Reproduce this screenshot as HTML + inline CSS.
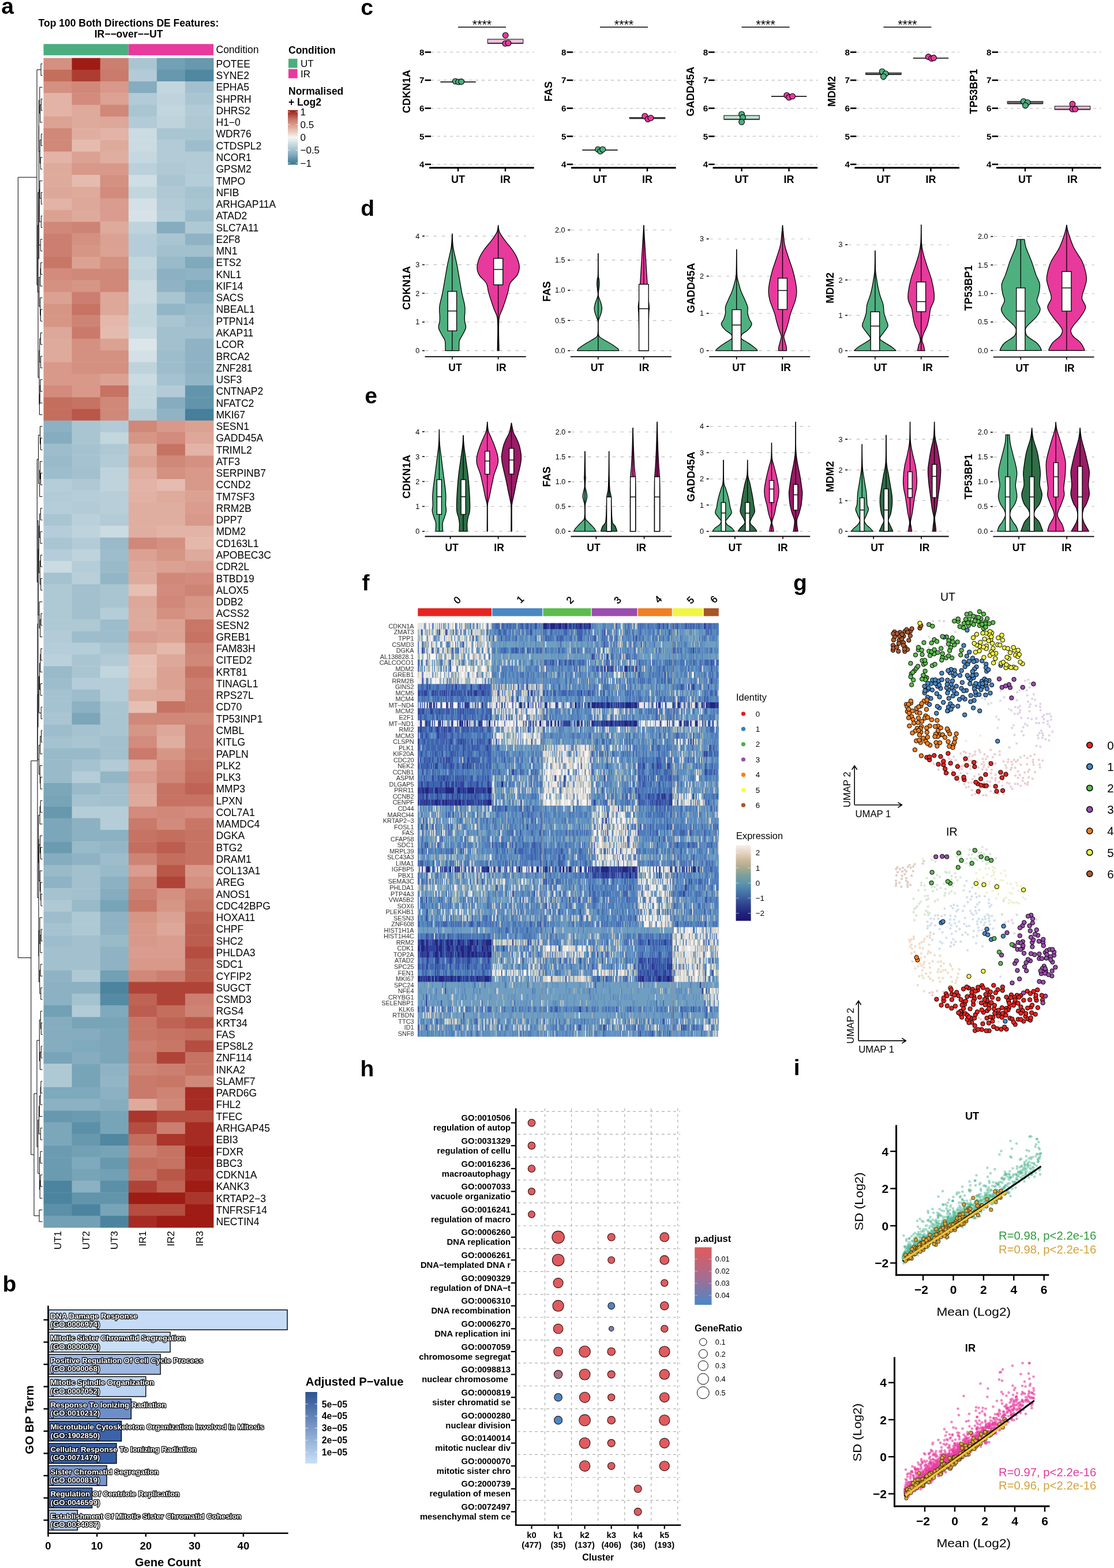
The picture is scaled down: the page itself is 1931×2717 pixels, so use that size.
<!DOCTYPE html>
<html><head><meta charset="utf-8"><title>Figure</title>
<style>
html,body{margin:0;padding:0;background:#fff;}
body{width:1931px;height:2717px;overflow:hidden;}
svg{display:block;font-family:"Liberation Sans", Arial, Helvetica, sans-serif;}
</style></head><body>
<svg width="1931" height="2717" viewBox="0 0 1931 2717">
<rect width="1931" height="2717" fill="#fff"/>
<text x="2.2" y="24.2" font-size="39" font-weight="bold">a</text>
<text x="223" y="46" font-size="17.5" font-weight="bold" text-anchor="middle">Top 100 Both Directions DE Features:</text>
<text x="223" y="65" font-size="17.5" font-weight="bold" text-anchor="middle">IR&#8722;&#8722;over&#8722;&#8722;UT</text>
<rect x="75.5" y="76.3" width="147.2" height="19.5" fill="#4aae7e"/>
<rect x="222.8" y="76.3" width="147.2" height="19.5" fill="#e8399c"/>
<text x="374.5" y="92" font-size="17.5">Condition</text>
<g class="ha" transform="translate(75.5 0)"><rect y="100.5" width="49.5" height="20.7" fill="#d49081"/><rect y="120.8" width="49.5" height="20.7" fill="#c46e5e"/><rect y="141" width="49.5" height="20.7" fill="#d49081"/><rect y="161.3" width="49.5" height="20.7" fill="#e2b3a6"/><rect y="181.6" width="49.5" height="20.7" fill="#e2b3a6"/><rect y="201.8" width="49.5" height="20.7" fill="#dba293"/><rect y="222.1" width="49.5" height="20.7" fill="#d08878"/><rect y="242.4" width="49.5" height="20.7" fill="#d08878"/><rect y="262.6" width="49.5" height="20.7" fill="#e2b3a6"/><rect y="282.9" width="49.5" height="20.7" fill="#deaa9c"/><rect y="303.1" width="49.5" height="20.7" fill="#deaa9c"/><rect y="323.4" width="49.5" height="20.7" fill="#dda799"/><rect y="343.7" width="49.5" height="20.7" fill="#e2b3a6"/><rect y="363.9" width="49.5" height="20.7" fill="#dba293"/><rect y="384.2" width="49.5" height="20.7" fill="#d08878"/><rect y="404.5" width="49.5" height="20.7" fill="#cc7f70"/><rect y="424.7" width="49.5" height="20.7" fill="#cc7f70"/><rect y="445" width="49.5" height="20.7" fill="#c87767"/><rect y="465.3" width="49.5" height="20.7" fill="#d28b7c"/><rect y="485.5" width="49.5" height="20.7" fill="#d49081"/><rect y="505.8" width="49.5" height="20.7" fill="#dba293"/><rect y="526.1" width="49.5" height="20.7" fill="#d69686"/><rect y="546.3" width="49.5" height="20.7" fill="#d69686"/><rect y="566.6" width="49.5" height="20.7" fill="#dda799"/><rect y="586.9" width="49.5" height="20.7" fill="#deaa9c"/><rect y="607.1" width="49.5" height="20.7" fill="#deaa9c"/><rect y="627.4" width="49.5" height="20.7" fill="#d8998a"/><rect y="647.7" width="49.5" height="20.7" fill="#d8998a"/><rect y="667.9" width="49.5" height="20.7" fill="#d28b7c"/><rect y="688.2" width="49.5" height="20.7" fill="#c46e5e"/><rect y="708.5" width="49.5" height="20.7" fill="#c46e5e"/><rect y="728.7" width="49.5" height="20.7" fill="#8bb1c2"/><rect y="749" width="49.5" height="20.7" fill="#85adbf"/><rect y="769.2" width="49.5" height="20.7" fill="#9ebdcc"/><rect y="789.5" width="49.5" height="20.7" fill="#98bac9"/><rect y="809.8" width="49.5" height="20.7" fill="#9ebdcc"/><rect y="830" width="49.5" height="20.7" fill="#b5cdd8"/><rect y="850.3" width="49.5" height="20.7" fill="#b2cbd6"/><rect y="870.6" width="49.5" height="20.7" fill="#b5cdd8"/><rect y="890.8" width="49.5" height="20.7" fill="#aac5d2"/><rect y="911.1" width="49.5" height="20.7" fill="#b5cdd8"/><rect y="931.4" width="49.5" height="20.7" fill="#aac5d2"/><rect y="951.6" width="49.5" height="20.7" fill="#b5cdd8"/><rect y="971.9" width="49.5" height="20.7" fill="#cadbe2"/><rect y="992.2" width="49.5" height="20.7" fill="#a5c2d0"/><rect y="1012.4" width="49.5" height="20.7" fill="#afc9d4"/><rect y="1032.7" width="49.5" height="20.7" fill="#afc9d4"/><rect y="1053" width="49.5" height="20.7" fill="#afc9d4"/><rect y="1073.2" width="49.5" height="20.7" fill="#afc9d4"/><rect y="1093.5" width="49.5" height="20.7" fill="#b2cbd6"/><rect y="1113.8" width="49.5" height="20.7" fill="#b5cdd8"/><rect y="1134" width="49.5" height="20.7" fill="#bad0da"/><rect y="1154.3" width="49.5" height="20.7" fill="#98bac9"/><rect y="1174.5" width="49.5" height="20.7" fill="#9ebdcc"/><rect y="1194.8" width="49.5" height="20.7" fill="#a5c2d0"/><rect y="1215.1" width="49.5" height="20.7" fill="#a5c2d0"/><rect y="1235.3" width="49.5" height="20.7" fill="#aac5d2"/><rect y="1255.6" width="49.5" height="20.7" fill="#9ebdcc"/><rect y="1275.9" width="49.5" height="20.7" fill="#a5c2d0"/><rect y="1296.1" width="49.5" height="20.7" fill="#98bac9"/><rect y="1316.4" width="49.5" height="20.7" fill="#98bac9"/><rect y="1336.7" width="49.5" height="20.7" fill="#98bac9"/><rect y="1356.9" width="49.5" height="20.7" fill="#7ca6ba"/><rect y="1377.2" width="49.5" height="20.7" fill="#78a4b8"/><rect y="1397.5" width="49.5" height="20.7" fill="#6798ae"/><rect y="1417.7" width="49.5" height="20.7" fill="#7ca6ba"/><rect y="1438" width="49.5" height="20.7" fill="#7ca6ba"/><rect y="1458.3" width="49.5" height="20.7" fill="#6b9bb1"/><rect y="1478.5" width="49.5" height="20.7" fill="#85adbf"/><rect y="1498.8" width="49.5" height="20.7" fill="#98bac9"/><rect y="1519" width="49.5" height="20.7" fill="#8fb3c4"/><rect y="1539.3" width="49.5" height="20.7" fill="#a5c2d0"/><rect y="1559.6" width="49.5" height="20.7" fill="#afc9d4"/><rect y="1579.8" width="49.5" height="20.7" fill="#9ebdcc"/><rect y="1600.1" width="49.5" height="20.7" fill="#a5c2d0"/><rect y="1620.4" width="49.5" height="20.7" fill="#9ebdcc"/><rect y="1640.6" width="49.5" height="20.7" fill="#a2c0ce"/><rect y="1660.9" width="49.5" height="20.7" fill="#a2c0ce"/><rect y="1681.2" width="49.5" height="20.7" fill="#8fb3c4"/><rect y="1701.4" width="49.5" height="20.7" fill="#8bb1c2"/><rect y="1721.7" width="49.5" height="20.7" fill="#8bb1c2"/><rect y="1742" width="49.5" height="20.7" fill="#72a0b5"/><rect y="1762.2" width="49.5" height="20.7" fill="#85adbf"/><rect y="1782.5" width="49.5" height="20.7" fill="#85adbf"/><rect y="1802.8" width="49.5" height="20.7" fill="#85adbf"/><rect y="1823" width="49.5" height="20.7" fill="#78a4b8"/><rect y="1843.3" width="49.5" height="20.7" fill="#afc9d4"/><rect y="1863.6" width="49.5" height="20.7" fill="#afc9d4"/><rect y="1883.8" width="49.5" height="20.7" fill="#7fa9bc"/><rect y="1904.1" width="49.5" height="20.7" fill="#8bb1c2"/><rect y="1924.4" width="49.5" height="20.7" fill="#6798ae"/><rect y="1944.6" width="49.5" height="20.7" fill="#7ca6ba"/><rect y="1964.9" width="49.5" height="20.7" fill="#7ca6ba"/><rect y="1985.1" width="49.5" height="20.7" fill="#6b9bb1"/><rect y="2005.4" width="49.5" height="20.7" fill="#6b9bb1"/><rect y="2025.7" width="49.5" height="20.7" fill="#6b9bb1"/><rect y="2045.9" width="49.5" height="20.7" fill="#4c849f"/><rect y="2066.2" width="49.5" height="20.7" fill="#4c849f"/><rect y="2086.5" width="49.5" height="20.7" fill="#5c90a8"/><rect y="2106.7" width="49.5" height="20.7" fill="#72a0b5"/></g>
<g class="ha" transform="translate(124.6 0)"><rect y="100.5" width="49.5" height="20.7" fill="#9e1c14"/><rect y="120.8" width="49.5" height="20.7" fill="#ad3d32"/><rect y="141" width="49.5" height="20.7" fill="#d08878"/><rect y="161.3" width="49.5" height="20.7" fill="#d28b7c"/><rect y="181.6" width="49.5" height="20.7" fill="#deaa9c"/><rect y="201.8" width="49.5" height="20.7" fill="#deaa9c"/><rect y="222.1" width="49.5" height="20.7" fill="#e0aea0"/><rect y="242.4" width="49.5" height="20.7" fill="#e5bbaf"/><rect y="262.6" width="49.5" height="20.7" fill="#dba293"/><rect y="282.9" width="49.5" height="20.7" fill="#d8998a"/><rect y="303.1" width="49.5" height="20.7" fill="#e5bbaf"/><rect y="323.4" width="49.5" height="20.7" fill="#deaa9c"/><rect y="343.7" width="49.5" height="20.7" fill="#dda799"/><rect y="363.9" width="49.5" height="20.7" fill="#deaa9c"/><rect y="384.2" width="49.5" height="20.7" fill="#ce8475"/><rect y="404.5" width="49.5" height="20.7" fill="#d49081"/><rect y="424.7" width="49.5" height="20.7" fill="#d69686"/><rect y="445" width="49.5" height="20.7" fill="#dba293"/><rect y="465.3" width="49.5" height="20.7" fill="#d08878"/><rect y="485.5" width="49.5" height="20.7" fill="#d69686"/><rect y="505.8" width="49.5" height="20.7" fill="#cc7f70"/><rect y="526.1" width="49.5" height="20.7" fill="#c67363"/><rect y="546.3" width="49.5" height="20.7" fill="#ce8475"/><rect y="566.6" width="49.5" height="20.7" fill="#ca7a6a"/><rect y="586.9" width="49.5" height="20.7" fill="#d49081"/><rect y="607.1" width="49.5" height="20.7" fill="#d49081"/><rect y="627.4" width="49.5" height="20.7" fill="#d49081"/><rect y="647.7" width="49.5" height="20.7" fill="#d8998a"/><rect y="667.9" width="49.5" height="20.7" fill="#d8998a"/><rect y="688.2" width="49.5" height="20.7" fill="#c67363"/><rect y="708.5" width="49.5" height="20.7" fill="#b95749"/><rect y="728.7" width="49.5" height="20.7" fill="#aac5d2"/><rect y="749" width="49.5" height="20.7" fill="#aac5d2"/><rect y="769.2" width="49.5" height="20.7" fill="#a5c2d0"/><rect y="789.5" width="49.5" height="20.7" fill="#a5c2d0"/><rect y="809.8" width="49.5" height="20.7" fill="#a2c0ce"/><rect y="830" width="49.5" height="20.7" fill="#afc9d4"/><rect y="850.3" width="49.5" height="20.7" fill="#b5cdd8"/><rect y="870.6" width="49.5" height="20.7" fill="#b2cbd6"/><rect y="890.8" width="49.5" height="20.7" fill="#bad0da"/><rect y="911.1" width="49.5" height="20.7" fill="#bfd3dc"/><rect y="931.4" width="49.5" height="20.7" fill="#b2cbd6"/><rect y="951.6" width="49.5" height="20.7" fill="#bfd3dc"/><rect y="971.9" width="49.5" height="20.7" fill="#b5cdd8"/><rect y="992.2" width="49.5" height="20.7" fill="#b8cfd9"/><rect y="1012.4" width="49.5" height="20.7" fill="#a2c0ce"/><rect y="1032.7" width="49.5" height="20.7" fill="#a2c0ce"/><rect y="1053" width="49.5" height="20.7" fill="#a2c0ce"/><rect y="1073.2" width="49.5" height="20.7" fill="#afc9d4"/><rect y="1093.5" width="49.5" height="20.7" fill="#9ebdcc"/><rect y="1113.8" width="49.5" height="20.7" fill="#b5cdd8"/><rect y="1134" width="49.5" height="20.7" fill="#aac5d2"/><rect y="1154.3" width="49.5" height="20.7" fill="#aac5d2"/><rect y="1174.5" width="49.5" height="20.7" fill="#b5cdd8"/><rect y="1194.8" width="49.5" height="20.7" fill="#9ebdcc"/><rect y="1215.1" width="49.5" height="20.7" fill="#8bb1c2"/><rect y="1235.3" width="49.5" height="20.7" fill="#7ca6ba"/><rect y="1255.6" width="49.5" height="20.7" fill="#a5c2d0"/><rect y="1275.9" width="49.5" height="20.7" fill="#aac5d2"/><rect y="1296.1" width="49.5" height="20.7" fill="#98bac9"/><rect y="1316.4" width="49.5" height="20.7" fill="#a5c2d0"/><rect y="1336.7" width="49.5" height="20.7" fill="#b5cdd8"/><rect y="1356.9" width="49.5" height="20.7" fill="#98bac9"/><rect y="1377.2" width="49.5" height="20.7" fill="#a5c2d0"/><rect y="1397.5" width="49.5" height="20.7" fill="#b5cdd8"/><rect y="1417.7" width="49.5" height="20.7" fill="#8bb1c2"/><rect y="1438" width="49.5" height="20.7" fill="#8bb1c2"/><rect y="1458.3" width="49.5" height="20.7" fill="#98bac9"/><rect y="1478.5" width="49.5" height="20.7" fill="#8fb3c4"/><rect y="1498.8" width="49.5" height="20.7" fill="#a2c0ce"/><rect y="1519" width="49.5" height="20.7" fill="#a2c0ce"/><rect y="1539.3" width="49.5" height="20.7" fill="#a2c0ce"/><rect y="1559.6" width="49.5" height="20.7" fill="#98bac9"/><rect y="1579.8" width="49.5" height="20.7" fill="#afc9d4"/><rect y="1600.1" width="49.5" height="20.7" fill="#afc9d4"/><rect y="1620.4" width="49.5" height="20.7" fill="#a2c0ce"/><rect y="1640.6" width="49.5" height="20.7" fill="#a2c0ce"/><rect y="1660.9" width="49.5" height="20.7" fill="#a2c0ce"/><rect y="1681.2" width="49.5" height="20.7" fill="#afc9d4"/><rect y="1701.4" width="49.5" height="20.7" fill="#8bb1c2"/><rect y="1721.7" width="49.5" height="20.7" fill="#a5c2d0"/><rect y="1742" width="49.5" height="20.7" fill="#b2cbd6"/><rect y="1762.2" width="49.5" height="20.7" fill="#78a4b8"/><rect y="1782.5" width="49.5" height="20.7" fill="#85adbf"/><rect y="1802.8" width="49.5" height="20.7" fill="#7fa9bc"/><rect y="1823" width="49.5" height="20.7" fill="#85adbf"/><rect y="1843.3" width="49.5" height="20.7" fill="#78a4b8"/><rect y="1863.6" width="49.5" height="20.7" fill="#78a4b8"/><rect y="1883.8" width="49.5" height="20.7" fill="#7fa9bc"/><rect y="1904.1" width="49.5" height="20.7" fill="#8bb1c2"/><rect y="1924.4" width="49.5" height="20.7" fill="#6b9bb1"/><rect y="1944.6" width="49.5" height="20.7" fill="#5c90a8"/><rect y="1964.9" width="49.5" height="20.7" fill="#6798ae"/><rect y="1985.1" width="49.5" height="20.7" fill="#72a0b5"/><rect y="2005.4" width="49.5" height="20.7" fill="#7fa9bc"/><rect y="2025.7" width="49.5" height="20.7" fill="#78a4b8"/><rect y="2045.9" width="49.5" height="20.7" fill="#8bb1c2"/><rect y="2066.2" width="49.5" height="20.7" fill="#6295ac"/><rect y="2086.5" width="49.5" height="20.7" fill="#4c849f"/><rect y="2106.7" width="49.5" height="20.7" fill="#72a0b5"/></g>
<g class="ha" transform="translate(173.7 0)"><rect y="100.5" width="49.5" height="20.7" fill="#cc7f70"/><rect y="120.8" width="49.5" height="20.7" fill="#ca7a6a"/><rect y="141" width="49.5" height="20.7" fill="#d8998a"/><rect y="161.3" width="49.5" height="20.7" fill="#dba293"/><rect y="181.6" width="49.5" height="20.7" fill="#d08878"/><rect y="201.8" width="49.5" height="20.7" fill="#dda799"/><rect y="222.1" width="49.5" height="20.7" fill="#e2b3a6"/><rect y="242.4" width="49.5" height="20.7" fill="#deaa9c"/><rect y="262.6" width="49.5" height="20.7" fill="#e0aea0"/><rect y="282.9" width="49.5" height="20.7" fill="#d8998a"/><rect y="303.1" width="49.5" height="20.7" fill="#d49081"/><rect y="323.4" width="49.5" height="20.7" fill="#d28b7c"/><rect y="343.7" width="49.5" height="20.7" fill="#d99c8e"/><rect y="363.9" width="49.5" height="20.7" fill="#d99c8e"/><rect y="384.2" width="49.5" height="20.7" fill="#deaa9c"/><rect y="404.5" width="49.5" height="20.7" fill="#dba293"/><rect y="424.7" width="49.5" height="20.7" fill="#dba293"/><rect y="445" width="49.5" height="20.7" fill="#d49081"/><rect y="465.3" width="49.5" height="20.7" fill="#d08878"/><rect y="485.5" width="49.5" height="20.7" fill="#d08878"/><rect y="505.8" width="49.5" height="20.7" fill="#dda799"/><rect y="526.1" width="49.5" height="20.7" fill="#dda799"/><rect y="546.3" width="49.5" height="20.7" fill="#e4b8ab"/><rect y="566.6" width="49.5" height="20.7" fill="#e5bbaf"/><rect y="586.9" width="49.5" height="20.7" fill="#dba293"/><rect y="607.1" width="49.5" height="20.7" fill="#d49081"/><rect y="627.4" width="49.5" height="20.7" fill="#d49081"/><rect y="647.7" width="49.5" height="20.7" fill="#dba293"/><rect y="667.9" width="49.5" height="20.7" fill="#c67363"/><rect y="688.2" width="49.5" height="20.7" fill="#d08878"/><rect y="708.5" width="49.5" height="20.7" fill="#d08878"/><rect y="728.7" width="49.5" height="20.7" fill="#b2cbd6"/><rect y="749" width="49.5" height="20.7" fill="#c2d6de"/><rect y="769.2" width="49.5" height="20.7" fill="#afc9d4"/><rect y="789.5" width="49.5" height="20.7" fill="#b2cbd6"/><rect y="809.8" width="49.5" height="20.7" fill="#bfd3dc"/><rect y="830" width="49.5" height="20.7" fill="#bfd3dc"/><rect y="850.3" width="49.5" height="20.7" fill="#b8cfd9"/><rect y="870.6" width="49.5" height="20.7" fill="#b8cfd9"/><rect y="890.8" width="49.5" height="20.7" fill="#b2cbd6"/><rect y="911.1" width="49.5" height="20.7" fill="#cadbe2"/><rect y="931.4" width="49.5" height="20.7" fill="#98bac9"/><rect y="951.6" width="49.5" height="20.7" fill="#9ebdcc"/><rect y="971.9" width="49.5" height="20.7" fill="#98bac9"/><rect y="992.2" width="49.5" height="20.7" fill="#93b6c6"/><rect y="1012.4" width="49.5" height="20.7" fill="#aac5d2"/><rect y="1032.7" width="49.5" height="20.7" fill="#aac5d2"/><rect y="1053" width="49.5" height="20.7" fill="#b5cdd8"/><rect y="1073.2" width="49.5" height="20.7" fill="#9ebdcc"/><rect y="1093.5" width="49.5" height="20.7" fill="#9ebdcc"/><rect y="1113.8" width="49.5" height="20.7" fill="#aac5d2"/><rect y="1134" width="49.5" height="20.7" fill="#b2cbd6"/><rect y="1154.3" width="49.5" height="20.7" fill="#c2d6de"/><rect y="1174.5" width="49.5" height="20.7" fill="#b5cdd8"/><rect y="1194.8" width="49.5" height="20.7" fill="#b5cdd8"/><rect y="1215.1" width="49.5" height="20.7" fill="#aac5d2"/><rect y="1235.3" width="49.5" height="20.7" fill="#aac5d2"/><rect y="1255.6" width="49.5" height="20.7" fill="#aac5d2"/><rect y="1275.9" width="49.5" height="20.7" fill="#a2c0ce"/><rect y="1296.1" width="49.5" height="20.7" fill="#a2c0ce"/><rect y="1316.4" width="49.5" height="20.7" fill="#b2cbd6"/><rect y="1336.7" width="49.5" height="20.7" fill="#93b6c6"/><rect y="1356.9" width="49.5" height="20.7" fill="#a2c0ce"/><rect y="1377.2" width="49.5" height="20.7" fill="#a2c0ce"/><rect y="1397.5" width="49.5" height="20.7" fill="#b5cdd8"/><rect y="1417.7" width="49.5" height="20.7" fill="#b5cdd8"/><rect y="1438" width="49.5" height="20.7" fill="#8bb1c2"/><rect y="1458.3" width="49.5" height="20.7" fill="#93b6c6"/><rect y="1478.5" width="49.5" height="20.7" fill="#9ebdcc"/><rect y="1498.8" width="49.5" height="20.7" fill="#98bac9"/><rect y="1519" width="49.5" height="20.7" fill="#8bb1c2"/><rect y="1539.3" width="49.5" height="20.7" fill="#85adbf"/><rect y="1559.6" width="49.5" height="20.7" fill="#78a4b8"/><rect y="1579.8" width="49.5" height="20.7" fill="#8fb3c4"/><rect y="1600.1" width="49.5" height="20.7" fill="#8fb3c4"/><rect y="1620.4" width="49.5" height="20.7" fill="#98bac9"/><rect y="1640.6" width="49.5" height="20.7" fill="#8fb3c4"/><rect y="1660.9" width="49.5" height="20.7" fill="#8fb3c4"/><rect y="1681.2" width="49.5" height="20.7" fill="#72a0b5"/><rect y="1701.4" width="49.5" height="20.7" fill="#4c849f"/><rect y="1721.7" width="49.5" height="20.7" fill="#558ba4"/><rect y="1742" width="49.5" height="20.7" fill="#7fa9bc"/><rect y="1762.2" width="49.5" height="20.7" fill="#78a4b8"/><rect y="1782.5" width="49.5" height="20.7" fill="#7ca6ba"/><rect y="1802.8" width="49.5" height="20.7" fill="#7ca6ba"/><rect y="1823" width="49.5" height="20.7" fill="#7ca6ba"/><rect y="1843.3" width="49.5" height="20.7" fill="#8fb3c4"/><rect y="1863.6" width="49.5" height="20.7" fill="#93b6c6"/><rect y="1883.8" width="49.5" height="20.7" fill="#8bb1c2"/><rect y="1904.1" width="49.5" height="20.7" fill="#85adbf"/><rect y="1924.4" width="49.5" height="20.7" fill="#78a4b8"/><rect y="1944.6" width="49.5" height="20.7" fill="#78a4b8"/><rect y="1964.9" width="49.5" height="20.7" fill="#5087a1"/><rect y="1985.1" width="49.5" height="20.7" fill="#78a4b8"/><rect y="2005.4" width="49.5" height="20.7" fill="#6798ae"/><rect y="2025.7" width="49.5" height="20.7" fill="#72a0b5"/><rect y="2045.9" width="49.5" height="20.7" fill="#5c90a8"/><rect y="2066.2" width="49.5" height="20.7" fill="#6295ac"/><rect y="2086.5" width="49.5" height="20.7" fill="#78a4b8"/><rect y="2106.7" width="49.5" height="20.7" fill="#4c849f"/></g>
<g class="ha" transform="translate(222.8 0)"><rect y="100.5" width="49.5" height="20.7" fill="#aac5d2"/><rect y="120.8" width="49.5" height="20.7" fill="#b2cbd6"/><rect y="141" width="49.5" height="20.7" fill="#85adbf"/><rect y="161.3" width="49.5" height="20.7" fill="#b2cbd6"/><rect y="181.6" width="49.5" height="20.7" fill="#aac5d2"/><rect y="201.8" width="49.5" height="20.7" fill="#b2cbd6"/><rect y="222.1" width="49.5" height="20.7" fill="#cadbe2"/><rect y="242.4" width="49.5" height="20.7" fill="#cadbe2"/><rect y="262.6" width="49.5" height="20.7" fill="#c5d8e0"/><rect y="282.9" width="49.5" height="20.7" fill="#bad0da"/><rect y="303.1" width="49.5" height="20.7" fill="#cfdee4"/><rect y="323.4" width="49.5" height="20.7" fill="#c2d6de"/><rect y="343.7" width="49.5" height="20.7" fill="#d3e0e5"/><rect y="363.9" width="49.5" height="20.7" fill="#d6e2e7"/><rect y="384.2" width="49.5" height="20.7" fill="#bfd3dc"/><rect y="404.5" width="49.5" height="20.7" fill="#b5cdd8"/><rect y="424.7" width="49.5" height="20.7" fill="#b5cdd8"/><rect y="445" width="49.5" height="20.7" fill="#c2d6de"/><rect y="465.3" width="49.5" height="20.7" fill="#bfd3dc"/><rect y="485.5" width="49.5" height="20.7" fill="#cadbe2"/><rect y="505.8" width="49.5" height="20.7" fill="#cadbe2"/><rect y="526.1" width="49.5" height="20.7" fill="#c2d6de"/><rect y="546.3" width="49.5" height="20.7" fill="#c2d6de"/><rect y="566.6" width="49.5" height="20.7" fill="#cadbe2"/><rect y="586.9" width="49.5" height="20.7" fill="#dce5e9"/><rect y="607.1" width="49.5" height="20.7" fill="#d3e0e5"/><rect y="627.4" width="49.5" height="20.7" fill="#bfd3dc"/><rect y="647.7" width="49.5" height="20.7" fill="#cadbe2"/><rect y="667.9" width="49.5" height="20.7" fill="#c2d6de"/><rect y="688.2" width="49.5" height="20.7" fill="#c2d6de"/><rect y="708.5" width="49.5" height="20.7" fill="#b5cdd8"/><rect y="728.7" width="49.5" height="20.7" fill="#d08878"/><rect y="749" width="49.5" height="20.7" fill="#d69686"/><rect y="769.2" width="49.5" height="20.7" fill="#deaa9c"/><rect y="789.5" width="49.5" height="20.7" fill="#dba293"/><rect y="809.8" width="49.5" height="20.7" fill="#e0aea0"/><rect y="830" width="49.5" height="20.7" fill="#e2b3a6"/><rect y="850.3" width="49.5" height="20.7" fill="#e1b1a4"/><rect y="870.6" width="49.5" height="20.7" fill="#e0aea0"/><rect y="890.8" width="49.5" height="20.7" fill="#e0aea0"/><rect y="911.1" width="49.5" height="20.7" fill="#e0aea0"/><rect y="931.4" width="49.5" height="20.7" fill="#d08878"/><rect y="951.6" width="49.5" height="20.7" fill="#dba293"/><rect y="971.9" width="49.5" height="20.7" fill="#dda799"/><rect y="992.2" width="49.5" height="20.7" fill="#deaa9c"/><rect y="1012.4" width="49.5" height="20.7" fill="#e6bfb2"/><rect y="1032.7" width="49.5" height="20.7" fill="#dda799"/><rect y="1053" width="49.5" height="20.7" fill="#deaa9c"/><rect y="1073.2" width="49.5" height="20.7" fill="#deaa9c"/><rect y="1093.5" width="49.5" height="20.7" fill="#d99c8e"/><rect y="1113.8" width="49.5" height="20.7" fill="#deaa9c"/><rect y="1134" width="49.5" height="20.7" fill="#e6bfb2"/><rect y="1154.3" width="49.5" height="20.7" fill="#e6bfb2"/><rect y="1174.5" width="49.5" height="20.7" fill="#e4b8ab"/><rect y="1194.8" width="49.5" height="20.7" fill="#deaa9c"/><rect y="1215.1" width="49.5" height="20.7" fill="#e6bfb2"/><rect y="1235.3" width="49.5" height="20.7" fill="#d08878"/><rect y="1255.6" width="49.5" height="20.7" fill="#d69686"/><rect y="1275.9" width="49.5" height="20.7" fill="#d28b7c"/><rect y="1296.1" width="49.5" height="20.7" fill="#ca7a6a"/><rect y="1316.4" width="49.5" height="20.7" fill="#dda799"/><rect y="1336.7" width="49.5" height="20.7" fill="#d99c8e"/><rect y="1356.9" width="49.5" height="20.7" fill="#dda799"/><rect y="1377.2" width="49.5" height="20.7" fill="#deaa9c"/><rect y="1397.5" width="49.5" height="20.7" fill="#d28b7c"/><rect y="1417.7" width="49.5" height="20.7" fill="#ca7a6a"/><rect y="1438" width="49.5" height="20.7" fill="#c67363"/><rect y="1458.3" width="49.5" height="20.7" fill="#c46e5e"/><rect y="1478.5" width="49.5" height="20.7" fill="#ce8475"/><rect y="1498.8" width="49.5" height="20.7" fill="#d99c8e"/><rect y="1519" width="49.5" height="20.7" fill="#d08878"/><rect y="1539.3" width="49.5" height="20.7" fill="#cc7f70"/><rect y="1559.6" width="49.5" height="20.7" fill="#c87767"/><rect y="1579.8" width="49.5" height="20.7" fill="#d69686"/><rect y="1600.1" width="49.5" height="20.7" fill="#d8998a"/><rect y="1620.4" width="49.5" height="20.7" fill="#d8998a"/><rect y="1640.6" width="49.5" height="20.7" fill="#d99c8e"/><rect y="1660.9" width="49.5" height="20.7" fill="#d8998a"/><rect y="1681.2" width="49.5" height="20.7" fill="#d08878"/><rect y="1701.4" width="49.5" height="20.7" fill="#b04338"/><rect y="1721.7" width="49.5" height="20.7" fill="#bf6455"/><rect y="1742" width="49.5" height="20.7" fill="#bc5e4f"/><rect y="1762.2" width="49.5" height="20.7" fill="#c87767"/><rect y="1782.5" width="49.5" height="20.7" fill="#c87767"/><rect y="1802.8" width="49.5" height="20.7" fill="#cc7f70"/><rect y="1823" width="49.5" height="20.7" fill="#ca7a6a"/><rect y="1843.3" width="49.5" height="20.7" fill="#ce8475"/><rect y="1863.6" width="49.5" height="20.7" fill="#ca7a6a"/><rect y="1883.8" width="49.5" height="20.7" fill="#ca7a6a"/><rect y="1904.1" width="49.5" height="20.7" fill="#deaa9c"/><rect y="1924.4" width="49.5" height="20.7" fill="#aa362c"/><rect y="1944.6" width="49.5" height="20.7" fill="#b54d40"/><rect y="1964.9" width="49.5" height="20.7" fill="#c46e5e"/><rect y="1985.1" width="49.5" height="20.7" fill="#cc7f70"/><rect y="2005.4" width="49.5" height="20.7" fill="#c46e5e"/><rect y="2025.7" width="49.5" height="20.7" fill="#c67363"/><rect y="2045.9" width="49.5" height="20.7" fill="#b04338"/><rect y="2066.2" width="49.5" height="20.7" fill="#9e1c14"/><rect y="2086.5" width="49.5" height="20.7" fill="#b54d40"/><rect y="2106.7" width="49.5" height="20.7" fill="#a62c23"/></g>
<g class="ha" transform="translate(271.8 0)"><rect y="100.5" width="49.5" height="20.7" fill="#72a0b5"/><rect y="120.8" width="49.5" height="20.7" fill="#6798ae"/><rect y="141" width="49.5" height="20.7" fill="#c2d6de"/><rect y="161.3" width="49.5" height="20.7" fill="#bfd3dc"/><rect y="181.6" width="49.5" height="20.7" fill="#c2d6de"/><rect y="201.8" width="49.5" height="20.7" fill="#bfd3dc"/><rect y="222.1" width="49.5" height="20.7" fill="#aac5d2"/><rect y="242.4" width="49.5" height="20.7" fill="#b2cbd6"/><rect y="262.6" width="49.5" height="20.7" fill="#b2cbd6"/><rect y="282.9" width="49.5" height="20.7" fill="#afc9d4"/><rect y="303.1" width="49.5" height="20.7" fill="#aac5d2"/><rect y="323.4" width="49.5" height="20.7" fill="#afc9d4"/><rect y="343.7" width="49.5" height="20.7" fill="#b2cbd6"/><rect y="363.9" width="49.5" height="20.7" fill="#b5cdd8"/><rect y="384.2" width="49.5" height="20.7" fill="#85adbf"/><rect y="404.5" width="49.5" height="20.7" fill="#aac5d2"/><rect y="424.7" width="49.5" height="20.7" fill="#a2c0ce"/><rect y="445" width="49.5" height="20.7" fill="#98bac9"/><rect y="465.3" width="49.5" height="20.7" fill="#8bb1c2"/><rect y="485.5" width="49.5" height="20.7" fill="#8fb3c4"/><rect y="505.8" width="49.5" height="20.7" fill="#aac5d2"/><rect y="526.1" width="49.5" height="20.7" fill="#93b6c6"/><rect y="546.3" width="49.5" height="20.7" fill="#aac5d2"/><rect y="566.6" width="49.5" height="20.7" fill="#a2c0ce"/><rect y="586.9" width="49.5" height="20.7" fill="#a2c0ce"/><rect y="607.1" width="49.5" height="20.7" fill="#9ebdcc"/><rect y="627.4" width="49.5" height="20.7" fill="#9ebdcc"/><rect y="647.7" width="49.5" height="20.7" fill="#a5c2d0"/><rect y="667.9" width="49.5" height="20.7" fill="#b2cbd6"/><rect y="688.2" width="49.5" height="20.7" fill="#85adbf"/><rect y="708.5" width="49.5" height="20.7" fill="#8fb3c4"/><rect y="728.7" width="49.5" height="20.7" fill="#d8998a"/><rect y="749" width="49.5" height="20.7" fill="#d28b7c"/><rect y="769.2" width="49.5" height="20.7" fill="#c67363"/><rect y="789.5" width="49.5" height="20.7" fill="#d08878"/><rect y="809.8" width="49.5" height="20.7" fill="#d49081"/><rect y="830" width="49.5" height="20.7" fill="#e5bbaf"/><rect y="850.3" width="49.5" height="20.7" fill="#deaa9c"/><rect y="870.6" width="49.5" height="20.7" fill="#e0aea0"/><rect y="890.8" width="49.5" height="20.7" fill="#e0aea0"/><rect y="911.1" width="49.5" height="20.7" fill="#e2b3a6"/><rect y="931.4" width="49.5" height="20.7" fill="#d49081"/><rect y="951.6" width="49.5" height="20.7" fill="#d69686"/><rect y="971.9" width="49.5" height="20.7" fill="#dba293"/><rect y="992.2" width="49.5" height="20.7" fill="#d08878"/><rect y="1012.4" width="49.5" height="20.7" fill="#d28b7c"/><rect y="1032.7" width="49.5" height="20.7" fill="#d08878"/><rect y="1053" width="49.5" height="20.7" fill="#d49081"/><rect y="1073.2" width="49.5" height="20.7" fill="#dba293"/><rect y="1093.5" width="49.5" height="20.7" fill="#dba293"/><rect y="1113.8" width="49.5" height="20.7" fill="#e4b8ab"/><rect y="1134" width="49.5" height="20.7" fill="#dda799"/><rect y="1154.3" width="49.5" height="20.7" fill="#dba293"/><rect y="1174.5" width="49.5" height="20.7" fill="#dba293"/><rect y="1194.8" width="49.5" height="20.7" fill="#dda799"/><rect y="1215.1" width="49.5" height="20.7" fill="#c67363"/><rect y="1235.3" width="49.5" height="20.7" fill="#d08878"/><rect y="1255.6" width="49.5" height="20.7" fill="#dda799"/><rect y="1275.9" width="49.5" height="20.7" fill="#e0aea0"/><rect y="1296.1" width="49.5" height="20.7" fill="#d69686"/><rect y="1316.4" width="49.5" height="20.7" fill="#d28b7c"/><rect y="1336.7" width="49.5" height="20.7" fill="#d08878"/><rect y="1356.9" width="49.5" height="20.7" fill="#c67363"/><rect y="1377.2" width="49.5" height="20.7" fill="#c67363"/><rect y="1397.5" width="49.5" height="20.7" fill="#d08878"/><rect y="1417.7" width="49.5" height="20.7" fill="#d28b7c"/><rect y="1438" width="49.5" height="20.7" fill="#c46e5e"/><rect y="1458.3" width="49.5" height="20.7" fill="#bc5e4f"/><rect y="1478.5" width="49.5" height="20.7" fill="#c46e5e"/><rect y="1498.8" width="49.5" height="20.7" fill="#b95749"/><rect y="1519" width="49.5" height="20.7" fill="#b04338"/><rect y="1539.3" width="49.5" height="20.7" fill="#d49081"/><rect y="1559.6" width="49.5" height="20.7" fill="#d69686"/><rect y="1579.8" width="49.5" height="20.7" fill="#dba293"/><rect y="1600.1" width="49.5" height="20.7" fill="#dda799"/><rect y="1620.4" width="49.5" height="20.7" fill="#d99c8e"/><rect y="1640.6" width="49.5" height="20.7" fill="#d99c8e"/><rect y="1660.9" width="49.5" height="20.7" fill="#d8998a"/><rect y="1681.2" width="49.5" height="20.7" fill="#cc7f70"/><rect y="1701.4" width="49.5" height="20.7" fill="#b04338"/><rect y="1721.7" width="49.5" height="20.7" fill="#b04338"/><rect y="1742" width="49.5" height="20.7" fill="#c46e5e"/><rect y="1762.2" width="49.5" height="20.7" fill="#bf6455"/><rect y="1782.5" width="49.5" height="20.7" fill="#c67363"/><rect y="1802.8" width="49.5" height="20.7" fill="#c87767"/><rect y="1823" width="49.5" height="20.7" fill="#b04338"/><rect y="1843.3" width="49.5" height="20.7" fill="#cc7f70"/><rect y="1863.6" width="49.5" height="20.7" fill="#c87767"/><rect y="1883.8" width="49.5" height="20.7" fill="#ce8475"/><rect y="1904.1" width="49.5" height="20.7" fill="#d08878"/><rect y="1924.4" width="49.5" height="20.7" fill="#b54d40"/><rect y="1944.6" width="49.5" height="20.7" fill="#cc7f70"/><rect y="1964.9" width="49.5" height="20.7" fill="#aa362c"/><rect y="1985.1" width="49.5" height="20.7" fill="#c67363"/><rect y="2005.4" width="49.5" height="20.7" fill="#c67363"/><rect y="2025.7" width="49.5" height="20.7" fill="#b95749"/><rect y="2045.9" width="49.5" height="20.7" fill="#bf6455"/><rect y="2066.2" width="49.5" height="20.7" fill="#9e1c14"/><rect y="2086.5" width="49.5" height="20.7" fill="#b54d40"/><rect y="2106.7" width="49.5" height="20.7" fill="#9e1c14"/></g>
<g class="ha" transform="translate(320.9 0)"><rect y="100.5" width="49.5" height="20.7" fill="#6798ae"/><rect y="120.8" width="49.5" height="20.7" fill="#5087a1"/><rect y="141" width="49.5" height="20.7" fill="#a2c0ce"/><rect y="161.3" width="49.5" height="20.7" fill="#aac5d2"/><rect y="181.6" width="49.5" height="20.7" fill="#b2cbd6"/><rect y="201.8" width="49.5" height="20.7" fill="#afc9d4"/><rect y="222.1" width="49.5" height="20.7" fill="#aac5d2"/><rect y="242.4" width="49.5" height="20.7" fill="#9ebdcc"/><rect y="262.6" width="49.5" height="20.7" fill="#b2cbd6"/><rect y="282.9" width="49.5" height="20.7" fill="#b2cbd6"/><rect y="303.1" width="49.5" height="20.7" fill="#b5cdd8"/><rect y="323.4" width="49.5" height="20.7" fill="#a5c2d0"/><rect y="343.7" width="49.5" height="20.7" fill="#aac5d2"/><rect y="363.9" width="49.5" height="20.7" fill="#9ebdcc"/><rect y="384.2" width="49.5" height="20.7" fill="#afc9d4"/><rect y="404.5" width="49.5" height="20.7" fill="#8fb3c4"/><rect y="424.7" width="49.5" height="20.7" fill="#a2c0ce"/><rect y="445" width="49.5" height="20.7" fill="#7fa9bc"/><rect y="465.3" width="49.5" height="20.7" fill="#8fb3c4"/><rect y="485.5" width="49.5" height="20.7" fill="#7fa9bc"/><rect y="505.8" width="49.5" height="20.7" fill="#8bb1c2"/><rect y="526.1" width="49.5" height="20.7" fill="#98bac9"/><rect y="546.3" width="49.5" height="20.7" fill="#9ebdcc"/><rect y="566.6" width="49.5" height="20.7" fill="#a2c0ce"/><rect y="586.9" width="49.5" height="20.7" fill="#8fb3c4"/><rect y="607.1" width="49.5" height="20.7" fill="#8fb3c4"/><rect y="627.4" width="49.5" height="20.7" fill="#8fb3c4"/><rect y="647.7" width="49.5" height="20.7" fill="#93b6c6"/><rect y="667.9" width="49.5" height="20.7" fill="#6295ac"/><rect y="688.2" width="49.5" height="20.7" fill="#6295ac"/><rect y="708.5" width="49.5" height="20.7" fill="#457f9b"/><rect y="728.7" width="49.5" height="20.7" fill="#dba293"/><rect y="749" width="49.5" height="20.7" fill="#dda799"/><rect y="769.2" width="49.5" height="20.7" fill="#e2b3a6"/><rect y="789.5" width="49.5" height="20.7" fill="#d49081"/><rect y="809.8" width="49.5" height="20.7" fill="#d8998a"/><rect y="830" width="49.5" height="20.7" fill="#d8998a"/><rect y="850.3" width="49.5" height="20.7" fill="#dba293"/><rect y="870.6" width="49.5" height="20.7" fill="#d99c8e"/><rect y="890.8" width="49.5" height="20.7" fill="#d8998a"/><rect y="911.1" width="49.5" height="20.7" fill="#e2b3a6"/><rect y="931.4" width="49.5" height="20.7" fill="#e4b8ab"/><rect y="951.6" width="49.5" height="20.7" fill="#deaa9c"/><rect y="971.9" width="49.5" height="20.7" fill="#d99c8e"/><rect y="992.2" width="49.5" height="20.7" fill="#d28b7c"/><rect y="1012.4" width="49.5" height="20.7" fill="#ce8475"/><rect y="1032.7" width="49.5" height="20.7" fill="#d69686"/><rect y="1053" width="49.5" height="20.7" fill="#d8998a"/><rect y="1073.2" width="49.5" height="20.7" fill="#c87767"/><rect y="1093.5" width="49.5" height="20.7" fill="#c67363"/><rect y="1113.8" width="49.5" height="20.7" fill="#ce8475"/><rect y="1134" width="49.5" height="20.7" fill="#d08878"/><rect y="1154.3" width="49.5" height="20.7" fill="#c67363"/><rect y="1174.5" width="49.5" height="20.7" fill="#cc7f70"/><rect y="1194.8" width="49.5" height="20.7" fill="#ca7a6a"/><rect y="1215.1" width="49.5" height="20.7" fill="#ca7a6a"/><rect y="1235.3" width="49.5" height="20.7" fill="#d08878"/><rect y="1255.6" width="49.5" height="20.7" fill="#cc7f70"/><rect y="1275.9" width="49.5" height="20.7" fill="#cc7f70"/><rect y="1296.1" width="49.5" height="20.7" fill="#ca7a6a"/><rect y="1316.4" width="49.5" height="20.7" fill="#c67363"/><rect y="1336.7" width="49.5" height="20.7" fill="#c46e5e"/><rect y="1356.9" width="49.5" height="20.7" fill="#bf6455"/><rect y="1377.2" width="49.5" height="20.7" fill="#c67363"/><rect y="1397.5" width="49.5" height="20.7" fill="#d28b7c"/><rect y="1417.7" width="49.5" height="20.7" fill="#c87767"/><rect y="1438" width="49.5" height="20.7" fill="#c67363"/><rect y="1458.3" width="49.5" height="20.7" fill="#c67363"/><rect y="1478.5" width="49.5" height="20.7" fill="#c67363"/><rect y="1498.8" width="49.5" height="20.7" fill="#d8998a"/><rect y="1519" width="49.5" height="20.7" fill="#d49081"/><rect y="1539.3" width="49.5" height="20.7" fill="#ca7a6a"/><rect y="1559.6" width="49.5" height="20.7" fill="#c67363"/><rect y="1579.8" width="49.5" height="20.7" fill="#bf6455"/><rect y="1600.1" width="49.5" height="20.7" fill="#bc5e4f"/><rect y="1620.4" width="49.5" height="20.7" fill="#bc5e4f"/><rect y="1640.6" width="49.5" height="20.7" fill="#b54d40"/><rect y="1660.9" width="49.5" height="20.7" fill="#bc5e4f"/><rect y="1681.2" width="49.5" height="20.7" fill="#bc5e4f"/><rect y="1701.4" width="49.5" height="20.7" fill="#b04338"/><rect y="1721.7" width="49.5" height="20.7" fill="#cc7f70"/><rect y="1742" width="49.5" height="20.7" fill="#ce8475"/><rect y="1762.2" width="49.5" height="20.7" fill="#b95749"/><rect y="1782.5" width="49.5" height="20.7" fill="#c46e5e"/><rect y="1802.8" width="49.5" height="20.7" fill="#b54d40"/><rect y="1823" width="49.5" height="20.7" fill="#c67363"/><rect y="1843.3" width="49.5" height="20.7" fill="#c67363"/><rect y="1863.6" width="49.5" height="20.7" fill="#d08878"/><rect y="1883.8" width="49.5" height="20.7" fill="#a62c23"/><rect y="1904.1" width="49.5" height="20.7" fill="#a62c23"/><rect y="1924.4" width="49.5" height="20.7" fill="#b54d40"/><rect y="1944.6" width="49.5" height="20.7" fill="#a62c23"/><rect y="1964.9" width="49.5" height="20.7" fill="#a62c23"/><rect y="1985.1" width="49.5" height="20.7" fill="#9e1c14"/><rect y="2005.4" width="49.5" height="20.7" fill="#a1231a"/><rect y="2025.7" width="49.5" height="20.7" fill="#a62c23"/><rect y="2045.9" width="49.5" height="20.7" fill="#9e1c14"/><rect y="2066.2" width="49.5" height="20.7" fill="#aa362c"/><rect y="2086.5" width="49.5" height="20.7" fill="#9e1c14"/><rect y="2106.7" width="49.5" height="20.7" fill="#9e1c14"/></g>
<text x="374.5" y="116.8" font-size="17.5">POTEE</text>
<text x="374.5" y="137.1" font-size="17.5">SYNE2</text>
<text x="374.5" y="157.4" font-size="17.5">EPHA5</text>
<text x="374.5" y="177.6" font-size="17.5">SHPRH</text>
<text x="374.5" y="197.9" font-size="17.5">DHRS2</text>
<text x="374.5" y="218.2" font-size="17.5">H1&#8722;0</text>
<text x="374.5" y="238.4" font-size="17.5">WDR76</text>
<text x="374.5" y="258.7" font-size="17.5">CTDSPL2</text>
<text x="374.5" y="279" font-size="17.5">NCOR1</text>
<text x="374.5" y="299.2" font-size="17.5">GPSM2</text>
<text x="374.5" y="319.5" font-size="17.5">TMPO</text>
<text x="374.5" y="339.7" font-size="17.5">NFIB</text>
<text x="374.5" y="360" font-size="17.5">ARHGAP11A</text>
<text x="374.5" y="380.3" font-size="17.5">ATAD2</text>
<text x="374.5" y="400.5" font-size="17.5">SLC7A11</text>
<text x="374.5" y="420.8" font-size="17.5">E2F8</text>
<text x="374.5" y="441.1" font-size="17.5">MN1</text>
<text x="374.5" y="461.3" font-size="17.5">ETS2</text>
<text x="374.5" y="481.6" font-size="17.5">KNL1</text>
<text x="374.5" y="501.9" font-size="17.5">KIF14</text>
<text x="374.5" y="522.1" font-size="17.5">SACS</text>
<text x="374.5" y="542.4" font-size="17.5">NBEAL1</text>
<text x="374.5" y="562.7" font-size="17.5">PTPN14</text>
<text x="374.5" y="582.9" font-size="17.5">AKAP11</text>
<text x="374.5" y="603.2" font-size="17.5">LCOR</text>
<text x="374.5" y="623.5" font-size="17.5">BRCA2</text>
<text x="374.5" y="643.7" font-size="17.5">ZNF281</text>
<text x="374.5" y="664" font-size="17.5">USF3</text>
<text x="374.5" y="684.3" font-size="17.5">CNTNAP2</text>
<text x="374.5" y="704.5" font-size="17.5">NFATC2</text>
<text x="374.5" y="724.8" font-size="17.5">MKI67</text>
<text x="374.5" y="745" font-size="17.5">SESN1</text>
<text x="374.5" y="765.3" font-size="17.5">GADD45A</text>
<text x="374.5" y="785.6" font-size="17.5">TRIML2</text>
<text x="374.5" y="805.8" font-size="17.5">ATF3</text>
<text x="374.5" y="826.1" font-size="17.5">SERPINB7</text>
<text x="374.5" y="846.4" font-size="17.5">CCND2</text>
<text x="374.5" y="866.6" font-size="17.5">TM7SF3</text>
<text x="374.5" y="886.9" font-size="17.5">RRM2B</text>
<text x="374.5" y="907.2" font-size="17.5">DPP7</text>
<text x="374.5" y="927.4" font-size="17.5">MDM2</text>
<text x="374.5" y="947.7" font-size="17.5">CD163L1</text>
<text x="374.5" y="968" font-size="17.5">APOBEC3C</text>
<text x="374.5" y="988.2" font-size="17.5">CDR2L</text>
<text x="374.5" y="1008.5" font-size="17.5">BTBD19</text>
<text x="374.5" y="1028.8" font-size="17.5">ALOX5</text>
<text x="374.5" y="1049" font-size="17.5">DDB2</text>
<text x="374.5" y="1069.3" font-size="17.5">ACSS2</text>
<text x="374.5" y="1089.6" font-size="17.5">SESN2</text>
<text x="374.5" y="1109.8" font-size="17.5">GREB1</text>
<text x="374.5" y="1130.1" font-size="17.5">FAM83H</text>
<text x="374.5" y="1150.3" font-size="17.5">CITED2</text>
<text x="374.5" y="1170.6" font-size="17.5">KRT81</text>
<text x="374.5" y="1190.9" font-size="17.5">TINAGL1</text>
<text x="374.5" y="1211.1" font-size="17.5">RPS27L</text>
<text x="374.5" y="1231.4" font-size="17.5">CD70</text>
<text x="374.5" y="1251.7" font-size="17.5">TP53INP1</text>
<text x="374.5" y="1271.9" font-size="17.5">CMBL</text>
<text x="374.5" y="1292.2" font-size="17.5">KITLG</text>
<text x="374.5" y="1312.5" font-size="17.5">PAPLN</text>
<text x="374.5" y="1332.7" font-size="17.5">PLK2</text>
<text x="374.5" y="1353" font-size="17.5">PLK3</text>
<text x="374.5" y="1373.3" font-size="17.5">MMP3</text>
<text x="374.5" y="1393.5" font-size="17.5">LPXN</text>
<text x="374.5" y="1413.8" font-size="17.5">COL7A1</text>
<text x="374.5" y="1434.1" font-size="17.5">MAMDC4</text>
<text x="374.5" y="1454.3" font-size="17.5">DGKA</text>
<text x="374.5" y="1474.6" font-size="17.5">BTG2</text>
<text x="374.5" y="1494.9" font-size="17.5">DRAM1</text>
<text x="374.5" y="1515.1" font-size="17.5">COL13A1</text>
<text x="374.5" y="1535.4" font-size="17.5">AREG</text>
<text x="374.5" y="1555.6" font-size="17.5">ANOS1</text>
<text x="374.5" y="1575.9" font-size="17.5">CDC42BPG</text>
<text x="374.5" y="1596.2" font-size="17.5">HOXA11</text>
<text x="374.5" y="1616.4" font-size="17.5">CHPF</text>
<text x="374.5" y="1636.7" font-size="17.5">SHC2</text>
<text x="374.5" y="1657" font-size="17.5">PHLDA3</text>
<text x="374.5" y="1677.2" font-size="17.5">SDC1</text>
<text x="374.5" y="1697.5" font-size="17.5">CYFIP2</text>
<text x="374.5" y="1717.8" font-size="17.5">SUGCT</text>
<text x="374.5" y="1738" font-size="17.5">CSMD3</text>
<text x="374.5" y="1758.3" font-size="17.5">RGS4</text>
<text x="374.5" y="1778.6" font-size="17.5">KRT34</text>
<text x="374.5" y="1798.8" font-size="17.5">FAS</text>
<text x="374.5" y="1819.1" font-size="17.5">EPS8L2</text>
<text x="374.5" y="1839.4" font-size="17.5">ZNF114</text>
<text x="374.5" y="1859.6" font-size="17.5">INKA2</text>
<text x="374.5" y="1879.9" font-size="17.5">SLAMF7</text>
<text x="374.5" y="1900.2" font-size="17.5">PARD6G</text>
<text x="374.5" y="1920.4" font-size="17.5">FHL2</text>
<text x="374.5" y="1940.7" font-size="17.5">TFEC</text>
<text x="374.5" y="1960.9" font-size="17.5">ARHGAP45</text>
<text x="374.5" y="1981.2" font-size="17.5">EBI3</text>
<text x="374.5" y="2001.5" font-size="17.5">FDXR</text>
<text x="374.5" y="2021.7" font-size="17.5">BBC3</text>
<text x="374.5" y="2042" font-size="17.5">CDKN1A</text>
<text x="374.5" y="2062.3" font-size="17.5">KANK3</text>
<text x="374.5" y="2082.5" font-size="17.5">KRTAP2&#8722;3</text>
<text x="374.5" y="2102.8" font-size="17.5">TNFRSF14</text>
<text x="374.5" y="2123.1" font-size="17.5">NECTIN4</text>
<text transform="translate(106 2133) rotate(-90)" font-size="17" text-anchor="end">UT1</text>
<text transform="translate(155.1 2133) rotate(-90)" font-size="17" text-anchor="end">UT2</text>
<text transform="translate(204.2 2133) rotate(-90)" font-size="17" text-anchor="end">UT3</text>
<text transform="translate(253.3 2133) rotate(-90)" font-size="17" text-anchor="end">IR1</text>
<text transform="translate(302.4 2133) rotate(-90)" font-size="17" text-anchor="end">IR2</text>
<text transform="translate(351.5 2133) rotate(-90)" font-size="17" text-anchor="end">IR3</text>
<text x="500" y="92.5" font-size="17.5" font-weight="bold">Condition</text>
<rect x="500" y="101.8" width="15.5" height="15.8" fill="#4aae7e"/>
<rect x="500" y="119.6" width="15.5" height="16" fill="#e8399c"/>
<text x="521" y="116" font-size="17">UT</text>
<text x="521" y="133.5" font-size="17">IR</text>
<text x="500" y="164.2" font-size="17.5" font-weight="bold">Normalised</text>
<text x="500" y="182.7" font-size="17.5" font-weight="bold">+ Log2</text>
<defs><linearGradient id="gA" x1="0" y1="0" x2="0" y2="1">
<stop offset="0.000" stop-color="#9e1c14"/>
<stop offset="0.083" stop-color="#b14539"/>
<stop offset="0.167" stop-color="#c87767"/>
<stop offset="0.250" stop-color="#d69586"/>
<stop offset="0.333" stop-color="#e2b3a6"/>
<stop offset="0.417" stop-color="#ecd3ca"/>
<stop offset="0.500" stop-color="#f6f5f3"/>
<stop offset="0.583" stop-color="#d7e3e7"/>
<stop offset="0.667" stop-color="#bad0da"/>
<stop offset="0.750" stop-color="#9dbdcc"/>
<stop offset="0.833" stop-color="#7ca6ba"/>
<stop offset="0.917" stop-color="#568ca4"/>
<stop offset="1.000" stop-color="#3a7794"/>
</linearGradient></defs>
<rect x="499" y="190.8" width="17.2" height="94.6" fill="url(#gA)"/>
<line x1="499" y1="193.8" x2="502.5" y2="193.8" stroke="#fff" stroke-width="0.8"/>
<line x1="512.7" y1="193.8" x2="516.2" y2="193.8" stroke="#fff" stroke-width="0.8"/>
<text x="520.5" y="200" font-size="17">1</text>
<line x1="499" y1="215.9" x2="502.5" y2="215.9" stroke="#fff" stroke-width="0.8"/>
<line x1="512.7" y1="215.9" x2="516.2" y2="215.9" stroke="#fff" stroke-width="0.8"/>
<text x="520.5" y="222.1" font-size="17">0.5</text>
<line x1="499" y1="238.1" x2="502.5" y2="238.1" stroke="#fff" stroke-width="0.8"/>
<line x1="512.7" y1="238.1" x2="516.2" y2="238.1" stroke="#fff" stroke-width="0.8"/>
<text x="520.5" y="244.3" font-size="17">0</text>
<line x1="499" y1="260.2" x2="502.5" y2="260.2" stroke="#fff" stroke-width="0.8"/>
<line x1="512.7" y1="260.2" x2="516.2" y2="260.2" stroke="#fff" stroke-width="0.8"/>
<text x="520.5" y="266.4" font-size="17">&#8722;0.5</text>
<line x1="499" y1="282.4" x2="502.5" y2="282.4" stroke="#fff" stroke-width="0.8"/>
<line x1="512.7" y1="282.4" x2="516.2" y2="282.4" stroke="#fff" stroke-width="0.8"/>
<text x="520.5" y="288.6" font-size="17">&#8722;1</text>
<path d="M73.5 110.6H71M73.5 130.9H71M71 110.6V130.9M73.5 171.4H71.4M73.5 191.7H71.4M71.4 171.4V191.7M71.4 181.6H69.6M73.5 212H69.6M69.6 181.6V212M73.5 151.2H68.8M69.6 196.8H68.8M68.8 151.2V196.8M73.5 232.2H71.4M73.5 252.5H71.4M71.4 232.2V252.5M73.5 272.8H70.3M73.5 293H70.3M70.3 272.8V293M71.4 242.4H69.3M70.3 282.9H69.3M69.3 242.4V282.9M68.8 174H67.2M69.3 262.6H67.2M67.2 174V262.6M73.5 333.5H71.4M73.5 353.8H71.4M71.4 333.5V353.8M73.5 313.3H69M71.4 343.7H69M69 313.3V343.7M73.5 374.1H71.3M73.5 394.3H71.3M71.3 374.1V394.3M69 328.5H68.2M71.3 384.2H68.2M68.2 328.5V384.2M73.5 414.6H70.3M73.5 434.9H70.3M70.3 414.6V434.9M68.2 356.3H67.4M70.3 424.7H67.4M67.4 356.3V424.7M73.5 455.1H70.7M73.5 475.4H70.7M70.7 455.1V475.4M70.7 465.3H69.9M73.5 495.7H69.9M69.9 465.3V495.7M73.5 536.2H70.5M73.5 556.5H70.5M70.5 536.2V556.5M73.5 515.9H69.7M70.5 546.3H69.7M69.7 515.9V546.3M69.9 480.5H67.9M69.7 531.1H67.9M67.9 480.5V531.1M67.4 390.5H65.2M67.9 505.8H65.2M65.2 390.5V505.8M67.2 218.3H67.5M65.2 448.2H67.5M67.5 218.3V448.2M73.5 576.7H70.5M73.5 597H70.5M70.5 576.7V597M73.5 617.3H70.6M73.5 637.5H70.6M70.6 617.3V637.5M70.5 586.9H68.7M70.6 627.4H68.7M68.7 586.9V627.4M73.5 657.8H70M73.5 678.1H70M70 657.8V678.1M70 667.9H69.2M73.5 698.3H69.2M69.2 667.9V698.3M69.2 683.1H68.4M73.5 718.6H68.4M68.4 683.1V718.6M68.7 607.1H68M68.4 700.9H68M68 607.1V700.9M67.5 333.2H66M68 654H66M66 333.2V654M71 120.8H64M66 493.6H64M64 120.8V493.6M73.5 759.1H70.4M73.5 779.4H70.4M70.4 759.1V779.4M73.5 738.8H69.5M70.4 769.2H69.5M69.5 738.8V769.2M73.5 819.9H70.6M73.5 840.2H70.6M70.6 819.9V840.2M73.5 799.6H69.5M70.6 830H69.5M69.5 799.6V830M69.5 814.8H68.7M73.5 860.4H68.7M68.7 814.8V860.4M69.5 754H66.6M68.7 837.6H66.6M66.6 754V837.6M73.5 880.7H70.4M73.5 901H70.4M70.4 880.7V901M73.5 921.2H70M73.5 941.5H70M70 921.2V941.5M70.4 890.8H68.3M70 931.4H68.3M68.3 890.8V931.4M73.5 961.8H70.5M73.5 982H70.5M70.5 961.8V982M73.5 1002.3H70.8M73.5 1022.6H70.8M70.8 1002.3V1022.6M70.5 971.9H69.2M70.8 1012.4H69.2M69.2 971.9V1012.4M68.3 911.1H67.3M69.2 992.2H67.3M67.3 911.1V992.2M73.5 1063.1H71.1M73.5 1083.4H71.1M71.1 1063.1V1083.4M71.1 1073.2H69.7M73.5 1103.6H69.7M69.7 1073.2V1103.6M73.5 1042.8H68.2M69.7 1088.4H68.2M68.2 1042.8V1088.4M67.3 951.6H66.2M68.2 1065.6H66.2M66.2 951.6V1065.6M66.6 795.8H64.3M66.2 1008.6H64.3M64.3 795.8V1008.6M73.5 1123.9H70.9M73.5 1144.1H70.9M70.9 1123.9V1144.1M70.9 1134H69.8M73.5 1164.4H69.8M69.8 1134V1164.4M73.5 1184.7H70.1M73.5 1204.9H70.1M70.1 1184.7V1204.9M69.8 1149.2H68.6M70.1 1194.8H68.6M68.6 1149.2V1194.8M73.5 1225.2H71.2M73.5 1245.5H71.2M71.2 1225.2V1245.5M68.6 1172H67.5M71.2 1235.3H67.5M67.5 1172V1235.3M73.5 1265.7H71.5M73.5 1286H71.5M71.5 1265.7V1286M71.5 1275.9H69.7M73.5 1306.3H69.7M69.7 1275.9V1306.3M73.5 1346.8H70.1M73.5 1367.1H70.1M70.1 1346.8V1367.1M73.5 1326.5H69.3M70.1 1356.9H69.3M69.3 1326.5V1356.9M69.7 1291.1H67.6M69.3 1341.7H67.6M67.6 1291.1V1341.7M67.5 1203.7H65.2M67.6 1316.4H65.2M65.2 1203.7V1316.4M64.3 902.2H66M65.2 1260H66M66 902.2V1260M73.5 1387.3H70.2M73.5 1407.6H70.2M70.2 1387.3V1407.6M70.2 1397.5H69.1M73.5 1427.9H69.1M69.1 1397.5V1427.9M73.5 1468.4H70.5M73.5 1488.7H70.5M70.5 1468.4V1488.7M73.5 1448.1H69.7M70.5 1478.5H69.7M69.7 1448.1V1478.5M73.5 1549.4H71M73.5 1569.7H71M71 1549.4V1569.7M73.5 1529.2H70.2M71 1559.6H70.2M70.2 1529.2V1559.6M73.5 1508.9H69.4M70.2 1544.4H69.4M69.4 1508.9V1544.4M69.7 1463.3H67.7M69.4 1526.6H67.7M67.7 1463.3V1526.6M69.1 1412.7H66.7M67.7 1495H66.7M66.7 1412.7V1495M73.5 1610.2H71.3M73.5 1630.5H71.3M71.3 1610.2V1630.5M71.3 1620.4H70M73.5 1650.8H70M70 1620.4V1650.8M73.5 1590H69M70 1635.6H69M69 1590V1635.6M73.5 1671H70.2M73.5 1691.3H70.2M70.2 1671V1691.3M73.5 1711.6H70.8M73.5 1731.8H70.8M70.8 1711.6V1731.8M70.2 1681.2H68.8M70.8 1721.7H68.8M68.8 1681.2V1721.7M69 1612.8H67.4M68.8 1701.4H67.4M67.4 1612.8V1701.4M66.7 1453.8H67M67.4 1657.1H67M67 1453.8V1657.1M66 1081.1H65M67 1555.5H65M65 1081.1V1555.5M73.5 1772.4H71.3M73.5 1792.6H71.3M71.3 1772.4V1792.6M73.5 1752.1H70.3M71.3 1782.5H70.3M70.3 1752.1V1782.5M73.5 1812.9H71.3M73.5 1833.2H71.3M71.3 1812.9V1833.2M71.3 1823H69.5M73.5 1853.4H69.5M69.5 1823V1853.4M70.3 1767.3H68.3M69.5 1838.2H68.3M68.3 1767.3V1838.2M73.5 1873.7H70.9M73.5 1894H70.9M70.9 1873.7V1894M70.9 1883.8H70.1M73.5 1914.2H70.1M70.1 1883.8V1914.2M70.1 1899H68.3M73.5 1934.5H68.3M68.3 1899V1934.5M73.5 1954.7H70.3M73.5 1975H70.3M70.3 1954.7V1975M68.3 1916.8H67.5M70.3 1964.9H67.5M67.5 1916.8V1964.9M73.5 1995.3H70M73.5 2015.5H70M70 1995.3V2015.5M73.5 2035.8H70.3M73.5 2056.1H70.3M70.3 2035.8V2056.1M70.3 2045.9H69.2M73.5 2076.3H69.2M69.2 2045.9V2076.3M70 2005.4H68.4M69.2 2061.1H68.4M68.4 2005.4V2061.1M67.5 1940.8H65.8M68.4 2033.3H65.8M65.8 1940.8V2033.3M68.3 1802.8H64M65.8 1987H64M64 1802.8V1987M73.5 2096.6H68M73.5 2116.9H68M68 2096.6V2116.9M64 1894.9H59M68 2106.7H59M59 1894.9V2106.7M65 1318.3H53.8M59 2000.8H53.8M53.8 1318.3V2000.8M64 307.2H31.3M53.8 1659.6H31.3M31.3 307.2V1659.6" stroke="#000" stroke-width="1" fill="none"/>
<text x="4.6" y="2238.1" font-size="39" font-weight="bold">b</text>
<rect x="84.5" y="2269.7" width="413.5" height="34.6" fill="#c6dcf6" stroke="#000" stroke-width="1.4"/>
<rect x="84.5" y="2308.3" width="210.5" height="34.6" fill="#cadff8" stroke="#000" stroke-width="1.4"/>
<rect x="84.5" y="2346.8" width="193.6" height="34.6" fill="#9fb8e2" stroke="#000" stroke-width="1.4"/>
<rect x="84.5" y="2385.4" width="168.2" height="34.6" fill="#bcd4f3" stroke="#000" stroke-width="1.4"/>
<rect x="84.5" y="2424" width="142.8" height="34.6" fill="#6e8ecb" stroke="#000" stroke-width="1.4"/>
<rect x="84.5" y="2462.5" width="125.9" height="34.6" fill="#3b63aa" stroke="#000" stroke-width="1.4"/>
<rect x="84.5" y="2501.1" width="117.4" height="34.6" fill="#345da5" stroke="#000" stroke-width="1.4"/>
<rect x="84.5" y="2539.7" width="100.5" height="34.6" fill="#7796cf" stroke="#000" stroke-width="1.4"/>
<rect x="84.5" y="2578.3" width="75.1" height="34.6" fill="#3e66ad" stroke="#000" stroke-width="1.4"/>
<rect x="84.5" y="2616.8" width="49.8" height="34.6" fill="#a9c5ee" stroke="#000" stroke-width="1.4"/>
<text x="87.5" y="2284.5" font-size="13.3" font-weight="bold" fill="#fff" stroke="#000" stroke-width="2.4" paint-order="stroke" stroke-linejoin="round">DNA Damage Response<tspan x="87.5" dy="14.5">(GO:0006974)</tspan></text>
<line x1="75.5" y1="2287" x2="83.5" y2="2287" stroke="#000" stroke-width="2.4"/>
<text x="87.5" y="2323.1" font-size="13.3" font-weight="bold" fill="#fff" stroke="#000" stroke-width="2.4" paint-order="stroke" stroke-linejoin="round">Mitotic Sister Chromatid Segregation<tspan x="87.5" dy="14.5">(GO:0000070)</tspan></text>
<line x1="75.5" y1="2325.6" x2="83.5" y2="2325.6" stroke="#000" stroke-width="2.4"/>
<text x="87.5" y="2361.6" font-size="13.3" font-weight="bold" fill="#fff" stroke="#000" stroke-width="2.4" paint-order="stroke" stroke-linejoin="round">Positive Regulation Of Cell Cycle Process<tspan x="87.5" dy="14.5">(GO:0090068)</tspan></text>
<line x1="75.5" y1="2364.1" x2="83.5" y2="2364.1" stroke="#000" stroke-width="2.4"/>
<text x="87.5" y="2400.2" font-size="13.3" font-weight="bold" fill="#fff" stroke="#000" stroke-width="2.4" paint-order="stroke" stroke-linejoin="round">Mitotic Spindle Organization<tspan x="87.5" dy="14.5">(GO:0007052)</tspan></text>
<line x1="75.5" y1="2402.7" x2="83.5" y2="2402.7" stroke="#000" stroke-width="2.4"/>
<text x="87.5" y="2438.8" font-size="13.3" font-weight="bold" fill="#fff" stroke="#000" stroke-width="2.4" paint-order="stroke" stroke-linejoin="round">Response To Ionizing Radiation<tspan x="87.5" dy="14.5">(GO:0010212)</tspan></text>
<line x1="75.5" y1="2441.3" x2="83.5" y2="2441.3" stroke="#000" stroke-width="2.4"/>
<text x="87.5" y="2477.3" font-size="13.3" font-weight="bold" fill="#fff" stroke="#000" stroke-width="2.4" paint-order="stroke" stroke-linejoin="round">Microtubule Cytoskeleton Organization Involved In Mitosis<tspan x="87.5" dy="14.5">(GO:1902850)</tspan></text>
<line x1="75.5" y1="2479.8" x2="83.5" y2="2479.8" stroke="#000" stroke-width="2.4"/>
<text x="87.5" y="2515.9" font-size="13.3" font-weight="bold" fill="#fff" stroke="#000" stroke-width="2.4" paint-order="stroke" stroke-linejoin="round">Cellular Response To Ionizing Radiation<tspan x="87.5" dy="14.5">(GO:0071479)</tspan></text>
<line x1="75.5" y1="2518.4" x2="83.5" y2="2518.4" stroke="#000" stroke-width="2.4"/>
<text x="87.5" y="2554.5" font-size="13.3" font-weight="bold" fill="#fff" stroke="#000" stroke-width="2.4" paint-order="stroke" stroke-linejoin="round">Sister Chromatid Segregation<tspan x="87.5" dy="14.5">(GO:0000819)</tspan></text>
<line x1="75.5" y1="2557" x2="83.5" y2="2557" stroke="#000" stroke-width="2.4"/>
<text x="87.5" y="2593.1" font-size="13.3" font-weight="bold" fill="#fff" stroke="#000" stroke-width="2.4" paint-order="stroke" stroke-linejoin="round">Regulation Of Centriole Replication<tspan x="87.5" dy="14.5">(GO:0046599)</tspan></text>
<line x1="75.5" y1="2595.6" x2="83.5" y2="2595.6" stroke="#000" stroke-width="2.4"/>
<text x="87.5" y="2631.6" font-size="13.3" font-weight="bold" fill="#fff" stroke="#000" stroke-width="2.4" paint-order="stroke" stroke-linejoin="round">Establishment Of Mitotic Sister Chromatid Cohesion<tspan x="87.5" dy="14.5">(GO:0034087)</tspan></text>
<line x1="75.5" y1="2634.1" x2="83.5" y2="2634.1" stroke="#000" stroke-width="2.4"/>
<line x1="83.5" y1="2262.5" x2="83.5" y2="2657.9" stroke="#000" stroke-width="2.6"/>
<line x1="82.3" y1="2656.7" x2="499.6" y2="2656.7" stroke="#000" stroke-width="2.6"/>
<line x1="83.5" y1="2656.7" x2="83.5" y2="2662.7" stroke="#000" stroke-width="2.4"/>
<text x="83.5" y="2684.7" font-size="18.5" font-weight="bold" text-anchor="middle">0</text>
<line x1="168.1" y1="2656.7" x2="168.1" y2="2662.7" stroke="#000" stroke-width="2.4"/>
<text x="168.1" y="2684.7" font-size="18.5" font-weight="bold" text-anchor="middle">10</text>
<line x1="252.7" y1="2656.7" x2="252.7" y2="2662.7" stroke="#000" stroke-width="2.4"/>
<text x="252.7" y="2684.7" font-size="18.5" font-weight="bold" text-anchor="middle">20</text>
<line x1="337.3" y1="2656.7" x2="337.3" y2="2662.7" stroke="#000" stroke-width="2.4"/>
<text x="337.3" y="2684.7" font-size="18.5" font-weight="bold" text-anchor="middle">30</text>
<line x1="421.9" y1="2656.7" x2="421.9" y2="2662.7" stroke="#000" stroke-width="2.4"/>
<text x="421.9" y="2684.7" font-size="18.5" font-weight="bold" text-anchor="middle">40</text>
<text x="291" y="2713.5" font-size="20.2" font-weight="bold" text-anchor="middle">Gene Count</text>
<text transform="translate(58 2460) rotate(-90)" font-size="20.4" font-weight="bold" text-anchor="middle">GO BP Term</text>
<text x="529.8" y="2400.5" font-size="20.3" font-weight="bold">Adjusted P&#8722;value</text>
<defs><linearGradient id="gB" x1="0" y1="0" x2="0" y2="1"><stop offset="0" stop-color="#2c5293"/><stop offset="1" stop-color="#c9e0fa"/></linearGradient></defs>
<rect x="529.3" y="2412" width="20.5" height="124" fill="url(#gB)"/>
<line x1="529.3" y1="2432.9" x2="533.5" y2="2432.9" stroke="#fff" stroke-width="0.8"/>
<line x1="545.6" y1="2432.9" x2="549.8" y2="2432.9" stroke="#fff" stroke-width="0.8"/>
<text x="557.7" y="2438.5" font-size="15.8" font-weight="bold">5e&#8722;05</text>
<line x1="529.3" y1="2453.8" x2="533.5" y2="2453.8" stroke="#fff" stroke-width="0.8"/>
<line x1="545.6" y1="2453.8" x2="549.8" y2="2453.8" stroke="#fff" stroke-width="0.8"/>
<text x="557.7" y="2459.4" font-size="15.8" font-weight="bold">4e&#8722;05</text>
<line x1="529.3" y1="2474.7" x2="533.5" y2="2474.7" stroke="#fff" stroke-width="0.8"/>
<line x1="545.6" y1="2474.7" x2="549.8" y2="2474.7" stroke="#fff" stroke-width="0.8"/>
<text x="557.7" y="2480.3" font-size="15.8" font-weight="bold">3e&#8722;05</text>
<line x1="529.3" y1="2495.6" x2="533.5" y2="2495.6" stroke="#fff" stroke-width="0.8"/>
<line x1="545.6" y1="2495.6" x2="549.8" y2="2495.6" stroke="#fff" stroke-width="0.8"/>
<text x="557.7" y="2501.2" font-size="15.8" font-weight="bold">2e&#8722;05</text>
<line x1="529.3" y1="2516.5" x2="533.5" y2="2516.5" stroke="#fff" stroke-width="0.8"/>
<line x1="545.6" y1="2516.5" x2="549.8" y2="2516.5" stroke="#fff" stroke-width="0.8"/>
<text x="557.7" y="2522.1" font-size="15.8" font-weight="bold">1e&#8722;05</text>
<text x="625.3" y="26" font-size="39" font-weight="bold">c</text>
<line x1="747" y1="284.8" x2="925.5" y2="284.8" stroke="#c4c4c4" stroke-width="1.3" stroke-dasharray="5.2 5.8"/>
<line x1="736.5" y1="284.8" x2="747" y2="284.8" stroke="#000" stroke-width="2.6"/>
<text x="735.5" y="290.2" font-size="15.2" font-weight="bold" text-anchor="end">4</text>
<line x1="747" y1="236.2" x2="925.5" y2="236.2" stroke="#c4c4c4" stroke-width="1.3" stroke-dasharray="5.2 5.8"/>
<line x1="736.5" y1="236.2" x2="747" y2="236.2" stroke="#000" stroke-width="2.6"/>
<text x="735.5" y="241.6" font-size="15.2" font-weight="bold" text-anchor="end">5</text>
<line x1="747" y1="187.6" x2="925.5" y2="187.6" stroke="#c4c4c4" stroke-width="1.3" stroke-dasharray="5.2 5.8"/>
<line x1="736.5" y1="187.6" x2="747" y2="187.6" stroke="#000" stroke-width="2.6"/>
<text x="735.5" y="193" font-size="15.2" font-weight="bold" text-anchor="end">6</text>
<line x1="747" y1="139" x2="925.5" y2="139" stroke="#c4c4c4" stroke-width="1.3" stroke-dasharray="5.2 5.8"/>
<line x1="736.5" y1="139" x2="747" y2="139" stroke="#000" stroke-width="2.6"/>
<text x="735.5" y="144.4" font-size="15.2" font-weight="bold" text-anchor="end">7</text>
<line x1="747" y1="90.4" x2="925.5" y2="90.4" stroke="#c4c4c4" stroke-width="1.3" stroke-dasharray="5.2 5.8"/>
<line x1="736.5" y1="90.4" x2="747" y2="90.4" stroke="#000" stroke-width="2.6"/>
<text x="735.5" y="95.8" font-size="15.2" font-weight="bold" text-anchor="end">8</text>
<line x1="744" y1="290.7" x2="925.6" y2="290.7" stroke="#000" stroke-width="3"/>
<line x1="794" y1="290.7" x2="794" y2="297" stroke="#000" stroke-width="2.4"/>
<line x1="876" y1="290.7" x2="876" y2="297" stroke="#000" stroke-width="2.4"/>
<text x="794" y="316.5" font-size="18" font-weight="bold" text-anchor="middle">UT</text>
<text x="876" y="316.5" font-size="18" font-weight="bold" text-anchor="middle">IR</text>
<text transform="translate(711 158.5) rotate(-90)" font-size="18" font-weight="bold" text-anchor="middle">CDKN1A</text>
<line x1="794" y1="46.9" x2="877" y2="46.9" stroke="#000" stroke-width="1.5"/>
<text x="835.5" y="50" font-size="21.5" text-anchor="middle">****</text>
<line x1="763.3" y1="141.9" x2="824.7" y2="141.9" stroke="#333" stroke-width="2"/>
<circle cx="789.4" cy="140.9" r="4.9" fill="#4bae7f" stroke="#000" stroke-width="1.1"/>
<circle cx="794.6" cy="141.9" r="4.9" fill="#4bae7f" stroke="#000" stroke-width="1.1"/>
<circle cx="799.7" cy="141.5" r="4.9" fill="#4bae7f" stroke="#000" stroke-width="1.1"/>
<rect x="845.3" y="68" width="61.4" height="7" fill="#f4bddf" stroke="#333" stroke-width="1.3"/>
<line x1="845.3" y1="75" x2="906.7" y2="75" stroke="#333" stroke-width="2"/>
<circle cx="876.2" cy="61.1" r="4.9" fill="#e8399c" stroke="#000" stroke-width="1.1"/>
<circle cx="875.9" cy="75.4" r="4.9" fill="#e8399c" stroke="#000" stroke-width="1.1"/>
<circle cx="881" cy="74.7" r="4.9" fill="#e8399c" stroke="#000" stroke-width="1.1"/>
<line x1="993" y1="284.8" x2="1171.5" y2="284.8" stroke="#c4c4c4" stroke-width="1.3" stroke-dasharray="5.2 5.8"/>
<line x1="982.5" y1="284.8" x2="993" y2="284.8" stroke="#000" stroke-width="2.6"/>
<text x="981.5" y="290.2" font-size="15.2" font-weight="bold" text-anchor="end">4</text>
<line x1="993" y1="236.2" x2="1171.5" y2="236.2" stroke="#c4c4c4" stroke-width="1.3" stroke-dasharray="5.2 5.8"/>
<line x1="982.5" y1="236.2" x2="993" y2="236.2" stroke="#000" stroke-width="2.6"/>
<text x="981.5" y="241.6" font-size="15.2" font-weight="bold" text-anchor="end">5</text>
<line x1="993" y1="187.6" x2="1171.5" y2="187.6" stroke="#c4c4c4" stroke-width="1.3" stroke-dasharray="5.2 5.8"/>
<line x1="982.5" y1="187.6" x2="993" y2="187.6" stroke="#000" stroke-width="2.6"/>
<text x="981.5" y="193" font-size="15.2" font-weight="bold" text-anchor="end">6</text>
<line x1="993" y1="139" x2="1171.5" y2="139" stroke="#c4c4c4" stroke-width="1.3" stroke-dasharray="5.2 5.8"/>
<line x1="982.5" y1="139" x2="993" y2="139" stroke="#000" stroke-width="2.6"/>
<text x="981.5" y="144.4" font-size="15.2" font-weight="bold" text-anchor="end">7</text>
<line x1="993" y1="90.4" x2="1171.5" y2="90.4" stroke="#c4c4c4" stroke-width="1.3" stroke-dasharray="5.2 5.8"/>
<line x1="982.5" y1="90.4" x2="993" y2="90.4" stroke="#000" stroke-width="2.6"/>
<text x="981.5" y="95.8" font-size="15.2" font-weight="bold" text-anchor="end">8</text>
<line x1="990" y1="290.7" x2="1171.6" y2="290.7" stroke="#000" stroke-width="3"/>
<line x1="1040" y1="290.7" x2="1040" y2="297" stroke="#000" stroke-width="2.4"/>
<line x1="1122" y1="290.7" x2="1122" y2="297" stroke="#000" stroke-width="2.4"/>
<text x="1040" y="316.5" font-size="18" font-weight="bold" text-anchor="middle">UT</text>
<text x="1122" y="316.5" font-size="18" font-weight="bold" text-anchor="middle">IR</text>
<text transform="translate(957 158.5) rotate(-90)" font-size="18" font-weight="bold" text-anchor="middle">FAS</text>
<line x1="1040" y1="46.9" x2="1123" y2="46.9" stroke="#000" stroke-width="1.5"/>
<text x="1081.5" y="50" font-size="21.5" text-anchor="middle">****</text>
<line x1="1009.3" y1="260.1" x2="1070.7" y2="260.1" stroke="#333" stroke-width="2"/>
<circle cx="1036.6" cy="258.9" r="4.9" fill="#4bae7f" stroke="#000" stroke-width="1.1"/>
<circle cx="1040.6" cy="262.1" r="4.9" fill="#4bae7f" stroke="#000" stroke-width="1.1"/>
<circle cx="1044.7" cy="258.9" r="4.9" fill="#4bae7f" stroke="#000" stroke-width="1.1"/>
<rect x="1091.3" y="203.6" width="61.4" height="1.6" fill="#777" stroke="#333" stroke-width="1.3"/>
<line x1="1091.3" y1="205.2" x2="1152.7" y2="205.2" stroke="#333" stroke-width="2"/>
<circle cx="1117.8" cy="201.2" r="4.9" fill="#e8399c" stroke="#000" stroke-width="1.1"/>
<circle cx="1123.1" cy="206.5" r="4.9" fill="#e8399c" stroke="#000" stroke-width="1.1"/>
<circle cx="1128" cy="204.4" r="4.9" fill="#e8399c" stroke="#000" stroke-width="1.1"/>
<line x1="1238.6" y1="284.8" x2="1417.1" y2="284.8" stroke="#c4c4c4" stroke-width="1.3" stroke-dasharray="5.2 5.8"/>
<line x1="1228.1" y1="284.8" x2="1238.6" y2="284.8" stroke="#000" stroke-width="2.6"/>
<text x="1227.1" y="290.2" font-size="15.2" font-weight="bold" text-anchor="end">4</text>
<line x1="1238.6" y1="236.2" x2="1417.1" y2="236.2" stroke="#c4c4c4" stroke-width="1.3" stroke-dasharray="5.2 5.8"/>
<line x1="1228.1" y1="236.2" x2="1238.6" y2="236.2" stroke="#000" stroke-width="2.6"/>
<text x="1227.1" y="241.6" font-size="15.2" font-weight="bold" text-anchor="end">5</text>
<line x1="1238.6" y1="187.6" x2="1417.1" y2="187.6" stroke="#c4c4c4" stroke-width="1.3" stroke-dasharray="5.2 5.8"/>
<line x1="1228.1" y1="187.6" x2="1238.6" y2="187.6" stroke="#000" stroke-width="2.6"/>
<text x="1227.1" y="193" font-size="15.2" font-weight="bold" text-anchor="end">6</text>
<line x1="1238.6" y1="139" x2="1417.1" y2="139" stroke="#c4c4c4" stroke-width="1.3" stroke-dasharray="5.2 5.8"/>
<line x1="1228.1" y1="139" x2="1238.6" y2="139" stroke="#000" stroke-width="2.6"/>
<text x="1227.1" y="144.4" font-size="15.2" font-weight="bold" text-anchor="end">7</text>
<line x1="1238.6" y1="90.4" x2="1417.1" y2="90.4" stroke="#c4c4c4" stroke-width="1.3" stroke-dasharray="5.2 5.8"/>
<line x1="1228.1" y1="90.4" x2="1238.6" y2="90.4" stroke="#000" stroke-width="2.6"/>
<text x="1227.1" y="95.8" font-size="15.2" font-weight="bold" text-anchor="end">8</text>
<line x1="1235.6" y1="290.7" x2="1417.2" y2="290.7" stroke="#000" stroke-width="3"/>
<line x1="1285.6" y1="290.7" x2="1285.6" y2="297" stroke="#000" stroke-width="2.4"/>
<line x1="1367.6" y1="290.7" x2="1367.6" y2="297" stroke="#000" stroke-width="2.4"/>
<text x="1285.6" y="316.5" font-size="18" font-weight="bold" text-anchor="middle">UT</text>
<text x="1367.6" y="316.5" font-size="18" font-weight="bold" text-anchor="middle">IR</text>
<text transform="translate(1202.6 158.5) rotate(-90)" font-size="18" font-weight="bold" text-anchor="middle">GADD45A</text>
<line x1="1285.6" y1="46.9" x2="1368.6" y2="46.9" stroke="#000" stroke-width="1.5"/>
<text x="1327.1" y="50" font-size="21.5" text-anchor="middle">****</text>
<rect x="1254.9" y="200.2" width="61.4" height="6.5" fill="#bfe3d1" stroke="#333" stroke-width="1.3"/>
<line x1="1254.9" y1="206.7" x2="1316.3" y2="206.7" stroke="#333" stroke-width="2"/>
<circle cx="1285.6" cy="197.9" r="4.9" fill="#4bae7f" stroke="#000" stroke-width="1.1"/>
<circle cx="1287.5" cy="203.5" r="4.9" fill="#4bae7f" stroke="#000" stroke-width="1.1"/>
<circle cx="1285.6" cy="211.3" r="4.9" fill="#4bae7f" stroke="#000" stroke-width="1.1"/>
<line x1="1336.9" y1="166.9" x2="1398.3" y2="166.9" stroke="#333" stroke-width="2"/>
<circle cx="1363.8" cy="165.1" r="4.9" fill="#e8399c" stroke="#000" stroke-width="1.1"/>
<circle cx="1367.6" cy="168.8" r="4.9" fill="#e8399c" stroke="#000" stroke-width="1.1"/>
<circle cx="1373.6" cy="166.9" r="4.9" fill="#e8399c" stroke="#000" stroke-width="1.1"/>
<line x1="1484.4" y1="284.8" x2="1662.9" y2="284.8" stroke="#c4c4c4" stroke-width="1.3" stroke-dasharray="5.2 5.8"/>
<line x1="1473.9" y1="284.8" x2="1484.4" y2="284.8" stroke="#000" stroke-width="2.6"/>
<text x="1472.9" y="290.2" font-size="15.2" font-weight="bold" text-anchor="end">4</text>
<line x1="1484.4" y1="236.2" x2="1662.9" y2="236.2" stroke="#c4c4c4" stroke-width="1.3" stroke-dasharray="5.2 5.8"/>
<line x1="1473.9" y1="236.2" x2="1484.4" y2="236.2" stroke="#000" stroke-width="2.6"/>
<text x="1472.9" y="241.6" font-size="15.2" font-weight="bold" text-anchor="end">5</text>
<line x1="1484.4" y1="187.6" x2="1662.9" y2="187.6" stroke="#c4c4c4" stroke-width="1.3" stroke-dasharray="5.2 5.8"/>
<line x1="1473.9" y1="187.6" x2="1484.4" y2="187.6" stroke="#000" stroke-width="2.6"/>
<text x="1472.9" y="193" font-size="15.2" font-weight="bold" text-anchor="end">6</text>
<line x1="1484.4" y1="139" x2="1662.9" y2="139" stroke="#c4c4c4" stroke-width="1.3" stroke-dasharray="5.2 5.8"/>
<line x1="1473.9" y1="139" x2="1484.4" y2="139" stroke="#000" stroke-width="2.6"/>
<text x="1472.9" y="144.4" font-size="15.2" font-weight="bold" text-anchor="end">7</text>
<line x1="1484.4" y1="90.4" x2="1662.9" y2="90.4" stroke="#c4c4c4" stroke-width="1.3" stroke-dasharray="5.2 5.8"/>
<line x1="1473.9" y1="90.4" x2="1484.4" y2="90.4" stroke="#000" stroke-width="2.6"/>
<text x="1472.9" y="95.8" font-size="15.2" font-weight="bold" text-anchor="end">8</text>
<line x1="1481.4" y1="290.7" x2="1663" y2="290.7" stroke="#000" stroke-width="3"/>
<line x1="1531.4" y1="290.7" x2="1531.4" y2="297" stroke="#000" stroke-width="2.4"/>
<line x1="1613.4" y1="290.7" x2="1613.4" y2="297" stroke="#000" stroke-width="2.4"/>
<text x="1531.4" y="316.5" font-size="18" font-weight="bold" text-anchor="middle">UT</text>
<text x="1613.4" y="316.5" font-size="18" font-weight="bold" text-anchor="middle">IR</text>
<text transform="translate(1448.4 158.5) rotate(-90)" font-size="18" font-weight="bold" text-anchor="middle">MDM2</text>
<line x1="1531.4" y1="46.9" x2="1614.4" y2="46.9" stroke="#000" stroke-width="1.5"/>
<text x="1572.9" y="50" font-size="21.5" text-anchor="middle">****</text>
<rect x="1500.7" y="126.2" width="61.4" height="2.8" fill="#666" stroke="#333" stroke-width="1.3"/>
<line x1="1500.7" y1="129" x2="1562.1" y2="129" stroke="#333" stroke-width="2"/>
<circle cx="1529.1" cy="123.9" r="4.9" fill="#4bae7f" stroke="#000" stroke-width="1.1"/>
<circle cx="1535.1" cy="127.6" r="4.9" fill="#4bae7f" stroke="#000" stroke-width="1.1"/>
<circle cx="1531.4" cy="132.7" r="4.9" fill="#4bae7f" stroke="#000" stroke-width="1.1"/>
<line x1="1582.7" y1="100.8" x2="1644.1" y2="100.8" stroke="#333" stroke-width="2"/>
<circle cx="1609.2" cy="98.5" r="4.9" fill="#e8399c" stroke="#000" stroke-width="1.1"/>
<circle cx="1614.8" cy="101.3" r="4.9" fill="#e8399c" stroke="#000" stroke-width="1.1"/>
<circle cx="1618.5" cy="100.3" r="4.9" fill="#e8399c" stroke="#000" stroke-width="1.1"/>
<line x1="1730" y1="284.8" x2="1908.5" y2="284.8" stroke="#c4c4c4" stroke-width="1.3" stroke-dasharray="5.2 5.8"/>
<line x1="1719.5" y1="284.8" x2="1730" y2="284.8" stroke="#000" stroke-width="2.6"/>
<text x="1718.5" y="290.2" font-size="15.2" font-weight="bold" text-anchor="end">4</text>
<line x1="1730" y1="236.2" x2="1908.5" y2="236.2" stroke="#c4c4c4" stroke-width="1.3" stroke-dasharray="5.2 5.8"/>
<line x1="1719.5" y1="236.2" x2="1730" y2="236.2" stroke="#000" stroke-width="2.6"/>
<text x="1718.5" y="241.6" font-size="15.2" font-weight="bold" text-anchor="end">5</text>
<line x1="1730" y1="187.6" x2="1908.5" y2="187.6" stroke="#c4c4c4" stroke-width="1.3" stroke-dasharray="5.2 5.8"/>
<line x1="1719.5" y1="187.6" x2="1730" y2="187.6" stroke="#000" stroke-width="2.6"/>
<text x="1718.5" y="193" font-size="15.2" font-weight="bold" text-anchor="end">6</text>
<line x1="1730" y1="139" x2="1908.5" y2="139" stroke="#c4c4c4" stroke-width="1.3" stroke-dasharray="5.2 5.8"/>
<line x1="1719.5" y1="139" x2="1730" y2="139" stroke="#000" stroke-width="2.6"/>
<text x="1718.5" y="144.4" font-size="15.2" font-weight="bold" text-anchor="end">7</text>
<line x1="1730" y1="90.4" x2="1908.5" y2="90.4" stroke="#c4c4c4" stroke-width="1.3" stroke-dasharray="5.2 5.8"/>
<line x1="1719.5" y1="90.4" x2="1730" y2="90.4" stroke="#000" stroke-width="2.6"/>
<text x="1718.5" y="95.8" font-size="15.2" font-weight="bold" text-anchor="end">8</text>
<line x1="1727" y1="290.7" x2="1908.6" y2="290.7" stroke="#000" stroke-width="3"/>
<line x1="1777" y1="290.7" x2="1777" y2="297" stroke="#000" stroke-width="2.4"/>
<line x1="1859" y1="290.7" x2="1859" y2="297" stroke="#000" stroke-width="2.4"/>
<text x="1777" y="316.5" font-size="18" font-weight="bold" text-anchor="middle">UT</text>
<text x="1859" y="316.5" font-size="18" font-weight="bold" text-anchor="middle">IR</text>
<text transform="translate(1694 158.5) rotate(-90)" font-size="18" font-weight="bold" text-anchor="middle">TP53BP1</text>
<rect x="1746.3" y="175.7" width="61.4" height="3.7" fill="#777" stroke="#333" stroke-width="1.3"/>
<line x1="1746.3" y1="179.4" x2="1807.7" y2="179.4" stroke="#333" stroke-width="2"/>
<circle cx="1774.2" cy="175.7" r="4.9" fill="#4bae7f" stroke="#000" stroke-width="1.1"/>
<circle cx="1781.2" cy="177.6" r="4.9" fill="#4bae7f" stroke="#000" stroke-width="1.1"/>
<circle cx="1777.5" cy="182.7" r="4.9" fill="#4bae7f" stroke="#000" stroke-width="1.1"/>
<rect x="1828.3" y="184" width="61.4" height="5.6" fill="#f4bddf" stroke="#333" stroke-width="1.3"/>
<line x1="1828.3" y1="189.6" x2="1889.7" y2="189.6" stroke="#333" stroke-width="2"/>
<circle cx="1859" cy="180.3" r="4.9" fill="#e8399c" stroke="#000" stroke-width="1.1"/>
<circle cx="1859" cy="189.1" r="4.9" fill="#e8399c" stroke="#000" stroke-width="1.1"/>
<circle cx="1863.7" cy="189.1" r="4.9" fill="#e8399c" stroke="#000" stroke-width="1.1"/>
<text x="625.3" y="374" font-size="39" font-weight="bold">d</text>
<line x1="737.5" y1="607.6" x2="911.7" y2="607.6" stroke="#bdbdbd" stroke-width="1.2" stroke-dasharray="5.6 8.6"/>
<line x1="732" y1="607.6" x2="736" y2="607.6" stroke="#000" stroke-width="1.6"/>
<text x="727.3" y="612" font-size="12.6" text-anchor="end">0</text>
<line x1="737.5" y1="558" x2="911.7" y2="558" stroke="#bdbdbd" stroke-width="1.2" stroke-dasharray="5.6 8.6"/>
<line x1="732" y1="558" x2="736" y2="558" stroke="#000" stroke-width="1.6"/>
<text x="727.3" y="562.4" font-size="12.6" text-anchor="end">1</text>
<line x1="737.5" y1="508.3" x2="911.7" y2="508.3" stroke="#bdbdbd" stroke-width="1.2" stroke-dasharray="5.6 8.6"/>
<line x1="732" y1="508.3" x2="736" y2="508.3" stroke="#000" stroke-width="1.6"/>
<text x="727.3" y="512.7" font-size="12.6" text-anchor="end">2</text>
<line x1="737.5" y1="458.7" x2="911.7" y2="458.7" stroke="#bdbdbd" stroke-width="1.2" stroke-dasharray="5.6 8.6"/>
<line x1="732" y1="458.7" x2="736" y2="458.7" stroke="#000" stroke-width="1.6"/>
<text x="727.3" y="463.1" font-size="12.6" text-anchor="end">3</text>
<line x1="737.5" y1="409.1" x2="911.7" y2="409.1" stroke="#bdbdbd" stroke-width="1.2" stroke-dasharray="5.6 8.6"/>
<line x1="732" y1="409.1" x2="736" y2="409.1" stroke="#000" stroke-width="1.6"/>
<text x="727.3" y="413.5" font-size="12.6" text-anchor="end">4</text>
<line x1="736.5" y1="618.2" x2="911.7" y2="618.2" stroke="#000" stroke-width="1.8"/>
<line x1="783.8" y1="618.2" x2="783.8" y2="622.7" stroke="#000" stroke-width="1.6"/>
<line x1="863.6" y1="618.2" x2="863.6" y2="622.7" stroke="#000" stroke-width="1.6"/>
<text x="789" y="643.4" font-size="17.5" font-weight="bold" text-anchor="middle">UT</text>
<text x="868.8" y="643.4" font-size="17.5" font-weight="bold" text-anchor="middle">IR</text>
<text transform="translate(711.3 499) rotate(-90)" font-size="18.2" font-weight="bold" text-anchor="middle">CDKN1A</text>
<path d="M783.8 405.1C784.1 409.1 784.3 419.9 785.6 428.8C787 437.6 790.2 449.2 792 458.3C793.8 467.4 794.9 475.1 796.4 483.4C797.9 491.8 799.4 501.2 800.8 508.6C802.3 516 804.4 522.9 805.3 527.8C806.1 532.7 806 534.4 806 538.1C806 541.8 805.3 546.7 805.3 549.9C805.2 553.1 805.3 554.4 805.7 557.3C806.1 560.3 807.9 564.2 807.5 567.7C807 571.1 804.6 574.8 803 578C801.4 581.2 799.1 584.4 797.9 586.9C796.7 589.3 796.3 589.3 796 592.8C795.6 596.2 795.7 605.1 795.7 607.6L772 607.6C772 605.1 772.1 596.2 771.7 592.8C771.4 589.3 771 589.3 769.8 586.9C768.6 584.4 766.2 581.2 764.6 578C763 574.8 760.6 571.1 760.2 567.7C759.8 564.2 761.6 560.3 762 557.3C762.3 554.4 762.5 553.1 762.4 549.9C762.4 546.7 761.7 541.8 761.7 538.1C761.7 534.4 761.5 532.7 762.4 527.8C763.3 522.9 765.4 516 766.8 508.6C768.3 501.2 769.8 491.8 771.3 483.4C772.8 475.1 773.9 467.4 775.7 458.3C777.5 449.2 780.7 437.6 782.1 428.8C783.4 419.9 783.5 409.1 783.8 405.1Z" fill="#4fb07f" stroke="#000" stroke-width="1.3" stroke-linejoin="round"/>
<line x1="783.8" y1="405.1" x2="783.8" y2="607.6" stroke="#000" stroke-width="1.3"/>
<rect x="776.2" y="504.9" width="15.4" height="68.4" fill="#fff" stroke="#000" stroke-width="1.3"/>
<line x1="776.2" y1="538.9" x2="791.5" y2="538.9" stroke="#000" stroke-width="1.4"/>
<path d="M863.6 390.3C864 392.3 863.9 397.7 865.9 402.2C867.8 406.6 871.9 412 875.5 416.9C879 421.9 883.8 426.8 887.3 431.7C890.7 436.6 894 441.3 896.1 446.5C898.3 451.7 900.2 457.8 900.3 462.8C900.4 467.7 899.5 471.4 896.9 476.1C894.2 480.7 887 485.9 884.3 490.8C881.6 495.8 882 500.7 880.6 505.6C879.3 510.5 877.8 515.5 876.2 520.4C874.6 525.3 872.8 530.2 871 535.2C869.2 540.1 866.5 543.8 865.4 549.9C864.3 556.1 864.4 562.5 864.4 572.1C864.3 581.7 865 601.7 865.1 607.6L862.2 607.6C862.3 601.7 862.9 581.7 862.9 572.1C862.8 562.5 863 556.1 861.9 549.9C860.8 543.8 858 540.1 856.2 535.2C854.5 530.2 852.7 525.3 851.1 520.4C849.5 515.5 848 510.5 846.6 505.6C845.3 500.7 845.7 495.8 842.9 490.8C840.2 485.9 833 480.7 830.4 476.1C827.7 471.4 826.9 467.7 827 462.8C827.1 457.8 829 451.7 831.1 446.5C833.3 441.3 836.5 436.6 840 431.7C843.4 426.8 848.2 421.9 851.8 416.9C855.4 412 859.4 406.6 861.4 402.2C863.4 397.7 863.3 392.3 863.6 390.3Z" fill="#e8399c" stroke="#000" stroke-width="1.3" stroke-linejoin="round"/>
<line x1="863.6" y1="390.3" x2="863.6" y2="607.6" stroke="#000" stroke-width="1.3"/>
<rect x="855.7" y="447.7" width="16" height="45.8" fill="#fff" stroke="#000" stroke-width="1.3"/>
<line x1="855.7" y1="466.9" x2="871.6" y2="466.9" stroke="#000" stroke-width="1.4"/>
<line x1="989.8" y1="607.6" x2="1163.9" y2="607.6" stroke="#bdbdbd" stroke-width="1.2" stroke-dasharray="5.6 8.6"/>
<line x1="984.3" y1="607.6" x2="988.3" y2="607.6" stroke="#000" stroke-width="1.6"/>
<text x="979.6" y="612" font-size="12.6" text-anchor="end">0.0</text>
<line x1="989.8" y1="555.3" x2="1163.9" y2="555.3" stroke="#bdbdbd" stroke-width="1.2" stroke-dasharray="5.6 8.6"/>
<line x1="984.3" y1="555.3" x2="988.3" y2="555.3" stroke="#000" stroke-width="1.6"/>
<text x="979.6" y="559.7" font-size="12.6" text-anchor="end">0.5</text>
<line x1="989.8" y1="503" x2="1163.9" y2="503" stroke="#bdbdbd" stroke-width="1.2" stroke-dasharray="5.6 8.6"/>
<line x1="984.3" y1="503" x2="988.3" y2="503" stroke="#000" stroke-width="1.6"/>
<text x="979.6" y="507.4" font-size="12.6" text-anchor="end">1.0</text>
<line x1="989.8" y1="450.7" x2="1163.9" y2="450.7" stroke="#bdbdbd" stroke-width="1.2" stroke-dasharray="5.6 8.6"/>
<line x1="984.3" y1="450.7" x2="988.3" y2="450.7" stroke="#000" stroke-width="1.6"/>
<text x="979.6" y="455.1" font-size="12.6" text-anchor="end">1.5</text>
<line x1="989.8" y1="398.5" x2="1163.9" y2="398.5" stroke="#bdbdbd" stroke-width="1.2" stroke-dasharray="5.6 8.6"/>
<line x1="984.3" y1="398.5" x2="988.3" y2="398.5" stroke="#000" stroke-width="1.6"/>
<text x="979.6" y="402.9" font-size="12.6" text-anchor="end">2.0</text>
<line x1="988.8" y1="618.2" x2="1163.9" y2="618.2" stroke="#000" stroke-width="1.8"/>
<line x1="1036.8" y1="618.2" x2="1036.8" y2="622.7" stroke="#000" stroke-width="1.6"/>
<line x1="1115.9" y1="618.2" x2="1115.9" y2="622.7" stroke="#000" stroke-width="1.6"/>
<text x="1035.3" y="643.4" font-size="17.5" font-weight="bold" text-anchor="middle">UT</text>
<text x="1116.6" y="643.4" font-size="17.5" font-weight="bold" text-anchor="middle">IR</text>
<text transform="translate(953.5 505) rotate(-90)" font-size="18.2" font-weight="bold" text-anchor="middle">FAS</text>
<path d="M1036.8 439.1C1036.8 445.3 1036.8 468.7 1037.1 476.1C1037.3 483.4 1038 480.7 1038.3 483.4C1038.6 486.2 1038.9 489.4 1038.9 492.3C1038.8 495.3 1038.3 498 1038 501.2C1037.7 504.4 1036.7 508.3 1037.1 511.5C1037.4 514.7 1039.2 517.7 1040 520.4C1040.9 523.1 1041.8 525.3 1042.4 527.8C1043 530.2 1043.5 532.7 1043.4 535.2C1043.4 537.6 1042.6 540.1 1042 542.6C1041.3 545 1040.3 547.5 1039.5 549.9C1038.6 552.4 1037.5 552.7 1037.1 557.3C1036.7 562 1036.8 573.6 1037.2 578C1037.7 582.5 1037.9 582 1039.7 583.9C1041.6 585.9 1045.4 587.9 1048.6 589.8C1051.8 591.8 1055.8 593.8 1059 595.8C1062.2 597.7 1065.7 600.2 1067.8 601.7C1069.9 603.1 1070.7 603.6 1071.5 604.6C1072.4 605.6 1072.8 607.1 1073 607.6L1000.6 607.6C1000.8 607.1 1001.2 605.6 1002.1 604.6C1002.9 603.6 1003.7 603.1 1005.8 601.7C1007.9 600.2 1011.4 597.7 1014.6 595.8C1017.8 593.8 1021.8 591.8 1025 589.8C1028.2 587.9 1031.9 585.9 1033.8 583.9C1035.7 582 1035.9 582.5 1036.3 578C1036.8 573.6 1036.9 562 1036.5 557.3C1036.1 552.7 1034.9 552.4 1034.1 549.9C1033.3 547.5 1032.3 545 1031.6 542.6C1031 540.1 1030.2 537.6 1030.1 535.2C1030.1 532.7 1030.6 530.2 1031.2 527.8C1031.7 525.3 1032.7 523.1 1033.5 520.4C1034.4 517.7 1036.2 514.7 1036.5 511.5C1036.8 508.3 1035.9 504.4 1035.6 501.2C1035.3 498 1034.8 495.3 1034.7 492.3C1034.7 489.4 1035 486.2 1035.3 483.4C1035.6 480.7 1036.3 483.4 1036.5 476.1C1036.7 468.7 1036.7 445.3 1036.8 439.1Z" fill="#4fb07f" stroke="#000" stroke-width="1.3" stroke-linejoin="round"/>
<line x1="1036.8" y1="439.1" x2="1036.8" y2="607.6" stroke="#000" stroke-width="1.3"/>
<path d="M1115.9 390.3C1116.1 393.5 1116.5 401.4 1117 409.6C1117.5 417.7 1118.2 429.3 1118.8 439.1C1119.4 449 1120 459.8 1120.6 468.7C1121.1 477.5 1121.6 484.9 1122.1 492.3C1122.5 499.7 1122.7 507.1 1123.2 513C1123.7 518.9 1124.7 524.1 1125 527.8C1125.4 531.5 1125.4 532.7 1125.3 535.2C1125.3 537.6 1124.9 536.4 1124.7 542.6C1124.5 548.7 1124.2 561.3 1124.1 572.1C1124 582.9 1124.1 601.7 1124.1 607.6L1107.6 607.6C1107.6 601.7 1107.7 582.9 1107.6 572.1C1107.5 561.3 1107.2 548.7 1107 542.6C1106.8 536.4 1106.4 537.6 1106.4 535.2C1106.3 532.7 1106.3 531.5 1106.7 527.8C1107 524.1 1108 518.9 1108.5 513C1109 507.1 1109.2 499.7 1109.6 492.3C1110.1 484.9 1110.6 477.5 1111.1 468.7C1111.7 459.8 1112.3 449 1112.9 439.1C1113.5 429.3 1114.2 417.7 1114.7 409.6C1115.2 401.4 1115.7 393.5 1115.9 390.3Z" fill="#e8399c" stroke="#000" stroke-width="1.3" stroke-linejoin="round"/>
<line x1="1115.9" y1="390.3" x2="1115.9" y2="607.6" stroke="#000" stroke-width="1.3"/>
<rect x="1107.6" y="492.6" width="16.6" height="115" fill="#fff" stroke="#000" stroke-width="1.3"/>
<line x1="1107.6" y1="534.9" x2="1124.1" y2="534.9" stroke="#000" stroke-width="1.4"/>
<line x1="1230.2" y1="607.6" x2="1404.3" y2="607.6" stroke="#bdbdbd" stroke-width="1.2" stroke-dasharray="5.6 8.6"/>
<line x1="1224.7" y1="607.6" x2="1228.7" y2="607.6" stroke="#000" stroke-width="1.6"/>
<text x="1220" y="612" font-size="12.6" text-anchor="end">0</text>
<line x1="1230.2" y1="543" x2="1404.3" y2="543" stroke="#bdbdbd" stroke-width="1.2" stroke-dasharray="5.6 8.6"/>
<line x1="1224.7" y1="543" x2="1228.7" y2="543" stroke="#000" stroke-width="1.6"/>
<text x="1220" y="547.4" font-size="12.6" text-anchor="end">1</text>
<line x1="1230.2" y1="478.5" x2="1404.3" y2="478.5" stroke="#bdbdbd" stroke-width="1.2" stroke-dasharray="5.6 8.6"/>
<line x1="1224.7" y1="478.5" x2="1228.7" y2="478.5" stroke="#000" stroke-width="1.6"/>
<text x="1220" y="482.9" font-size="12.6" text-anchor="end">2</text>
<line x1="1230.2" y1="414" x2="1404.3" y2="414" stroke="#bdbdbd" stroke-width="1.2" stroke-dasharray="5.6 8.6"/>
<line x1="1224.7" y1="414" x2="1228.7" y2="414" stroke="#000" stroke-width="1.6"/>
<text x="1220" y="418.4" font-size="12.6" text-anchor="end">3</text>
<line x1="1229.2" y1="618.2" x2="1404.3" y2="618.2" stroke="#000" stroke-width="1.8"/>
<line x1="1276.7" y1="618.2" x2="1276.7" y2="622.7" stroke="#000" stroke-width="1.6"/>
<line x1="1356.5" y1="618.2" x2="1356.5" y2="622.7" stroke="#000" stroke-width="1.6"/>
<text x="1280.9" y="643.4" font-size="17.5" font-weight="bold" text-anchor="middle">UT</text>
<text x="1362.2" y="643.4" font-size="17.5" font-weight="bold" text-anchor="middle">IR</text>
<text transform="translate(1204 499) rotate(-90)" font-size="18.2" font-weight="bold" text-anchor="middle">GADD45A</text>
<path d="M1276.7 432.5C1276.9 439.7 1276.9 466.3 1277.5 476.1C1278.1 485.8 1279.2 485.9 1280.4 490.8C1281.7 495.8 1283 500.7 1284.9 505.6C1286.7 510.5 1289.7 516 1291.5 520.4C1293.4 524.8 1295.2 528.5 1296 532.2C1296.7 535.9 1295.5 539.1 1296 542.6C1296.4 546 1297.7 549.7 1298.9 552.9C1300.1 556.1 1303.5 558.6 1303 561.8C1302.6 565 1298.8 569.2 1296 572.1C1293.1 575.1 1287.7 577 1285.9 579.5C1284.1 582 1283.9 584.7 1285.3 586.9C1286.7 589.1 1291.5 590.8 1294.5 592.8C1297.5 594.8 1300.6 596.7 1303.3 598.7C1306.1 600.7 1309.1 603.1 1310.7 604.6C1312.3 606.1 1312.6 607.1 1312.9 607.6L1240.5 607.6C1240.9 607.1 1241.2 606.1 1242.8 604.6C1244.4 603.1 1247.4 600.7 1250.1 598.7C1252.9 596.7 1256 594.8 1259 592.8C1262 590.8 1266.7 589.1 1268.2 586.9C1269.6 584.7 1269.4 582 1267.6 579.5C1265.8 577 1260.4 575.1 1257.5 572.1C1254.7 569.2 1250.9 565 1250.4 561.8C1249.9 558.6 1253.4 556.1 1254.6 552.9C1255.8 549.7 1257 546 1257.5 542.6C1258 539.1 1256.8 535.9 1257.5 532.2C1258.3 528.5 1260.1 524.8 1262 520.4C1263.8 516 1266.8 510.5 1268.6 505.6C1270.5 500.7 1271.8 495.8 1273.1 490.8C1274.3 485.9 1275.4 485.8 1276 476.1C1276.6 466.3 1276.6 439.7 1276.7 432.5Z" fill="#4fb07f" stroke="#000" stroke-width="1.3" stroke-linejoin="round"/>
<line x1="1276.7" y1="432.5" x2="1276.7" y2="607.6" stroke="#000" stroke-width="1.3"/>
<rect x="1269.1" y="536.6" width="15.4" height="70.9" fill="#fff" stroke="#000" stroke-width="1.3"/>
<line x1="1269.1" y1="563.2" x2="1284.4" y2="563.2" stroke="#000" stroke-width="1.4"/>
<path d="M1356.5 390.3C1356.7 392.3 1357.1 396.5 1357.7 402.2C1358.3 407.8 1358.7 416.9 1360.2 424.3C1361.8 431.7 1364.5 439.1 1366.9 446.5C1369.2 453.9 1372.2 461.3 1374.3 468.7C1376.4 476.1 1378.3 484.7 1379.4 490.8C1380.6 497 1381 500.7 1380.9 505.6C1380.8 510.5 1380.4 514.2 1378.7 520.4C1377 526.5 1372.6 536.4 1370.6 542.6C1368.6 548.7 1368.2 552.4 1366.9 557.3C1365.5 562.3 1363.8 567.9 1362.5 572.1C1361.1 576.3 1359 579 1358.8 582.5C1358.5 585.9 1360.2 589.6 1361 592.8C1361.7 596 1362.8 599.2 1363.2 601.7C1363.6 604.1 1363.4 606.6 1363.5 607.6L1349.6 607.6C1349.6 606.6 1349.5 604.1 1349.9 601.7C1350.3 599.2 1351.4 596 1352.1 592.8C1352.8 589.6 1354.6 585.9 1354.3 582.5C1354.1 579 1352 576.3 1350.6 572.1C1349.3 567.9 1347.6 562.3 1346.2 557.3C1344.8 552.4 1344.5 548.7 1342.5 542.6C1340.5 536.4 1336.1 526.5 1334.4 520.4C1332.7 514.2 1332.3 510.5 1332.2 505.6C1332 500.7 1332.5 497 1333.6 490.8C1334.7 484.7 1336.7 476.1 1338.8 468.7C1340.9 461.3 1343.9 453.9 1346.2 446.5C1348.5 439.1 1351.3 431.7 1352.8 424.3C1354.4 416.9 1354.7 407.8 1355.4 402.2C1356 396.5 1356.3 392.3 1356.5 390.3Z" fill="#e8399c" stroke="#000" stroke-width="1.3" stroke-linejoin="round"/>
<line x1="1356.5" y1="390.3" x2="1356.5" y2="607.6" stroke="#000" stroke-width="1.3"/>
<rect x="1348.7" y="482" width="15.7" height="54.2" fill="#fff" stroke="#000" stroke-width="1.3"/>
<line x1="1348.7" y1="503.4" x2="1364.4" y2="503.4" stroke="#000" stroke-width="1.4"/>
<line x1="1470.6" y1="607.6" x2="1644.6" y2="607.6" stroke="#bdbdbd" stroke-width="1.2" stroke-dasharray="5.6 8.6"/>
<line x1="1465.1" y1="607.6" x2="1469.1" y2="607.6" stroke="#000" stroke-width="1.6"/>
<text x="1460.4" y="612" font-size="12.6" text-anchor="end">0</text>
<line x1="1470.6" y1="546.4" x2="1644.6" y2="546.4" stroke="#bdbdbd" stroke-width="1.2" stroke-dasharray="5.6 8.6"/>
<line x1="1465.1" y1="546.4" x2="1469.1" y2="546.4" stroke="#000" stroke-width="1.6"/>
<text x="1460.4" y="550.8" font-size="12.6" text-anchor="end">1</text>
<line x1="1470.6" y1="485.2" x2="1644.6" y2="485.2" stroke="#bdbdbd" stroke-width="1.2" stroke-dasharray="5.6 8.6"/>
<line x1="1465.1" y1="485.2" x2="1469.1" y2="485.2" stroke="#000" stroke-width="1.6"/>
<text x="1460.4" y="489.6" font-size="12.6" text-anchor="end">2</text>
<line x1="1470.6" y1="424" x2="1644.6" y2="424" stroke="#bdbdbd" stroke-width="1.2" stroke-dasharray="5.6 8.6"/>
<line x1="1465.1" y1="424" x2="1469.1" y2="424" stroke="#000" stroke-width="1.6"/>
<text x="1460.4" y="428.4" font-size="12.6" text-anchor="end">3</text>
<line x1="1469.6" y1="618.2" x2="1644.6" y2="618.2" stroke="#000" stroke-width="1.8"/>
<line x1="1516.9" y1="618.2" x2="1516.9" y2="622.7" stroke="#000" stroke-width="1.6"/>
<line x1="1596.7" y1="618.2" x2="1596.7" y2="622.7" stroke="#000" stroke-width="1.6"/>
<text x="1526.1" y="643.4" font-size="17.5" font-weight="bold" text-anchor="middle">UT</text>
<text x="1608.1" y="643.4" font-size="17.5" font-weight="bold" text-anchor="middle">IR</text>
<text transform="translate(1444.5 499) rotate(-90)" font-size="18.2" font-weight="bold" text-anchor="middle">MDM2</text>
<path d="M1516.9 434.4C1517 440.1 1517.2 460.5 1517.6 468.7C1518.1 476.8 1518.8 478.5 1519.6 483.4C1520.3 488.4 1521 493.3 1522.1 498.2C1523.1 503.1 1524.3 508.1 1525.8 513C1527.2 517.9 1529.8 522.9 1530.9 527.8C1532 532.7 1531.5 538.1 1532.4 542.6C1533.3 547 1535 550.7 1536.1 554.4C1537.2 558.1 1539.7 561.3 1539.1 564.7C1538.4 568.2 1534.6 571.9 1532.4 575.1C1530.2 578.3 1526.9 581.7 1525.8 583.9C1524.7 586.1 1524.3 586.6 1525.8 588.4C1527.2 590.1 1531.2 592.1 1534.6 594.3C1538.1 596.5 1543.4 599.4 1546.4 601.7C1549.5 603.9 1552 606.6 1553.1 607.6L1480.7 607.6C1481.8 606.6 1484.3 603.9 1487.3 601.7C1490.4 599.4 1495.7 596.5 1499.2 594.3C1502.6 592.1 1506.5 590.1 1508 588.4C1509.5 586.6 1509.1 586.1 1508 583.9C1506.9 581.7 1503.6 578.3 1501.4 575.1C1499.2 571.9 1495.3 568.2 1494.7 564.7C1494.1 561.3 1496.6 558.1 1497.7 554.4C1498.8 550.7 1500.5 547 1501.4 542.6C1502.2 538.1 1501.7 532.7 1502.9 527.8C1504 522.9 1506.5 517.9 1508 513C1509.5 508.1 1510.7 503.1 1511.7 498.2C1512.8 493.3 1513.5 488.4 1514.2 483.4C1515 478.5 1515.7 476.8 1516.2 468.7C1516.6 460.5 1516.8 440.1 1516.9 434.4Z" fill="#4fb07f" stroke="#000" stroke-width="1.3" stroke-linejoin="round"/>
<line x1="1516.9" y1="434.4" x2="1516.9" y2="607.6" stroke="#000" stroke-width="1.3"/>
<rect x="1509.2" y="540.3" width="15.4" height="67.2" fill="#fff" stroke="#000" stroke-width="1.3"/>
<line x1="1509.2" y1="565" x2="1524.6" y2="565" stroke="#000" stroke-width="1.4"/>
<path d="M1596.7 389.6C1596.8 394.9 1596.8 413.1 1597.4 421.4C1598 429.6 1598.8 432.5 1600.4 439.1C1602 445.8 1604.7 453.9 1607 461.3C1609.4 468.7 1612.5 476.1 1614.4 483.4C1616.4 490.8 1618.1 499.5 1618.9 505.6C1619.6 511.8 1619.8 515.5 1618.9 520.4C1617.9 525.3 1614.3 530.2 1612.9 535.2C1611.6 540.1 1611.7 545 1610.7 549.9C1609.7 554.9 1608.8 559.8 1607 564.7C1605.3 569.6 1601.9 575.3 1600.4 579.5C1598.9 583.7 1598 586.6 1598.2 589.8C1598.3 593 1600.3 595.8 1601.1 598.7C1601.9 601.7 1602.6 606.1 1602.9 607.6L1590.5 607.6C1590.8 606.1 1591.5 601.7 1592.3 598.7C1593 595.8 1595.1 593 1595.2 589.8C1595.3 586.6 1594.5 583.7 1593 579.5C1591.5 575.3 1588.1 569.6 1586.3 564.7C1584.6 559.8 1583.6 554.9 1582.7 549.9C1581.7 545 1581.8 540.1 1580.4 535.2C1579.1 530.2 1575.5 525.3 1574.5 520.4C1573.5 515.5 1573.8 511.8 1574.5 505.6C1575.3 499.5 1577 490.8 1579 483.4C1580.9 476.1 1584 468.7 1586.3 461.3C1588.7 453.9 1591.4 445.8 1593 439.1C1594.6 432.5 1595.3 429.6 1596 421.4C1596.6 413.1 1596.6 394.9 1596.7 389.6Z" fill="#e8399c" stroke="#000" stroke-width="1.3" stroke-linejoin="round"/>
<line x1="1596.7" y1="389.6" x2="1596.7" y2="607.6" stroke="#000" stroke-width="1.3"/>
<rect x="1588.9" y="488.6" width="15.7" height="51.4" fill="#fff" stroke="#000" stroke-width="1.3"/>
<line x1="1588.9" y1="522.6" x2="1604.5" y2="522.6" stroke="#000" stroke-width="1.4"/>
<line x1="1722.8" y1="607.4" x2="1896.6" y2="607.4" stroke="#bdbdbd" stroke-width="1.2" stroke-dasharray="5.6 8.6"/>
<line x1="1717.3" y1="607.4" x2="1721.3" y2="607.4" stroke="#000" stroke-width="1.6"/>
<text x="1712.6" y="611.8" font-size="12.6" text-anchor="end">0.0</text>
<line x1="1722.8" y1="558" x2="1896.6" y2="558" stroke="#bdbdbd" stroke-width="1.2" stroke-dasharray="5.6 8.6"/>
<line x1="1717.3" y1="558" x2="1721.3" y2="558" stroke="#000" stroke-width="1.6"/>
<text x="1712.6" y="562.4" font-size="12.6" text-anchor="end">0.5</text>
<line x1="1722.8" y1="508.6" x2="1896.6" y2="508.6" stroke="#bdbdbd" stroke-width="1.2" stroke-dasharray="5.6 8.6"/>
<line x1="1717.3" y1="508.6" x2="1721.3" y2="508.6" stroke="#000" stroke-width="1.6"/>
<text x="1712.6" y="513" font-size="12.6" text-anchor="end">1.0</text>
<line x1="1722.8" y1="459.2" x2="1896.6" y2="459.2" stroke="#bdbdbd" stroke-width="1.2" stroke-dasharray="5.6 8.6"/>
<line x1="1717.3" y1="459.2" x2="1721.3" y2="459.2" stroke="#000" stroke-width="1.6"/>
<text x="1712.6" y="463.6" font-size="12.6" text-anchor="end">1.5</text>
<line x1="1722.8" y1="409.7" x2="1896.6" y2="409.7" stroke="#bdbdbd" stroke-width="1.2" stroke-dasharray="5.6 8.6"/>
<line x1="1717.3" y1="409.7" x2="1721.3" y2="409.7" stroke="#000" stroke-width="1.6"/>
<text x="1712.6" y="414.1" font-size="12.6" text-anchor="end">2.0</text>
<line x1="1721.8" y1="618.7" x2="1896.6" y2="618.7" stroke="#000" stroke-width="1.8"/>
<line x1="1769.3" y1="618.7" x2="1769.3" y2="623.2" stroke="#000" stroke-width="1.6"/>
<line x1="1848.9" y1="618.7" x2="1848.9" y2="623.2" stroke="#000" stroke-width="1.6"/>
<text x="1772.1" y="643.9" font-size="17.5" font-weight="bold" text-anchor="middle">UT</text>
<text x="1854" y="643.9" font-size="17.5" font-weight="bold" text-anchor="middle">IR</text>
<text transform="translate(1684.5 499) rotate(-90)" font-size="18.2" font-weight="bold" text-anchor="middle">TP53BP1</text>
<path d="M1775.8 414.9C1776.2 417.1 1776.2 422 1778.2 428.2C1780.2 434.5 1784.9 444.3 1787.8 452.3C1790.8 460.4 1793.4 469.7 1795.8 476.4C1798.3 483.1 1801.5 487.1 1802.3 492.5C1803.1 497.9 1801.5 503.8 1800.7 508.6C1799.9 513.4 1797 516.9 1797.5 521.4C1797.9 526 1803.2 531.3 1803.1 535.9C1802.9 540.5 1800.4 543.9 1796.6 548.8C1792.9 553.6 1783.8 560.8 1780.6 564.8C1777.4 568.8 1777.4 569.9 1777.4 572.9C1777.4 575.8 1777.4 579 1780.6 582.5C1783.8 586 1792.9 590.5 1796.6 593.8C1800.4 597 1801.6 599.5 1803.1 601.8C1804.5 604.1 1805.1 606.5 1805.5 607.4L1733.2 607.4C1733.6 606.5 1734.1 604.1 1735.6 601.8C1737 599.5 1738.3 597 1742 593.8C1745.8 590.5 1754.9 586 1758.1 582.5C1761.3 579 1761.3 575.8 1761.3 572.9C1761.3 569.9 1761.3 568.8 1758.1 564.8C1754.9 560.8 1745.8 553.6 1742 548.8C1738.3 543.9 1735.7 540.5 1735.6 535.9C1735.4 531.3 1740.8 526 1741.2 521.4C1741.6 516.9 1738.8 513.4 1738 508.6C1737.2 503.8 1735.6 497.9 1736.4 492.5C1737.2 487.1 1740.4 483.1 1742.8 476.4C1745.2 469.7 1747.9 460.4 1750.8 452.3C1753.8 444.3 1758.5 434.5 1760.5 428.2C1762.5 422 1762.5 417.1 1762.9 414.9Z" fill="#4fb07f" stroke="#000" stroke-width="1.3" stroke-linejoin="round"/>
<line x1="1769.3" y1="414.9" x2="1769.3" y2="607.4" stroke="#000" stroke-width="1.3"/>
<rect x="1761.8" y="498.9" width="15.1" height="108.5" fill="#fff" stroke="#000" stroke-width="1.3"/>
<line x1="1761.8" y1="539.1" x2="1776.9" y2="539.1" stroke="#000" stroke-width="1.4"/>
<path d="M1848.9 390C1849.4 392.3 1850.1 397.7 1852.1 404.1C1854.1 410.5 1857.1 420.2 1860.9 428.2C1864.8 436.3 1872.1 445.6 1875.4 452.3C1878.7 459 1879.7 463 1881 468.4C1882.4 473.8 1883.7 479.1 1883.4 484.5C1883.2 489.8 1880.8 495.2 1879.4 500.5C1878.1 505.9 1875 511.3 1875.4 516.6C1875.8 522 1882.2 527.3 1881.8 532.7C1881.4 538 1876.6 543.4 1873 548.8C1869.4 554.1 1862.9 560.8 1860.1 564.8C1857.3 568.8 1856.1 569.9 1856.1 572.9C1856.1 575.8 1857.3 579 1860.1 582.5C1862.9 586 1869.8 590 1873 593.8C1876.2 597.5 1878.3 602.7 1879.4 605C1880.5 607.3 1879.4 607 1879.4 607.4L1818.3 607.4C1818.3 607 1817.3 607.3 1818.3 605C1819.4 602.7 1821.6 597.5 1824.8 593.8C1828 590 1834.8 586 1837.6 582.5C1840.4 579 1841.6 575.8 1841.6 572.9C1841.6 569.9 1840.4 568.8 1837.6 564.8C1834.8 560.8 1828.4 554.1 1824.8 548.8C1821.2 543.4 1816.3 538 1815.9 532.7C1815.5 527.3 1822 522 1822.4 516.6C1822.8 511.3 1819.7 505.9 1818.3 500.5C1817 495.2 1814.6 489.8 1814.3 484.5C1814.1 479.1 1815.4 473.8 1816.7 468.4C1818.1 463 1819 459 1822.4 452.3C1825.7 445.6 1832.9 436.3 1836.8 428.2C1840.7 420.2 1843.7 410.5 1845.7 404.1C1847.7 397.7 1848.3 392.3 1848.9 390Z" fill="#e8399c" stroke="#000" stroke-width="1.3" stroke-linejoin="round"/>
<line x1="1848.9" y1="390" x2="1848.9" y2="607.4" stroke="#000" stroke-width="1.3"/>
<rect x="1840.8" y="470.5" width="16.1" height="68.6" fill="#fff" stroke="#000" stroke-width="1.3"/>
<line x1="1840.8" y1="498.9" x2="1856.9" y2="498.9" stroke="#000" stroke-width="1.4"/>
<text x="632.2" y="699.3" font-size="39" font-weight="bold">e</text>
<line x1="737.5" y1="920.7" x2="911.7" y2="920.7" stroke="#bdbdbd" stroke-width="1.2" stroke-dasharray="5.6 8.6"/>
<line x1="732" y1="920.7" x2="736" y2="920.7" stroke="#000" stroke-width="1.6"/>
<text x="727.3" y="925.1" font-size="12.6" text-anchor="end">0</text>
<line x1="737.5" y1="877.5" x2="911.7" y2="877.5" stroke="#bdbdbd" stroke-width="1.2" stroke-dasharray="5.6 8.6"/>
<line x1="732" y1="877.5" x2="736" y2="877.5" stroke="#000" stroke-width="1.6"/>
<text x="727.3" y="881.9" font-size="12.6" text-anchor="end">1</text>
<line x1="737.5" y1="834.4" x2="911.7" y2="834.4" stroke="#bdbdbd" stroke-width="1.2" stroke-dasharray="5.6 8.6"/>
<line x1="732" y1="834.4" x2="736" y2="834.4" stroke="#000" stroke-width="1.6"/>
<text x="727.3" y="838.8" font-size="12.6" text-anchor="end">2</text>
<line x1="737.5" y1="791.2" x2="911.7" y2="791.2" stroke="#bdbdbd" stroke-width="1.2" stroke-dasharray="5.6 8.6"/>
<line x1="732" y1="791.2" x2="736" y2="791.2" stroke="#000" stroke-width="1.6"/>
<text x="727.3" y="795.6" font-size="12.6" text-anchor="end">3</text>
<line x1="737.5" y1="748.1" x2="911.7" y2="748.1" stroke="#bdbdbd" stroke-width="1.2" stroke-dasharray="5.6 8.6"/>
<line x1="732" y1="748.1" x2="736" y2="748.1" stroke="#000" stroke-width="1.6"/>
<text x="727.3" y="752.5" font-size="12.6" text-anchor="end">4</text>
<line x1="736.5" y1="929.5" x2="911.7" y2="929.5" stroke="#000" stroke-width="1.8"/>
<line x1="780.6" y1="929.5" x2="780.6" y2="934" stroke="#000" stroke-width="1.6"/>
<line x1="863.6" y1="929.5" x2="863.6" y2="934" stroke="#000" stroke-width="1.6"/>
<text x="783.1" y="955" font-size="17.5" font-weight="bold" text-anchor="middle">UT</text>
<text x="865.1" y="955" font-size="17.5" font-weight="bold" text-anchor="middle">IR</text>
<text transform="translate(711.3 826) rotate(-90)" font-size="18.2" font-weight="bold" text-anchor="middle">CDKN1A</text>
<path d="M761.4 744.4C761.5 748.4 761.5 760.5 762.1 768.8C762.7 777 764 784.8 765.1 793.9C766.2 803 767.7 814.8 768.8 823.4C769.9 832.1 771 839.5 771.7 845.6C772.4 851.8 772.8 855.5 772.9 860.4C773 865.3 772.4 871 772.5 875.2C772.6 879.4 773.9 881.8 773.5 885.5C773.1 889.2 771.3 893.9 770.2 897.3C769.2 900.8 767.7 902.3 767.3 906.2C766.8 910.1 767.5 918.3 767.6 920.7L755.2 920.7C755.2 918.3 755.9 910.1 755.5 906.2C755 902.3 753.5 900.8 752.5 897.3C751.5 893.9 749.6 889.2 749.3 885.5C748.9 881.8 750.2 879.4 750.3 875.2C750.4 871 749.7 865.3 749.8 860.4C750 855.5 750.3 851.8 751 845.6C751.7 839.5 752.9 832.1 754 823.4C755.1 814.8 756.6 803 757.7 793.9C758.8 784.8 760 777 760.6 768.8C761.3 760.5 761.3 748.4 761.4 744.4Z" fill="#4fb07f" stroke="#000" stroke-width="1.3" stroke-linejoin="round"/>
<line x1="761.4" y1="744.4" x2="761.4" y2="920.7" stroke="#000" stroke-width="1.3"/>
<rect x="757.4" y="831.1" width="8" height="60.3" fill="#fff" stroke="#000" stroke-width="1.3"/>
<line x1="757.4" y1="860.7" x2="765.4" y2="860.7" stroke="#000" stroke-width="1.4"/>
<path d="M803 754.3C803.2 757.2 803.5 765.1 804.2 771.7C804.9 778.3 806 785.3 807.2 793.9C808.3 802.5 810.1 813.6 811.2 823.4C812.3 833.3 813.1 844.4 813.7 853C814.3 861.6 814.5 869.5 814.6 875.2C814.6 880.8 814.7 883.3 814.1 887C813.6 890.7 811.9 893.9 811.2 897.3C810.4 900.8 809.9 903.8 809.7 907.7C809.5 911.6 810.1 918.5 810.1 920.7L796 920.7C796 918.5 796.6 911.6 796.4 907.7C796.2 903.8 795.7 900.8 794.9 897.3C794.2 893.9 792.5 890.7 792 887C791.4 883.3 791.4 880.8 791.5 875.2C791.6 869.5 791.8 861.6 792.4 853C793 844.4 793.8 833.3 794.9 823.4C796 813.6 797.8 802.5 798.9 793.9C800.1 785.3 801.2 778.3 801.9 771.7C802.6 765.1 802.9 757.2 803 754.3Z" fill="#2f6e47" stroke="#000" stroke-width="1.3" stroke-linejoin="round"/>
<line x1="803" y1="754.3" x2="803" y2="920.7" stroke="#000" stroke-width="1.3"/>
<rect x="799.1" y="831.1" width="8" height="60.3" fill="#fff" stroke="#000" stroke-width="1.3"/>
<line x1="799.1" y1="860.7" x2="807" y2="860.7" stroke="#000" stroke-width="1.4"/>
<path d="M844.7 731.1C845 733.7 845.4 742 846.5 746.6C847.6 751.2 849.8 754.7 851.4 758.4C852.9 762.1 854.5 765.3 855.8 768.8C857.2 772.2 858.4 775.9 859.5 779.1C860.6 782.3 861.5 785 862.2 788C862.8 790.9 863.4 794.1 863.5 796.8C863.6 799.6 863.4 801.5 862.8 804.2C862.1 806.9 860.9 809.9 859.8 813.1C858.7 816.3 857.7 818 856.2 823.4C854.8 828.9 852.7 839.5 851.4 845.6C850.1 851.8 849.4 856 848.4 860.4C847.4 864.8 846 868.5 845.5 872.2C844.9 875.9 845 874.5 844.9 882.6C844.9 890.6 845.1 914.3 845.2 920.7L844.3 920.7C844.3 914.3 844.5 890.6 844.5 882.6C844.5 874.5 844.6 875.9 844 872.2C843.4 868.5 842 864.8 841 860.4C840 856 839.4 851.8 838.1 845.6C836.8 839.5 834.6 828.9 833.2 823.4C831.8 818 830.7 816.3 829.6 813.1C828.6 809.9 827.3 806.9 826.7 804.2C826.1 801.5 825.9 799.6 826 796.8C826.1 794.1 826.6 790.9 827.3 788C827.9 785 828.9 782.3 829.9 779.1C831 775.9 832.3 772.2 833.6 768.8C835 765.3 836.5 762.1 838.1 758.4C839.6 754.7 841.8 751.2 842.9 746.6C844.1 742 844.4 733.7 844.7 731.1Z" fill="#e8399c" stroke="#000" stroke-width="1.3" stroke-linejoin="round"/>
<line x1="844.7" y1="731.1" x2="844.7" y2="920.7" stroke="#000" stroke-width="1.3"/>
<rect x="840.7" y="781.8" width="8" height="39.9" fill="#fff" stroke="#000" stroke-width="1.3"/>
<line x1="840.7" y1="798.8" x2="848.7" y2="798.8" stroke="#000" stroke-width="1.4"/>
<path d="M886.5 733C887.2 735.8 888.6 744.8 890.2 749.6C891.8 754.3 894.5 757.7 896.1 761.4C897.8 765.1 899.1 768.3 900.1 771.7C901.2 775.2 901.9 778.9 902.5 782.1C903.1 785.3 903.5 787.7 903.5 790.9C903.6 794.1 903.3 797.8 902.8 801.3C902.3 804.7 901.8 806.7 900.7 811.6C899.6 816.5 897.6 823.9 896.1 830.8C894.6 837.7 893.1 846.1 891.7 853C890.3 859.9 888.5 867.3 887.7 872.2C886.9 877.1 887.1 874.5 887 882.6C886.9 890.6 887.1 914.3 887.1 920.7L886 920.7C886 914.3 886.2 890.6 886.1 882.6C886 874.5 886.1 877.1 885.4 872.2C884.6 867.3 882.8 859.9 881.4 853C880 846.1 878.4 837.7 876.9 830.8C875.4 823.9 873.5 816.5 872.4 811.6C871.2 806.7 870.8 804.7 870.3 801.3C869.8 797.8 869.5 794.1 869.5 790.9C869.6 787.7 870 785.3 870.6 782.1C871.1 778.9 871.9 775.2 872.9 771.7C874 768.3 875.3 765.1 876.9 761.4C878.6 757.7 881.2 754.3 882.8 749.6C884.4 744.8 885.9 735.8 886.5 733Z" fill="#9a1b66" stroke="#000" stroke-width="1.3" stroke-linejoin="round"/>
<line x1="886.5" y1="733" x2="886.5" y2="920.7" stroke="#000" stroke-width="1.3"/>
<rect x="882.6" y="776.9" width="8" height="44.5" fill="#fff" stroke="#000" stroke-width="1.3"/>
<line x1="882.6" y1="797.1" x2="890.5" y2="797.1" stroke="#000" stroke-width="1.4"/>
<line x1="990.5" y1="920.7" x2="1164.3" y2="920.7" stroke="#bdbdbd" stroke-width="1.2" stroke-dasharray="5.6 8.6"/>
<line x1="985" y1="920.7" x2="989" y2="920.7" stroke="#000" stroke-width="1.6"/>
<text x="980.3" y="925.1" font-size="12.6" text-anchor="end">0.0</text>
<line x1="990.5" y1="877.6" x2="1164.3" y2="877.6" stroke="#bdbdbd" stroke-width="1.2" stroke-dasharray="5.6 8.6"/>
<line x1="985" y1="877.6" x2="989" y2="877.6" stroke="#000" stroke-width="1.6"/>
<text x="980.3" y="882" font-size="12.6" text-anchor="end">0.5</text>
<line x1="990.5" y1="834.6" x2="1164.3" y2="834.6" stroke="#bdbdbd" stroke-width="1.2" stroke-dasharray="5.6 8.6"/>
<line x1="985" y1="834.6" x2="989" y2="834.6" stroke="#000" stroke-width="1.6"/>
<text x="980.3" y="839" font-size="12.6" text-anchor="end">1.0</text>
<line x1="990.5" y1="791.6" x2="1164.3" y2="791.6" stroke="#bdbdbd" stroke-width="1.2" stroke-dasharray="5.6 8.6"/>
<line x1="985" y1="791.6" x2="989" y2="791.6" stroke="#000" stroke-width="1.6"/>
<text x="980.3" y="796" font-size="12.6" text-anchor="end">1.5</text>
<line x1="990.5" y1="748.5" x2="1164.3" y2="748.5" stroke="#bdbdbd" stroke-width="1.2" stroke-dasharray="5.6 8.6"/>
<line x1="985" y1="748.5" x2="989" y2="748.5" stroke="#000" stroke-width="1.6"/>
<text x="980.3" y="752.9" font-size="12.6" text-anchor="end">2.0</text>
<line x1="989.5" y1="929.5" x2="1164.3" y2="929.5" stroke="#000" stroke-width="1.8"/>
<line x1="1033.4" y1="929.5" x2="1033.4" y2="934" stroke="#000" stroke-width="1.6"/>
<line x1="1116.6" y1="929.5" x2="1116.6" y2="934" stroke="#000" stroke-width="1.6"/>
<text x="1029" y="955" font-size="17.5" font-weight="bold" text-anchor="middle">UT</text>
<text x="1111.4" y="955" font-size="17.5" font-weight="bold" text-anchor="middle">IR</text>
<text transform="translate(953.5 826) rotate(-90)" font-size="18.2" font-weight="bold" text-anchor="middle">FAS</text>
<path d="M1013.9 782.1C1014 788.5 1014.4 812.9 1014.6 820.5C1014.8 828.1 1015.1 824.2 1015.1 827.9C1015 831.6 1014.1 838.5 1014.3 842.7C1014.6 846.8 1016 850 1016.5 853C1017.1 856 1017.7 857.9 1017.6 860.4C1017.5 862.9 1016.6 865.3 1016.1 867.8C1015.6 870.2 1014.6 870.2 1014.3 875.2C1014.1 880.1 1014 892.7 1014.6 897.3C1015.3 902 1016.5 901 1018.3 903.2C1020.2 905.5 1023.6 908.4 1025.7 910.6C1027.8 912.8 1029.7 914.9 1030.9 916.5C1032.1 918.2 1032.7 920 1033.1 920.7L994.7 920.7C995 920 995.7 918.2 996.9 916.5C998.1 914.9 1000 912.8 1002.1 910.6C1004.2 908.4 1007.6 905.5 1009.5 903.2C1011.3 901 1012.5 902 1013.1 897.3C1013.8 892.7 1013.7 880.1 1013.4 875.2C1013.2 870.2 1012.2 870.2 1011.7 867.8C1011.1 865.3 1010.3 862.9 1010.2 860.4C1010.1 857.9 1010.7 856 1011.2 853C1011.8 850 1013.2 846.8 1013.4 842.7C1013.7 838.5 1012.8 831.6 1012.7 827.9C1012.7 824.2 1013 828.1 1013.1 820.5C1013.3 812.9 1013.8 788.5 1013.9 782.1Z" fill="#4fb07f" stroke="#000" stroke-width="1.3" stroke-linejoin="round"/>
<line x1="1013.9" y1="782.1" x2="1013.9" y2="920.7" stroke="#000" stroke-width="1.3"/>
<path d="M1055.6 782.1C1055.6 789 1055.8 812.4 1056 823.4C1056.3 834.5 1056.5 842.4 1057 848.6C1057.6 854.7 1058.8 854.7 1059.3 860.4C1059.7 866.1 1059.6 875.2 1060 882.6C1060.4 889.9 1060.4 899.8 1061.5 904.7C1062.6 909.6 1065.3 909.4 1066.6 912.1C1068 914.8 1069.1 919.3 1069.6 920.7L1041.5 920.7C1042 919.3 1043.1 914.8 1044.5 912.1C1045.8 909.4 1048.5 909.6 1049.6 904.7C1050.8 899.8 1050.8 889.9 1051.1 882.6C1051.5 875.2 1051.4 866.1 1051.9 860.4C1052.4 854.7 1053.5 854.7 1054.1 848.6C1054.6 842.4 1054.9 834.5 1055.1 823.4C1055.4 812.4 1055.5 789 1055.6 782.1Z" fill="#2f6e47" stroke="#000" stroke-width="1.3" stroke-linejoin="round"/>
<line x1="1055.6" y1="782.1" x2="1055.6" y2="920.7" stroke="#000" stroke-width="1.3"/>
<rect x="1051.6" y="861.1" width="8" height="59.6" fill="#fff" stroke="#000" stroke-width="1.3"/>
<line x1="1051.6" y1="920.7" x2="1059.6" y2="920.7" stroke="#000" stroke-width="1.4"/>
<path d="M1097.1 741.4C1097.3 747.7 1097.8 767.9 1098.3 779.1C1098.7 790.3 1099.3 800.9 1099.7 808.7C1100.2 816.4 1100.9 818.3 1101.2 825.7C1101.6 833 1101.7 837.2 1101.8 853C1101.9 868.8 1101.8 909.4 1101.8 920.7L1092.4 920.7C1092.4 909.4 1092.3 868.8 1092.4 853C1092.5 837.2 1092.6 833 1092.9 825.7C1093.3 818.3 1093.9 816.4 1094.4 808.7C1094.9 800.9 1095.5 790.3 1095.9 779.1C1096.3 767.9 1096.9 747.7 1097.1 741.4Z" fill="#e8399c" stroke="#000" stroke-width="1.3" stroke-linejoin="round"/>
<line x1="1097.1" y1="741.4" x2="1097.1" y2="920.7" stroke="#000" stroke-width="1.3"/>
<rect x="1092.7" y="826.1" width="8.9" height="94.6" fill="#fff" stroke="#000" stroke-width="1.3"/>
<line x1="1092.7" y1="861.1" x2="1101.5" y2="861.1" stroke="#000" stroke-width="1.4"/>
<path d="M1139.1 731.1C1139.3 739.1 1140 766.2 1140.5 779.1C1141 792 1141.6 800.9 1142 808.7C1142.5 816.4 1142.9 818.3 1143.2 825.7C1143.5 833 1143.7 837.2 1143.8 853C1143.9 868.8 1143.8 909.4 1143.8 920.7L1134.3 920.7C1134.3 909.4 1134.2 868.8 1134.3 853C1134.4 837.2 1134.6 833 1134.9 825.7C1135.2 818.3 1135.7 816.4 1136.1 808.7C1136.5 800.9 1137.1 792 1137.6 779.1C1138.1 766.2 1138.8 739.1 1139.1 731.1Z" fill="#9a1b66" stroke="#000" stroke-width="1.3" stroke-linejoin="round"/>
<line x1="1139.1" y1="731.1" x2="1139.1" y2="920.7" stroke="#000" stroke-width="1.3"/>
<rect x="1134.6" y="826.1" width="8.9" height="94.6" fill="#fff" stroke="#000" stroke-width="1.3"/>
<line x1="1134.6" y1="861.1" x2="1143.5" y2="861.1" stroke="#000" stroke-width="1.4"/>
<line x1="1230.2" y1="920.7" x2="1404.3" y2="920.7" stroke="#bdbdbd" stroke-width="1.2" stroke-dasharray="5.6 8.6"/>
<line x1="1224.7" y1="920.7" x2="1228.7" y2="920.7" stroke="#000" stroke-width="1.6"/>
<text x="1220" y="925.1" font-size="12.6" text-anchor="end">0</text>
<line x1="1230.2" y1="875.2" x2="1404.3" y2="875.2" stroke="#bdbdbd" stroke-width="1.2" stroke-dasharray="5.6 8.6"/>
<line x1="1224.7" y1="875.2" x2="1228.7" y2="875.2" stroke="#000" stroke-width="1.6"/>
<text x="1220" y="879.6" font-size="12.6" text-anchor="end">1</text>
<line x1="1230.2" y1="829.8" x2="1404.3" y2="829.8" stroke="#bdbdbd" stroke-width="1.2" stroke-dasharray="5.6 8.6"/>
<line x1="1224.7" y1="829.8" x2="1228.7" y2="829.8" stroke="#000" stroke-width="1.6"/>
<text x="1220" y="834.2" font-size="12.6" text-anchor="end">2</text>
<line x1="1230.2" y1="784.4" x2="1404.3" y2="784.4" stroke="#bdbdbd" stroke-width="1.2" stroke-dasharray="5.6 8.6"/>
<line x1="1224.7" y1="784.4" x2="1228.7" y2="784.4" stroke="#000" stroke-width="1.6"/>
<text x="1220" y="788.8" font-size="12.6" text-anchor="end">3</text>
<line x1="1230.2" y1="738.9" x2="1404.3" y2="738.9" stroke="#bdbdbd" stroke-width="1.2" stroke-dasharray="5.6 8.6"/>
<line x1="1224.7" y1="738.9" x2="1228.7" y2="738.9" stroke="#000" stroke-width="1.6"/>
<text x="1220" y="743.3" font-size="12.6" text-anchor="end">4</text>
<line x1="1229.2" y1="929.5" x2="1404.3" y2="929.5" stroke="#000" stroke-width="1.8"/>
<line x1="1273.9" y1="929.5" x2="1273.9" y2="934" stroke="#000" stroke-width="1.6"/>
<line x1="1357" y1="929.5" x2="1357" y2="934" stroke="#000" stroke-width="1.6"/>
<text x="1274.2" y="955" font-size="17.5" font-weight="bold" text-anchor="middle">UT</text>
<text x="1357" y="955" font-size="17.5" font-weight="bold" text-anchor="middle">IR</text>
<text transform="translate(1204 826) rotate(-90)" font-size="18.2" font-weight="bold" text-anchor="middle">GADD45A</text>
<path d="M1254 797.1C1254.1 803.5 1254.1 827.2 1254.7 835.3C1255.3 843.3 1256.4 841.4 1257.7 845.6C1258.9 849.8 1261 856.2 1262.1 860.4C1263.2 864.6 1263.7 867.5 1264.3 870.7C1264.9 873.9 1265.2 876.6 1265.8 879.6C1266.4 882.6 1268.6 885.5 1268 888.5C1267.4 891.4 1263.8 894.9 1262.1 897.3C1260.4 899.8 1257.9 901.3 1257.7 903.2C1257.4 905.2 1258.8 907.2 1260.6 909.2C1262.5 911.1 1266.7 913.1 1268.8 915.1C1270.8 917 1272.2 919.7 1272.9 920.7L1235.1 920.7C1235.8 919.7 1237.2 917 1239.2 915.1C1241.3 913.1 1245.5 911.1 1247.3 909.2C1249.2 907.2 1250.5 905.2 1250.3 903.2C1250 901.3 1247.6 899.8 1245.9 897.3C1244.1 894.9 1240.6 891.4 1239.9 888.5C1239.3 885.5 1241.5 882.6 1242.2 879.6C1242.8 876.6 1243 873.9 1243.6 870.7C1244.3 867.5 1244.8 864.6 1245.9 860.4C1247 856.2 1249.1 849.8 1250.3 845.6C1251.5 841.4 1252.6 843.3 1253.2 835.3C1253.9 827.2 1253.9 803.5 1254 797.1Z" fill="#4fb07f" stroke="#000" stroke-width="1.3" stroke-linejoin="round"/>
<line x1="1254" y1="797.1" x2="1254" y2="920.7" stroke="#000" stroke-width="1.3"/>
<rect x="1250.3" y="870.7" width="7.4" height="49.9" fill="#fff" stroke="#000" stroke-width="1.3"/>
<line x1="1250.3" y1="888.9" x2="1257.7" y2="888.9" stroke="#000" stroke-width="1.4"/>
<path d="M1295.7 797.1C1295.8 801.5 1295.7 816.6 1296.4 823.4C1297.1 830.3 1298.7 832.1 1300.1 838.2C1301.4 844.4 1303.4 854.2 1304.5 860.4C1305.6 866.5 1306.1 870.7 1306.7 875.2C1307.4 879.6 1308.8 883.3 1308.2 887C1307.6 890.7 1304.4 894.4 1303 897.3C1301.7 900.3 1300.2 902.7 1300.1 904.7C1300 906.7 1301 907.4 1302.3 909.2C1303.7 910.9 1306.6 913.1 1308.2 915.1C1309.8 917 1311.3 919.7 1311.9 920.7L1279.4 920.7C1280 919.7 1281.5 917 1283.1 915.1C1284.7 913.1 1287.7 910.9 1289 909.2C1290.4 907.4 1291.3 906.7 1291.2 904.7C1291.1 902.7 1289.6 900.3 1288.3 897.3C1286.9 894.4 1283.7 890.7 1283.1 887C1282.5 883.3 1284 879.6 1284.6 875.2C1285.2 870.7 1285.7 866.5 1286.8 860.4C1287.9 854.2 1289.9 844.4 1291.2 838.2C1292.6 832.1 1294.2 830.3 1294.9 823.4C1295.7 816.6 1295.5 801.5 1295.7 797.1Z" fill="#2f6e47" stroke="#000" stroke-width="1.3" stroke-linejoin="round"/>
<line x1="1295.7" y1="797.1" x2="1295.7" y2="920.7" stroke="#000" stroke-width="1.3"/>
<rect x="1292" y="870.7" width="7.4" height="49.9" fill="#fff" stroke="#000" stroke-width="1.3"/>
<line x1="1292" y1="889.2" x2="1299.4" y2="889.2" stroke="#000" stroke-width="1.4"/>
<path d="M1337.5 767.3C1337.6 771.7 1337.5 787 1338.2 793.9C1339 800.8 1340.7 803.7 1341.9 808.7C1343.1 813.6 1344.5 818.5 1345.6 823.4C1346.7 828.4 1347.8 834 1348.6 838.2C1349.3 842.4 1349.9 844.9 1350 848.6C1350.2 852.3 1350 856 1349.3 860.4C1348.6 864.8 1346.7 870.2 1345.6 875.2C1344.5 880.1 1343.9 885 1342.7 889.9C1341.4 894.9 1338.7 901 1338.2 904.7C1337.7 908.4 1339.2 909.4 1339.7 912.1C1340.2 914.8 1340.9 919.3 1341.2 920.7L1333.8 920.7C1334 919.3 1334.8 914.8 1335.3 912.1C1335.8 909.4 1337.2 908.4 1336.7 904.7C1336.2 901 1333.5 894.9 1332.3 889.9C1331.1 885 1330.5 880.1 1329.4 875.2C1328.2 870.2 1326.4 864.8 1325.7 860.4C1324.9 856 1324.8 852.3 1324.9 848.6C1325 844.9 1325.7 842.4 1326.4 838.2C1327.1 834 1328.2 828.4 1329.4 823.4C1330.5 818.5 1331.8 813.6 1333 808.7C1334.3 803.7 1336 800.8 1336.7 793.9C1337.5 787 1337.4 771.7 1337.5 767.3Z" fill="#e8399c" stroke="#000" stroke-width="1.3" stroke-linejoin="round"/>
<line x1="1337.5" y1="767.3" x2="1337.5" y2="920.7" stroke="#000" stroke-width="1.3"/>
<rect x="1333.8" y="832.6" width="7.4" height="38.1" fill="#fff" stroke="#000" stroke-width="1.3"/>
<line x1="1333.8" y1="847.4" x2="1341.2" y2="847.4" stroke="#000" stroke-width="1.4"/>
<path d="M1379.2 731.1C1379.2 739.1 1379.1 767.4 1379.6 779.1C1380.1 790.8 1381 793.9 1382.1 801.3C1383.3 808.7 1385.3 816.1 1386.5 823.4C1387.8 830.8 1389.1 840.2 1389.8 845.6C1390.5 851 1390.9 851 1390.7 856C1390.5 860.9 1389.7 869.5 1388.8 875.2C1387.8 880.8 1386.3 885.8 1385.1 889.9C1383.8 894.1 1382 897.1 1381.4 900.3C1380.8 903.5 1381.1 905.8 1381.4 909.2C1381.7 912.6 1382.8 918.8 1383.1 920.7L1375.2 920.7C1375.5 918.8 1376.6 912.6 1376.9 909.2C1377.2 905.8 1377.6 903.5 1376.9 900.3C1376.3 897.1 1374.5 894.1 1373.2 889.9C1372 885.8 1370.5 880.8 1369.5 875.2C1368.6 869.5 1367.8 860.9 1367.6 856C1367.5 851 1367.8 851 1368.5 845.6C1369.2 840.2 1370.5 830.8 1371.8 823.4C1373 816.1 1375 808.7 1376.2 801.3C1377.4 793.9 1378.2 790.8 1378.7 779.1C1379.2 767.4 1379.1 739.1 1379.2 731.1Z" fill="#9a1b66" stroke="#000" stroke-width="1.3" stroke-linejoin="round"/>
<line x1="1379.2" y1="731.1" x2="1379.2" y2="920.7" stroke="#000" stroke-width="1.3"/>
<rect x="1375.5" y="839.4" width="7.4" height="44.6" fill="#fff" stroke="#000" stroke-width="1.3"/>
<line x1="1375.5" y1="857.4" x2="1382.8" y2="857.4" stroke="#000" stroke-width="1.4"/>
<line x1="1470.6" y1="920.7" x2="1644.6" y2="920.7" stroke="#bdbdbd" stroke-width="1.2" stroke-dasharray="5.6 8.6"/>
<line x1="1465.1" y1="920.7" x2="1469.1" y2="920.7" stroke="#000" stroke-width="1.6"/>
<text x="1460.4" y="925.1" font-size="12.6" text-anchor="end">0</text>
<line x1="1470.6" y1="867.5" x2="1644.6" y2="867.5" stroke="#bdbdbd" stroke-width="1.2" stroke-dasharray="5.6 8.6"/>
<line x1="1465.1" y1="867.5" x2="1469.1" y2="867.5" stroke="#000" stroke-width="1.6"/>
<text x="1460.4" y="871.9" font-size="12.6" text-anchor="end">1</text>
<line x1="1470.6" y1="814.3" x2="1644.6" y2="814.3" stroke="#bdbdbd" stroke-width="1.2" stroke-dasharray="5.6 8.6"/>
<line x1="1465.1" y1="814.3" x2="1469.1" y2="814.3" stroke="#000" stroke-width="1.6"/>
<text x="1460.4" y="818.7" font-size="12.6" text-anchor="end">2</text>
<line x1="1470.6" y1="761.1" x2="1644.6" y2="761.1" stroke="#bdbdbd" stroke-width="1.2" stroke-dasharray="5.6 8.6"/>
<line x1="1465.1" y1="761.1" x2="1469.1" y2="761.1" stroke="#000" stroke-width="1.6"/>
<text x="1460.4" y="765.5" font-size="12.6" text-anchor="end">3</text>
<line x1="1469.6" y1="929.5" x2="1644.6" y2="929.5" stroke="#000" stroke-width="1.8"/>
<line x1="1514.2" y1="929.5" x2="1514.2" y2="934" stroke="#000" stroke-width="1.6"/>
<line x1="1597" y1="929.5" x2="1597" y2="934" stroke="#000" stroke-width="1.6"/>
<text x="1520.9" y="955" font-size="17.5" font-weight="bold" text-anchor="middle">UT</text>
<text x="1602.6" y="955" font-size="17.5" font-weight="bold" text-anchor="middle">IR</text>
<text transform="translate(1444.5 826) rotate(-90)" font-size="18.2" font-weight="bold" text-anchor="middle">MDM2</text>
<path d="M1494.3 769.9C1494.4 776.4 1494.4 798.5 1495 808.7C1495.6 818.8 1496.9 823.4 1498 830.8C1499.1 838.2 1500.9 847.3 1501.7 853C1502.4 858.7 1502.2 861.1 1502.4 864.8C1502.7 868.5 1502.7 872.2 1503.1 875.2C1503.6 878.1 1505.6 879.6 1505.4 882.6C1505.1 885.5 1502.9 889.7 1501.7 892.9C1500.4 896.1 1498 899.1 1498 901.8C1498 904.5 1499.9 906.9 1501.7 909.2C1503.4 911.4 1506.4 913.1 1508.3 915.1C1510.2 917 1512.4 919.7 1513.2 920.7L1475.4 920.7C1476.2 919.7 1478.3 917 1480.2 915.1C1482.2 913.1 1485.2 911.4 1486.9 909.2C1488.6 906.9 1490.6 904.5 1490.6 901.8C1490.6 899.1 1488.1 896.1 1486.9 892.9C1485.7 889.7 1483.4 885.5 1483.2 882.6C1483 879.6 1484.9 878.1 1485.4 875.2C1485.9 872.2 1485.9 868.5 1486.2 864.8C1486.4 861.1 1486.2 858.7 1486.9 853C1487.6 847.3 1489.5 838.2 1490.6 830.8C1491.7 823.4 1492.9 818.8 1493.5 808.7C1494.2 798.5 1494.2 776.4 1494.3 769.9Z" fill="#4fb07f" stroke="#000" stroke-width="1.3" stroke-linejoin="round"/>
<line x1="1494.3" y1="769.9" x2="1494.3" y2="920.7" stroke="#000" stroke-width="1.3"/>
<rect x="1490.6" y="862.6" width="7.4" height="58.1" fill="#fff" stroke="#000" stroke-width="1.3"/>
<line x1="1490.6" y1="883.7" x2="1498" y2="883.7" stroke="#000" stroke-width="1.4"/>
<path d="M1536 754C1536.1 761.9 1536 789.7 1536.7 801.3C1537.4 812.9 1539.2 816.1 1540.4 823.4C1541.6 830.8 1543.1 839.5 1544.1 845.6C1545.1 851.8 1545.9 855.5 1546.3 860.4C1546.7 865.3 1546.7 870.2 1546.3 875.2C1545.9 880.1 1545.2 885.5 1544.1 889.9C1543 894.4 1539.9 898.6 1539.6 901.8C1539.4 905 1541.3 906 1542.6 909.2C1544 912.3 1546.9 918.8 1547.8 920.7L1524.1 920.7C1525 918.8 1528 912.3 1529.3 909.2C1530.7 906 1532.5 905 1532.3 901.8C1532 898.6 1528.9 894.4 1527.8 889.9C1526.7 885.5 1526 880.1 1525.6 875.2C1525.2 870.2 1525.2 865.3 1525.6 860.4C1526 855.5 1526.8 851.8 1527.8 845.6C1528.8 839.5 1530.3 830.8 1531.5 823.4C1532.8 816.1 1534.5 812.9 1535.2 801.3C1536 789.7 1535.8 761.9 1536 754Z" fill="#2f6e47" stroke="#000" stroke-width="1.3" stroke-linejoin="round"/>
<line x1="1536" y1="754" x2="1536" y2="920.7" stroke="#000" stroke-width="1.3"/>
<rect x="1532.3" y="847.1" width="7.4" height="73.6" fill="#fff" stroke="#000" stroke-width="1.3"/>
<line x1="1532.3" y1="883.7" x2="1539.6" y2="883.7" stroke="#000" stroke-width="1.4"/>
<path d="M1577.5 731.1C1577.6 736.6 1577.5 755.1 1578.2 764.3C1579 773.6 1580.4 779.1 1581.9 786.5C1583.4 793.9 1585.9 801.3 1587.1 808.7C1588.3 816.1 1589.1 824.7 1589.3 830.8C1589.5 837 1589.2 840.7 1588.6 845.6C1587.9 850.5 1586.5 855.5 1585.6 860.4C1584.7 865.3 1584.1 870.2 1583.4 875.2C1582.7 880.1 1582 885 1581.2 889.9C1580.3 894.9 1578.5 901 1578.2 904.7C1577.9 908.4 1578.8 909.4 1579.3 912.1C1579.7 914.8 1580.5 919.3 1580.7 920.7L1574.2 920.7C1574.5 919.3 1575.3 914.8 1575.7 912.1C1576.1 909.4 1577.1 908.4 1576.7 904.7C1576.4 901 1574.6 894.9 1573.8 889.9C1572.9 885 1572.3 880.1 1571.6 875.2C1570.8 870.2 1570.2 865.3 1569.4 860.4C1568.5 855.5 1567 850.5 1566.4 845.6C1565.8 840.7 1565.4 837 1565.7 830.8C1565.9 824.7 1566.6 816.1 1567.9 808.7C1569.1 801.3 1571.6 793.9 1573 786.5C1574.5 779.1 1576 773.6 1576.7 764.3C1577.5 755.1 1577.4 736.6 1577.5 731.1Z" fill="#e8399c" stroke="#000" stroke-width="1.3" stroke-linejoin="round"/>
<line x1="1577.5" y1="731.1" x2="1577.5" y2="920.7" stroke="#000" stroke-width="1.3"/>
<rect x="1573.8" y="817.5" width="7.4" height="44.6" fill="#fff" stroke="#000" stroke-width="1.3"/>
<line x1="1573.8" y1="846.8" x2="1581.2" y2="846.8" stroke="#000" stroke-width="1.4"/>
<path d="M1619.6 731.1C1619.8 735.4 1619.8 748.9 1620.8 756.9C1621.8 764.9 1624.1 771.7 1625.5 779.1C1626.9 786.5 1628.3 795.1 1629.2 801.3C1630.1 807.4 1630.7 809.9 1630.7 816.1C1630.7 822.2 1629.9 830.8 1629.2 838.2C1628.5 845.6 1627.2 853 1626.2 860.4C1625.3 867.8 1624.3 876.4 1623.3 882.6C1622.3 888.7 1620.6 892.4 1620.3 897.3C1620.1 902.3 1621.4 908.2 1621.8 912.1C1622.2 916 1622.4 919.3 1622.6 920.7L1616.6 920.7C1616.8 919.3 1617 916 1617.4 912.1C1617.7 908.2 1619.1 902.3 1618.9 897.3C1618.6 892.4 1616.9 888.7 1615.9 882.6C1614.9 876.4 1613.9 867.8 1612.9 860.4C1612 853 1610.7 845.6 1610 838.2C1609.3 830.8 1608.5 822.2 1608.5 816.1C1608.5 809.9 1609.1 807.4 1610 801.3C1610.9 795.1 1612.3 786.5 1613.7 779.1C1615.1 771.7 1617.4 764.9 1618.4 756.9C1619.4 748.9 1619.4 735.4 1619.6 731.1Z" fill="#9a1b66" stroke="#000" stroke-width="1.3" stroke-linejoin="round"/>
<line x1="1619.6" y1="731.1" x2="1619.6" y2="920.7" stroke="#000" stroke-width="1.3"/>
<rect x="1615.9" y="804.7" width="7.4" height="57.5" fill="#fff" stroke="#000" stroke-width="1.3"/>
<line x1="1615.9" y1="825.4" x2="1623.3" y2="825.4" stroke="#000" stroke-width="1.4"/>
<line x1="1722.4" y1="920.6" x2="1896.6" y2="920.6" stroke="#bdbdbd" stroke-width="1.2" stroke-dasharray="5.6 8.6"/>
<line x1="1716.9" y1="920.6" x2="1720.9" y2="920.6" stroke="#000" stroke-width="1.6"/>
<text x="1712.2" y="925" font-size="12.6" text-anchor="end">0.0</text>
<line x1="1722.4" y1="877.7" x2="1896.6" y2="877.7" stroke="#bdbdbd" stroke-width="1.2" stroke-dasharray="5.6 8.6"/>
<line x1="1716.9" y1="877.7" x2="1720.9" y2="877.7" stroke="#000" stroke-width="1.6"/>
<text x="1712.2" y="882.1" font-size="12.6" text-anchor="end">0.5</text>
<line x1="1722.4" y1="834.8" x2="1896.6" y2="834.8" stroke="#bdbdbd" stroke-width="1.2" stroke-dasharray="5.6 8.6"/>
<line x1="1716.9" y1="834.8" x2="1720.9" y2="834.8" stroke="#000" stroke-width="1.6"/>
<text x="1712.2" y="839.2" font-size="12.6" text-anchor="end">1.0</text>
<line x1="1722.4" y1="791.8" x2="1896.6" y2="791.8" stroke="#bdbdbd" stroke-width="1.2" stroke-dasharray="5.6 8.6"/>
<line x1="1716.9" y1="791.8" x2="1720.9" y2="791.8" stroke="#000" stroke-width="1.6"/>
<text x="1712.2" y="796.2" font-size="12.6" text-anchor="end">1.5</text>
<line x1="1722.4" y1="748.9" x2="1896.6" y2="748.9" stroke="#bdbdbd" stroke-width="1.2" stroke-dasharray="5.6 8.6"/>
<line x1="1716.9" y1="748.9" x2="1720.9" y2="748.9" stroke="#000" stroke-width="1.6"/>
<text x="1712.2" y="753.3" font-size="12.6" text-anchor="end">2.0</text>
<line x1="1721.4" y1="929.7" x2="1896.6" y2="929.7" stroke="#000" stroke-width="1.8"/>
<line x1="1766.1" y1="929.7" x2="1766.1" y2="934.2" stroke="#000" stroke-width="1.6"/>
<line x1="1849.2" y1="929.7" x2="1849.2" y2="934.2" stroke="#000" stroke-width="1.6"/>
<text x="1766.4" y="955.2" font-size="17.5" font-weight="bold" text-anchor="middle">UT</text>
<text x="1848.9" y="955.2" font-size="17.5" font-weight="bold" text-anchor="middle">IR</text>
<text transform="translate(1684.5 826) rotate(-90)" font-size="18.2" font-weight="bold" text-anchor="middle">TP53BP1</text>
<path d="M1749.9 753.3C1750.1 755.8 1750 761.7 1751.2 768.2C1752.4 774.7 1755.4 785.6 1757.1 792.3C1758.8 799 1760.2 803.6 1761.1 808.4C1762.1 813.2 1762.9 815.9 1762.7 821.3C1762.6 826.6 1760.5 835.5 1760.3 840.5C1760.2 845.6 1761.5 848.3 1761.9 851.8C1762.3 855.3 1763.1 858 1762.7 861.4C1762.3 864.9 1761.3 868.9 1759.5 872.7C1757.8 876.4 1753.8 880.5 1752.3 883.9C1750.8 887.4 1750 890.1 1750.7 893.6C1751.4 897.1 1754.4 901.6 1756.3 904.8C1758.2 908 1760.6 910.2 1761.9 912.9C1763.3 915.5 1763.9 919.3 1764.3 920.6L1729 920.6C1729.4 919.3 1730.1 915.5 1731.4 912.9C1732.7 910.2 1735.1 908 1737 904.8C1738.9 901.6 1742 897.1 1742.6 893.6C1743.3 890.1 1742.5 887.4 1741 883.9C1739.6 880.5 1735.5 876.4 1733.8 872.7C1732.1 868.9 1731 864.9 1730.6 861.4C1730.2 858 1731 855.3 1731.4 851.8C1731.8 848.3 1733.1 845.6 1733 840.5C1732.9 835.5 1730.7 826.6 1730.6 821.3C1730.5 815.9 1731.3 813.2 1732.2 808.4C1733.1 803.6 1734.6 799 1736.2 792.3C1737.9 785.6 1741 774.7 1742.2 768.2C1743.4 761.7 1743.2 755.8 1743.4 753.3Z" fill="#4fb07f" stroke="#000" stroke-width="1.3" stroke-linejoin="round"/>
<line x1="1746.7" y1="753.3" x2="1746.7" y2="920.6" stroke="#000" stroke-width="1.3"/>
<rect x="1742.8" y="826.1" width="7.7" height="94.5" fill="#fff" stroke="#000" stroke-width="1.3"/>
<line x1="1742.8" y1="861.1" x2="1750.5" y2="861.1" stroke="#000" stroke-width="1.4"/>
<path d="M1788.6 741.7C1789 744.8 1789.4 753.1 1791 760.2C1792.6 767.3 1796.4 776.3 1798.3 784.3C1800.1 792.3 1801.4 802.2 1802.3 808.4C1803.1 814.6 1803.4 815.9 1803.4 821.3C1803.4 826.6 1801.8 834.6 1802.3 840.5C1802.8 846.4 1806.3 851.3 1806.3 856.6C1806.3 862 1804.3 868.1 1802.3 872.7C1800.3 877.2 1795.8 880.5 1794.2 883.9C1792.6 887.4 1791.4 890.1 1792.6 893.6C1793.8 897.1 1799 900.3 1801.5 904.8C1804 909.3 1806.6 918 1807.6 920.6L1769.6 920.6C1770.7 918 1773.3 909.3 1775.8 904.8C1778.2 900.3 1783.4 897.1 1784.6 893.6C1785.8 890.1 1784.6 887.4 1783 883.9C1781.4 880.5 1777 877.2 1775 872.7C1772.9 868.1 1770.9 862 1770.9 856.6C1770.9 851.3 1774.5 846.4 1775 840.5C1775.4 834.6 1773.8 826.6 1773.8 821.3C1773.8 815.9 1774.1 814.6 1775 808.4C1775.8 802.2 1777.1 792.3 1779 784.3C1780.8 776.3 1784.6 767.3 1786.2 760.2C1787.8 753.1 1788.2 744.8 1788.6 741.7Z" fill="#2f6e47" stroke="#000" stroke-width="1.3" stroke-linejoin="round"/>
<line x1="1788.6" y1="741.7" x2="1788.6" y2="920.6" stroke="#000" stroke-width="1.3"/>
<rect x="1784.8" y="826.1" width="7.7" height="94.5" fill="#fff" stroke="#000" stroke-width="1.3"/>
<line x1="1784.8" y1="861.1" x2="1792.5" y2="861.1" stroke="#000" stroke-width="1.4"/>
<path d="M1830.2 731.6C1830.5 733.7 1830.4 738 1831.8 744.1C1833.3 750.2 1836.8 760.2 1839.1 768.2C1841.4 776.3 1844.2 786.4 1845.5 792.3C1846.8 798.2 1847 798.2 1847.1 803.6C1847.2 808.9 1846.8 817.5 1846.3 824.5C1845.8 831.4 1844.2 839.7 1843.9 845.4C1843.6 851 1845.4 853.7 1844.7 858.2C1844 862.8 1841.8 867.6 1839.9 872.7C1838 877.8 1834.4 884.7 1833.5 888.8C1832.5 892.8 1832.9 893.3 1834.3 896.8C1835.6 900.3 1839.7 905.7 1841.5 909.6C1843.2 913.6 1844.2 918.8 1844.7 920.6L1815.8 920.6C1816.3 918.8 1817.2 913.6 1819 909.6C1820.7 905.7 1824.9 900.3 1826.2 896.8C1827.6 893.3 1828 892.8 1827 888.8C1826.1 884.7 1822.5 877.8 1820.6 872.7C1818.7 867.6 1816.4 862.8 1815.8 858.2C1815.1 853.7 1816.8 851 1816.6 845.4C1816.3 839.7 1814.7 831.4 1814.2 824.5C1813.6 817.5 1813.2 808.9 1813.4 803.6C1813.5 798.2 1813.6 798.2 1815 792.3C1816.3 786.4 1819.1 776.3 1821.4 768.2C1823.7 760.2 1827.2 750.2 1828.6 744.1C1830.1 738 1830 733.7 1830.2 731.6Z" fill="#e8399c" stroke="#000" stroke-width="1.3" stroke-linejoin="round"/>
<line x1="1830.2" y1="731.6" x2="1830.2" y2="920.6" stroke="#000" stroke-width="1.3"/>
<rect x="1826.4" y="801.6" width="7.7" height="59.5" fill="#fff" stroke="#000" stroke-width="1.3"/>
<line x1="1826.4" y1="826.1" x2="1834.1" y2="826.1" stroke="#000" stroke-width="1.4"/>
<path d="M1872.2 741.7C1872.6 744.8 1873.1 753.1 1874.6 760.2C1876.1 767.3 1879 776.3 1881 784.3C1883 792.3 1885.4 802.5 1886.7 808.4C1887.9 814.3 1888.3 814.3 1888.3 819.6C1888.3 825 1886.7 834.4 1886.7 840.5C1886.7 846.7 1888.8 851.3 1888.3 856.6C1887.7 862 1885 868.7 1883.4 872.7C1881.8 876.7 1879.8 877.2 1878.6 880.7C1877.4 884.2 1876.2 889.6 1876.2 893.6C1876.2 897.6 1876.7 900.3 1878.6 904.8C1880.5 909.3 1886 918 1887.5 920.6L1856.9 920.6C1858.4 918 1863.9 909.3 1865.8 904.8C1867.6 900.3 1868.2 897.6 1868.2 893.6C1868.2 889.6 1867 884.2 1865.8 880.7C1864.6 877.2 1862.5 876.7 1860.9 872.7C1859.3 868.7 1856.6 862 1856.1 856.6C1855.6 851.3 1857.7 846.7 1857.7 840.5C1857.7 834.4 1856.1 825 1856.1 819.6C1856.1 814.3 1856.5 814.3 1857.7 808.4C1858.9 802.5 1861.3 792.3 1863.3 784.3C1865.4 776.3 1868.3 767.3 1869.8 760.2C1871.2 753.1 1871.8 744.8 1872.2 741.7Z" fill="#9a1b66" stroke="#000" stroke-width="1.3" stroke-linejoin="round"/>
<line x1="1872.2" y1="741.7" x2="1872.2" y2="920.6" stroke="#000" stroke-width="1.3"/>
<rect x="1868.3" y="808.1" width="7.7" height="112.5" fill="#fff" stroke="#000" stroke-width="1.3"/>
<line x1="1868.3" y1="861.1" x2="1876" y2="861.1" stroke="#000" stroke-width="1.4"/>
<text x="627.6" y="1022.8" font-size="39" font-weight="bold">f</text>
<rect x="724.3" y="1054" width="127.7" height="13.6" fill="#e8231f"/>
<rect x="853.2" y="1054" width="87" height="13.6" fill="#4a87c4"/>
<rect x="941.4" y="1054" width="83" height="13.6" fill="#5bbd4e"/>
<rect x="1025.6" y="1054" width="79" height="13.6" fill="#9c4db0"/>
<rect x="1105.8" y="1054" width="59" height="13.6" fill="#f07f22"/>
<rect x="1166" y="1054" width="52.6" height="13.6" fill="#f3f542"/>
<rect x="1219.8" y="1054" width="26" height="13.6" fill="#a65628"/>
<text transform="translate(796.6 1043.8) rotate(-45)" font-size="17" text-anchor="middle" stroke="#000" stroke-width=".55">0</text>
<text transform="translate(905.9 1042.6) rotate(-45)" font-size="17" text-anchor="middle" stroke="#000" stroke-width=".55">1</text>
<text transform="translate(992.1 1043.8) rotate(-45)" font-size="17" text-anchor="middle" stroke="#000" stroke-width=".55">2</text>
<text transform="translate(1074.5 1043.8) rotate(-45)" font-size="17" text-anchor="middle" stroke="#000" stroke-width=".55">3</text>
<text transform="translate(1145.2 1042.6) rotate(-45)" font-size="17" text-anchor="middle" stroke="#000" stroke-width=".55">4</text>
<text transform="translate(1201 1043.8) rotate(-45)" font-size="17" text-anchor="middle" stroke="#000" stroke-width=".55">5</text>
<text transform="translate(1241.6 1042.6) rotate(-45)" font-size="17" text-anchor="middle" stroke="#000" stroke-width=".55">6</text>
<rect x="724.3" y="1079.8" width="521.5" height="716.5" fill="#5a8ac0"/>
<g transform="translate(724.3 1085.07) scale(1.7493 10.5368)" fill="none" stroke-width="1.01"><path d="M21 1h1m-18 3h1m21 7h1m30 0h1m-49 2h1m1 0h1m1 0h1m1 0h1m2 0h1m4 0h1m4 0h1m3 0h1m1 0h1m5 0h1m6 0h1m1 0h1m9 0h1m4 0h1m-62 3h1m4 0h1m2 0h1m2 0h1m5 0h1m1 0h1m1 0h1m9 0h1m4 0h1m1 0h2m1 0h1m1 0h1m2 0h1m1 0h1m9 0h1m1 0h1m6 0h2m-53 1h1m6 0h1m-27 2h1m70 0h1m-44 3h1m20 1h1m1 0h1m-24 3h1m1 0h1m-31 1h1m3 0h2m1 0h4m3 0h1m2 0h3m2 0h1m4 0h9m3 0h3m3 0h1m1 0h1m1 0h7m1 0h1m1 0h1m5 0h1m3 0h4m-65 1h1m10 0h1m14 0h1m4 0h1m-40 1h1m5 0h1m1 0h1m2 0h1m2 0h1m2 0h3m1 0h1m2 0h2m1 0h2m1 0h1m1 0h1m1 0h1m2 0h2m1 0h3m1 0h1m4 0h1m1 0h1m8 0h1m1 0h1m2 0h1m1 0h1m1 0h4m-69 11h1m3 0h4m7 0h1m2 0h1m3 0h1m4 0h2m4 0h1m1 0h1m3 0h1m3 0h1m10 0h1m4 0h1m1 0h1m2 0h3m-63 5h1m-6 7h3m2 0h2m7 0h3m2 0h2m4 0h3m1 0h3m4 0h3m3 0h1m3 0h1m1 0h4m3 0h2m3 0h1m1 0h1m1 0h6m-73 1h2m1 0h4m1 0h2m8 0h2m1 0h3m5 0h3m2 0h1m3 0h2m2 0h4m1 0h1m1 0h4m2 0h1m1 0h1m5 0h2m1 0h1m1 0h2m1 0h1m-68 1h1m4 0h2m4 0h1m1 0h3m2 0h2m4 0h1m1 0h1m1 0h2m3 0h1m1 0h2m2 0h3m1 0h1m1 0h3m1 0h3m1 0h2m2 0h1m1 0h1m1 0h2m2 0h4m-54 1h1m29 1h1m-50 2h2m1 0h1m2 0h1m1 0h1m1 0h2m2 0h2m1 0h2m2 0h5m2 0h1m1 0h1m1 0h3m2 0h1m1 0h3m3 0h1m1 0h1m1 0h1m2 0h1m2 0h1m2 0h2m1 0h1m1 0h1m2 0h5m-44 2h1m-20 2h1" stroke="#232581"/><path d="M3 1h1m24 0h1m24 0h1m0 1h1m-41 2h1m19 0h1m-3 3h1m-29 2h1m4 1h1m1 0h1m16 0h1m5 0h1m2 0h2m13 0h2m7 0h2m3 0h1m-67 1h2m2 0h1m1 0h3m5 0h2m1 0h1m1 0h1m2 0h1m1 0h1m3 0h1m1 0h1m2 0h2m1 0h1m2 0h1m1 0h1m1 0h1m2 0h1m2 0h2m1 0h2m1 0h2m1 0h1m4 0h3m1 0h1m1 0h1m-68 2h1m3 0h1m5 0h1m3 0h1m12 0h1m14 0h1m1 0h1m1 0h1m1 0h1m6 0h1m5 0h1m2 0h1m-67 1h2m2 0h2m6 0h3m6 0h1m6 0h1m1 0h1m8 0h1m2 0h1m2 0h1m1 0h1m1 0h1m1 0h1m20 0h1m-71 1h1m16 0h1m22 0h1m4 0h1m6 0h1m13 0h1m3 0h1m-71 1h1m4 0h1m13 0h1m11 0h1m9 0h1m4 0h1m7 0h1m3 0h1m1 0h1m-63 1h1m1 0h2m7 0h1m1 0h1m4 0h1m1 0h1m2 0h1m4 0h1m1 0h3m4 0h1m5 0h1m1 0h1m3 0h1m5 0h1m8 0h1m5 0h1m-67 1h1m3 0h1m10 0h2m5 0h1m7 0h1m-29 1h1m21 0h1m3 0h2m6 0h1m1 0h2m1 0h1m1 0h1m5 0h1m5 0h1m1 0h1m8 0h1m-71 1h1m30 0h1m13 0h1m8 0h1m4 0h1m8 0h2m-67 1h1m13 0h1m6 0h1m8 0h1m5 0h1m5 0h1m15 0h1m8 0h1m-71 1h1m1 0h1m3 0h1m4 0h1m2 0h1m4 0h1m2 0h1m2 0h1m4 0h2m2 0h1m14 0h2m2 0h1m1 0h1m-56 1h1m2 0h1m5 0h1m3 0h1m1 0h1m1 0h3m5 0h1m1 0h1m4 0h2m1 0h1m3 0h1m4 0h2m9 0h1m1 0h1m1 0h1m2 0h1m5 0h1m-65 1h1m1 1h1m7 0h2m4 0h1m2 0h1m1 0h2m2 0h1m7 0h1m1 0h1m5 0h1m1 0h1m5 0h1m10 0h1m4 0h1m-67 1h2m4 0h2m4 0h1m6 0h2m3 0h1m5 0h3m1 0h2m1 0h1m1 0h4m6 0h1m5 0h2m3 0h1m5 0h2m-70 1h3m2 0h1m4 0h3m6 0h2m1 0h4m15 0h3m1 0h1m11 0h1m1 0h5m1 0h2m-68 1h1m1 0h1m1 0h2m3 0h1m13 0h1m4 0h1m1 0h1m10 0h1m3 0h1m1 0h1m1 0h1m3 0h1m2 0h2m1 0h1m7 0h1m2 0h2m-70 1h4m1 0h1m1 0h2m2 0h1m1 0h2m3 0h1m1 0h1m3 0h1m2 0h1m1 0h1m1 0h1m1 0h2m2 0h1m5 0h2m1 0h1m1 0h1m1 0h4m1 0h1m1 0h1m3 0h1m2 0h1m1 0h1m-39 2h1m-26 1h1m-3 1h1m5 0h1m20 0h1m-8 1h1m22 1h1m-40 1h1m1 0h1m-6 1h1m-1 2h1m10 0h1m-1 1h1m8 0h1m2 0h2m5 0h1m5 0h2m8 0h1m2 0h2m5 0h1m3 0h1m1 0h2m-59 7h1m-2 1h1m44 1h1m5 0h1m1 0h1m-54 2h1m21 0h1m34 0h1m-66 1h3m3 0h1m3 0h1m1 0h1m1 0h3m4 0h1m2 0h2m1 0h1m3 0h1m5 0h1m4 0h3m2 0h1m2 0h1m4 0h2m4 0h1m2 0h1m1 0h1m-60 1h1m2 0h8m2 0h1m3 0h2m1 0h2m3 0h2m1 0h1m1 0h1m2 0h2m4 0h1m1 0h1m4 0h1m2 0h1m1 0h1m2 0h1m3 0h1m1 0h1m2 0h1m1 0h1m-73 1h1m1 0h2m1 0h4m2 0h1m4 0h1m3 0h1m3 0h2m3 0h1m1 0h1m2 0h2m5 0h2m3 0h1m1 0h1m3 0h1m3 0h1m2 0h2m1 0h1m1 0h1m2 0h2m-60 1h2m6 0h2m1 0h1m10 0h3m4 0h1m1 0h1m3 0h1m4 0h3m17 0h2m-71 1h1m3 0h1m3 0h2m7 0h1m1 0h1m4 0h1m7 0h1m7 0h1m6 0h1m16 0h1m2 0h1m-51 1h1m1 0h1m33 0h1m10 0h1m-63 1h1m1 0h2m1 0h1m1 0h1m2 0h1m6 0h2m5 0h2m1 0h1m1 0h1m3 0h2m5 0h2m4 0h1m4 0h2m2 0h1m2 0h1m1 0h1m1 0h2m5 0h2m-65 3h1m14 1h1m39 0h1m-64 1h1m13 0h1m32 0h1m-3 1h1m-46 2h1m7 0h1" stroke="#32429c"/><path d="M37 0h1m-19 1h1m7 0h1m7 0h1m6 0h1m25 0h1m-11 1h1m-55 1h1m39 0h2m13 0h1m-54 1h1m30 0h1m1 0h1m30 1h1m-71 1h1m2 0h1m4 0h1m14 0h1m7 0h2m12 0h1m17 0h1m-64 1h1m3 1h1m4 1h1m62 0h1m-73 1h1m2 0h3m2 0h1m3 0h1m2 0h1m2 0h3m9 0h2m1 0h1m6 0h1m2 0h5m7 0h1m3 0h2m2 0h3m1 0h5m-70 1h2m1 0h1m3 0h2m2 0h1m2 0h1m1 0h1m2 0h1m1 0h1m1 0h1m1 0h1m4 0h1m2 0h1m1 0h2m1 0h1m1 0h1m2 0h1m1 0h1m3 0h1m7 0h4m3 0h1m3 0h2m-72 1h1m3 0h1m1 0h1m3 0h1m4 0h1m1 0h1m1 0h2m2 0h1m1 0h1m1 0h2m1 0h1m1 0h3m4 0h1m2 0h4m1 0h1m2 0h1m2 0h1m1 0h1m6 0h1m3 0h1m1 0h1m2 0h1m-4 1h1m-67 1h2m2 0h1m1 0h1m1 0h1m4 0h1m1 0h4m1 0h5m2 0h1m1 0h1m1 0h3m1 0h1m2 0h2m1 0h2m7 0h5m1 0h2m3 0h3m1 0h5m-72 1h1m2 0h1m2 0h3m5 0h2m2 0h1m2 0h1m1 0h2m3 0h1m4 0h2m4 0h3m3 0h2m2 0h1m1 0h1m4 0h1m2 0h1m2 0h3m1 0h2m3 0h1m-63 1h2m5 0h1m51 0h1m-68 1h1m2 0h5m3 0h1m1 0h1m2 0h1m3 0h1m2 0h2m1 0h1m5 0h2m3 0h3m3 0h1m1 0h3m1 0h1m1 0h2m2 0h4m1 0h3m2 0h1m1 0h2m1 0h2m-73 1h1m1 0h2m3 0h1m1 0h2m7 0h1m2 0h5m1 0h2m3 0h2m5 0h2m2 0h2m2 0h1m1 0h1m1 0h1m7 0h1m1 0h1m2 0h3m1 0h1m1 0h1m-70 1h1m2 0h2m1 0h1m1 0h3m1 0h3m1 0h4m1 0h5m3 0h2m2 0h1m3 0h2m1 0h1m2 0h1m1 0h1m2 0h2m3 0h1m1 0h1m1 0h1m3 0h5m2 0h1m-69 1h1m2 0h2m2 0h4m1 0h5m1 0h6m2 0h2m1 0h1m1 0h1m1 0h2m1 0h4m3 0h1m1 0h2m1 0h3m1 0h1m1 0h4m1 0h2m2 0h1m1 0h2m2 0h3m-73 1h1m1 0h1m1 0h1m2 0h2m3 0h1m1 0h2m2 0h2m1 0h1m1 0h1m4 0h1m2 0h2m1 0h4m4 0h1m1 0h1m2 0h1m1 0h5m9 0h1m1 0h2m1 0h2m1 0h2m-66 1h4m1 0h1m2 0h1m4 0h1m2 0h1m2 0h1m2 0h1m2 0h2m5 0h1m2 0h1m2 0h2m4 0h1m2 0h1m1 0h6m2 0h2m3 0h4m-72 1h1m2 0h5m1 0h2m11 0h1m2 0h1m1 0h1m1 0h2m2 0h1m3 0h1m1 0h1m5 0h3m3 0h2m10 0h2m4 0h3m-73 1h1m4 0h1m2 0h2m4 0h2m1 0h1m1 0h1m1 0h1m5 0h1m3 0h4m2 0h1m1 0h1m4 0h1m2 0h1m1 0h1m5 0h1m8 0h2m3 0h1m1 0h1m-72 1h1m2 0h1m4 0h1m8 0h1m1 0h1m1 0h2m1 0h1m2 0h2m1 0h3m1 0h2m2 0h1m1 0h5m4 0h1m1 0h2m1 0h1m3 0h3m1 0h1m3 0h2m2 0h1m-71 1h3m3 0h3m2 0h4m1 0h6m2 0h1m1 0h1m2 0h1m1 0h1m7 0h1m1 0h1m7 0h3m1 0h5m2 0h1m1 0h1m1 0h1m1 0h1m1 0h1m2 0h2m-58 1h2m20 0h2m9 0h1m19 0h1m-68 1h1m1 0h1m2 0h1m3 0h1m1 0h4m1 0h2m1 0h3m4 0h1m1 0h1m2 0h2m1 0h4m1 0h1m1 0h1m1 0h1m1 0h1m3 0h3m1 0h2m2 0h1m1 0h3m2 0h2m2 0h1m2 0h1m-72 1h1m10 0h1m10 0h1m19 0h1m3 0h1m8 0h1m1 0h1m2 0h1m2 0h1m-33 1h1m9 0h1m16 0h1m-32 1h1m5 0h2m7 0h1m15 0h1m-52 1h1m9 0h1m23 0h1m22 0h1m2 0h1m-69 1h1m3 0h1m3 0h1m5 0h2m17 0h1m5 0h1m28 0h1m-65 1h1m13 0h1m11 0h1m28 0h1m-60 1h1m3 0h1m17 0h1m1 0h1m38 0h1m5 0h1m-67 1h1m15 0h2m26 0h1m23 0h1m-72 1h1m7 0h1m8 0h1m5 0h1m4 0h1m1 0h1m1 0h3m7 0h2m1 0h1m12 0h1m-59 2h1m1 0h2m3 0h1m1 0h1m18 0h1m3 0h1m2 0h1m3 0h1m3 0h1m3 0h1m1 0h1m17 0h1m1 0h1m1 0h1m-71 1h1m12 0h1m21 0h1m1 0h1m-39 1h1m7 0h1m10 0h1m25 0h1m-46 1h1m3 0h1m3 0h1m19 0h1m23 0h1m6 0h1m3 0h2m-37 2h1m1 0h1m-28 1h2m8 0h1m7 0h1m1 0h1m8 0h1m12 0h1m10 0h1m13 0h1m-67 1h1m1 0h1m7 0h1m7 0h1m1 0h1m5 0h1m1 0h1m11 0h1m8 0h1m15 0h1m-62 1h1m10 0h1m-20 1h1m8 0h1m18 0h1m3 0h1m2 0h1m13 0h1m4 0h1m10 0h1m1 0h2m2 0h1m-72 1h2m7 0h1m3 0h1m4 0h1m1 0h1m2 0h1m1 0h4m4 0h1m1 0h1m1 0h1m2 0h1m1 0h1m2 0h1m5 0h2m1 0h1m8 0h1m3 0h1m4 0h1m-53 1h1m37 0h1m-59 1h1m2 0h1m5 0h2m2 0h3m1 0h2m2 0h2m2 0h2m2 0h1m2 0h1m1 0h1m4 0h2m1 0h2m1 0h1m1 0h1m1 0h1m1 0h1m2 0h1m4 0h1m1 0h1m1 0h1m5 0h3m-65 1h1m3 0h1m1 0h1m6 0h1m5 0h1m8 0h2m1 0h1m7 0h1m10 0h1m2 0h1m1 0h1m-61 1h1m23 0h1m9 0h1m17 0h1m4 0h2m1 0h1m-62 1h1m10 0h3m6 0h1m4 0h2m10 0h1m-39 1h2m2 0h2m2 0h1m3 0h1m1 0h1m6 0h1m2 0h2m2 0h3m3 0h1m2 0h1m1 0h1m1 0h2m2 0h4m3 0h2m1 0h1m1 0h3m4 0h4m3 0h1m-71 1h2m2 0h2m5 0h4m2 0h1m1 0h3m2 0h2m1 0h1m2 0h1m5 0h3m4 0h2m4 0h2m1 0h1m1 0h4m4 0h1m2 0h1m1 0h4m-68 1h2m1 0h2m11 0h2m3 0h1m1 0h2m3 0h3m2 0h1m1 0h1m2 0h1m4 0h1m1 0h1m7 0h1m2 0h1m4 0h2m2 0h1m2 0h1m-60 1h1m24 0h1m5 0h1m1 0h1m3 0h2m4 0h1m-30 1h1m28 0h1m9 0h1m-63 4h1m1 0h1m3 0h1m13 0h1m5 0h1m1 0h1m1 0h1m14 0h1m1 0h1m7 0h1m3 0h1m5 0h4m-55 2h2m23 0h1m1 0h1m11 0h2m-18 1h1m22 0h1m2 0h1m-68 1h1m8 0h1m42 0h1m6 0h1" stroke="#4063b0"/><path d="M14 0h1m15 0h1m16 0h1m4 0h1m5 0h1m10 0h1m-66 1h1m32 0h2m8 0h1m15 0h1m5 0h1m1 0h1m-63 1h1m6 0h1m9 0h1m6 0h1m34 0h1m1 0h2m-72 1h1m27 0h3m6 0h1m1 0h1m2 0h1m26 0h1m-70 1h1m4 0h1m9 0h1m3 0h2m8 0h1m10 0h1m17 0h1m5 0h1m5 0h1m-53 1h1m47 0h1m-66 1h1m2 0h1m17 0h1m18 0h1m1 0h1m9 0h1m1 0h1m-50 1h1m16 0h1m15 0h1m29 0h1m-20 1h1m12 0h1m-56 1h1m20 0h1m1 0h1m7 0h1m26 0h1m-66 1h2m3 0h2m2 0h1m2 0h2m1 0h2m3 0h7m1 0h1m2 0h1m2 0h2m2 0h1m1 0h2m5 0h2m1 0h1m5 0h2m13 0h1m-62 1h1m8 0h1m8 0h1m1 0h1m12 0h1m9 0h1m13 0h1m3 0h1m-72 1h1m1 0h1m1 0h1m1 0h3m1 0h1m2 0h1m1 0h1m1 0h1m2 0h2m8 0h1m3 0h1m1 0h2m1 0h2m4 0h1m1 0h1m2 0h1m2 0h1m1 0h2m2 0h2m1 0h1m1 0h1m1 0h1m1 0h2m1 0h1m-69 1h1m37 0h1m24 0h1m3 0h1m-65 1h1m1 0h1m1 0h1m4 0h1m10 0h1m4 0h1m13 0h1m1 0h1m1 0h1m9 0h3m-62 1h1m2 0h2m3 0h5m2 0h1m3 0h1m1 0h1m2 0h1m1 0h1m1 0h4m2 0h4m5 0h1m3 0h1m1 0h1m1 0h2m1 0h1m1 0h1m2 0h2m7 0h2m-59 1h1m17 0h1m24 0h1m-47 1h2m4 0h2m5 0h1m6 0h1m5 0h1m5 0h1m9 0h1m2 0h1m5 0h1m-56 1h2m4 0h2m2 0h1m13 0h3m3 0h4m2 0h2m2 0h2m1 0h1m1 0h1m1 0h2m1 0h2m1 0h1m1 0h1m1 0h1m4 0h1m3 0h2m-71 1h2m4 0h1m3 0h1m3 0h1m4 0h1m5 0h1m1 0h1m5 0h1m1 0h1m10 0h1m2 0h2m7 0h1m6 0h2m3 0h1m-71 1h1m3 0h2m4 0h1m5 0h1m6 0h2m2 0h1m6 0h1m4 0h3m4 0h1m3 0h1m9 0h2m1 0h1m-65 1h1m3 0h2m2 0h2m2 0h1m2 0h1m3 0h1m1 0h1m4 0h1m1 0h2m7 0h1m1 0h2m1 0h1m2 0h1m1 0h1m5 0h2m1 0h4m1 0h1m1 0h1m2 0h1m-65 1h3m7 0h1m2 0h3m2 0h1m2 0h1m2 0h1m8 0h3m1 0h1m2 0h1m3 0h2m3 0h1m10 0h1m3 0h2m-57 1h1m3 0h1m3 0h3m1 0h1m4 0h1m6 0h2m3 0h3m6 0h1m3 0h1m3 0h1m1 0h2m1 0h1m2 0h2m1 0h1m-68 1h1m7 0h3m3 0h1m3 0h1m3 0h2m2 0h1m1 0h1m4 0h1m2 0h1m1 0h4m1 0h1m4 0h2m1 0h1m3 0h5m1 0h1m2 0h3m1 0h1m-70 1h2m1 0h2m1 0h1m1 0h5m2 0h1m1 0h1m14 0h1m12 0h1m1 0h1m1 0h1m5 0h1m4 0h1m1 0h1m1 0h1m2 0h1m2 0h2m-68 1h1m19 0h1m6 0h1m3 0h1m9 0h3m12 0h1m3 0h1m1 0h1m-32 1h1m19 0h1m-50 1h1m3 0h1m4 0h1m7 0h3m4 0h1m11 0h1m4 0h1m14 0h2m3 0h1m-67 2h1m2 0h1m4 0h2m1 0h1m4 0h1m3 0h1m5 0h1m5 0h1m2 0h1m1 0h1m7 0h1m5 0h1m13 0h1m1 0h1m-70 1h1m2 0h2m12 0h1m9 0h1m3 0h2m4 0h1m2 0h1m6 0h1m6 0h2m9 0h2m4 0h1m-72 1h1m14 0h1m16 0h1m6 0h1m1 0h1m1 0h1m3 0h1m5 0h1m3 0h2m3 0h2m3 0h1m1 0h1m1 0h1m-67 1h1m11 0h2m4 0h1m4 0h1m3 0h1m1 0h1m10 0h3m11 0h1m2 0h2m6 0h1m-71 1h1m4 0h1m2 0h1m6 0h1m11 0h1m3 0h3m5 0h1m5 0h1m3 0h2m4 0h1m7 0h1m5 0h3m-64 1h1m14 0h1m4 0h1m1 0h1m1 0h1m4 0h1m4 0h2m3 0h1m1 0h1m11 0h1m3 0h1m4 0h1m-71 1h1m3 0h1m1 0h1m1 0h1m5 0h1m2 0h1m3 0h2m4 0h1m2 0h1m1 0h2m1 0h1m3 0h4m2 0h2m2 0h5m3 0h1m2 0h1m3 0h1m1 0h5m-70 1h1m1 0h1m1 0h2m3 0h5m5 0h3m2 0h1m1 0h1m1 0h1m5 0h1m1 0h1m1 0h1m1 0h1m5 0h1m1 0h1m1 0h2m1 0h1m8 0h2m3 0h1m1 0h1m-71 1h1m5 0h1m3 0h1m7 0h1m9 0h1m10 0h1m7 0h1m1 0h2m9 0h1m9 0h1m-70 1h1m3 0h1m4 0h2m2 0h1m3 0h1m1 0h2m5 0h1m3 0h1m1 0h2m6 0h1m4 0h1m3 0h1m2 0h1m2 0h1m2 0h1m1 0h4m3 0h1m3 0h1m-57 1h1m13 0h1m14 0h2m8 0h1m-53 1h2m4 0h1m7 0h2m3 0h1m8 0h2m4 0h1m6 0h1m14 0h1m10 0h2m-71 1h1m1 0h1m1 0h2m2 0h1m1 0h2m2 0h1m1 0h2m1 0h1m1 0h1m1 0h1m7 0h1m6 0h1m5 0h1m12 0h1m10 0h1m1 0h1m-68 1h1m25 0h1m1 0h1m20 0h1m-54 1h1m6 0h1m7 0h1m2 0h1m1 0h1m26 0h1m21 0h2m-71 1h1m1 0h1m3 0h1m4 0h2m2 0h1m4 0h1m3 0h1m1 0h1m3 0h1m11 0h1m4 0h1m1 0h1m3 0h2m3 0h2m8 0h2m-70 1h1m2 0h1m1 0h1m2 0h1m2 0h1m5 0h3m8 0h1m9 0h1m1 0h1m4 0h1m2 0h1m1 0h1m17 0h1m1 0h3m-72 1h1m19 0h1m8 0h1m29 0h1m2 0h1m8 0h1m-70 1h2m2 0h1m5 0h2m3 0h1m3 0h1m7 0h1m2 0h1m3 0h1m5 0h1m9 0h1m2 0h1m4 0h1m2 0h1m1 0h1m5 0h1m-69 1h2m1 0h1m2 0h3m1 0h1m2 0h1m1 0h1m1 0h1m2 0h1m4 0h1m1 0h2m1 0h1m3 0h2m1 0h1m1 0h1m2 0h2m2 0h1m4 0h1m2 0h1m1 0h1m4 0h2m1 0h4m-38 1h1m37 0h1m-71 1h1m1 0h4m3 0h2m6 0h1m3 0h2m6 0h1m1 0h1m1 0h1m1 0h2m2 0h1m2 0h1m1 0h1m1 0h1m1 0h1m1 0h1m2 0h4m3 0h1m1 0h1m1 0h3m-21 1h1m-13 2h1m-34 1h1m2 0h2m3 0h1m1 0h1m1 0h1m6 0h2m2 0h1m8 0h1m7 0h1m10 0h1m1 0h1m3 0h2m1 0h1m4 0h1m3 0h1m-70 1h1m3 0h1m2 0h2m4 0h1m6 0h1m3 0h1m1 0h1m3 0h4m4 0h3m2 0h1m1 0h1m3 0h1m1 0h1m4 0h4m2 0h1m6 0h1m-73 1h2m4 0h1m2 0h3m1 0h4m1 0h1m4 0h1m2 0h1m4 0h1m3 0h1m4 0h2m2 0h3m1 0h1m1 0h2m4 0h1m1 0h2m1 0h3m3 0h2m-53 1h1m7 1h1m-7 1h1m27 0h1m8 0h1m5 0h1m-57 1h1m38 0h1m2 0h1m-40 2h2m5 0h1m2 0h1m1 0h1m4 0h1m13 0h1m3 0h1m4 0h1m6 0h1m1 0h1m3 0h1m2 0h1m1 0h1m-45 1h1m8 0h1m-32 1h1m2 0h1m1 0h1m6 0h2m8 0h2m1 0h1m7 0h1m5 0h1m11 0h1m1 0h1m1 0h2m7 0h1m2 0h1m3 0h1m-69 1h1m5 0h1m7 0h1m10 0h1m1 0h1m1 0h2m3 0h2m1 0h1m12 0h1m4 0h1m10 0h1m-67 1h1m7 0h1m1 0h1m1 0h1m1 0h1m3 0h1m2 0h1m3 0h1m2 0h1m1 0h3m7 0h1m5 0h1m3 0h1m3 0h2m5 0h1" stroke="#507ebc"/><path d="M21 0h1m3 0h1m15 0h1m1 0h1m5 0h1m1 0h1m3 0h1m3 0h1m8 0h1m-58 1h1m33 0h2m18 0h1m6 0h1m-56 1h1m2 0h1m36 0h1m-53 1h1m12 0h1m3 0h2m7 0h1m22 0h1m-22 1h1m4 0h1m20 0h2m8 0h1m-61 1h1m1 0h1m15 0h1m5 0h3m9 0h2m3 0h1m20 0h1m-58 1h1m1 0h1m27 0h1m-41 1h1m11 0h1m5 0h1m2 0h1m2 0h1m1 0h1m7 0h1m-25 1h1m15 0h1m6 0h1m20 0h2m4 0h1m-60 1h1m19 0h1m44 0h1m-21 1h1m3 0h1m1 0h1m-45 1h1m35 0h1m-47 1h1m9 0h1m11 0h1m1 0h1m2 0h1m6 0h1m12 0h1m2 0h1m5 0h2m4 0h1m-65 1h1m21 0h1m10 0h1m7 0h1m12 0h1m-19 1h1m1 0h1m18 0h1m8 0h1m-41 1h1m16 0h1m14 0h1m6 0h1m-37 1h1m29 0h1m-24 1h1m28 0h1m-52 1h1m1 0h2m36 0h1m2 0h1m5 0h1m-7 1h1m-25 1h1m-23 1h1m13 0h2m8 1h1m30 0h1m-65 1h1m11 0h1m-14 1h1m1 0h1m2 0h2m10 0h1m3 0h2m2 0h1m9 0h1m9 0h1m1 0h1m3 0h1m1 0h1m7 0h1m9 0h1m-37 1h1m20 0h1m-55 5h1m3 0h2m5 0h1m9 0h1m2 0h1m2 0h2m1 0h1m1 0h1m2 0h1m4 0h1m1 0h2m2 0h1m5 0h1m2 0h1m3 0h2m6 0h1m-65 1h1m1 0h1m5 0h2m3 0h1m4 0h2m13 0h1m2 0h1m2 0h2m2 0h1m1 0h1m1 0h1m4 0h1m2 0h1m5 0h1m-67 1h2m6 0h1m1 0h1m7 0h1m1 0h2m1 0h2m2 0h1m5 0h1m3 0h1m1 0h1m3 0h1m6 0h1m2 0h1m4 0h1m1 0h1m2 0h1m-58 1h1m11 0h3m5 0h1m10 0h1m4 0h2m3 0h1m2 0h1m2 0h2m2 0h1m2 0h1m2 0h1m1 0h2m1 0h1m1 0h1m-62 1h2m1 0h1m6 0h2m15 0h1m2 0h1m11 0h2m3 0h2m8 0h2m3 0h1m-70 1h1m1 0h1m3 0h1m3 0h1m3 0h2m7 0h1m7 0h1m3 0h1m2 0h1m2 0h1m14 0h1m4 0h1m1 0h3m-68 1h1m3 0h1m5 0h1m1 0h1m14 0h1m5 0h1m9 0h1m9 0h1m3 0h1m2 0h1m1 0h1m1 0h1m-64 1h1m4 0h1m7 0h1m2 0h2m4 0h1m1 0h1m4 0h1m12 0h1m5 0h1m9 0h2m3 0h2m2 0h1m1 0h2m-69 1h2m3 0h1m5 0h1m4 0h1m9 0h1m1 0h2m14 0h1m18 0h1m-60 1h1m3 0h2m11 0h1m3 0h1m7 0h1m7 0h1m2 0h1m8 0h2m1 0h1m4 0h2m-44 1h1m5 0h1m21 0h1m20 0h1m-72 1h1m4 0h1m6 0h1m6 0h1m2 0h1m1 0h1m3 0h1m3 0h2m4 0h1m3 0h1m10 0h1m3 0h1m3 0h1m2 0h1m2 0h1m-55 1h1m16 0h1m1 0h2m3 0h1m1 0h2m1 0h1m2 0h2m17 0h2m1 0h1m-61 1h1m5 0h1m13 0h1m5 0h1m5 0h1m8 0h1m17 0h1m1 0h1m-69 1h1m2 0h1m3 0h1m3 0h1m4 0h1m6 0h1m7 0h2m5 0h1m2 0h1m5 0h1m5 0h2m5 0h1m2 0h1m2 0h1m3 0h1m-62 1h1m6 0h3m2 0h1m8 0h1m1 0h1m5 0h1m1 0h1m1 0h2m1 0h1m3 0h1m10 0h1m2 0h1m1 0h1m4 0h2m-71 1h1m4 0h1m1 0h2m2 0h1m1 0h1m9 0h3m3 0h1m2 0h1m2 0h1m1 0h1m6 0h1m4 0h1m2 0h2m3 0h1m2 0h1m1 0h4m-64 1h4m7 0h1m4 0h1m3 0h2m2 0h1m5 0h1m4 0h2m4 0h1m7 0h1m3 0h1m1 0h1m6 0h2m2 0h2m-70 1h1m3 0h1m3 0h1m6 0h1m1 0h2m3 0h1m16 0h2m2 0h1m11 0h2m1 0h1m2 0h1m5 0h2m-69 1h2m2 0h1m1 0h1m13 0h1m7 0h1m5 0h1m12 0h1m6 0h2m6 0h1m-60 1h1m3 0h1m12 0h1m13 0h1m2 0h1m2 0h1m12 0h1m-55 1h1m18 0h1m6 0h1m8 0h1m16 0h1m6 0h1m11 0h1m-71 4h1m13 0h1m19 0h1m-35 2h2m18 0h1m1 0h1m4 0h2m7 0h1m4 0h1m8 0h1m1 0h2m14 0h2m-72 2h1m5 0h1m7 0h1m25 0h1m2 0h1m1 0h2m3 0h1m3 0h2m4 0h1m11 0h1m-72 1h1m1 0h1m4 0h1m3 0h1m4 0h1m11 0h1m3 0h1m6 0h1m1 0h1m1 0h1m13 0h1m-50 1h1m2 0h2m2 0h3m10 0h2m7 0h1m3 0h1m11 0h1m4 0h1m11 0h2m-70 1h2m1 0h1m8 0h1m3 0h2m1 0h1m7 0h4m4 0h1m3 0h1m11 0h1m15 0h1m-70 1h1m1 0h1m1 0h1m15 0h1m1 0h1m2 0h2m1 0h1m1 0h1m10 0h1m1 0h1m5 0h1m1 0h3m3 0h1m3 0h1m4 0h1m-59 1h1m15 0h1m2 0h1m9 0h1m16 0h1m1 0h2m3 0h4m1 0h1m2 0h1m-67 1h1m1 0h1m1 0h3m6 0h1m3 0h1m2 0h1m10 0h1m6 0h1m3 0h2m4 0h1m6 0h1m3 0h1m6 0h1m-70 1h1m4 0h2m6 0h1m3 0h2m1 0h3m3 0h1m3 0h1m2 0h1m4 0h1m2 0h1m2 0h3m3 0h1m4 0h1m13 0h1m-70 1h1m2 0h4m2 0h1m3 0h1m4 0h2m2 0h1m1 0h1m1 0h1m2 0h1m1 0h1m3 0h1m2 0h2m1 0h1m1 0h3m1 0h1m1 0h1m9 0h2m3 0h7" stroke="#6191c1"/><path d="M6 0h2m7 0h1m7 0h1m14 0h1m15 0h1m6 0h1m-48 1h1m35 0h1m-33 1h1m17 0h1m3 0h1m7 0h1m2 0h1m3 0h1m-49 1h1m5 0h1m39 0h1m7 0h1m-38 1h2m19 0h1m1 0h1m2 0h1m2 0h2m8 0h1m-41 1h1m31 0h1m5 0h1m-53 1h1m11 0h1m2 0h1m5 0h1m19 0h1m1 0h1m4 0h2m9 0h1m-55 1h1m16 0h1m23 0h1m-39 1h1m8 0h1m6 0h1m15 0h1m-38 1h1m9 0h1m9 0h1m2 0h1m1 0h1m13 0h1m15 0h1m1 0h1m-57 3h1m25 1h1m11 0h1m4 0h1m-40 2h1m39 1h1m9 1h1m-55 1h1m55 0h1m-34 1h1m18 0h1m0 2h1m-44 3h1m42 0h1m-2 1h1m-56 5h1m5 0h1m5 0h1m12 0h2m2 0h1m11 0h1m2 0h1m12 0h1m3 0h1m4 0h1m-60 1h1m1 0h3m1 0h1m2 0h1m4 0h3m2 0h1m2 0h1m8 0h1m11 0h1m1 0h1m3 0h1m5 0h1m6 0h1m2 0h1m-67 1h2m8 0h1m9 0h2m1 0h1m6 0h1m12 0h1m6 0h1m9 0h1m3 0h1m1 0h1m-72 1h1m9 0h3m8 0h1m2 0h2m2 0h1m11 0h1m7 0h1m2 0h1m12 0h1m-65 1h1m17 0h1m8 0h2m8 0h1m2 0h4m3 0h1m2 0h1m2 0h1m1 0h1m4 0h1m3 0h1m-64 1h1m3 0h2m2 0h3m2 0h1m5 0h1m11 0h1m1 0h1m3 0h2m7 0h1m6 0h3m2 0h1m10 0h1m-62 1h1m5 0h1m6 0h1m2 0h1m2 0h1m6 0h3m23 0h1m-47 1h1m23 0h1m15 0h1m2 0h1m2 0h1m4 0h1m-65 1h1m4 0h1m2 0h2m4 0h1m1 0h1m5 0h1m3 0h1m8 0h1m1 0h5m6 0h3m1 0h2m1 0h1m3 0h4m2 0h1m-63 1h1m12 0h1m3 0h2m17 0h1m-41 2h1m11 0h1m11 0h1m3 0h1m10 0h1m6 0h1m1 0h3m2 0h1m5 0h1m1 0h1m2 0h1m2 0h1m-63 1h1m18 0h1m10 0h1m6 0h1m3 0h2m1 0h1m2 0h2m5 0h1m10 0h1m-70 1h1m1 0h1m3 0h1m2 0h1m6 0h2m1 0h2m5 0h1m5 0h1m6 0h2m3 0h1m4 0h1m4 0h1m5 0h2m3 0h1m-64 1h1m3 0h2m2 0h1m7 0h1m1 0h1m1 0h3m15 0h2m4 0h1m7 0h1m7 0h1m6 0h1m-68 1h1m10 0h1m8 0h1m3 0h1m21 0h2m4 0h1m4 0h1m-51 1h1m3 0h1m12 0h1m3 0h1m2 0h1m5 0h1m4 0h1m8 0h1m1 0h1m1 0h2m-60 1h1m8 0h2m3 0h3m3 0h1m4 0h1m1 0h1m5 0h1m7 0h1m2 0h3m2 0h1m9 0h1m3 0h1m2 0h2m-69 1h1m3 0h1m10 0h1m6 0h1m5 0h1m9 0h1m8 0h1m2 0h1m7 0h1m-44 1h1m31 0h1m13 0h1m-63 1h5m1 0h3m1 0h9m2 0h1m1 0h1m2 0h8m1 0h1m1 0h2m1 0h2m1 0h10m1 0h1m1 0h2m1 0h1m1 0h4m1 0h6m-44 1h1m1 5h1m-19 1h1m23 0h1m-36 2h5m1 0h3m1 0h3m1 0h9m1 0h2m1 0h12m1 0h2m1 0h1m2 0h3m1 0h3m3 0h3m2 0h4m1 0h5m-72 1h1m1 0h1m1 0h4m2 0h2m1 0h2m1 0h1m2 0h5m1 0h2m1 0h1m1 0h3m1 0h3m1 0h2m3 0h1m1 0h1m1 0h8m1 0h2m1 0h2m1 0h8m1 0h2m-73 1h5m1 0h2m2 0h1m3 0h2m3 0h10m2 0h2m2 0h3m1 0h2m2 0h1m1 0h2m1 0h6m1 0h2m1 0h1m1 0h11m-71 1h3m4 0h1m1 0h6m1 0h3m2 0h1m2 0h6m5 0h3m2 0h2m2 0h9m2 0h7m2 0h5m2 0h2m-71 1h1m33 0h1m1 0h1m29 0h1m-69 1h5m1 0h1m4 0h1m1 0h3m1 0h2m2 0h1m1 0h1m2 0h2m1 0h2m1 0h1m1 0h4m1 0h6m1 0h9m1 0h1m4 0h1m4 0h1m1 0h2m1 0h2m-71 1h1m8 0h1m2 0h1m1 0h1m3 0h1m23 0h1m21 0h1m-62 1h1m4 0h2m1 0h1m1 0h1m9 0h2m2 0h1m13 0h1m6 0h1m1 0h1m1 0h1m2 0h1m1 0h1m1 0h1m1 0h1m2 0h1m-65 1h1m5 0h1m3 0h1m5 0h1m3 0h1m6 0h1m21 0h1m2 0h2m16 0h1" stroke="#709ec1"/><path d="M11 0h1m14 0h2m-21 1h1m1 0h1m10 0h1m8 0h1m2 0h1m1 0h1m4 0h1m12 0h1m-52 1h1m1 0h2m10 0h1m5 0h1m19 0h1m4 0h1m12 0h2m-51 1h1m32 0h1m4 0h1m14 0h1m8 0h1m-65 1h2m3 0h1m21 0h1m6 0h1m5 0h1m-45 1h1m16 0h1m4 0h1m10 0h1m1 0h2m2 0h1m5 0h1m15 0h1m-48 1h2m6 0h1m13 0h1m5 0h1m7 0h1m11 0h1m-65 1h2m7 0h1m8 0h1m6 0h1m31 0h2m11 0h1m-51 1h1m11 0h1m5 0h1m20 0h1m6 0h1m-41 1h1m4 0h1m13 0h3m7 0h1m6 0h1m-3 4h1m2 0h1m-40 3h1m4 0h1m21 0h1m-12 1h1m-42 5h1m39 0h1m20 0h1m-34 2h1m-26 6h1m4 0h1m6 0h1m2 0h1m3 0h1m24 0h1m3 0h1m1 0h1m1 0h1m3 0h1m4 0h1m-65 1h2m2 0h1m27 0h1m2 0h1m23 0h1m2 0h1m-61 1h1m8 0h1m7 0h1m9 0h1m6 0h1m10 0h1m1 0h1m4 0h1m-54 1h1m3 0h1m24 0h1m4 0h1m13 0h1m21 0h1m-66 1h1m1 0h1m12 0h1m11 0h1m12 0h1m12 0h1m1 0h1m1 0h1m1 0h1m-66 1h1m12 0h1m10 0h1m1 0h1m1 0h1m6 0h1m-35 1h1m12 0h1m8 0h1m18 0h1m4 0h1m6 0h2m-21 1h1m-35 1h1m10 0h2m8 0h2m10 0h2m9 0h1m7 0h1m4 0h1m1 0h1m7 0h1m-54 1h1m9 0h1m3 0h1m5 0h1m17 0h1m-43 1h1m12 0h1m-21 1h1m1 0h1m8 0h1m4 0h1m2 0h1m11 0h1m1 0h1m8 0h1m-29 1h1m1 0h1m1 0h1m12 0h1m19 0h1m5 0h1m-62 1h1m5 0h1m7 0h2m4 0h1m3 0h3m11 0h1m1 0h1m6 0h1m1 0h1m3 0h3m3 0h2m9 0h2m-70 1h1m2 0h1m4 0h1m2 0h1m19 0h3m1 0h1m2 0h1m14 0h1m1 0h3m1 0h1m5 0h1m-62 1h1m1 0h1m4 0h1m13 0h1m6 0h1m2 0h1m24 0h1m-41 1h1m39 0h1m-64 1h1m9 0h1m2 0h1m17 0h1m4 0h1m13 0h1m1 0h1m1 0h1m1 0h1m7 0h1m-54 1h2m8 0h1m12 0h1m1 0h1m1 0h1m1 0h1m14 0h1m-12 1h1m-21 1h1m2 5h1m34 0h1m-54 5h1m31 0h1m28 0h1m-30 1h1m-37 1h1m5 1h1m1 0h1m2 0h1m16 0h1m-27 1h1m12 0h1m38 0h1m-53 1h1m33 0h1m6 0h2m4 0h1m6 0h2m-59 1h1m30 0h2m25 0h1m5 0h1m2 0h1m-56 1h1m9 0h1m11 0h1m2 0h1m14 0h1m5 0h2" stroke="#8fb0ba"/><path d="M19 0h1m28 0h1m1 0h1m13 0h1m-65 1h1m7 0h1m9 0h1m14 0h1m9 0h1m13 0h1m1 0h1m1 0h2m7 0h1m-71 1h1m18 0h1m19 0h1m12 0h1m9 0h1m2 0h1m6 0h1m-67 1h1m1 0h2m24 0h1m6 0h1m15 0h1m7 0h1m-49 1h2m11 0h1m1 0h1m28 0h1m-62 1h2m18 0h1m1 0h1m15 0h1m-29 1h1m9 0h1m13 0h1m2 0h1m9 0h1m3 0h1m9 0h1m5 0h1m2 0h1m-70 1h1m8 0h1m36 0h1m4 0h1m1 0h1m6 0h1m6 0h1m1 0h1m-66 1h1m9 0h1m3 0h1m15 0h1m31 0h1m2 0h1m-61 1h1m2 0h1m26 0h1m9 0h1m-50 9h1m1 2h1m52 3h1m-37 7h2m19 1h1m2 0h1m19 0h1m-30 1h1m10 0h1m13 0h1m-26 1h1m1 0h1m22 0h1m-55 1h1m10 0h1m7 0h1m-10 1h1m14 0h1m18 0h3m9 0h1m-51 1h1m18 0h1m40 0h1m-72 2h1m5 0h1m8 0h1m4 0h2m3 0h1m10 0h1m7 0h1m11 0h1m-7 1h1m-45 1h1m53 0h1m-47 1h1m11 0h1m7 0h1m10 0h1m6 0h1m2 0h1m15 0h1m-60 1h1m15 0h2m4 0h1m24 0h1m9 0h1m-69 1h1m21 0h1m6 0h1m13 0h2m15 0h1m3 0h1m-36 1h1m8 0h1m5 0h1m-11 1h2m2 0h1m19 0h1m4 0h1m1 0h1m-48 1h1m22 0h1m-12 1h1m4 0h1m20 0h1m-44 1h1m10 0h2m24 0h1m-34 2h1m5 0h1m27 0h1m-44 9h1m50 0h1m-47 1h1m21 0h1m-27 1h1m21 0h1m23 0h1m-19 1h1m13 0h1m15 0h1m-33 1h1m2 0h1m4 0h1m14 0h1m-42 1h1m4 0h1m35 0h1m-60 1h1m24 0h1m1 0h1m1 0h3m3 0h1m3 0h1m9 0h1m18 0h1m-54 1h1m7 0h1m23 0h1m-2 1h1" stroke="#b2bfb4"/><path d="M17 0h1m11 0h1m4 0h1m11 0h1m9 0h1m15 0h1m-72 1h1m11 0h1m1 0h1m1 0h1m4 0h1m2 0h1m5 0h1m8 0h1m8 0h1m5 0h1m8 0h1m2 0h1m-60 1h1m19 0h1m1 0h2m12 0h1m2 0h1m5 0h1m7 0h1m-48 1h1m2 0h1m6 0h1m7 0h1m14 0h1m14 0h1m5 0h1m2 0h1m-69 1h1m17 0h1m5 0h2m2 0h1m4 0h1m7 0h1m23 0h1m-64 1h1m22 0h1m1 0h1m13 0h1m9 0h1m1 0h2m2 0h1m1 0h1m-52 1h1m13 0h1m1 0h3m8 0h2m29 0h1m-62 1h2m8 0h2m1 0h1m4 0h1m17 0h1m3 0h1m13 0h1m-63 1h1m27 0h1m7 0h1m1 0h2m7 0h1m6 0h1m5 0h1m1 0h1m-42 1h1m8 0h1m5 0h1m6 0h1m27 0h1m-64 4h1m8 0h1m12 0h1m22 0h1m6 0h1m-33 3h1m18 0h1m18 0h1m2 0h1m-26 6h1m-44 8h1m13 0h1m24 0h1m9 0h1m-33 1h1m-15 1h1m9 0h1m2 0h1m27 0h1m6 0h1m-43 1h1m13 0h1m15 0h1m12 0h1m2 0h1m-55 1h1m11 0h1m21 0h1m-12 2h1m33 0h1m-7 1h1m1 0h1m-29 1h1m3 0h1m2 0h1m31 0h1m-45 1h1m32 0h1m14 0h1m-54 1h1m31 0h1m9 0h1m-50 1h2m28 0h1m1 0h1m6 0h1m7 0h1m2 0h1m-51 1h1m5 0h1m25 0h1m10 0h1m-54 1h1m5 0h1m3 0h2m1 0h1m19 0h1m4 0h1m6 1h1m5 0h1m14 0h1m-40 1h1m6 0h1m-14 1h1m13 0h1m13 0h1m2 0h1m-39 1h1m47 0h1m-16 1h1m14 0h1m-48 1h1m49 1h1m-32 12h1m-28 1h1m20 0h1m-21 1h1m7 0h1m16 0h1m4 1h1m21 0h1m7 0h1m-67 1h1m9 0h1m31 0h1m10 0h1m-19 1h1" stroke="#d8d2c4"/><path d="M0 0h2m1 0h1m1 0h1m2 0h1m19 0h1m3 0h1m6 0h1m2 0h1m2 0h1m7 0h1m3 0h1m9 0h1m2 0h2m-67 1h2m3 0h1m1 0h1m10 0h2m1 0h1m3 0h1m10 0h1m9 0h1m4 0h1m-47 1h1m1 0h1m10 0h1m1 0h1m6 0h1m4 0h1m5 0h1m20 0h1m2 0h1m1 0h1m-68 1h2m11 0h1m3 0h1m7 0h1m21 0h3m8 0h1m3 0h1m5 0h1m-70 1h1m8 0h1m11 0h2m19 0h1m2 0h1m2 0h1m1 0h1m5 0h1m9 0h1m3 0h2m-49 1h1m7 0h1m9 0h1m8 0h1m6 0h1m4 0h1m-59 1h1m1 0h1m4 0h2m1 0h1m1 0h1m15 0h1m1 0h1m6 0h1m5 0h2m6 0h1m2 0h1m2 0h1m8 0h2m-40 1h1m8 0h2m9 0h1m13 0h1m-67 1h3m4 0h2m1 0h1m6 0h1m8 0h1m1 0h1m2 0h1m9 0h1m3 0h1m4 0h1m1 0h1m1 0h1m9 0h1m3 0h1m-68 1h2m2 0h1m10 0h1m5 0h1m3 0h1m6 0h1m3 0h1m3 0h1m2 0h2m6 0h1m1 0h1m2 0h2m3 0h1m-61 4h1m15 0h1m4 0h1m6 0h1m13 0h1m6 0h1m2 0h1m2 0h1m10 0h2m1 0h1m-73 3h2m2 0h1m1 0h1m6 0h1m3 0h3m3 0h1m8 0h1m2 0h1m2 0h1m6 0h1m12 0h1m5 0h1m-48 14h1m46 0h1m3 0h1m2 0h1m-52 1h1m49 0h1m-58 1h1m9 0h1m9 0h1m8 1h1m-40 1h1m8 0h1m3 0h1m18 0h1m17 1h1m4 0h1m-41 1h1m-10 1h1m28 0h1m7 0h1m10 0h1m-41 2h1m20 0h1m1 0h1m3 0h1m7 0h1m-53 1h1m2 0h1m1 0h2m14 0h1m11 0h1m1 0h1m6 0h1m9 0h1m-25 1h1m38 0h1m-66 1h1m54 0h1m-14 1h1m6 0h1m6 0h1m6 0h1m-50 1h1m5 0h1m14 0h1m15 0h1m1 1h1m-55 1h1m39 0h1m-19 1h1m18 0h1m-18 1h1m5 0h1m12 0h1m1 0h1m-31 3h1m7 9h1m9 1h1m-23 2h1m4 0h1m1 0h1m15 0h1m20 0h1m8 0h1m-61 1h1m6 0h1m2 1h1m11 0h1m1 0h1m4 0h1m2 0h1m27 0h1m6 0h1m-53 1h1m28 0h1m22 0h1" stroke="#f0e6de"/><path d="M2 0h1m1 0h1m4 0h2m1 0h2m2 0h1m1 0h1m1 0h1m1 0h1m1 0h1m6 0h1m1 0h1m1 0h2m3 0h1m3 0h1m15 0h1m1 0h2m1 0h2m-65 1h1m13 0h1m19 0h1m7 0h1m3 0h1m5 0h1m3 0h1m1 0h1m5 0h1m-65 1h1m2 0h3m3 0h1m1 0h2m7 0h1m1 0h1m2 0h1m1 0h1m4 0h2m2 0h1m3 0h1m2 0h1m3 0h2m5 0h1m6 0h1m2 0h1m-66 1h1m9 0h2m3 0h1m3 0h2m3 0h2m6 0h1m1 0h2m1 0h1m1 0h1m5 0h1m5 0h1m2 0h2m1 0h1m7 0h2m-66 1h1m4 0h1m3 0h2m3 0h1m9 0h1m14 0h1m10 0h1m2 0h2m5 0h1m2 0h2m-65 1h2m2 0h3m1 0h1m1 0h6m1 0h1m5 0h1m3 0h1m1 0h1m4 0h1m4 0h1m5 0h2m3 0h2m5 0h1m4 0h1m2 0h3m2 0h1m-71 1h1m3 0h1m29 0h1m23 0h1m3 0h2m-61 1h1m1 0h1m4 0h2m1 0h1m1 0h1m6 0h1m4 0h1m4 0h4m2 0h2m3 0h2m2 0h3m4 0h3m4 0h4m4 0h1m-66 1h2m2 0h1m1 0h2m2 0h1m3 0h2m1 0h3m5 0h1m9 0h1m1 0h3m2 0h1m3 0h1m3 0h2m8 0h1m4 0h2m-73 1h2m5 0h1m3 0h1m2 0h3m1 0h3m3 0h1m1 0h1m14 0h1m2 0h1m7 0h1m1 0h1m1 0h1m3 0h3m2 0h1m2 0h1m-68 4h1m3 0h1m1 0h1m2 0h1m3 0h1m5 0h2m3 0h3m7 0h4m4 0h1m17 0h1m-57 3h1m9 0h1m9 0h1m1 0h1m8 0h2m2 0h1m9 0h1m1 0h1m1 0h1m10 0h1m1 0h1m4 0h1m-37 14h1m14 0h1m20 0h1m-61 1h1m35 0h1m8 0h1m10 0h1m-59 1h1m20 0h1m-16 1h1m40 0h1m-34 1h1m1 0h1m19 0h1m-28 1h2m24 0h1m8 0h1m17 0h1m-25 2h1m22 1h2m-71 2h1m10 0h1m4 0h1m1 0h1m23 0h1m3 0h1m7 0h2m4 0h1m8 0h1m-60 1h1m51 0h1m-40 1h1m1 0h1m22 0h1m16 0h1m-51 1h2m17 0h2m21 0h1m10 0h1m-69 1h1m16 0h1m9 0h1m20 0h1m1 0h1m10 0h1m-63 1h1m46 0h1m8 1h1m-55 1h1m22 0h1m6 0h1m4 0h1m2 0h1m2 0h1m4 0h1m5 0h1m-6 1h1m9 2h1m-18 12h1m18 0h1m-41 1h1m18 0h1m4 0h1m-37 1h1m49 2h1m4 0h1" stroke="#f9f4f1"/></g>
<g transform="translate(853.2 1085.07) scale(1.7400 10.5368)" fill="none" stroke-width="1.01"><path d="M38 1h1m-3 10h1m-28 2h1m2 0h1m14 0h2m7 0h1m11 0h1m-47 3h1m30 0h1m4 0h1m4 0h1m3 0h2m-10 3h1m-31 7h2m2 4h1m-12 10h1m3 0h1m7 0h1m5 0h1m5 0h2m1 0h1m6 0h1m2 0h1m4 0h2m2 0h1m-29 12h1m-10 1h1m18 2h1" stroke="#232581"/><path d="M30 0h1m4 0h1m2 0h1m4 0h1m-43 2h1m7 0h1m13 2h1m6 0h1m4 0h1m4 0h1m7 0h1m-28 6h1m4 0h1m7 0h1m9 0h1m-25 1h1m17 0h2m2 0h1m-18 1h1m22 0h1m-45 1h1m15 0h1m8 0h1m2 0h1m2 0h1m4 0h1m2 0h1m2 0h1m-24 1h1m-10 1h1m19 0h1m-11 1h1m6 0h1m4 0h1m3 0h1m-5 1h1m-33 2h1m7 3h1m7 2h2m6 0h1m14 0h1m-3 2h1m-14 3h1m-26 1h1m26 1h1m4 2h1m-8 1h1m18 0h1m-48 2h1m8 0h1m10 0h1m21 0h1m-20 1h1m-11 2h1m3 0h1m30 0h1m-48 1h1m5 0h1m4 0h1m11 0h1m9 0h1m5 0h1m-21 4h1m24 5h1m2 0h1m-14 3h1m2 0h1m-30 3h1m-1 2h1" stroke="#32429c"/><path d="M3 0h4m2 0h3m2 0h2m1 0h2m2 0h1m1 0h1m2 0h1m1 0h2m3 0h2m7 0h1m1 0h1m-39 1h3m2 0h3m6 0h1m13 0h1m-22 1h1m3 0h1m5 0h2m18 0h1m-42 2h1m6 0h1m1 0h3m5 0h3m2 0h2m2 0h1m8 0h1m6 0h2m-7 2h1m-35 1h1m14 0h1m1 0h1m21 0h1m-34 1h1m1 0h1m14 0h1m1 0h1m4 0h1m5 0h1m-29 1h1m11 0h1m8 0h1m-29 1h1m2 0h1m3 0h1m21 0h1m-31 1h2m3 0h1m15 0h1m1 0h1m17 0h1m-28 1h2m3 0h1m15 0h1m4 0h1m-37 2h1m6 1h1m2 0h1m4 0h1m23 0h1m-37 1h1m-4 1h1m14 0h1m3 0h1m12 0h1m-42 1h1m29 1h1m-26 1h2m8 0h1m-7 1h1m2 0h1m1 0h1m12 0h1m15 0h1m4 0h1m-46 1h1m5 0h1m7 0h1m7 0h1m4 0h1m8 0h2m4 0h1m-41 1h1m7 0h1m14 0h1m8 0h1m3 0h1m-41 1h1m1 0h1m2 0h2m9 0h1m1 0h1m3 0h1m6 0h1m8 0h1m1 0h1m3 0h1m-29 1h1m10 0h1m9 0h1m-34 1h1m11 0h1m21 0h1m8 0h1m-10 1h1m-31 1h1m1 0h1m15 0h1m12 0h1m2 0h1m-41 1h1m13 0h1m2 0h1m-21 1h1m4 0h4m1 0h1m3 0h1m8 0h1m3 0h3m4 0h2m1 0h1m2 0h2m-37 1h1m29 0h2m2 0h1m8 0h1m-48 1h1m1 0h1m17 0h1m8 0h1m8 0h2m2 0h1m5 0h1m-48 1h1m6 0h1m5 0h1m1 0h1m12 0h1m3 0h1m8 0h1m4 0h1m-42 1h1m7 0h1m1 0h1m1 0h2m18 0h2m7 0h1m-40 1h1m17 0h1m2 0h1m10 0h1m-39 1h2m2 0h1m2 0h2m1 0h2m8 0h2m5 0h2m1 0h1m1 0h1m3 0h3m2 0h1m2 0h2m-45 1h2m4 0h1m1 0h1m2 0h1m6 0h1m3 0h5m2 0h1m4 0h2m1 0h3m1 0h1m1 0h2m-46 1h1m4 0h1m21 0h1m3 0h1m1 0h1m1 0h3m1 0h2m1 0h1m1 0h2m-43 1h1m3 0h1m9 0h1m2 0h1m4 0h1m1 0h1m1 0h1m6 0h1m-32 1h1m37 0h1m-34 1h1m7 0h1m12 0h1m8 0h1m-41 2h3m22 0h1m12 0h1m-39 1h1m9 0h1m7 0h1m8 0h1m10 0h2m1 0h1m-22 1h1m4 0h1m1 0h1m8 0h1m-27 1h1m16 0h1m3 0h1m1 0h1m7 0h1m-40 1h1m19 0h1m2 0h1m12 0h1m-41 1h1m3 0h1m5 0h1m7 0h1m7 0h1m20 0h1m-49 1h1m3 0h1m1 0h1m2 0h1m11 0h1m1 0h1m13 0h3m7 0h1m-41 1h1m1 0h1m3 0h3m4 0h1m3 0h1m9 0h2m12 0h1m-46 1h1m5 0h1m13 0h1m8 0h1m4 0h1m-38 1h1m35 0h1m8 0h1m-45 1h1m3 0h1m3 0h1m4 0h1m16 0h1m8 0h1m-5 1h1m1 0h1m7 0h1m1 0h1m-1 1h1m-19 1h1m17 0h1m-19 1h1m14 1h1m-33 1h1m21 0h1m4 1h1m-19 2h1m-14 1h1m2 0h1m7 0h1m2 0h1m3 0h1m8 0h1m5 0h1m-38 3h1m3 0h1m3 0h1m14 1h1m2 0h1m1 0h1" stroke="#4063b0"/><path d="M0 0h3m4 0h1m4 0h2m2 0h1m2 0h2m1 0h1m4 0h1m4 0h1m3 0h1m2 0h3m4 0h2m1 0h1m-48 1h2m1 0h1m4 0h1m3 0h1m1 0h3m5 0h1m1 0h2m1 0h3m3 0h2m2 0h2m2 0h1m4 0h1m-43 1h1m1 0h1m2 0h1m2 0h3m3 0h2m6 0h1m1 0h1m2 0h1m4 0h1m3 0h1m6 0h1m-19 1h1m11 0h1m-44 1h2m3 0h1m1 0h2m1 0h1m3 0h2m2 0h1m3 0h1m3 0h1m2 0h1m1 0h2m3 0h1m1 0h1m2 0h1m1 0h1m2 0h2m1 0h1m-48 2h1m4 0h1m9 0h1m9 0h2m2 0h1m6 0h1m1 0h1m3 0h1m3 0h1m-48 1h1m7 0h6m2 0h3m4 0h1m8 0h2m1 0h3m3 0h2m2 0h1m1 0h1m-49 1h4m4 0h3m5 0h2m2 0h2m2 0h2m3 0h1m1 0h1m1 0h1m2 0h1m1 0h2m5 0h2m1 0h1m-46 1h1m5 0h2m7 0h1m2 0h1m2 0h1m5 0h2m3 0h1m2 0h1m1 0h2m1 0h1m-43 1h1m14 0h1m8 0h1m4 0h1m15 0h1m-35 1h1m11 0h1m10 0h1m4 0h1m3 0h1m-38 1h1m5 0h1m21 0h2m1 1h1m-26 1h1m20 0h1m9 0h1m-42 1h4m1 0h1m18 0h1m1 0h1m11 0h1m4 0h1m-6 1h1m-38 1h3m28 0h1m2 0h1m1 0h1m-13 1h1m11 0h1m-35 1h1m18 0h1m2 0h1m19 0h2m-47 1h2m12 0h1m7 0h1m3 0h1m8 0h2m1 0h1m3 0h1m-46 1h2m1 0h2m1 0h3m1 0h2m3 0h2m4 0h1m1 0h1m1 0h1m3 0h2m5 0h1m2 0h3m4 0h1m-47 1h3m1 0h1m1 0h2m2 0h2m3 0h2m2 0h1m1 0h1m1 0h2m1 0h1m1 0h2m2 0h1m3 0h1m9 0h1m2 0h1m-49 1h1m1 0h2m11 0h1m2 0h1m1 0h1m1 0h1m1 0h3m5 0h1m12 0h1m2 0h1m-50 1h1m4 0h1m3 0h1m1 0h1m12 0h1m4 0h1m1 0h1m2 0h2m2 0h1m1 0h1m-38 1h1m5 0h1m5 0h1m7 0h1m12 0h1m2 0h1m2 0h4m-44 1h1m4 0h1m5 0h2m1 0h1m1 0h1m1 0h2m2 0h1m2 0h1m2 0h1m2 0h1m4 0h1m5 0h2m1 0h1m1 0h1m-47 1h1m5 0h1m6 0h1m4 0h1m3 0h1m1 0h1m1 0h1m3 0h1m8 0h1m5 0h1m-46 1h1m2 0h1m8 0h1m1 0h1m1 0h1m2 0h1m2 0h1m4 0h2m3 0h1m2 0h2m1 0h2m5 0h1m-49 1h1m10 0h1m17 0h1m4 0h1m2 0h2m4 0h1m4 0h1m-48 1h2m6 0h1m1 0h2m2 0h1m1 0h1m1 0h4m1 0h1m1 0h1m4 0h3m2 0h1m5 0h5m1 0h1m-46 1h2m1 0h1m2 0h1m3 0h1m2 0h1m2 0h2m2 0h2m4 0h1m2 0h2m3 0h2m1 0h2m1 0h1m3 0h1m1 0h1m-50 1h1m8 0h2m2 0h1m1 0h2m1 0h1m1 0h1m4 0h1m1 0h2m2 0h1m2 0h1m1 0h1m1 0h1m3 0h1m5 0h1m-46 1h2m6 0h1m1 0h1m4 0h3m1 0h2m3 0h2m2 0h1m6 0h1m1 0h2m3 0h1m3 0h1m-44 1h1m3 0h1m2 0h1m2 0h1m1 0h1m4 0h3m1 0h1m2 0h1m3 0h1m1 0h1m1 0h1m3 0h1m-43 1h1m2 0h1m1 0h1m4 0h2m2 0h1m1 0h2m2 0h3m2 0h2m2 0h1m8 0h1m3 0h1m3 0h1m1 0h2m-48 1h1m2 0h2m5 0h1m4 0h2m7 0h3m3 0h1m1 0h1m1 0h1m6 0h1m1 0h2m-46 1h1m1 0h1m3 0h1m1 0h1m1 0h1m5 0h1m1 0h1m5 0h1m5 0h2m1 0h3m3 0h1m3 0h1m4 0h1m-46 1h2m3 0h1m1 0h3m3 0h1m1 0h1m1 0h1m3 0h1m2 0h2m2 0h2m1 0h1m1 0h1m3 0h1m2 0h1m-44 1h1m3 0h1m1 0h2m2 0h1m2 0h2m3 0h1m4 0h1m8 0h3m2 0h1m1 0h1m2 0h1m1 0h1m1 0h1m-31 1h1m-18 1h1m2 0h1m7 0h2m2 0h1m1 0h1m1 0h1m8 0h1m7 0h1m3 0h1m4 0h1m-33 1h1m9 0h1m16 0h2m6 0h1m-39 1h1m2 0h3m17 0h1m1 0h1m-35 1h1m5 0h1m1 0h1m4 0h1m1 0h1m6 0h1m4 0h1m6 0h3m1 0h2m7 0h1m-46 1h1m15 0h1m7 0h1m8 0h1m3 0h2m2 0h1m3 0h2m-47 1h1m2 0h2m1 0h1m4 0h1m2 0h2m6 0h1m1 0h2m9 0h2m1 0h1m4 0h1m-45 1h1m4 0h1m1 0h1m1 0h1m7 0h1m3 0h1m5 0h1m1 0h1m2 0h1m1 0h1m1 0h2m3 0h1m4 0h1m-45 1h1m4 0h1m4 0h1m5 0h2m1 0h1m6 0h1m7 0h1m1 0h1m1 0h1m2 0h1m-45 1h1m1 0h1m6 0h1m1 0h1m1 0h4m2 0h1m1 0h1m2 0h4m2 0h3m1 0h1m5 0h2m3 0h1m-47 1h1m2 0h1m1 0h2m4 0h1m4 0h1m4 0h1m1 0h1m1 0h1m1 0h5m1 0h1m3 0h3m1 0h1m1 0h3m3 0h1m-50 1h1m5 0h2m3 0h1m1 0h2m3 0h1m5 0h1m5 0h2m1 0h4m1 0h2m1 0h2m5 0h1m-26 1h1m4 0h1m1 0h1m12 0h1m-41 1h2m1 0h1m3 0h1m1 0h1m4 0h1m2 0h1m2 0h1m8 0h1m1 0h3m8 0h1m2 0h1m-46 1h1m5 0h1m1 0h1m5 0h1m1 0h2m7 0h3m9 0h1m4 0h1m-43 1h1m11 0h1m4 0h1m7 0h1m9 0h1m1 0h1m-27 1h1m4 0h2m5 0h2m7 0h1m3 0h1m7 1h1m-38 1h1m1 0h1m10 0h1m12 0h1m1 0h1m1 0h1m2 0h1m-23 1h1m20 1h1m-39 3h1m6 0h1m7 0h1m1 0h1m7 0h2m2 0h1m1 0h1m2 0h1m2 0h1m1 0h1m3 0h2m-49 2h1m4 0h3m6 0h1m1 0h1m4 0h1m1 0h1m4 0h1m5 0h3m7 0h2m-32 1h2m14 0h1m7 0h2m2 0h1m-38 1h1m1 0h1m4 0h1m7 0h1m4 0h1m9 0h4m6 0h1m2 0h1" stroke="#507ebc"/><path d="M25 0h1m5 0h1m5 0h1m7 0h1m2 0h1m-49 1h2m2 0h1m4 0h1m11 0h1m1 0h1m1 0h1m7 0h1m3 0h1m4 0h1m2 0h2m2 0h1m-45 1h1m1 0h1m4 0h1m6 0h1m2 0h1m3 0h2m1 0h1m4 0h2m3 0h3m6 0h1m-48 1h2m4 0h1m3 0h1m1 0h1m9 0h1m3 0h1m1 0h1m4 0h1m3 0h1m7 0h1m-41 1h1m9 0h1m17 0h1m-33 1h1m4 0h1m3 0h1m6 0h1m11 0h1m9 0h1m-36 1h1m3 0h1m1 0h1m3 0h2m3 0h1m2 0h1m2 0h1m6 0h1m11 0h1m-46 1h1m2 0h1m2 0h1m8 0h2m8 0h1m1 0h2m2 0h1m3 0h1m3 0h3m3 0h1m3 0h1m-46 1h3m5 0h1m1 0h1m3 0h2m2 0h2m2 0h2m6 0h1m5 0h1m2 0h2m4 0h1m-49 1h1m3 0h1m1 0h2m2 0h1m2 0h4m1 0h1m2 0h2m3 0h3m3 0h1m2 0h2m1 0h1m2 0h1m2 0h2m1 0h1m-45 1h1m23 0h2m1 0h1m7 0h1m-15 1h1m-21 1h1m11 0h1m10 0h1m12 0h1m-32 1h1m20 0h1m-29 1h1m7 0h1m17 0h1m3 0h1m-17 1h1m18 0h1m7 0h1m-40 1h1m31 0h1m-38 1h1m24 0h1m4 0h1m6 0h1m8 0h1m-44 1h1m7 0h1m3 0h1m10 0h1m22 0h1m-49 1h1m7 0h1m-10 1h2m5 0h1m2 0h1m7 0h3m1 0h2m3 0h1m5 0h1m2 0h1m6 0h2m3 0h1m-44 1h1m11 0h1m1 0h2m1 0h1m3 0h1m1 0h1m2 0h2m2 0h1m1 0h1m6 0h2m3 0h1m-37 1h2m3 0h1m1 0h1m13 0h2m2 0h1m2 0h1m2 0h1m3 0h1m-43 1h2m1 0h1m1 0h2m1 0h1m2 0h1m11 0h2m9 0h1m1 0h3m-43 1h1m1 0h1m3 0h1m3 0h1m1 0h1m7 0h1m2 0h1m1 0h1m4 0h1m9 0h1m1 0h1m4 0h1m-45 1h1m4 0h2m1 0h2m3 0h2m1 0h1m2 0h1m16 0h1m5 0h2m-45 1h1m1 0h1m1 0h1m2 0h1m7 0h1m6 0h1m7 0h1m1 0h2m5 0h1m-39 1h2m4 0h1m2 0h2m3 0h1m10 0h2m3 0h1m1 0h1m2 0h1m2 0h1m1 0h1m-45 1h1m3 0h1m4 0h1m17 0h1m3 0h2m2 0h2m6 0h3m-43 1h1m5 0h1m1 0h1m3 0h1m22 0h1m2 0h1m2 0h1m-42 1h1m11 0h1m1 0h1m6 0h1m13 0h1m7 0h1m1 0h1m-49 1h1m5 0h2m1 0h3m2 0h1m5 0h2m3 0h3m2 0h1m2 0h1m7 0h1m1 0h2m-44 1h1m1 0h4m3 0h2m4 0h1m4 0h3m4 0h1m3 0h1m1 0h1m5 0h1m3 0h2m-47 1h1m5 0h2m4 0h1m11 0h2m7 0h1m3 0h1m1 0h1m2 0h1m1 0h1m1 0h2m-47 1h1m1 0h1m1 0h1m5 0h2m1 0h1m14 0h1m2 0h1m2 0h1m1 0h1m3 0h1m1 0h4m-43 1h1m1 0h1m5 0h2m1 0h1m3 0h1m3 0h1m4 0h1m4 0h4m3 0h1m3 0h2m-45 1h1m6 0h1m10 0h1m2 0h1m2 0h1m3 0h1m7 0h1m11 0h1m-50 1h1m1 0h1m3 0h1m6 0h2m6 0h1m2 0h1m21 0h1m-47 1h2m4 0h1m3 0h1m3 0h1m1 0h1m1 0h1m4 0h2m2 0h1m3 0h1m14 0h1m-47 1h1m1 0h3m4 0h1m2 0h1m8 0h1m4 0h2m3 0h1m5 0h1m3 0h2m1 0h1m1 0h1m2 0h1m-37 1h1m4 0h2m5 0h1m-25 1h1m4 0h1m3 0h1m3 0h1m1 0h1m3 0h1m2 0h1m1 0h1m1 0h1m1 0h2m2 0h1m1 0h1m1 0h2m3 0h1m1 0h1m2 0h2m-42 1h1m6 0h3m4 0h1m6 0h1m2 0h1m2 0h1m3 0h1m3 0h1m-36 1h1m1 0h1m7 0h1m6 0h1m12 0h1m4 0h2m1 0h1m1 0h2m-49 1h1m4 0h2m1 0h1m1 0h1m7 0h1m5 0h3m2 0h1m1 0h4m12 0h1m1 0h1m-43 1h1m2 0h1m4 0h1m5 0h1m9 0h1m1 0h1m4 0h1m-38 1h1m2 0h2m4 0h3m3 0h1m2 0h1m2 0h1m1 0h1m4 0h1m2 0h1m2 0h1m6 0h2m1 0h1m1 0h1m-38 1h1m3 0h2m5 0h1m4 0h1m3 0h1m4 0h1m4 0h1m3 0h3m2 0h1m-40 1h1m2 0h1m1 0h2m7 0h2m6 0h2m3 0h1m5 0h1m5 0h1m-39 1h1m1 0h1m5 0h1m9 0h2m3 0h1m5 0h1m3 0h1m-44 1h2m1 0h1m3 0h1m1 0h1m1 0h1m4 0h1m4 0h1m9 0h1m3 0h1m3 0h1m1 0h1m3 0h1m-46 1h1m3 0h1m4 0h1m1 0h1m3 0h2m1 0h2m1 0h1m4 0h3m10 0h1m2 0h2m1 0h1m-1 1h1m-47 1h1m6 0h1m5 0h1m1 0h1m6 0h1m1 0h1m2 0h3m8 0h1m2 0h1m1 0h2m4 0h1m-49 1h1m3 0h1m7 0h3m8 0h1m9 0h1m2 0h1m5 0h1m-37 1h1m9 0h1m3 0h1m2 0h1m6 0h1m4 0h1m4 0h1m-38 1h1m6 0h2m2 0h1m7 0h1m1 0h1m5 0h4m3 0h1m4 0h1m1 0h1m3 0h1m-36 1h1m13 0h1m6 0h1m2 0h1m7 0h1m-47 1h1m6 0h1m6 0h1m1 0h2m2 0h1m3 0h1m3 0h1m5 0h2m11 0h2m-43 1h1m5 0h1m11 0h1m3 0h1m12 0h1m-40 1h2m19 0h1m25 0h1m-34 1h1m2 0h1m1 0h2m11 0h2m4 0h1m1 0h1m4 0h1m-30 1h1m6 0h1m2 0h1m2 0h1m1 0h2m2 0h1m3 0h1m6 0h1m-46 1h1m6 0h1m2 0h5m8 0h1m1 0h1m2 0h2m4 0h1m2 0h1m3 0h1m1 0h1m2 0h1m-47 1h1m2 0h1m3 0h1m6 0h3m11 0h2m7 0h1m4 0h1m1 0h1m-33 1h1m1 0h2m7 0h1m2 0h1m8 0h2m1 0h1m1 0h1m-38 1h1m1 0h1m1 0h1m5 0h1m2 0h2m4 0h1m1 0h1m7 0h1m5 0h1m1 0h3m-46 1h1m5 0h1m1 0h4m1 0h2m2 0h2m2 0h4m2 0h1m11 0h3m1 0h2m1 0h1" stroke="#6191c1"/><path d="M15 1h1m25 0h1m2 0h1m2 0h1m-48 1h1m9 0h1m7 0h1m12 0h2m4 0h1m6 0h1m1 0h1m-47 1h1m2 0h4m1 0h3m1 0h1m1 0h9m1 0h3m1 0h1m1 0h1m1 0h2m1 0h3m1 0h4m1 0h2m1 0h3m-47 1h1m13 0h1m9 0h1m14 0h1m-43 1h2m1 0h4m1 0h1m1 0h1m1 0h4m1 0h1m1 0h11m1 0h6m1 0h2m1 0h9m-50 1h2m1 0h1m2 0h1m1 0h1m3 0h1m6 0h1m2 0h1m1 0h1m5 0h1m1 0h1m1 0h1m1 0h2m3 0h2m4 0h1m1 0h1m-48 1h1m1 0h1m2 0h1m15 0h1m-9 1h1m16 0h1m4 0h1m4 0h1m4 0h1m-44 1h1m1 0h1m5 0h1m7 0h1m5 0h1m5 0h1m11 0h1m2 0h1m1 0h1m-43 1h1m10 0h1m8 1h1m-2 1h1m5 0h1m1 0h1m2 0h1m11 0h1m-35 1h1m7 0h1m-22 1h1m21 0h1m18 0h1m-35 1h1m1 0h1m23 0h1m1 0h1m-31 2h1m2 0h2m21 0h1m-13 1h1m1 0h1m24 0h1m-46 1h1m8 0h1m10 0h1m10 0h1m8 0h1m-42 1h1m5 0h2m1 0h3m14 0h1m1 0h1m1 0h1m1 0h2m6 0h1m3 0h2m-46 1h1m21 0h1m8 0h2m3 0h1m8 0h1m-40 1h1m24 0h1m8 0h1m-43 1h1m1 0h1m5 0h1m1 0h1m4 0h1m4 0h1m3 0h1m6 0h2m1 0h3m1 0h1m6 0h1m1 0h2m-39 1h1m2 0h1m2 0h1m9 0h1m6 0h1m12 0h1m-45 1h1m3 0h1m1 0h1m13 0h1m3 0h1m3 0h2m1 0h2m2 0h1m11 0h1m-47 1h1m8 0h1m9 0h1m2 0h1m16 0h1m3 0h1m-40 1h2m4 0h1m3 0h1m8 0h1m5 0h1m8 0h1m2 0h1m2 0h1m1 0h1m-46 1h1m2 0h2m5 0h1m5 0h2m4 0h1m2 0h1m4 0h1m-28 1h1m6 0h2m5 0h1m1 0h2m6 0h3m1 0h2m3 0h2m2 0h1m1 0h1m2 0h1m-50 2h1m16 0h2m6 0h1m20 0h1m-28 1h1m6 0h1m20 0h1m-47 1h1m3 0h1m2 0h1m12 0h1m4 0h1m5 0h1m3 0h1m-37 1h1m1 0h1m18 0h1m4 0h1m4 0h1m1 0h1m15 0h1m-48 1h1m21 0h1m6 0h1m11 0h1m3 0h1m-10 1h1m-31 1h1m9 0h1m1 0h1m16 0h1m-36 1h1m4 0h1m7 0h1m4 0h1m1 0h1m-7 1h1m5 0h1m6 0h1m6 0h1m-34 1h1m24 0h1m-25 1h2m1 0h2m17 0h1m5 0h1m6 0h1m1 0h1m4 0h1m2 0h1m-49 1h3m5 0h1m8 0h1m1 0h1m1 0h1m2 0h1m1 0h1m9 0h1m6 0h2m-38 1h1m9 0h1m1 0h2m1 0h1m1 0h1m3 0h2m1 0h1m1 0h1m1 0h1m7 0h1m-43 1h1m24 0h1m-28 1h2m2 0h1m1 0h1m1 0h1m3 0h3m1 0h1m1 0h1m5 0h1m12 0h1m4 0h1m2 0h1m-25 1h1m4 0h1m6 0h1m6 0h1m8 0h1m-50 1h1m5 0h1m1 0h1m7 0h1m1 0h1m3 0h1m10 0h1m8 0h1m4 0h1m-46 1h1m3 0h1m1 0h1m3 0h1m9 0h1m8 0h1m12 0h1m2 0h1m-46 1h1m2 0h1m12 0h1m5 0h1m11 0h1m-19 1h1m7 0h1m20 0h1m-44 1h1m16 0h1m3 0h2m22 0h1m-41 1h1m23 0h1m3 0h1m-30 1h1m9 0h1m6 0h1m7 0h1m-34 1h1m6 0h1m2 0h1m1 0h1m3 0h1m16 0h1m7 0h1m2 0h1m2 0h1m1 0h1m-50 1h2m3 0h1m2 0h1m2 0h1m1 0h1m2 0h1m15 0h3m10 0h1m-40 1h1m3 0h1m2 0h1m3 0h2m5 0h1m4 0h1m-27 1h1m9 0h1m4 0h1m2 0h1m4 0h1m7 0h1m-34 1h1m2 0h1m1 0h1m2 0h1m1 0h1m1 0h1m5 0h1m5 0h1m3 0h1m3 0h1m8 0h1m6 0h1m-50 1h6m1 0h5m2 0h3m1 0h1m3 0h2m1 0h3m1 0h6m1 0h2m1 0h2m1 0h6m1 0h1m-50 1h2m4 0h15m1 0h1m2 0h15m1 0h1m1 0h6m-49 1h5m1 0h4m1 0h5m1 0h2m1 0h1m2 0h6m1 0h4m2 0h4m1 0h1m1 0h4m1 0h2m-50 1h4m1 0h6m1 0h6m1 0h1m1 0h1m1 0h2m1 0h2m1 0h2m1 0h1m2 0h2m1 0h1m1 0h1m1 0h6m-47 1h2m2 0h3m10 0h1m3 0h1m1 0h2m8 0h1m10 0h1m-46 1h1m1 0h1m1 0h2m1 0h3m1 0h6m3 0h2m1 0h7m3 0h7m1 0h4m1 0h1m1 0h2m-47 1h1m4 0h5m7 0h1m1 0h1m2 0h1m1 0h1m5 0h1m6 0h1m6 0h2m-48 1h1m2 0h1m12 0h2m5 0h1m6 0h1m1 0h2m2 0h1m2 0h1m-40 1h2m12 0h2m2 0h1m9 0h2m3 0h1m7 0h1m6 0h1" stroke="#709ec1"/><path d="M19 1h1m2 0h1m9 0h1m-29 1h1m20 0h1m10 0h1m-33 2h1m34 0h1m-36 2h1m8 0h1m21 0h1m7 0h1m2 0h1m-26 1h1m8 0h1m1 0h1m-33 2h1m1 0h1m8 1h1m7 0h1m21 0h1m-35 1h1m8 0h1m6 0h1m21 0h1m-25 1h1m20 0h1m3 0h1m-40 1h1m18 0h1m-22 1h1m1 0h1m8 0h2m2 0h1m4 0h1m5 0h1m17 0h1m-50 1h1m1 0h1m10 0h1m6 0h1m22 0h1m-23 1h1m-19 1h1m16 0h1m2 0h1m7 0h1m-30 1h1m11 0h1m1 0h2m2 0h1m-11 1h2m2 0h1m4 0h1m22 0h1m-27 1h1m7 0h1m1 0h1m4 0h1m5 0h1m2 0h1m8 0h1m-37 1h1m4 0h1m23 0h1m-38 1h1m21 0h1m3 0h1m11 0h1m-26 1h1m-1 1h1m17 0h1m10 0h1m-48 1h1m3 0h1m2 0h1m8 0h1m15 0h1m-4 1h1m2 0h1m-31 1h1m1 0h1m-5 1h1m11 0h1m3 0h1m1 0h1m-18 1h1m4 0h1m1 0h1m9 0h1m7 0h1m11 1h1m-37 1h1m5 1h1m5 1h1m14 0h1m-26 1h1m-4 1h1m30 0h1m4 0h1m1 0h1m-19 1h1m-6 1h1m32 1h1m-25 1h1m-21 1h1m4 0h1m-2 1h1m12 0h1m1 0h1m6 0h1m-27 1h2m10 0h1m1 0h1m4 0h1m11 0h1m6 0h1m2 0h1m-47 1h2m10 0h1m3 0h1m21 0h2m9 0h1m-46 1h1m7 0h1m9 0h1m15 0h1m-37 1h1m2 0h1m5 0h1m10 0h1m2 0h2m-26 2h1m10 0h1m4 0h1m19 0h1m-31 1h1m9 0h2m10 0h1m4 0h3m9 0h1m-4 1h1m5 0h1m-31 1h1m-12 1h1m36 0h1m-43 1h1m2 0h1m7 0h2m25 0h2m-24 1h1m1 0h1m8 0h1m8 0h1m7 0h1m-46 1h1m3 0h1m15 0h1m2 0h2m-25 1h1m1 0h1m5 0h1m7 0h1m4 0h1m20 0h1m1 0h2m-48 1h1m1 0h1m5 0h1m7 0h1m11 0h1m13 0h1m4 0h1m-8 1h1m-39 1h1m5 0h1m6 0h1m5 0h1m9 0h2m15 1h1m-28 1h1m2 0h1m-20 1h1m-2 1h1m-5 1h1m38 0h1m-18 1h1m-22 1h1m30 0h1m9 0h1m3 0h1m-47 1h1m2 0h1m8 0h1m9 0h2m23 0h2m-46 1h2m27 0h1m14 0h1" stroke="#8fb0ba"/><path d="M24 0h1m3 1h1m-20 4h1m6 0h1m12 1h1m-4 1h1m2 0h1m-28 3h2m8 0h1m1 0h1m8 0h1m9 0h1m3 0h1m5 0h1m-44 1h1m2 0h1m13 0h1m13 0h1m1 0h1m7 0h1m6 0h1m-48 1h1m4 0h1m16 0h1m6 0h1m7 0h1m-33 2h1m40 0h1m-47 1h1m16 0h1m20 0h1m9 0h1m-16 1h1m-34 1h1m13 0h2m2 0h1m12 0h1m11 0h2m2 0h1m-37 1h1m17 0h1m7 0h1m6 0h1m-31 1h1m4 0h2m25 3h1m-23 3h1m3 0h1m10 0h1m-41 2h1m9 0h1m7 0h1m1 0h1m-8 2h1m5 0h1m2 0h1m24 0h1m-34 2h1m-1 1h1m17 0h1m4 0h1m-22 1h1m-8 1h1m6 2h1m9 2h1m-9 1h1m-17 2h1m29 1h1m2 0h1m-34 1h1m23 0h1m4 0h1m-21 1h1m3 0h1m-7 1h1m25 0h1m7 0h1m2 0h1m-16 1h1m-5 1h1m-2 1h1m-20 1h2m-5 3h1m3 0h1m12 0h1m3 0h2m12 0h1m2 1h1m-39 1h1m34 0h1m2 0h1m-29 1h1m4 0h1m5 0h1m3 0h1m5 0h1m-14 1h1m21 0h1m-29 1h1m6 0h1m3 0h1m13 0h1m2 0h1m4 0h1m-24 1h1m12 0h1m-23 1h1m1 0h1m18 0h1m-29 2h1m0 1h1m8 0h1m-20 2h1m28 0h1m-27 1h1m14 0h1m11 0h1m5 0h1m-36 1h1m8 0h1m17 0h1m16 0h1m2 0h1" stroke="#b2bfb4"/><path d="M8 0h1m-7 2h2m41 0h1m-13 2h1m-34 6h1m4 0h1m2 0h1m8 0h1m9 0h1m8 0h1m3 0h1m6 0h2m-48 1h1m7 0h1m3 0h3m2 0h2m9 0h2m3 0h1m8 0h1m-41 1h1m5 0h2m1 0h1m2 0h2m1 0h1m14 0h1m10 0h1m-42 1h1m26 0h1m8 0h1m-39 1h1m12 0h1m3 0h1m9 0h1m10 0h1m8 0h1m-39 1h1m11 0h2m2 0h1m1 0h1m1 0h1m11 0h1m2 0h1m-16 1h1m13 0h1m-32 1h1m7 0h1m4 0h1m22 0h1m-41 1h1m8 0h1m5 0h1m9 0h1m1 0h1m2 0h1m4 0h1m2 0h1m-31 1h1m4 0h1m3 0h1m6 0h1m4 0h1m1 0h1m-19 3h1m14 0h1m10 2h1m-14 1h1m10 0h1m-32 1h1m12 0h1m2 0h1m3 0h1m-13 1h1m12 0h1m-24 1h1m10 0h1m0 1h1m1 0h1m2 1h1m-21 3h1m-4 2h2m9 0h1m-4 1h1m-12 4h1m5 2h1m15 0h1m12 0h1m-34 1h1m12 1h1m26 0h1m-30 1h1m29 0h1m-48 1h1m14 0h1m4 0h1m2 0h1m24 0h1m-46 1h1m16 0h1m11 0h1m6 1h1m1 0h1m-40 3h1m2 1h1m4 0h1m1 0h1m3 0h4m4 0h1m4 0h1m1 0h2m1 0h1m5 0h1m6 0h3m-42 2h1m9 0h1m4 0h1m8 0h1m9 1h1m-40 1h1m5 0h1m11 0h1m15 0h1m2 0h1m-35 1h1m5 0h1m7 0h1m21 0h2m4 0h1m-44 1h1m24 0h1m-11 1h1m-17 1h2m33 2h1m-16 3h1m5 0h1" stroke="#d8d2c4"/><path d="M47 2h1m-11 3h1m-28 1h1m-3 1h1m38 0h1m-41 1h1m2 2h1m4 0h1m4 0h1m1 0h1m15 0h1m3 0h1m2 0h1m3 0h1m-48 1h1m1 0h1m3 0h1m2 0h1m9 0h1m10 0h1m14 0h1m-40 1h1m2 0h1m2 0h1m7 0h1m4 0h1m11 0h1m3 0h1m3 0h1m-47 1h1m3 0h2m7 0h1m4 0h1m21 0h1m3 0h1m-31 1h1m5 0h1m4 0h1m3 0h1m4 0h2m1 0h1m1 0h1m5 0h1m-9 1h1m1 0h1m6 0h1m-47 1h1m7 0h2m3 0h1m2 0h1m5 0h1m3 0h3m9 0h1m5 0h1m-38 1h1m8 0h2m15 0h1m4 0h1m2 0h2m3 0h1m-44 1h1m2 0h1m5 0h1m5 0h1m15 0h1m7 0h1m-39 1h1m1 0h1m8 0h1m10 0h1m7 0h2m4 0h1m2 0h2m1 0h1m-11 5h1m-37 1h1m18 0h1m2 1h1m16 0h1m-40 1h1m36 0h1m7 0h1m0 1h1m-43 1h1m16 5h1m-14 6h1m1 0h1m9 0h1m8 0h1m1 0h1m5 0h1m2 0h1m1 0h1m-26 1h1m-11 1h1m3 0h1m34 0h1m1 0h1m-31 1h1m23 1h1m1 0h1m-14 1h1m1 0h1m-27 1h1m28 0h1m-34 1h1m8 0h1m10 0h1m3 1h1m-14 3h1m-15 1h2m4 0h1m3 0h1m1 0h1m8 0h1m4 0h1m16 0h1m-43 1h1m13 0h1m9 0h1m-6 1h1m9 0h1m3 0h1m1 1h1m1 0h1m3 0h1m-39 1h1m1 0h1m38 0h1m-46 1h1m2 0h1m20 0h1m19 0h1m-28 1h1m18 0h1m8 0h1m-39 5h1m-7 2h1m10 0h1m12 1h1m1 0h1m-3 1h1" stroke="#f0e6de"/><path d="M14 6h1m3 0h1m2 0h1m3 0h1m-2 4h1m7 0h1m-11 1h1m14 0h1m11 0h1m-50 1h1m1 0h1m1 0h1m24 0h1m1 0h1m-32 1h1m1 0h1m5 0h1m2 0h1m1 0h1m2 0h3m2 0h2m1 0h2m7 0h2m2 0h1m4 0h1m1 0h1m2 0h1m1 0h1m-50 1h1m3 0h1m3 0h1m1 0h1m1 0h1m6 0h1m2 0h1m4 0h1m4 0h1m4 0h1m3 0h2m2 0h1m-39 1h1m4 0h1m2 0h1m5 0h1m3 0h1m5 0h3m-34 1h1m2 0h2m1 0h3m2 0h1m1 0h1m1 0h2m1 0h3m1 0h1m2 0h2m5 0h1m2 0h1m6 0h1m3 0h1m2 0h1m-48 1h1m9 0h1m1 0h1m7 0h1m4 0h1m1 0h1m-29 1h1m3 0h2m1 0h1m1 0h1m11 0h1m2 0h1m1 0h1m1 0h1m1 0h3m3 0h1m3 0h2m3 0h1m-47 1h1m1 0h1m5 0h1m4 0h1m4 0h1m5 0h1m4 0h1m1 0h2m4 0h1m8 0h1m-33 1h1m6 0h1m0 3h1m16 0h1m-25 1h1m-4 1h1m14 0h1m-28 1h2m10 1h1m9 0h1m1 0h1m3 0h1m5 0h1m-33 1h1m20 0h1m25 0h1m-48 1h1m6 0h1m20 0h1m13 3h1m-37 2h1m-9 6h1m14 0h2m5 0h2m7 0h1m1 0h1m1 0h1m1 0h1m4 0h1m4 0h1m1 0h1m-50 2h1m3 0h1m6 0h1m17 0h2m2 0h1m-23 1h1m10 0h1m4 0h1m12 0h1m5 0h1m-30 1h1m2 1h1m8 0h1m-28 1h1m-3 2h1m2 0h1m43 3h1m-11 2h1m8 0h1m-20 1h1m-22 1h1m5 0h1m9 0h1m3 0h2m21 0h1m-49 1h1m34 0h1m4 0h1m-42 1h1m1 0h1m2 0h1m1 0h2m1 0h2m3 0h1m1 0h1m1 0h1m2 0h1m1 0h1m4 0h1m1 0h3m2 0h2m1 0h1m-37 1h1m18 0h1m4 0h1m13 0h1m2 0h1m-16 3h1m19 1h1m-1 3h1m-43 1h1m13 0h1m10 0h1m3 0h1" stroke="#f9f4f1"/></g>
<g transform="translate(941.4 1085.07) scale(1.7660 10.5368)" fill="none" stroke-width="1.01"><path d="M0 0h4m3 0h5m1 0h1m1 0h3m1 0h1m1 0h3m1 0h1m1 0h1m1 0h1m2 0h1m3 0h2m2 0h1m4 0h2m-10 11h1m-36 2h2m8 0h1m14 0h1m3 0h2m5 0h1m5 0h2m-43 3h1m3 0h2m3 0h1m2 0h1m1 0h1m7 0h1m4 0h1m2 0h2m2 0h1m-17 9h1m-1 1h1m-20 14h2m2 0h1m2 0h1m2 0h1m3 0h1m2 0h2m2 0h1m1 0h3m3 0h1m4 0h2m6 0h1m1 0h1m-11 23h1" stroke="#232581"/><path d="M4 0h2m6 0h1m1 0h1m5 0h1m5 0h1m3 0h1m2 0h3m2 0h1m2 0h4m-8 2h1m-23 2h1m-9 2h1m1 0h1m6 0h1m5 0h1m4 0h1m1 0h1m-27 1h1m26 0h1m-31 4h1m9 0h1m14 0h1m18 0h1m-32 2h1m6 0h1m14 0h1m5 0h1m-39 1h1m1 2h1m8 0h1m5 0h5m1 0h1m8 0h1m2 0h1m4 0h1m1 0h1m-17 4h1m7 3h1m-6 1h1m-21 1h1m16 5h1m-12 7h1m-4 1h1m13 0h1m-27 1h1m4 0h1m6 0h1m-16 1h1m16 0h1m23 0h2m-40 2h1m41 1h1m-43 3h1m32 1h1m-8 2h1m-21 1h1m19 5h1m6 0h1m-29 3h1m13 0h1m-10 5h1m22 3h1" stroke="#32429c"/><path d="M6 0h1m11 0h1m12 0h1m7 0h1m-40 1h1m1 0h1m4 0h2m6 0h1m4 0h4m1 0h1m1 0h1m1 0h1m3 0h6m2 0h1m3 0h1m-44 1h2m1 0h1m1 0h1m5 0h2m1 0h4m7 0h1m6 0h3m7 0h1m1 0h1m-30 1h1m-16 1h1m16 0h1m9 0h1m1 0h1m2 0h1m-34 2h3m6 0h1m4 0h1m2 0h1m2 0h1m3 0h2m3 0h1m4 0h2m1 0h2m4 0h1m-27 1h1m14 0h1m1 0h1m-36 1h1m2 0h1m11 0h1m6 0h1m4 0h1m8 0h1m-30 1h1m14 0h1m4 0h1m15 0h1m-34 1h1m4 0h2m-16 1h1m1 0h2m2 0h1m3 0h2m3 0h1m1 0h5m4 0h1m1 0h1m3 0h3m4 0h1m4 0h2m-12 1h1m-30 1h1m7 0h1m19 0h1m-23 1h1m3 0h1m16 0h1m-33 1h1m1 0h1m3 0h1m1 0h1m24 0h1m11 0h1m-43 1h1m6 0h1m7 0h1m21 0h1m-42 1h1m35 0h1m-30 1h1m8 0h1m12 0h1m15 0h2m-32 1h1m13 0h1m-9 1h1m3 1h1m-14 1h1m5 0h1m27 0h1m-36 3h1m8 0h1m-4 1h1m-2 1h1m-15 3h1m22 0h1m0 1h1m15 0h1m-22 1h1m13 1h1m2 0h1m-39 1h1m21 0h2m1 0h1m3 0h1m3 0h1m2 0h1m1 0h1m1 0h1m1 0h1m-33 1h1m-8 1h1m11 0h1m6 0h1m13 0h1m1 0h1m1 0h1m-40 1h2m4 0h1m5 0h1m1 0h1m1 0h1m11 0h1m5 0h3m3 0h1m1 0h1m-42 1h1m4 0h1m8 0h1m2 0h3m14 0h1m1 0h1m2 0h1m3 0h1m-30 1h4m9 0h1m2 0h1m3 0h1m4 0h2m3 0h1m-46 1h1m2 0h1m-3 1h1m4 0h1m24 0h1m3 0h1m4 0h4m1 0h1m-47 1h3m2 0h1m2 0h2m3 0h2m1 0h1m2 0h1m2 0h1m2 0h1m1 0h1m18 0h1m-44 1h1m3 0h1m2 0h1m1 0h1m12 0h1m3 0h1m6 0h1m-28 1h1m6 0h1m4 0h1m23 0h2m-40 1h1m4 0h1m5 0h1m4 0h1m1 0h2m2 0h1m2 0h1m1 0h3m5 0h1m-41 1h1m9 0h1m10 0h1m1 0h1m1 0h1m-21 1h1m7 0h2m12 0h1m-29 1h1m25 0h1m9 0h2m4 0h1m-43 1h2m4 0h1m17 0h1m11 0h1m-31 2h1m4 0h1m-6 1h1m6 0h1m6 0h1m8 0h1m2 0h1m12 0h1m-32 1h2m-8 1h1m0 1h1m1 0h1m3 0h2m3 0h1m1 0h1m13 0h1m-11 1h1m8 0h1m4 0h1m2 0h1m-43 1h1m10 0h1m2 0h1m8 1h1m19 2h1m-39 3h2m2 0h2m3 0h1m5 0h1m4 0h1m7 0h1m6 0h2m-43 2h1m38 0h1m-29 1h1m13 0h1m7 0h2m-7 1h1" stroke="#4063b0"/><path d="M24 0h1m3 0h1m-28 1h1m1 0h1m5 0h1m1 0h3m3 0h2m21 0h1m1 0h1m1 0h1m-45 1h1m3 0h1m1 0h1m1 0h3m4 0h1m4 0h1m1 0h2m1 0h2m1 0h1m1 0h2m1 0h1m4 0h1m1 0h1m-38 2h1m1 0h1m1 0h3m2 0h1m3 0h1m1 0h1m1 0h2m3 0h1m1 0h1m2 0h1m2 0h1m1 0h1m1 0h1m3 0h3m1 0h2m-43 2h3m1 0h1m3 0h2m3 0h1m2 0h1m3 0h1m6 0h1m1 0h2m2 0h1m2 0h2m4 0h1m-42 1h1m2 0h3m1 0h1m2 0h2m7 0h3m1 0h1m3 0h1m3 0h1m7 0h1m1 0h1m-45 1h1m5 0h1m5 0h1m1 0h1m2 0h1m11 0h1m6 0h1m2 0h1m2 0h2m-46 1h1m2 0h1m5 0h1m1 0h1m1 0h3m7 0h1m2 0h1m2 0h1m5 0h1m1 0h1m1 0h1m1 0h1m3 0h1m-44 1h1m5 0h1m13 0h2m1 0h2m2 0h1m1 0h1m3 0h2m2 0h2m2 0h1m1 0h2m-39 1h1m5 0h2m1 0h1m5 0h1m2 0h1m1 0h1m1 0h2m4 0h1m1 0h1m2 0h3m-39 1h1m1 0h1m2 0h3m4 0h1m4 0h3m2 0h1m3 0h1m2 0h1m1 0h1m1 0h1m7 0h1m-46 1h1m27 0h1m6 0h1m6 0h1m-44 1h1m6 0h2m4 0h2m6 0h1m2 0h2m2 0h3m3 0h2m1 0h1m3 0h2m1 0h1m1 0h1m-47 1h1m1 0h1m3 0h1m5 0h2m1 0h1m1 0h1m3 0h1m3 0h1m1 0h3m1 0h1m1 0h1m2 0h1m7 0h2m-18 1h1m-28 1h1m11 0h1m1 0h3m1 0h1m26 0h1m-47 1h2m6 0h2m2 0h1m1 0h1m3 0h1m2 0h1m4 0h1m1 0h1m1 0h1m2 0h4m1 0h1m1 0h1m1 0h1m1 0h1m-45 1h1m12 0h1m5 0h1m5 0h1m7 0h1m5 0h1m3 0h1m2 0h1m-47 1h1m1 0h1m10 0h1m13 0h1m4 0h1m8 0h1m3 0h1m-28 1h1m13 0h1m-26 2h1m26 0h1m-11 1h2m15 0h1m-26 1h1m3 1h1m-4 1h1m-15 1h1m13 0h1m12 0h1m3 1h1m-28 1h1m2 0h3m1 0h1m1 0h1m4 0h1m1 0h1m6 0h1m1 0h2m1 0h2m6 0h1m1 0h2m-46 1h3m1 0h1m4 0h3m2 0h2m2 0h1m1 0h1m3 0h1m2 0h3m1 0h1m2 0h4m1 0h2m4 0h1m-46 1h1m1 0h1m1 0h2m5 0h1m2 0h1m2 0h2m2 0h1m2 0h2m2 0h1m4 0h1m9 0h1m-38 1h2m11 0h1m2 0h1m6 0h1m14 0h1m-45 1h2m2 0h1m1 0h3m2 0h3m1 0h3m1 0h1m5 0h1m1 0h1m1 0h1m1 0h1m1 0h1m8 0h2m1 0h1m-34 1h1m2 0h1m2 0h2m4 0h1m3 0h3m3 0h1m9 0h1m-45 1h1m5 0h2m1 0h1m2 0h2m1 0h1m1 0h1m2 0h1m1 0h1m1 0h3m1 0h2m4 0h1m9 0h1m-43 1h4m1 0h1m1 0h3m3 0h1m2 0h2m1 0h3m2 0h1m3 0h2m5 0h2m5 0h1m-46 1h2m7 0h4m4 0h1m5 0h1m3 0h1m6 0h2m1 0h1m1 0h2m-41 1h3m3 0h2m1 0h2m1 0h1m1 0h1m5 0h2m5 0h2m1 0h1m3 0h1m4 0h2m2 0h1m1 0h1m-35 1h1m3 0h1m6 0h1m6 0h1m10 0h1m4 0h1m-43 1h1m1 0h2m3 0h2m2 0h1m2 0h3m1 0h3m3 0h1m1 0h3m2 0h2m1 0h3m-33 1h1m4 0h1m2 0h1m1 0h1m13 0h1m2 0h3m1 0h1m1 0h1m1 0h1m1 0h2m-38 1h1m12 0h1m1 0h1m3 0h1m10 0h1m1 0h1m5 0h1m-46 1h1m6 0h1m4 0h1m3 0h1m1 0h2m6 0h1m1 0h1m1 0h1m4 0h2m3 0h1m-40 1h1m5 0h1m5 0h1m4 0h1m1 0h1m8 0h1m8 0h2m4 0h1m-46 1h2m4 0h1m1 0h2m6 0h1m5 0h1m3 0h1m7 0h6m3 0h1m1 0h1m-46 1h1m5 0h1m2 0h2m1 0h1m5 0h2m2 0h1m4 0h1m2 0h2m2 0h2m1 0h1m1 0h1m-38 1h2m5 0h2m1 0h1m2 0h1m13 0h1m6 0h1m5 0h1m-39 1h2m3 0h2m2 0h1m1 0h1m11 0h1m5 0h1m1 0h2m2 0h1m1 0h6m-45 1h1m31 0h1m4 0h1m-37 1h2m3 0h1m4 0h1m2 0h1m1 0h1m1 0h1m8 0h2m-31 1h1m1 0h1m7 0h4m2 0h1m10 0h1m1 0h1m10 0h1m4 0h1m-39 1h1m4 0h1m19 0h1m10 0h1m-40 1h1m18 0h1m19 0h2m-45 1h1m1 0h2m3 0h1m14 0h1m3 0h1m8 0h1m4 0h2m3 0h2m-46 1h3m1 0h1m2 0h1m2 0h2m2 0h1m2 0h2m3 0h1m16 0h1m-41 1h1m2 0h1m3 0h1m3 0h2m1 0h1m8 0h1m3 0h1m1 0h1m1 0h1m1 0h1m8 0h1m3 0h1m-1 4h1m-35 1h1m-13 1h4m1 0h1m3 0h1m4 0h1m5 0h1m2 0h1m1 0h1m3 0h6m2 0h2m-32 2h1m1 0h1m2 0h2m1 0h2m3 0h2m4 0h1m3 0h1m3 0h1m2 0h2m5 0h1m-38 1h1m1 0h2m2 0h1m2 0h5m2 0h1m3 0h1m1 0h2m6 0h1m2 0h1m2 0h1m1 0h1m-45 1h1m1 0h1m3 0h1m1 0h2m1 0h3m1 0h1m2 0h1m2 0h2m2 0h1m18 0h1" stroke="#507ebc"/><path d="M4 1h1m1 0h1m3 0h1m3 0h1m1 0h1m2 0h1m4 0h1m3 0h1m2 0h2m6 0h1m6 0h1m-46 1h1m10 0h1m8 0h1m2 0h1m14 0h1m2 0h2m-44 1h1m13 0h1m1 0h1m5 0h1m5 0h1m4 0h1m3 0h2m4 0h2m-41 1h1m5 0h2m1 0h2m2 0h1m4 0h2m4 0h1m7 0h1m1 0h1m5 0h1m-37 1h1m2 0h1m2 0h2m1 0h1m1 0h1m3 0h1m1 0h1m5 0h1m1 0h1m2 0h1m1 0h1m2 0h1m4 0h1m-36 1h1m7 0h1m3 0h1m8 0h1m9 0h1m-43 1h1m5 0h2m6 0h1m4 0h5m3 0h1m3 0h1m6 0h1m2 0h2m-42 1h1m4 0h1m3 0h1m7 0h1m2 0h1m1 0h4m1 0h1m3 0h4m1 0h1m1 0h2m1 0h1m-42 1h2m1 0h3m3 0h1m1 0h1m3 0h3m1 0h2m3 0h1m4 0h4m4 0h1m1 0h1m5 0h1m-47 1h2m1 0h1m1 0h1m3 0h1m1 0h3m5 0h3m8 0h1m1 0h1m1 0h1m3 0h1m3 0h1m-38 1h2m17 0h1m7 0h1m6 0h1m-39 1h4m1 0h1m6 0h1m1 0h2m1 0h1m1 0h1m5 0h1m2 0h1m2 0h2m7 0h1m1 0h1m-26 1h2m2 0h1m10 0h1m6 0h1m-37 1h1m1 0h1m2 0h1m1 0h1m3 0h1m3 0h2m5 0h1m4 0h2m5 0h1m1 0h1m2 0h1m1 0h1m-36 1h2m4 0h1m1 0h2m2 0h1m3 0h1m3 0h1m1 0h1m2 0h1m1 0h2m1 0h1m1 0h2m-26 1h1m12 0h1m12 0h1m-42 1h1m5 0h1m8 0h1m1 0h1m3 0h5m2 0h1m2 0h1m2 0h2m1 0h1m2 0h3m-44 1h2m1 0h1m4 0h2m1 0h1m3 0h1m2 0h1m2 0h3m1 0h1m3 0h2m8 0h1m-41 1h1m8 0h1m1 0h1m7 0h1m1 0h2m3 0h1m2 0h1m4 0h1m1 0h2m1 0h2m2 0h2m-35 1h1m-3 1h1m1 0h1m4 0h1m9 0h2m2 0h1m-1 1h1m-28 1h1m12 0h1m3 0h1m-18 2h1m23 0h1m3 0h1m-27 1h1m8 0h1m4 0h1m4 0h1m5 0h1m-21 1h1m-5 1h1m16 0h1m9 0h1m9 0h1m1 0h1m-13 1h1m9 0h1m-44 1h1m2 0h1m1 0h1m2 0h2m5 0h1m1 0h3m14 0h1m2 0h2m5 0h1m-41 1h1m1 0h2m6 0h1m2 0h2m4 0h2m2 0h1m5 0h2m8 0h1m1 0h1m-39 1h4m2 0h2m2 0h1m2 0h1m6 0h2m1 0h2m3 0h1m1 0h7m1 0h1m-44 1h2m2 0h1m3 0h1m4 0h3m4 0h1m3 0h1m5 0h2m2 0h1m3 0h1m2 0h1m-41 1h1m6 0h1m4 0h1m3 0h1m1 0h1m5 0h1m3 0h1m5 0h1m7 0h1m-46 1h1m2 0h1m3 0h2m3 0h1m2 0h1m1 0h1m3 0h1m4 0h1m6 0h1m2 0h1m4 0h1m-42 1h1m1 0h1m2 0h2m2 0h1m7 0h1m1 0h2m3 0h1m3 0h1m3 0h3m6 0h4m-45 1h1m8 0h1m4 0h1m6 0h1m6 0h1m1 0h1m3 0h1m5 0h1m-38 1h2m3 0h1m4 0h2m3 0h1m5 0h2m2 0h1m2 0h1m10 0h1m1 0h1m-41 1h1m8 0h1m9 0h1m2 0h1m4 0h1m1 0h1m3 0h2m-26 1h1m21 0h1m-36 1h1m7 0h2m2 0h2m2 0h1m3 0h1m3 0h1m1 0h1m1 0h1m4 0h1m11 0h1m-40 1h1m3 0h1m15 0h1m1 0h2m-30 1h1m1 0h1m3 0h1m4 0h1m1 0h1m5 0h1m2 0h1m3 0h1m3 0h1m3 0h2m1 0h1m4 0h3m-42 1h1m3 0h1m4 0h1m2 0h1m6 0h1m11 0h1m5 0h1m1 0h2m-44 1h1m9 0h1m11 0h1m5 0h1m12 0h1m1 0h1m-34 1h1m2 0h1m3 0h2m1 0h2m10 0h2m10 0h1m1 0h1m-44 1h1m7 0h1m2 0h1m2 0h1m6 0h3m1 0h1m3 0h1m8 0h1m4 0h1m-47 1h1m15 0h1m4 0h1m3 0h2m6 0h1m1 0h1m-36 1h1m2 0h1m4 0h1m2 0h1m2 0h1m1 0h1m1 0h1m1 0h1m2 0h1m4 0h1m1 0h1m1 0h1m5 0h1m1 0h1m-12 1h1m13 0h1m2 0h1m-47 1h2m4 0h1m2 0h2m16 0h1m5 0h1m4 0h1m2 0h2m-42 1h1m1 0h1m2 0h1m1 0h2m5 0h1m1 0h1m5 0h1m7 0h2m1 0h1m1 0h3m2 0h1m2 0h1m-7 1h1m-23 1h1m1 0h1m6 0h1m4 0h1m9 0h1m1 0h1m-35 1h2m5 0h1m4 0h1m4 0h1m1 0h1m6 0h1m4 0h1m3 0h1m-34 1h1m5 0h2m7 0h2m1 0h4m1 0h1m1 0h1m1 0h1m8 0h1m-38 1h1m5 0h1m1 0h1m1 0h1m8 0h1m1 0h1m3 0h1m1 0h1m3 0h2m2 0h1m-26 1h1m-18 1h2m5 0h1m2 0h1m1 0h1m7 0h2m11 0h2m-35 1h1m4 0h1m14 0h1m2 0h2m6 0h1m1 0h1m3 0h2m2 0h1m2 0h1m-31 1h1m3 0h1m2 0h1m6 0h1m1 0h1m12 0h1m-41 1h1m3 0h3m2 0h1m3 0h1m4 0h1m6 0h1m7 0h1m-33 1h1m3 0h1m4 0h1m1 0h1m1 0h1m1 0h1m2 0h1m14 0h3m2 0h3m-37 1h1m3 0h2m1 0h1m1 0h1m-20 1h1m9 0h1m7 0h1m3 0h1m4 0h1m1 0h1m1 0h3m2 0h1m4 0h3m2 0h1m-47 1h1m2 0h1m1 0h1m2 0h1m2 0h1m12 0h1m17 0h1m3 0h1m-29 1h1m2 0h1m3 0h1m2 0h1m5 0h2m4 0h1m1 0h2" stroke="#6191c1"/><path d="M5 1h1m37 0h1m-33 1h1m29 0h1m-41 1h1m1 0h11m1 0h1m2 0h3m2 0h3m1 0h1m1 0h2m1 0h1m1 0h3m2 0h4m2 0h2m-47 1h2m4 0h1m-7 1h8m1 0h2m1 0h2m2 0h1m1 0h1m1 0h3m3 0h5m1 0h1m1 0h2m1 0h1m1 0h2m1 0h4m-46 1h1m27 0h1m-25 1h1m6 0h1m1 0h1m3 0h1m21 0h1m5 0h1m-41 1h1m1 0h1m3 0h1m1 0h1m3 0h1m11 0h1m16 0h1m-39 1h1m10 0h1m8 0h1m13 0h1m-36 1h1m6 0h1m2 0h2m9 0h1m4 0h1m3 0h1m3 0h1m-40 1h1m10 0h1m-5 1h1m4 0h1m4 0h1m1 0h1m3 0h1m2 0h1m1 0h1m6 0h1m1 0h1m2 0h1m1 0h2m-20 1h1m15 0h1m3 0h1m-37 1h1m11 0h1m13 0h1m2 0h1m-36 1h1m9 0h1m5 0h1m2 0h2m14 0h1m-13 1h1m12 0h1m-36 1h1m1 0h1m2 0h1m10 0h3m6 0h1m1 0h1m8 0h2m-39 1h1m1 0h1m8 0h1m3 0h1m2 0h1m14 0h1m1 0h1m3 0h1m-42 1h1m1 0h1m1 0h1m1 0h2m1 0h1m2 0h1m1 0h1m4 0h1m2 0h1m1 0h1m1 0h1m2 0h1m2 0h1m-27 1h1m16 0h1m2 0h1m-16 1h1m19 0h1m-30 1h1m10 0h1m21 0h1m-17 1h1m22 0h1m-27 1h1m10 0h2m14 0h1m-24 1h1m3 0h1m8 0h1m6 0h1m-14 1h1m-1 3h1m-29 1h1m2 0h1m19 0h1m1 0h1m12 0h4m-43 1h1m7 0h2m3 0h1m6 0h1m1 0h1m8 0h1m7 0h1m4 0h1m-45 1h1m1 0h1m1 0h1m11 0h1m7 0h1m11 0h1m9 0h1m-43 1h2m3 0h1m2 0h3m4 0h1m1 0h1m6 0h2m1 0h1m2 0h1m6 0h1m4 0h1m-43 1h1m6 0h1m23 0h1m3 0h1m1 0h1m-41 1h2m2 0h1m3 0h1m4 0h1m8 0h1m3 0h1m6 0h1m2 0h4m1 0h3m-34 1h1m27 0h1m-7 1h1m8 0h1m3 0h1m-42 1h2m15 0h1m10 0h1m9 0h1m-39 1h1m5 0h1m10 0h1m21 0h1m-40 1h1m4 0h1m3 0h1m13 0h1m5 0h1m-31 1h1m20 0h1m14 0h1m-23 1h1m1 0h2m1 0h2m5 0h1m1 0h2m9 0h1m-43 1h1m3 0h1m11 0h2m1 0h1m11 0h2m-34 1h1m1 0h1m25 0h1m4 0h1m1 0h1m8 0h1m-42 1h1m1 0h1m10 0h2m2 0h1m10 0h1m-21 1h1m7 0h1m8 0h1m11 0h2m-38 1h2m14 0h2m11 0h1m4 0h1m1 0h1m4 0h1m-38 1h1m4 0h2m4 0h2m1 0h1m-11 1h1m4 0h1m1 0h1m1 0h2m1 0h1m1 0h1m7 0h1m-35 1h2m1 0h6m1 0h1m1 0h1m1 0h5m1 0h9m1 0h3m2 0h4m1 0h3m1 0h2m-32 1h2m1 0h1m1 0h1m1 0h3m10 0h1m1 0h2m1 0h2m2 0h1m1 0h1m-11 1h1m6 0h1m-26 1h2m23 0h1m-36 1h1m3 0h2m14 0h1m5 0h1m1 0h1m5 0h1m-38 1h1m1 0h1m4 0h1m2 0h1m17 0h1m-33 1h1m12 0h1m6 0h1m1 0h1m1 0h1m7 0h1m5 0h2m3 0h1m1 0h1m-42 1h3m11 0h1m1 0h2m10 0h1m10 0h1m1 0h1m-17 1h1m12 0h1m-43 1h2m2 0h1m1 0h3m1 0h2m1 0h1m1 0h7m2 0h11m2 0h5m1 0h2m1 0h1m-47 1h2m1 0h1m1 0h2m1 0h2m1 0h11m1 0h2m2 0h3m1 0h1m2 0h1m1 0h1m1 0h1m2 0h2m1 0h1m-45 1h8m1 0h7m1 0h3m1 0h2m1 0h6m1 0h1m2 0h11m-44 1h3m2 0h3m4 0h1m1 0h2m3 0h3m1 0h6m1 0h5m1 0h1m1 0h3m1 0h4m-29 1h1m7 0h1m1 0h1m-29 1h10m1 0h3m2 0h1m1 0h1m1 0h1m1 0h9m1 0h3m1 0h11m-44 1h1m1 0h2m10 0h1m1 0h1m8 0h1m6 0h1m3 0h1m5 0h1m-42 1h1m1 0h1m8 0h1m9 0h1m2 0h1m4 0h1m4 0h1m-37 1h1m2 0h1m9 0h1m1 0h1m2 0h1m3 0h1m2 0h1m3 0h2m3 0h3m7 0h1" stroke="#709ec1"/><path d="M26 1h1m2 1h1m2 0h1m12 0h1m-25 1h1m9 0h1m0 1h1m4 3h1m2 0h1m-37 1h1m19 1h1m11 0h1m-33 1h1m39 0h1m-36 1h1m-10 1h1m7 0h1m28 1h1m-37 1h1m3 0h1m11 0h1m5 0h1m-16 1h1m32 0h1m-10 1h1m9 0h1m-39 1h1m3 0h1m2 0h2m1 0h1m18 0h1m-31 2h1m1 0h1m12 0h1m17 0h1m5 0h1m-40 1h1m1 0h1m4 0h1m20 0h1m-9 1h2m14 0h1m6 0h1m-46 1h1m6 1h1m13 0h1m-22 1h1m32 0h1m-6 1h1m9 1h1m-40 1h1m8 0h1m29 0h1m1 0h1m-35 1h1m4 0h2m1 0h1m13 0h1m16 0h1m-41 2h1m15 0h1m8 0h1m-21 2h1m20 0h2m-34 1h2m16 0h1m18 0h1m1 0h1m2 0h1m1 0h1m-21 1h1m-21 1h1m1 0h1m4 0h1m6 0h1m3 0h1m5 0h1m3 0h1m13 0h1m-16 1h1m-6 2h1m8 1h1m-12 1h1m-10 1h1m-12 1h1m34 0h1m-25 1h1m8 0h1m3 0h1m12 0h1m-28 1h1m8 0h2m7 0h1m-27 1h1m4 0h1m15 0h1m10 0h1m-34 1h1m18 0h1m4 0h1m-29 1h1m5 1h1m3 0h1m5 0h1m6 0h1m7 0h1m6 0h1m-34 1h1m6 1h1m19 0h1m-32 1h1m8 0h1m12 0h1m3 0h1m3 0h1m2 0h1m8 0h1m-41 1h1m14 0h1m2 0h1m2 0h1m13 0h1m-7 1h1m-32 1h1m3 0h1m7 0h1m14 0h1m-25 1h1m13 0h1m13 0h1m4 0h1m3 0h1m-39 1h1m1 0h2m13 0h1m12 0h1m-10 1h1m13 0h1m-19 1h1m-17 1h1m4 1h1m21 0h1m4 0h1m-30 1h1m24 0h1m-13 3h1m-14 1h1m14 0h2m-4 1h2m9 0h1m6 0h1m4 0h1m-45 1h1m5 0h1m1 0h1m30 0h1m4 0h1" stroke="#8fb0ba"/><path d="M30 1h1m-5 2h1m-3 1h1m15 0h1m-12 3h1m-21 1h1m10 0h1m22 0h1m-20 2h1m2 0h1m-24 3h1m23 0h1m-11 1h1m-14 1h1m23 2h1m9 0h1m-33 2h1m9 0h1m14 0h1m-27 1h1m28 0h1m-31 1h1m1 0h1m27 0h1m-36 1h1m8 0h1m15 0h1m3 0h1m-11 1h1m9 0h1m1 1h1m-23 1h1m7 0h1m28 0h1m-46 1h1m13 0h1m20 0h2m7 0h1m-41 1h1m6 0h1m5 0h1m4 0h1m5 0h1m-14 1h1m-10 1h1m5 0h1m2 0h1m10 0h2m-16 1h1m13 0h1m-5 2h1m0 1h2m1 0h1m-4 2h1m-21 1h1m7 0h1m12 1h2m3 1h1m15 0h1m-46 3h1m9 1h1m25 0h1m-7 1h1m7 0h1m-34 1h1m23 0h1m7 0h1m-30 1h1m5 0h1m8 0h1m8 0h1m-20 1h1m-11 2h2m17 0h1m6 0h2m12 0h1m-14 1h1m-27 2h1m14 1h1m7 0h1m-28 1h1m29 0h1m14 0h1m-27 1h1m3 0h1m-24 1h1m11 0h1m28 1h1m-42 1h1m8 0h1m11 0h1m1 0h1m10 0h1m-22 1h1m1 0h2m9 0h1m2 0h1m2 0h1m9 0h1m1 0h2m-5 1h1m-13 1h1m-31 2h1m3 0h1m31 0h1m5 0h1m-12 2h1m-21 1h1m2 0h1m10 0h1m-12 1h1m15 1h1" stroke="#b2bfb4"/><path d="M24 5h1m-11 1h1m28 0h1m-43 1h1m32 0h1m8 0h1m-32 1h1m31 1h1m-38 4h1m-6 1h1m7 2h1m25 0h1m-36 4h1m5 0h1m7 0h1m1 0h1m5 0h1m9 0h1m2 0h1m-35 1h2m6 0h1m1 0h1m2 0h1m13 0h1m6 0h1m8 0h1m-44 1h2m9 0h1m2 0h1m9 0h2m6 0h1m1 0h1m3 0h1m3 0h2m-42 1h1m4 0h1m3 0h1m1 0h1m10 0h1m1 0h1m9 0h1m1 0h1m1 0h1m-36 1h2m1 0h1m10 0h1m13 0h1m2 0h1m1 0h1m-34 1h1m17 0h1m7 0h1m2 0h2m2 0h1m-33 1h1m7 0h1m5 0h2m1 0h1m1 0h1m5 0h2m9 0h1m-26 1h1m2 0h1m2 0h1m2 0h1m3 0h1m1 0h1m1 0h1m-23 1h1m6 0h2m2 0h3m11 0h1m-38 1h1m9 0h1m2 0h1m20 0h2m7 0h1m-40 5h1m39 2h1m-3 1h1m-20 2h1m-19 1h1m33 2h1m-33 1h1m-6 1h2m4 0h1m-10 1h1m11 0h1m23 0h1m6 0h1m1 0h1m-17 1h1m11 1h1m-3 1h1m5 0h1m-28 2h1m5 1h1m5 0h1m-6 1h1m-25 1h1m5 0h1m1 0h1m14 0h1m1 0h1m1 0h1m14 0h1m-44 1h1m3 0h1m2 0h1m4 0h1m18 0h1m3 0h1m1 0h1m7 0h1m-29 1h1m5 0h1m5 0h1m-17 1h1m-7 1h1m17 0h1m10 0h2m-38 1h3m3 0h1m1 0h4m2 0h1m7 0h1m2 0h1m4 0h1m2 0h3m3 0h1m4 1h1m-42 1h1m12 2h1m1 0h1m-18 3h1m1 0h1m-4 1h2m38 0h1m-31 1h1" stroke="#d8d2c4"/><path d="M2 3h1m23 1h1m12 0h1m5 2h1m-44 1h1m31 2h1m-29 1h1m33 2h1m-33 1h1m1 0h1m4 0h2m8 0h1m1 1h1m-27 2h2m6 0h1m6 0h1m12 0h1m16 0h1m-12 1h1m-32 3h1m7 0h1m1 0h1m1 0h1m1 0h3m1 0h1m3 0h1m3 0h1m3 0h1m3 0h2m2 0h1m1 0h1m1 0h1m-46 1h1m6 0h1m11 0h1m1 0h1m8 0h1m2 0h1m2 0h2m1 0h1m3 0h1m-39 1h3m1 0h2m2 0h1m2 0h1m1 0h1m1 0h4m3 0h1m4 0h1m4 0h2m3 0h1m-44 1h1m1 0h1m7 0h3m4 0h2m4 0h3m1 0h1m5 0h1m2 0h1m8 0h1m-43 1h1m8 0h2m3 0h1m4 0h1m21 0h1m-45 1h3m3 0h1m3 0h1m2 0h3m2 0h1m13 0h1m1 0h1m3 0h1m2 0h1m3 0h1m-44 1h2m2 0h2m2 0h4m4 0h1m7 0h1m4 0h2m2 0h1m2 0h1m2 0h3m2 0h1m-46 1h3m3 0h2m6 0h1m4 0h2m2 0h1m1 0h2m2 0h1m13 0h1m1 0h1m-37 1h1m23 0h1m1 0h1m1 0h1m1 0h1m1 0h1m1 0h1m-44 1h1m6 0h1m8 0h1m3 0h1m1 0h1m6 0h1m-20 4h1m25 3h1m-14 3h1m-17 1h1m9 0h1m2 0h1m8 0h1m1 0h2m-30 3h1m11 0h1m1 1h1m6 0h2m12 0h1m-36 2h1m2 0h1m7 0h1m15 0h1m-30 1h1m5 0h1m4 0h1m29 0h2m-27 1h1m26 0h1m-35 2h1m14 1h1m19 0h1m-42 1h1m12 0h1m5 0h1m-12 1h1m5 0h4m5 0h1m1 0h1m3 0h2m5 0h1m-42 1h1m2 0h1m6 0h1m4 0h1m1 0h1m8 0h1m10 0h1m7 0h1m-18 1h1m-20 1h1m-10 2h1m12 0h1m6 0h1m11 0h1m4 0h3m1 0h1m2 0h1m-41 5h1m-1 4h1m28 0h1" stroke="#f0e6de"/><path d="M30 8h1m-31 5h1m4 0h1m3 0h1m1 0h1m5 0h1m3 0h1m1 0h2m5 0h1m8 0h1m-40 3h1m5 0h1m6 0h1m25 0h1m-38 1h1m3 0h1m2 3h1m14 0h1m12 0h1m2 0h1m2 0h1m-44 1h1m3 0h1m1 0h1m7 0h1m2 0h1m1 0h1m1 0h1m6 0h1m12 0h3m-39 1h1m14 0h1m10 0h2m2 0h1m5 0h2m-42 1h1m3 0h2m7 0h1m15 0h3m2 0h1m3 0h1m1 0h1m1 0h1m2 0h1m-47 1h1m1 0h1m1 0h3m2 0h1m1 0h1m2 0h3m2 0h2m2 0h1m2 0h3m4 0h1m2 0h2m1 0h1m2 0h2m2 0h1m-43 1h2m2 0h1m10 0h1m3 0h2m3 0h1m1 0h1m8 0h1m3 0h2m-45 1h1m3 0h1m4 0h1m18 0h1m11 0h1m-37 1h1m1 0h1m4 0h1m1 0h2m16 0h1m1 0h1m1 0h1m1 0h2m1 0h1m1 0h2m1 0h1m-46 1h3m1 0h2m2 0h2m1 0h1m6 0h3m3 0h1m3 0h1m2 0h2m2 0h1m1 0h1m3 0h1m-42 1h1m2 0h4m2 0h3m2 0h1m3 0h3m1 0h1m1 0h3m4 0h2m2 0h1m2 0h5m1 0h1m1 0h1m-27 1h1m7 0h1m3 8h1m5 2h2m3 0h1m-30 3h1m-4 1h1m-8 1h1m37 1h1m-20 1h1m-18 1h1m21 0h1m5 0h1m6 0h1m1 4h1m-44 1h1m2 0h4m2 0h1m1 0h1m2 0h1m8 0h2m1 0h1m9 0h2m1 0h2m4 0h1m-27 1h1m1 0h2m5 0h1m2 0h1m2 0h1m4 0h1m-9 1h1m12 0h1m-41 3h3m11 0h1m5 0h1m3 0h1m6 6h1m-5 2h1m9 1h1" stroke="#f9f4f1"/></g>
<g transform="translate(1025.6 1085.07) scale(1.7556 10.5368)" fill="none" stroke-width="1.01"><path d="M0 5h1m14 0h1m17 2h2m2 0h1m-38 6h4m1 0h2m2 0h2m1 0h1m2 0h3m1 0h1m4 0h1m1 0h1m4 0h1m1 0h6m1 0h1m1 0h3m-45 3h2m3 0h1m4 0h1m1 0h1m1 0h2m2 0h3m2 0h1m3 0h1m2 0h1m1 0h4m1 0h2m2 0h4m-33 9h1m13 5h1m-13 2h1m-15 8h1m4 0h1m3 0h8m2 0h1m4 0h1m1 0h1m1 0h1m1 0h6m1 0h1m2 0h3m-32 1h1m2 0h1m1 0h1m3 0h1m9 0h1m6 0h2m4 0h1m-32 25h1" stroke="#232581"/><path d="M24 0h1m-13 1h1m-10 1h1m37 0h1m2 0h1m-33 1h1m-11 2h1m3 2h1m3 0h1m1 0h2m1 0h2m2 0h2m11 0h1m8 0h1m1 0h2m-33 4h1m2 1h1m-12 1h1m2 0h2m2 0h1m2 0h1m5 0h1m1 0h1m5 0h3m8 0h1m1 0h1m-40 3h2m3 0h1m1 0h1m1 0h1m1 0h1m2 0h2m3 0h1m2 0h3m1 0h2m1 0h1m4 0h1m2 0h2m-4 2h1m-33 1h1m31 0h1m-38 2h1m40 0h1m-27 2h1m-6 4h1m32 0h1m-42 2h2m12 2h1m24 0h1m-32 2h1m24 2h1m-34 2h1m10 0h1m14 0h1m15 0h1m-44 3h1m1 0h2m1 0h2m9 0h1m2 0h4m3 0h1m1 0h1m6 0h1m1 0h1m4 0h2m-44 1h4m1 0h1m2 0h2m1 0h2m1 0h1m3 0h1m1 0h2m1 0h1m1 0h1m2 0h1m3 0h3m4 0h1m3 0h1m-33 1h1m28 1h1m-30 2h1m30 3h1m-39 6h1m4 1h1m31 1h1m-38 2h1m1 0h1m3 0h1m2 0h1m-12 1h1m20 4h1m13 0h1" stroke="#32429c"/><path d="M33 0h1m2 0h1m-27 1h1m13 0h1m8 0h1m1 0h1m1 0h1m2 0h1m-39 1h1m7 0h1m1 0h1m7 0h1m3 0h1m5 0h1m5 0h1m6 0h1m-20 1h1m8 0h1m4 0h1m2 0h1m-39 1h1m7 0h1m8 0h1m7 0h1m13 0h1m-42 1h1m8 0h1m5 0h1m2 0h2m7 0h1m5 0h2m1 0h1m4 0h1m-40 1h1m10 0h2m1 0h1m8 0h1m17 0h1m-45 1h1m1 0h1m1 0h2m3 0h1m7 0h2m2 0h1m4 0h1m1 0h1m6 0h1m3 0h2m-38 1h1m6 0h1m20 0h1m-22 1h1m2 0h1m10 0h1m10 0h1m1 0h1m3 0h1m-40 1h1m8 0h1m1 0h1m1 0h1m17 0h1m4 0h1m-39 1h2m7 0h1m1 0h1m5 0h1m2 0h1m3 0h1m8 0h1m1 0h1m2 0h1m1 0h1m-31 1h1m1 0h1m24 0h1m6 0h1m-32 1h1m4 0h1m2 0h1m1 0h1m1 0h1m1 0h1m4 0h1m-21 1h1m-13 1h1m10 0h1m7 0h1m14 0h1m5 0h1m-37 1h1m1 0h1m1 0h1m13 0h1m-14 2h1m5 0h1m25 0h1m-32 1h3m1 0h1m3 0h1m13 0h1m1 0h1m5 0h1m-26 1h1m26 0h1m1 0h1m-40 1h1m2 0h1m1 0h1m2 0h1m1 0h1m4 0h2m9 0h1m1 0h1m1 0h1m1 0h1m6 0h1m-30 1h1m-16 1h1m40 0h1m-42 1h2m10 0h1m4 0h1m1 0h1m23 0h1m-4 1h1m-37 1h1m36 0h1m-37 1h1m15 0h1m11 0h1m3 0h2m5 0h1m-33 1h1m2 0h1m4 0h1m9 0h1m2 0h3m2 0h1m-28 1h1m1 0h2m8 0h1m9 0h1m1 0h1m1 0h1m2 0h1m-29 1h1m17 0h1m9 0h1m-26 1h1m-6 1h1m-8 1h1m31 0h1m4 0h1m1 0h1m-38 1h1m9 0h1m4 0h1m-5 1h1m19 0h1m-37 1h1m1 0h1m33 0h1m-28 1h1m2 0h1m2 0h1m8 0h1m-22 1h1m26 0h1m-5 1h1m-25 1h1m15 0h1m6 0h1m13 0h1m-40 1h1m4 0h1m1 0h2m8 0h2m4 0h1m4 0h1m2 0h2m3 0h1m2 0h1m1 0h2m-32 1h1m3 0h1m4 0h2m10 0h2m1 0h1m1 0h1m2 0h1m-41 1h2m11 0h1m5 0h1m4 0h1m6 0h1m2 0h1m2 0h2m-38 1h3m3 0h1m3 0h2m2 0h1m2 0h1m12 0h5m-35 1h4m1 0h1m17 0h1m9 0h2m1 0h1m-36 1h1m7 0h1m1 0h1m1 0h1m6 0h1m18 0h1m3 0h1m-39 1h1m3 0h1m14 0h1m4 0h1m5 0h1m-22 1h1m12 0h2m6 0h1m1 0h1m2 0h1m-42 1h1m5 0h1m3 0h1m1 0h1m2 0h1m3 0h1m4 0h1m1 0h1m1 0h1m1 0h1m2 0h1m3 0h1m-3 2h1m5 0h1m-32 1h1m4 0h1m16 0h1m1 0h1m3 0h1m-39 2h1m9 0h1m4 0h1m3 0h1m13 0h1m-10 1h1m9 0h1m5 0h1m-41 1h2m17 0h1m4 0h1m-25 1h1m0 1h1m1 0h1m2 0h1m8 0h1m3 0h1m1 0h1m2 0h1m6 0h1m1 0h2m9 0h1m-45 5h1m2 0h1m10 0h1m1 0h1m18 0h1m5 0h1m-9 2h1m-25 1h1m1 0h1m2 0h1m5 0h1m13 0h1m7 0h2m-33 1h1m16 0h1" stroke="#4063b0"/><path d="M0 0h2m1 0h1m7 0h3m5 0h1m1 0h1m13 0h1m1 0h1m3 0h1m-42 1h1m2 0h1m2 0h1m4 0h1m1 0h1m1 0h3m1 0h1m14 0h1m6 0h1m-42 1h2m2 0h1m6 0h1m1 0h3m2 0h2m2 0h2m1 0h1m8 0h1m3 0h1m-39 1h1m4 0h1m3 0h1m1 0h1m1 0h4m2 0h1m1 0h2m8 0h1m10 0h2m-39 1h1m1 0h1m4 0h1m9 0h1m7 0h1m2 0h1m1 0h2m1 0h1m2 0h1m-38 1h1m2 0h1m4 0h1m8 0h1m2 0h1m2 0h1m3 0h1m4 0h1m3 0h1m2 0h2m-36 1h1m2 0h1m3 0h1m3 0h2m8 0h1m6 0h2m3 0h1m-42 1h1m6 0h1m14 0h2m4 0h2m-26 1h1m6 0h1m1 0h2m4 0h1m12 0h2m8 0h1m-44 1h1m1 0h1m4 0h1m4 0h1m2 0h1m4 0h1m6 0h2m3 0h1m5 0h1m3 0h1m-43 1h1m2 0h1m1 0h1m6 0h1m1 0h1m1 0h2m3 0h1m5 0h1m2 0h1m1 0h1m2 0h1m6 0h2m-42 1h2m1 0h1m2 0h1m7 0h1m9 0h1m1 0h1m5 0h1m1 0h2m3 0h1m2 0h1m-45 1h1m2 0h1m2 0h1m2 0h1m4 0h1m1 0h1m2 0h3m6 0h1m4 0h3m2 0h1m1 0h3m-40 2h1m6 0h1m17 0h1m4 0h2m3 0h1m1 0h1m-39 1h1m2 0h1m6 0h1m1 0h1m5 0h1m9 0h1m1 0h1m3 0h1m4 0h1m-42 2h1m4 0h1m4 0h3m4 0h1m17 0h1m-31 1h1m4 0h1m5 0h1m2 0h2m12 0h3m6 0h1m1 0h1m-42 1h2m2 0h1m9 0h1m3 0h1m6 0h1m1 0h1m4 0h1m-35 1h1m1 0h3m6 0h1m1 0h1m9 0h1m10 0h1m1 0h2m2 0h1m-41 1h2m4 0h1m1 0h1m1 0h1m4 0h1m5 0h1m1 0h1m4 0h2m12 0h1m-41 1h1m1 0h1m4 0h1m8 0h1m9 0h2m4 0h2m1 0h1m1 0h2m-37 1h1m4 0h1m2 0h2m1 0h1m1 0h1m11 0h1m6 0h1m4 0h1m-6 1h1m4 0h1m-40 1h1m9 0h1m1 0h3m12 0h1m7 0h1m-39 1h1m5 0h1m3 0h1m1 0h2m1 0h1m2 0h2m10 0h1m1 0h2m1 0h1m2 0h1m1 0h1m1 0h1m-43 1h1m1 0h1m8 0h2m6 0h1m3 0h2m6 0h2m2 0h2m-34 1h1m1 0h3m2 0h1m8 0h1m1 0h1m1 0h2m6 0h1m9 0h1m1 0h2m-45 1h2m6 0h2m2 0h1m2 0h1m3 0h1m4 0h1m3 0h4m2 0h1m1 0h1m-22 1h1m1 0h1m15 0h1m9 0h1m-20 1h1m10 0h1m1 0h1m-27 1h1m1 0h1m10 0h1m-20 1h1m9 0h1m1 0h1m13 0h1m4 0h1m6 0h1m-33 1h1m1 0h1m19 0h1m2 0h1m1 0h1m-27 1h2m17 0h1m3 1h1m5 0h1m-42 1h1m19 0h1m-21 1h2m3 0h1m30 0h1m4 0h3m-36 2h1m16 1h1m1 0h1m-28 1h4m6 0h1m5 0h1m5 0h1m1 0h2m3 0h2m7 0h2m1 0h2m1 0h1m-42 1h4m1 0h3m3 0h2m1 0h1m2 0h3m4 0h3m2 0h1m2 0h2m2 0h1m3 0h1m-44 1h1m4 0h2m2 0h2m2 0h2m1 0h2m2 0h2m1 0h5m1 0h1m9 0h4m-43 1h1m4 0h1m5 0h1m3 0h1m1 0h6m3 0h2m1 0h4m3 0h1m1 0h7m-45 1h2m1 0h2m3 0h1m7 0h5m3 0h1m3 0h3m1 0h2m1 0h3m-37 1h1m3 0h1m1 0h1m3 0h2m1 0h1m4 0h2m2 0h1m3 0h1m3 0h1m1 0h1m3 0h1m3 0h2m1 0h1m-45 1h1m8 0h4m3 0h1m3 0h5m1 0h1m4 0h2m1 0h1m2 0h1m1 0h1m2 0h1m-38 1h1m3 0h1m3 0h2m2 0h1m3 0h2m2 0h1m1 0h1m7 0h1m2 0h1m1 0h1m2 0h2m-45 2h1m8 0h1m1 0h2m1 0h2m9 0h2m4 0h1m1 0h1m2 0h3m4 0h1m-44 1h3m9 0h1m1 0h1m1 0h1m16 0h1m1 0h2m5 0h1m1 0h1m-44 1h2m10 0h1m1 0h1m14 0h1m4 0h1m4 0h1m2 0h1m-43 1h3m2 0h1m2 0h1m3 0h2m1 0h1m11 0h1m1 0h1m3 0h1m7 0h1m1 0h1m-45 1h3m2 0h1m7 0h1m2 0h1m3 0h1m8 0h1m3 0h1m1 0h1m1 0h2m4 0h1m-42 1h1m1 0h2m4 0h1m1 0h1m2 0h1m1 0h1m2 0h1m7 0h1m1 0h1m2 0h2m-11 1h2m15 0h1m-40 1h1m6 0h1m6 0h3m9 0h1m3 0h1m2 0h1m2 0h1m1 0h1m1 0h2m-33 1h1m-8 1h1m24 0h1m-9 1h1m-21 2h2m2 0h2m3 0h2m1 0h1m3 0h2m1 0h3m2 0h2m6 0h1m2 0h2m-9 1h1m2 0h1m-33 1h1m2 0h1m1 0h1m1 0h1m2 0h1m4 0h3m6 0h1m12 0h1m5 0h2m-42 1h1m3 0h2m4 0h1m2 0h1m4 0h1m5 0h1m1 0h1m6 0h2m2 0h2m-42 1h1m2 0h3m6 0h2m16 0h1m6 0h1m3 0h1" stroke="#507ebc"/><path d="M2 0h1m1 0h2m2 0h1m1 0h1m4 0h4m1 0h1m4 0h3m3 0h2m5 0h2m2 0h1m-38 1h1m2 0h1m9 0h1m3 0h1m5 0h1m2 0h1m4 0h1m7 0h1m-39 1h1m2 0h1m7 0h1m13 0h3m1 0h1m1 0h1m2 0h1m-38 1h2m1 0h1m3 0h1m7 0h1m13 0h1m4 0h1m6 0h1m-44 1h2m3 0h1m12 0h1m4 0h3m4 0h2m1 0h1m8 0h1m-38 1h1m7 0h1m10 0h1m7 0h1m4 0h1m2 0h1m-41 1h1m5 0h1m11 0h1m4 0h1m7 0h2m2 1h1m-36 1h2m3 0h1m10 0h1m1 0h1m15 0h1m1 0h2m3 0h1m-39 1h1m1 0h1m2 0h1m8 0h1m2 0h1m8 0h1m8 0h2m3 0h1m-44 1h1m4 0h1m2 0h1m9 0h2m2 0h1m4 0h2m1 0h1m4 0h2m1 0h1m-34 1h1m8 0h1m3 0h1m7 0h1m2 0h1m1 0h1m10 0h1m-39 1h1m1 0h2m2 0h1m1 0h1m3 0h2m3 0h3m1 0h1m3 0h2m4 0h1m-32 2h1m1 0h1m6 0h1m6 0h1m15 0h1m5 0h2m-42 1h1m2 0h1m6 0h1m4 0h1m2 0h1m1 0h2m1 0h2m1 0h1m7 0h2m3 0h1m1 0h1m-44 2h2m5 0h1m10 0h3m1 0h1m4 0h1m1 0h1m2 0h1m5 0h2m1 0h1m-42 1h3m3 0h1m3 0h1m1 0h1m10 0h1m1 0h1m1 0h4m11 0h1m-42 1h1m13 0h1m2 0h1m5 0h1m1 0h1m5 0h1m4 0h2m1 0h1m2 0h1m-38 1h3m6 0h2m3 0h1m5 0h2m1 0h1m1 0h1m1 0h1m5 0h1m2 0h1m-40 1h1m13 0h1m4 0h1m1 0h2m1 0h1m3 0h1m1 0h1m1 0h1m1 0h1m1 0h1m-40 1h2m4 0h1m6 0h1m5 0h1m3 0h1m2 0h2m3 0h1m1 0h1m2 0h1m5 0h1m-43 1h2m1 0h1m1 0h2m9 0h1m1 0h2m4 0h2m4 0h2m3 0h1m-29 1h1m7 0h1m4 0h1m10 0h2m2 0h1m1 0h1m-39 1h1m1 0h1m2 0h1m1 0h4m7 0h4m2 0h1m2 0h1m1 0h1m1 0h1m2 0h2m5 0h1m-37 1h1m1 0h1m6 0h1m1 0h2m5 0h1m3 0h1m3 0h1m2 0h1m9 0h1m-31 1h2m1 0h2m7 0h1m3 0h1m3 0h1m4 0h1m-39 1h2m5 0h1m2 0h1m4 0h2m7 0h1m1 0h1m-24 1h2m14 0h1m4 0h3m4 0h1m8 0h2m-41 1h2m6 0h1m3 0h1m1 0h1m12 0h1m5 0h1m-3 1h2m1 0h1m-36 1h1m14 0h1m2 0h1m14 0h1m5 0h1m-39 1h1m18 0h1m17 0h1m-31 1h1m-7 1h1m2 0h1m13 0h1m5 0h1m2 0h1m7 0h1m4 0h1m1 0h1m-28 1h1m6 0h1m8 0h1m9 0h1m-23 2h1m3 0h1m12 0h1m-39 1h1m9 0h2m10 0h1m-19 3h1m1 0h2m1 0h1m3 0h2m4 0h1m3 0h1m3 0h2m2 0h1m2 0h1m8 0h1m-42 1h1m4 0h1m3 0h2m3 0h1m1 0h1m4 0h1m6 0h1m2 0h1m6 0h1m3 0h1m-41 1h1m17 0h1m7 0h1m6 0h2m4 0h2m-38 1h1m6 0h1m8 0h1m-19 1h2m4 0h1m13 0h3m3 0h1m2 0h1m3 0h2m1 0h1m1 0h1m-42 1h3m4 0h1m3 0h1m1 0h2m4 0h2m1 0h1m3 0h1m5 0h1m3 0h3m-40 1h3m2 0h3m4 0h2m4 0h1m7 0h1m2 0h1m4 0h1m4 0h1m-40 1h2m1 0h1m2 0h1m3 0h1m4 0h1m1 0h1m1 0h1m2 0h1m17 0h2m-33 1h1m1 0h1m1 0h1m2 0h1m4 0h1m1 0h1m2 0h1m7 0h1m6 0h1m-42 1h1m2 0h1m3 0h1m1 0h1m2 0h1m2 0h1m1 0h2m1 0h1m1 0h2m3 0h2m2 0h1m1 0h1m5 0h1m1 0h1m-40 1h1m1 0h1m2 0h1m4 0h1m5 0h2m2 0h1m4 0h1m1 0h2m7 0h1m1 0h1m1 0h1m-40 1h2m6 0h1m6 0h2m1 0h2m4 0h1m7 0h2m1 0h1m2 0h1m1 0h1m-14 1h1m3 0h4m1 0h2m-34 1h1m2 0h1m3 0h1m5 0h2m2 0h2m1 0h1m2 0h2m3 0h1m5 0h1m-27 1h1m1 0h1m3 0h1m3 0h1m4 0h1m6 0h1m2 0h1m1 0h1m-39 1h2m2 0h1m7 0h1m1 0h1m15 0h2m3 0h1m-41 1h1m3 0h1m8 0h1m-10 1h1m9 0h1m2 0h1m10 0h1m6 0h1m-35 1h1m8 0h1m6 0h2m20 0h1m-39 1h2m3 0h1m2 0h1m2 0h1m5 0h1m4 0h1m1 0h2m2 0h1m2 0h1m1 0h1m2 0h1m1 0h1m-39 1h1m1 0h1m1 0h1m6 0h1m4 0h1m7 0h2m1 0h1m11 0h3m-31 1h1m6 0h1m8 0h2m1 0h1m2 0h1m4 0h2m1 0h3m-43 1h1m12 0h1m2 0h1m3 0h1m3 0h1m3 0h1m4 0h1m6 0h1m-41 1h1m11 0h1m5 0h1m10 0h2m2 0h2m4 0h1m-42 1h1m4 0h2m21 0h1m3 0h1m2 0h1m3 0h1m-38 1h1m4 0h1m6 0h5m1 0h1m1 0h2m1 0h2m4 0h3m1 0h1m4 0h1m2 0h1" stroke="#6191c1"/><path d="M6 0h2m1 0h1m4 0h1m8 0h1m4 0h1m5 0h1m-33 1h1m1 0h1m4 0h1m13 0h1m1 0h2m5 0h1m5 0h2m2 0h2m-37 1h2m30 0h1m2 0h1m-36 1h1m15 0h1m12 0h1m-37 1h1m7 0h1m9 0h1m2 0h1m1 0h1m13 0h1m1 0h2m-19 1h2m2 0h1m12 0h1m-40 1h1m7 0h1m4 0h1m9 0h1m3 0h1m3 0h1m-29 1h1m34 0h1m-35 1h1m2 0h1m1 0h1m3 0h1m4 0h1m2 0h1m18 0h2m-41 1h1m6 0h1m7 0h1m5 0h1m2 0h2m4 0h1m4 0h1m6 0h1m-40 1h1m13 0h1m3 0h1m2 0h1m14 0h1m-31 1h1m3 0h1m3 0h1m3 0h2m5 0h1m1 0h1m7 0h1m2 0h1m-42 1h2m1 0h1m20 0h1m3 0h1m2 0h1m6 0h1m3 0h1m-33 2h1m3 0h2m2 0h2m6 0h1m1 0h1m9 0h1m-30 1h1m20 0h1m1 0h1m9 0h1m-26 2h1m3 0h1m9 0h1m5 0h1m2 0h1m1 0h1m-40 1h1m1 0h1m1 0h1m5 0h1m6 0h1m5 0h1m8 0h1m1 0h1m1 0h1m-40 1h1m4 0h1m1 0h2m5 0h1m4 0h1m1 0h1m6 0h1m6 0h1m5 0h2m-38 1h1m16 0h1m15 1h1m-31 1h1m1 0h1m10 0h2m7 0h1m10 0h1m1 0h1m-42 1h1m4 0h2m1 0h2m8 0h1m2 0h1m3 0h1m4 0h1m4 0h1m4 0h1m-42 1h1m3 0h1m2 0h1m1 0h1m2 0h1m3 0h1m1 0h1m1 0h1m2 0h2m4 0h1m2 0h1m5 0h2m-31 1h1m25 0h1m4 0h1m-42 1h1m6 0h1m11 0h3m1 0h2m2 0h2m6 0h1m-31 1h1m2 0h1m17 0h1m1 0h1m10 0h1m1 0h1m-43 1h1m3 0h1m4 0h1m16 0h1m2 0h1m2 0h1m4 0h1m1 0h1m-34 1h1m3 0h1m27 0h2m-39 1h1m36 0h1m-35 1h1m1 0h1m14 0h1m3 0h1m16 0h1m1 0h1m-43 1h1m4 1h1m30 0h1m4 1h1m-40 1h1m23 0h1m-8 1h1m-5 1h1m3 0h1m17 0h1m-38 1h1m28 0h1m1 0h1m3 0h1m-34 1h1m26 0h1m3 0h1m-31 3h1m20 0h1m9 0h1m-11 1h1m15 0h1m-35 1h1m10 0h1m-12 1h1m1 0h1m17 0h1m4 0h1m-12 1h2m-16 1h1m8 0h1m8 0h1m2 0h1m2 0h1m-29 1h1m12 0h2m14 0h1m10 0h1m-16 1h1m1 0h1m2 0h1m1 0h1m2 0h1m-40 1h10m1 0h1m1 0h1m2 0h1m1 0h1m2 0h1m1 0h1m1 0h2m1 0h1m1 0h5m1 0h6m1 0h2m-43 1h1m14 0h1m21 0h1m-34 1h2m1 0h1m8 0h1m2 0h1m3 0h1m-19 1h1m8 0h1m4 0h1m3 0h1m5 0h2m1 0h1m3 0h1m-28 1h1m5 0h1m3 0h2m1 0h3m2 0h1m9 0h1m-37 1h2m2 0h1m10 0h1m4 0h1m15 0h1m4 0h1m-42 1h1m7 0h1m1 0h2m6 0h1m3 0h1m18 0h1m-24 1h1m-14 1h1m14 0h1m3 0h1m-27 1h2m2 0h6m1 0h2m1 0h2m1 0h10m1 0h6m1 0h9m-45 1h1m1 0h2m1 0h5m2 0h5m2 0h9m2 0h9m2 0h4m-45 1h1m2 0h3m1 0h2m1 0h2m1 0h5m1 0h2m1 0h1m1 0h1m3 0h1m1 0h2m1 0h1m1 0h2m1 0h1m1 0h5m-45 1h1m1 0h1m1 0h1m1 0h6m1 0h4m1 0h7m2 0h1m1 0h11m3 0h2m-41 1h1m2 0h3m5 0h1m7 0h1m8 0h1m-32 1h1m1 0h12m1 0h2m1 0h3m1 0h1m1 0h1m1 0h2m2 0h1m1 0h2m1 0h1m1 0h2m1 0h1m1 0h2m-44 1h1m4 0h1m2 0h1m3 0h1m12 0h2m2 0h1m8 0h1m-18 1h1m2 0h1m12 0h1m-33 1h1m1 0h3m8 0h1m1 0h1m2 0h1m2 0h1m6 0h1m7 0h1" stroke="#709ec1"/><path d="M7 1h1m21 0h1m-4 1h2m-27 1h2m5 0h1m16 0h1m1 0h1m1 0h2m3 0h1m4 0h1m-26 1h1m2 0h1m-15 1h1m1 0h1m12 0h1m-17 1h1m1 0h3m15 0h1m2 0h1m2 0h1m5 0h2m-29 1h1m19 0h1m-28 1h1m10 0h1m4 0h1m7 0h2m2 0h2m6 0h1m-34 1h1m7 0h1m2 0h1m14 0h1m4 0h1m-25 1h1m30 0h1m2 0h1m-41 1h1m8 0h1m7 0h1m-21 3h2m5 0h1m4 0h1m16 0h2m3 0h1m6 0h1m-4 1h1m-36 2h1m2 0h1m7 0h1m8 0h1m4 0h1m1 0h1m5 0h1m-26 1h1m9 0h1m2 0h1m6 0h1m6 0h1m-27 1h1m10 0h1m1 0h1m-14 1h1m6 0h1m5 0h1m-13 1h1m4 0h1m7 0h1m14 0h1m-35 1h1m3 0h1m4 0h1m15 0h1m-12 1h2m5 0h1m5 0h1m3 0h2m-38 1h2m10 0h1m11 0h4m4 0h1m8 0h1m-23 1h2m2 0h1m9 0h1m6 0h1m-33 1h1m-11 1h1m6 0h1m7 0h1m3 0h1m1 0h1m5 0h1m12 0h1m-20 1h1m-16 1h1m-1 1h1m20 0h1m2 0h1m7 0h1m-33 1h1m4 0h2m6 0h1m17 0h1m-35 1h2m11 0h1m10 0h2m7 0h1m-22 1h1m8 0h1m3 0h1m3 0h1m7 0h1m-42 1h1m15 0h1m10 0h1m1 0h1m-16 1h1m28 0h1m-39 1h1m16 0h1m6 0h1m1 0h1m5 0h1m-9 1h1m4 0h1m-23 1h2m13 0h1m-25 1h1m10 0h1m3 0h1m-11 3h1m9 0h1m6 3h1m-19 1h1m1 0h1m3 0h1m1 0h1m26 0h1m-43 1h1m42 0h1m-12 2h1m-18 1h1m3 0h1m-13 1h1m22 0h1m13 0h1m-16 1h1m-4 1h1m6 0h1m-27 1h2m18 0h1m-19 1h1m2 0h1m4 0h1m23 0h1m-10 1h1m-11 1h1m20 0h2m-35 1h1m1 0h1m7 0h1m4 0h1m3 0h2m-20 2h1m16 0h1m11 0h1m-14 1h1m2 2h1m9 1h1m-37 1h1m13 0h1m2 0h1m6 0h1m-27 1h1m7 0h1m6 0h2m4 0h1m7 0h1m6 1h2m4 0h1" stroke="#8fb0ba"/><path d="M30 0h1m13 0h1m-24 1h1m6 1h1m-9 1h1m5 0h1m0 1h1m1 0h1m-21 1h1m3 0h1m15 0h1m-19 1h1m27 0h2m-30 1h1m10 0h1m7 1h1m8 0h1m4 0h1m-21 2h1m2 2h1m-11 2h2m6 0h1m-19 1h2m6 0h1m12 0h1m6 0h1m-27 2h1m3 0h1m11 0h1m-26 1h1m16 0h1m5 0h1m-24 1h1m22 0h1m-22 1h1m19 0h1m8 0h1m1 0h1m-31 1h1m8 0h1m4 0h1m-14 1h1m8 0h1m2 0h1m22 0h1m-33 2h1m5 0h1m9 0h1m-23 1h1m4 0h1m18 0h1m6 0h2m5 0h1m-3 1h1m-31 1h1m17 0h1m-8 1h1m9 0h1m11 0h1m1 0h1m-26 1h1m4 0h1m-23 1h1m3 0h1m16 0h1m10 0h1m8 0h1m2 0h1m-45 1h1m1 0h1m7 0h1m32 0h1m-38 1h1m31 0h1m-30 1h1m8 0h1m1 0h1m1 0h1m-22 1h1m19 0h1m15 0h1m-33 1h1m4 0h2m5 0h1m4 0h2m-12 1h2m4 0h1m-16 1h1m4 0h1m2 0h1m-6 1h1m2 0h1m12 0h2m-17 1h1m17 0h1m12 0h2m-12 5h1m7 0h1m-28 1h1m3 0h1m-9 3h1m19 0h1m3 2h1m-8 1h1m-12 1h1m14 0h2m-25 1h1m2 0h1m2 0h1m1 0h1m6 0h1m4 1h1m19 0h1m-38 1h1m20 0h1m2 0h1m-25 1h1m2 0h1m25 0h1m4 0h1m-29 1h1m19 0h2m4 0h2m-4 1h2m3 0h1m-15 5h1m-28 1h1m36 0h1m-26 1h1m6 0h1m14 0h1m7 0h1m-39 1h1m19 0h1m1 0h1" stroke="#b2bfb4"/><path d="M22 0h1m17 0h1m-21 1h1m9 0h1m-26 1h1m23 0h1m-13 1h1m17 0h1m4 0h1m-31 1h1m4 0h2m-9 1h1m8 0h1m12 0h1m1 0h1m-23 1h1m32 0h1m-30 1h1m16 0h1m10 0h1m-11 1h1m-28 1h1m27 0h1m-8 1h1m-1 4h1m9 0h1m4 0h1m-38 1h1m11 0h2m18 2h1m7 0h1m-45 3h1m9 0h2m24 0h1m-31 1h1m11 1h1m15 1h1m-25 1h1m13 0h1m3 1h1m-20 1h1m33 0h1m-41 1h2m8 1h1m4 1h1m2 0h1m22 0h1m-39 1h1m6 0h1m6 0h1m1 0h1m1 0h1m11 0h1m-26 1h1m2 0h1m4 0h1m3 0h1m3 0h1m-28 1h1m14 0h1m19 0h1m5 0h1m1 0h2m-44 1h1m11 0h2m11 0h1m7 0h1m-29 1h1m3 0h1m3 0h1m9 0h1m3 0h1m1 0h2m3 0h1m5 0h1m-41 1h1m17 0h1m4 0h1m14 0h1m1 0h1m-39 1h1m2 0h1m3 0h2m2 0h2m3 0h1m6 0h2m2 0h1m1 0h1m1 0h1m5 0h1m1 0h1m1 0h1m-38 1h1m11 0h1m6 0h1m3 0h1m9 0h2m-27 1h1m18 0h1m4 0h1m-28 1h2m5 0h1m4 0h1m9 0h1m1 0h2m-3 8h1m-16 3h1m-18 1h1m1 0h2m13 0h1m-17 1h1m19 0h1m12 0h1m-38 1h1m7 0h1m5 0h1m2 0h1m11 0h1m-18 1h1m5 0h1m0 1h1m3 1h1m3 0h1m9 0h1m-36 1h1m10 0h1m1 0h1m2 0h1m9 0h1m13 0h1m-17 1h1m-4 7h1m16 0h1m-40 1h1m17 0h1m13 0h1m-33 1h1m27 0h1" stroke="#d8d2c4"/><path d="M43 0h1m-30 1h1m1 1h1m4 0h1m6 1h1m-18 2h1m6 1h1m17 0h1m-12 1h1m-18 1h1m14 0h1m-1 1h1m10 1h1m-28 1h1m-2 3h1m16 0h1m-2 1h1m-17 2h1m7 0h1m19 0h1m-17 1h1m12 1h1m-14 1h1m-19 2h1m25 0h1m0 1h1m-24 2h1m9 0h1m-13 1h1m10 1h1m0 1h1m21 0h1m-21 1h1m26 0h1m-25 1h1m3 0h1m13 0h1m-35 1h1m1 0h1m11 0h1m10 0h1m2 0h1m-23 1h1m2 0h1m7 0h1m4 0h1m1 0h1m5 0h1m-34 1h1m5 0h1m4 0h2m6 0h1m4 0h1m5 0h1m1 0h1m4 0h1m6 0h1m-33 1h1m4 0h1m1 0h1m3 0h1m2 0h1m13 0h1m-41 1h1m1 0h1m12 0h1m2 0h1m8 0h1m4 0h2m-33 1h1m5 0h1m17 0h1m2 0h1m9 0h1m-38 1h1m2 0h1m5 0h1m3 0h1m1 0h1m10 0h1m3 0h3m1 0h4m4 0h1m-34 1h2m2 0h1m3 0h3m3 0h1m10 0h1m8 0h1m-44 1h1m6 0h1m6 0h1m1 0h1m3 0h1m6 0h1m11 0h3m-26 3h1m7 1h1m-10 2h1m-9 4h1m18 2h1m-11 1h1m4 0h1m17 0h1m-31 1h1m13 0h1m2 0h1m13 0h1m-38 1h1m15 0h1m11 0h1m-26 2h1m28 0h1m2 0h1m-39 1h1m1 0h1m6 0h2m4 0h1m10 0h1m1 0h2m3 0h1m2 0h1m-38 2h1m23 5h1m-14 1h1m13 0h1m3 0h1m-15 1h1m20 1h1" stroke="#f0e6de"/><path d="M29 0h1m-29 1h1m25 0h1m-24 3h1m4 0h1m3 0h1m30 0h1m-16 2h1m11 0h1m-20 2h1m3 0h2m-11 1h1m1 0h1m-13 1h2m16 1h1m-26 3h1m3 0h1m4 0h1m12 0h1m1 0h1m7 0h1m-32 1h1m7 0h1m15 0h1m-23 2h1m12 0h1m9 0h2m-9 3h1m5 0h1m3 0h1m9 0h1m-34 2h1m14 0h1m3 0h1m18 1h1m-40 1h1m33 0h1m4 1h1m-42 1h1m22 0h1m12 0h1m-35 4h1m2 0h2m1 0h1m6 0h1m6 0h1m1 0h1m6 0h1m7 0h1m-42 1h1m6 0h2m8 0h1m3 0h1m3 0h1m2 0h2m1 0h1m6 0h2m-38 1h1m3 0h2m9 0h1m2 0h3m2 0h1m3 0h3m3 0h1m2 0h1m2 0h1m-39 1h1m3 0h1m14 0h1m3 0h2m-27 1h3m2 0h2m9 0h1m3 0h1m2 0h1m6 0h1m1 0h1m4 0h1m2 0h1m1 0h1m-38 1h3m11 0h1m3 0h1m4 0h1m3 0h1m3 0h1m1 0h1m-37 1h1m3 0h2m6 0h1m3 0h1m2 0h1m15 0h1m-35 1h2m11 0h1m3 0h2m1 0h1m16 0h1m-39 1h1m2 0h2m7 0h2m8 0h1m1 0h2m2 0h1m7 0h1m-39 1h1m2 0h2m2 0h1m6 0h1m3 0h1m2 0h1m3 0h1m1 0h2m1 0h2m9 0h2m-27 8h1m-16 2h1m10 6h1m-7 1h1m20 0h1m-26 1h1m2 0h2m5 0h1m5 0h1m2 0h1m2 0h1m4 0h1m-10 1h1m16 0h1m-32 7h1m13 0h1m15 0h1m-9 1h1m13 0h1" stroke="#f9f4f1"/></g>
<g transform="translate(1105.8 1085.07) scale(1.7353 10.5368)" fill="none" stroke-width="1.01"><path d="M0 13h1m17 0h1m2 0h1m5 0h1m-6 3h1m6 0h1m-6 12h1m1 0h1m6 0h1m-3 1h1m1 0h1m-33 11h1m16 0h1m2 0h1m10 0h1m-12 1h1m-12 11h1m16 0h1m-18 3h1m3 1h1m14 0h1m1 0h1m1 0h1m-7 1h1m-28 1h1m1 0h1m1 0h2m6 0h1m2 0h1m4 0h3m2 0h1m3 0h3m1 0h1" stroke="#232581"/><path d="M21 0h1m3 0h1m3 0h1m1 1h1m-29 2h1m-3 3h1m29 0h1m-31 2h1m25 0h1m-2 4h1m-21 1h1m7 0h1m5 0h1m1 0h1m8 3h1m-17 3h1m3 3h1m-20 1h1m4 0h2m7 0h2m3 0h2m1 0h1m6 0h3m-17 1h1m-15 1h1m4 0h1m3 0h1m4 0h1m16 0h1m-28 1h1m15 0h1m-22 1h1m-1 1h2m8 0h2m3 0h1m3 0h3m1 0h1m1 0h1m1 0h1m3 0h2m-32 1h1m10 0h1m1 0h1m3 0h2m1 0h2m1 0h1m2 0h1m4 0h1m-31 4h1m9 0h1m16 0h1m-30 1h1m11 0h1m6 0h1m1 1h1m-3 1h1m-5 4h1m17 0h1m-11 1h1m-3 6h1m-20 5h1m8 0h1m3 0h1m5 0h1m1 0h1m2 0h1m5 0h1m-29 2h1m16 0h1m-21 1h4m1 0h1m5 0h1m1 0h2m1 0h1m1 0h1m1 0h1m5 0h1m1 0h2m2 0h1m-34 1h1m3 0h2m2 0h1m3 0h1m2 0h2m1 0h1m2 0h1m1 0h1m1 0h1m1 0h1m2 0h1m1 0h1m-33 1h1m1 0h1m3 0h1m2 0h2m1 0h1m3 0h4m1 0h1m3 0h2m4 0h2m-32 1h1m1 0h1m4 0h1m1 0h2m6 0h2m3 0h1m2 0h3m3 0h1m-8 7h1m-24 2h1m11 0h1m16 0h1" stroke="#32429c"/><path d="M0 0h1m1 0h1m1 0h1m5 0h1m8 0h2m-19 1h1m12 0h1m4 0h1m6 0h1m-27 1h1m3 0h1m9 0h1m5 0h1m3 0h1m4 0h1m-24 1h1m8 0h1m1 1h1m2 0h1m-10 2h1m1 0h1m1 0h1m10 0h1m1 0h1m3 0h1m-32 1h1m9 0h1m8 0h1m3 0h2m2 0h1m-30 1h1m10 0h1m3 0h1m5 0h1m4 0h1m3 0h1m-31 1h1m1 0h1m1 0h1m1 0h1m3 0h1m1 0h1m6 0h1m3 0h2m1 0h2m2 0h2m1 0h1m-16 1h1m-19 1h1m18 0h1m1 0h1m-21 1h2m7 0h1m11 0h2m-23 2h1m1 0h1m4 0h1m1 0h1m2 0h1m1 0h1m2 0h2m3 0h1m6 0h1m-13 1h2m1 0h1m7 0h1m2 0h1m-8 2h1m1 0h1m-7 1h2m3 0h1m2 1h1m-16 1h2m3 0h3m4 0h1m2 0h1m-25 1h1m2 0h1m11 0h2m4 0h1m-27 1h1m1 0h1m1 0h2m2 0h1m6 0h1m2 0h1m1 0h3m3 0h1m4 0h1m1 0h1m-33 1h2m1 0h1m13 0h1m2 0h1m1 0h1m3 0h1m4 0h1m-33 1h2m2 0h2m6 0h1m5 0h2m1 0h1m4 0h4m1 0h1m1 0h1m-34 1h1m1 0h1m1 0h1m3 0h1m4 0h1m5 0h1m2 0h3m2 0h2m1 0h2m1 0h1m-33 1h2m1 0h1m1 0h2m4 0h2m6 0h1m4 0h1m1 0h1m5 0h1m-30 1h1m7 0h1m1 0h1m2 0h1m2 0h3m2 0h2m2 0h1m1 0h3m-32 1h1m1 0h1m2 0h2m3 0h3m1 0h1m1 0h1m9 0h1m1 0h1m-31 1h1m1 0h5m1 0h1m1 0h1m2 0h1m1 0h3m2 0h1m2 0h1m1 0h2m1 0h3m-30 1h1m3 0h1m7 0h1m1 0h1m2 0h2m1 0h2m3 0h2m1 0h2m2 0h1m-26 1h1m1 0h1m1 0h1m2 0h1m3 0h1m1 0h1m1 0h2m1 0h1m5 0h2m-8 1h1m2 0h1m-23 1h1m7 0h1m2 0h1m4 0h1m2 0h1m3 0h1m1 0h2m-19 1h1m2 0h1m7 0h1m-19 1h1m5 0h1m10 0h2m5 1h1m-32 1h1m3 0h1m1 0h1m7 0h1m2 0h2m7 0h1m3 0h1m-22 2h1m1 0h1m1 0h1m18 0h1m-15 2h1m12 1h1m-29 1h1m5 0h1m-7 1h1m26 0h1m-27 1h1m23 0h1m-15 1h1m5 0h1m-22 1h1m2 0h1m23 0h1m1 0h1m2 0h1m-32 1h1m-2 3h3m5 0h1m1 0h1m1 0h1m1 0h1m6 0h2m4 0h1m1 0h1m2 0h2m-34 1h2m1 0h3m1 0h1m4 0h1m1 0h1m2 0h3m4 0h2m2 0h3m2 0h1m-28 1h1m5 0h1m2 0h2m1 0h1m2 0h1m5 0h1m1 0h1m1 0h1m1 0h1m-34 1h1m1 0h1m9 0h1m1 0h1m1 0h1m3 0h1m1 0h2m6 0h4m-34 1h1m4 0h1m1 0h2m2 0h1m4 0h1m1 0h1m1 0h1m1 0h2m1 0h2m4 0h2m-32 1h1m1 0h1m3 0h1m2 0h2m1 0h1m3 0h1m1 0h2m1 0h1m1 0h1m1 0h1m-26 1h1m1 0h3m1 0h2m2 0h1m1 0h3m4 0h1m1 0h3m3 0h3m2 0h1m-28 1h2m1 0h1m4 0h1m1 0h2m6 0h1m-7 4h1m6 0h1m-24 1h1m16 0h1m3 0h1m3 0h1m-27 2h1m8 0h1m4 0h1m10 0h1m-27 1h1m18 0h1m-20 1h1m11 0h1m8 0h1m3 0h1m3 0h1" stroke="#4063b0"/><path d="M1 0h1m1 0h1m1 0h3m1 0h1m1 0h5m1 0h2m3 0h3m1 0h3m1 0h1m1 0h2m-34 1h2m1 0h1m3 0h1m2 0h3m3 0h1m2 0h1m3 0h1m6 0h1m1 0h2m-32 1h1m1 0h1m5 0h1m3 0h1m2 0h3m3 0h1m5 0h1m1 0h1m1 0h1m-29 2h1m2 0h1m13 0h1m2 0h1m-6 1h1m10 0h1m-30 1h4m1 0h2m6 0h1m2 0h2m1 0h2m2 0h1m2 0h1m3 0h1m-32 1h1m3 0h1m4 0h1m2 0h1m1 0h1m2 0h3m1 0h1m1 0h1m2 0h1m3 0h1m1 0h1m-32 1h4m6 0h1m1 0h1m2 0h4m2 0h2m4 0h1m3 0h1m-31 1h1m1 0h1m2 0h1m2 0h1m8 0h2m7 0h1m2 0h1m-30 1h2m8 0h1m7 0h1m5 0h1m2 0h1m-30 1h2m5 0h1m1 0h1m4 0h1m2 0h1m5 0h1m2 0h1m5 0h1m-34 1h1m2 0h2m2 0h2m2 0h1m2 0h2m3 0h1m1 0h1m3 0h1m1 0h1m1 0h1m1 0h3m-32 2h1m8 0h2m4 0h1m3 0h2m4 0h3m1 0h1m1 0h1m-32 1h1m2 0h1m3 0h2m3 0h1m2 0h1m5 0h1m6 0h2m1 0h1m-34 1h1m16 0h1m-18 1h1m3 0h2m6 0h1m1 0h2m2 0h1m1 0h2m8 0h2m-32 1h1m3 0h2m6 0h1m1 0h1m3 0h1m8 0h1m2 0h2m-32 1h2m2 0h2m11 0h2m2 0h1m1 0h1m3 0h1m3 0h1m-31 1h1m2 0h3m1 0h1m2 0h1m1 0h1m4 0h1m3 0h1m1 0h1m3 0h1m1 0h4m-34 1h2m10 0h1m1 0h2m2 0h1m4 0h3m2 0h2m3 0h1m-33 1h1m4 0h2m1 0h6m1 0h1m6 0h1m1 0h1m1 0h1m1 0h2m1 0h1m-30 1h1m4 0h1m2 0h3m2 0h2m6 0h3m6 0h1m-32 1h2m2 0h1m4 0h1m1 0h2m1 0h2m2 0h1m1 0h2m1 0h1m4 0h1m1 0h1m-30 1h1m1 0h1m1 0h1m4 0h1m1 0h1m2 0h1m3 0h1m3 0h2m2 0h1m-30 1h1m7 0h4m3 0h2m1 0h1m3 0h1m1 0h1m5 0h3m-32 1h3m1 0h5m1 0h1m3 0h2m1 0h1m4 0h1m3 0h2m1 0h1m-28 1h1m1 0h2m2 0h1m7 0h1m4 0h1m6 0h1m-23 1h1m3 0h1m-10 1h1m5 0h1m1 0h1m1 0h1m1 0h1m2 0h1m5 0h3m5 0h2m-32 1h1m1 0h2m6 0h1m1 0h1m2 0h3m1 0h1m1 0h1m2 0h1m2 0h2m-18 1h1m1 0h3m1 0h1m2 0h3m4 0h1m2 0h2m-33 1h1m4 0h2m2 0h2m2 0h2m4 0h4m1 0h2m2 0h1m2 0h1m-31 1h7m1 0h2m3 0h1m1 0h2m4 0h1m6 0h1m2 0h1m-32 1h1m3 0h1m4 0h1m4 0h1m1 0h1m1 0h1m3 0h1m3 0h1m1 0h3m1 0h1m-30 1h2m5 0h1m9 0h1m1 0h2m6 0h1m1 0h1m-34 1h1m1 0h1m3 0h1m3 0h1m1 0h2m9 0h2m1 0h1m2 0h2m-30 1h1m10 0h1m2 0h1m2 0h1m2 0h2m6 0h1m1 0h1m-32 1h3m1 0h2m7 0h1m1 0h2m1 0h3m3 0h1m1 0h1m2 0h1m1 0h2m-11 1h1m2 0h1m-23 1h1m3 0h1m10 0h1m10 0h1m3 0h1m-10 1h1m2 1h1m5 1h1m-28 1h2m4 0h1m6 0h1m1 0h3m-19 1h1m5 1h2m6 0h1m2 1h1m9 0h1m-33 1h1m3 0h1m13 0h1m-16 2h2m1 0h2m1 0h1m3 0h1m1 0h1m2 0h2m4 0h2m2 0h1m1 0h1m-25 1h1m1 0h1m4 0h1m2 0h1m3 0h1m1 0h1m8 0h1m-32 1h6m2 0h1m4 0h2m2 0h1m1 0h2m1 0h4m2 0h1m1 0h1m1 0h1m-32 1h1m1 0h1m1 0h1m1 0h1m1 0h1m1 0h1m1 0h1m1 0h1m2 0h2m5 0h1m1 0h3m-17 1h1m10 0h1m3 0h1m-27 1h1m3 0h1m21 0h1m-16 2h1m-9 1h1m21 1h1m-28 3h2m3 0h2m1 0h1m3 0h1m3 0h1m1 0h1m3 0h1m1 0h1m1 0h1m2 0h1m2 0h1m0 1h1m-31 1h1m1 0h2m15 0h1m1 0h1m3 0h1m1 0h1m-30 1h1m1 0h3m5 0h2m8 0h1m4 0h1m2 0h2m-30 1h1m2 0h1m2 0h2m1 0h2m1 0h1m1 0h2m2 0h1m2 0h1m4 0h1m4 0h1" stroke="#507ebc"/><path d="M8 0h1m7 0h1m-13 1h1m1 0h1m1 0h2m3 0h2m6 0h1m2 0h2m3 0h1m-30 1h1m2 0h1m4 0h2m1 0h2m3 0h1m5 0h1m1 0h1m1 0h3m-24 1h1m5 0h2m1 0h2m9 0h1m-26 1h2m5 0h1m1 0h2m3 0h2m7 0h1m3 0h1m1 0h1m1 0h1m1 0h1m-34 1h1m5 0h1m3 0h1m7 0h2m8 0h1m-29 1h1m5 0h1m3 0h2m5 0h1m5 0h1m2 0h1m3 0h1m-31 1h1m2 0h1m3 0h2m2 0h1m4 0h2m5 0h1m6 0h1m1 0h1m-26 1h1m1 0h2m2 0h1m2 0h1m5 0h1m9 0h1m-32 1h1m7 0h1m3 0h4m1 0h1m3 0h1m2 0h1m-26 1h1m1 0h1m7 0h1m3 0h2m6 0h1m3 0h1m1 0h1m4 0h1m-30 1h1m2 0h1m1 0h1m3 0h2m2 0h1m5 0h1m1 0h2m2 0h2m-25 1h1m6 0h1m2 0h1m1 0h1m1 0h1m3 0h1m3 0h1m1 0h1m-21 1h1m13 0h1m3 0h1m-25 1h1m1 0h2m8 0h1m7 0h1m7 0h1m-33 1h2m2 0h1m1 0h1m1 0h1m2 0h1m3 0h2m10 0h2m-23 2h1m1 0h1m1 0h2m1 0h1m2 0h1m6 0h1m5 0h1m2 0h1m-31 1h1m3 0h1m3 0h1m2 0h1m1 0h1m3 0h1m5 0h1m6 0h1m-30 1h1m2 0h3m1 0h2m2 0h1m1 0h1m5 0h1m3 0h1m1 0h1m1 0h1m1 0h2m-34 1h1m1 0h2m3 0h1m1 0h1m6 0h2m5 0h1m1 0h1m-24 1h3m1 0h2m3 0h1m1 0h1m2 0h1m10 0h1m2 0h2m-29 1h1m13 0h1m6 0h1m-18 1h1m2 0h1m-4 1h2m1 0h1m13 0h1m-9 1h1m3 0h1m-18 1h1m15 0h1m3 0h1m2 0h1m1 0h2m-20 1h1m8 0h1m4 0h1m-16 2h1m-7 1h1m5 0h1m1 0h1m8 0h1m-21 1h1m1 0h1m3 0h2m1 0h1m17 0h1m2 0h1m-31 1h6m2 0h3m8 0h1m7 0h1m2 0h1m2 0h1m-33 1h1m1 0h1m7 0h1m4 0h1m10 0h1m-20 1h1m2 0h1m1 0h1m9 0h2m3 0h1m1 0h1m-27 1h1m1 0h2m3 0h1m1 0h1m4 0h1m1 0h1m3 0h1m7 0h1m-32 1h3m4 0h1m4 0h1m1 0h4m1 0h1m1 0h1m2 0h4m-26 1h2m3 0h2m1 0h1m2 0h1m1 0h2m2 0h1m12 0h1m-34 1h1m4 0h1m5 0h1m13 0h1m4 0h1m-28 1h1m2 0h1m1 0h2m7 0h1m7 0h1m1 0h1m2 0h1m-19 2h1m3 0h1m5 0h1m4 0h1m-25 1h1m18 0h1m-23 1h3m22 0h2m5 0h1m-30 1h1m10 0h1m1 0h2m-16 1h1m17 0h1m10 0h1m-30 2h1m3 0h1m13 0h1m3 0h2m4 0h1m2 1h1m-29 1h1m5 0h1m11 0h1m-21 1h1m2 0h1m2 0h2m12 0h1m-19 1h1m5 0h1m4 0h2m2 0h1m2 0h1m2 0h1m4 0h1m-23 1h1m-1 1h3m14 0h1m-21 1h1m1 0h1m1 0h1m6 0h1m8 0h1m-18 1h1m-1 1h1m-8 3h2m2 0h1m3 0h1m3 0h1m4 0h1m-20 1h1m12 0h1m1 0h1m1 0h1m3 0h1m3 0h1m2 0h1m-19 1h1m7 0h1m-10 1h1m2 0h2m1 0h2m5 0h1m-20 1h1m3 0h1m2 0h2m1 0h2m5 0h2m3 0h1m2 0h1m2 0h1m-31 1h2m5 0h1m1 0h1m4 0h2m5 0h1m1 0h2m1 0h1m1 0h1m1 0h1m-21 1h1m2 0h1m1 0h1m1 0h3m12 0h1m-32 1h1m3 0h1m2 0h1m13 0h1m1 0h1m1 0h1m4 0h1m-30 1h1m1 0h2m2 0h1m10 0h1m2 0h1m2 0h1m6 0h1" stroke="#6191c1"/><path d="M5 1h1m12 0h1m7 0h1m1 0h1m-23 1h2m-8 1h3m3 0h1m1 0h3m2 0h1m3 0h6m1 0h1m1 0h8m-31 1h1m2 0h1m4 0h3m3 0h1m2 0h1m7 0h1m1 0h1m1 0h1m-32 1h4m2 0h3m1 0h2m1 0h4m3 0h7m1 0h2m1 0h2m-25 1h1m10 0h1m-12 1h1m18 0h1m-23 1h1m1 0h1m16 0h1m5 0h1m-25 1h1m-3 1h1m1 0h3m1 0h2m3 0h1m2 0h2m3 0h2m3 0h1m2 0h1m-30 1h1m1 0h2m13 0h1m1 0h1m5 0h1m2 0h1m-27 1h1m3 0h1m3 1h1m-14 1h1m8 0h1m4 0h1m-12 1h1m3 0h1m5 0h1m6 0h1m3 0h2m-24 1h1m-2 1h2m6 0h1m9 0h1m2 0h1m3 0h1m1 0h1m4 0h1m-18 1h2m2 0h1m2 0h1m9 0h1m-21 1h1m5 0h1m-10 1h1m16 0h1m-19 1h2m6 0h1m1 0h1m2 0h1m-14 3h1m-1 1h1m1 0h1m2 1h1m2 0h1m-5 1h1m-10 3h1m1 0h2m-3 1h1m8 0h1m16 0h1m-26 1h2m3 0h1m1 0h1m3 0h1m2 0h1m3 0h2m-18 1h1m8 0h1m2 1h1m4 0h1m1 0h1m-26 1h2m5 0h1m2 0h1m3 0h1m5 0h1m-23 1h1m5 0h2m1 0h2m19 0h1m-6 1h1m6 0h1m-30 1h2m3 0h2m6 0h2m1 0h1m6 0h2m4 0h2m-27 1h1m3 0h1m9 0h1m1 0h1m4 0h1m-20 1h1m1 0h1m-11 1h2m25 0h1m-21 1h2m10 0h1m8 0h1m-23 1h2m9 0h2m8 0h1m-16 1h1m4 0h1m8 0h1m-17 1h1m16 0h1m-22 1h1m2 0h1m3 0h1m8 0h1m5 0h1m3 0h1m-21 1h1m-10 1h1m2 0h1m6 0h1m4 0h1m-18 1h1m24 0h1m2 0h1m-31 1h3m1 0h2m1 0h2m2 0h11m2 0h1m1 0h8m-10 4h1m-25 5h1m6 0h3m1 0h3m1 0h2m3 0h12m1 0h1m-33 1h12m1 0h1m1 0h1m1 0h3m2 0h1m2 0h1m2 0h1m2 0h2m-34 1h10m1 0h6m2 0h6m1 0h8m-34 1h9m1 0h2m2 0h1m2 0h1m1 0h1m1 0h1m1 0h2m1 0h8m-25 1h1m7 0h1m15 0h1m-34 1h1m2 0h5m1 0h1m1 0h4m2 0h5m1 0h1m2 0h1m1 0h1m1 0h1m1 0h1m-31 1h1m4 0h1m5 0h1m3 0h1m5 0h1m8 0h1m-18 1h1m6 0h1m1 0h1m3 0h1m-1 1h1m1 0h1" stroke="#709ec1"/><path d="M31 0h1m-15 1h1m14 1h1m-31 2h1m1 0h1m14 0h1m4 0h1m1 0h1m-3 2h1m-11 1h1m2 2h1m10 0h1m-28 1h1m4 0h1m10 0h1m5 0h1m7 0h1m-21 1h1m4 0h1m-6 2h1m3 0h1m-11 1h1m6 1h1m-6 1h1m4 0h1m10 0h1m0 1h1m-24 1h1m1 0h1m3 0h3m1 0h1m12 0h1m-23 1h1m6 0h1m10 0h1m3 0h1m-16 4h1m-10 7h1m15 0h1m11 0h1m2 4h1m-11 3h2m5 0h1m-23 1h2m2 0h1m2 0h2m5 0h1m3 0h1m-21 2h1m7 0h1m-8 1h1m5 0h1m3 0h1m4 0h1m4 0h1m4 0h1m-17 1h2m1 0h1m-9 1h1m20 0h1m-10 1h1m7 0h1m-18 2h1m7 0h1m3 0h1m3 0h1m1 0h2m-24 1h1m11 1h1m-18 1h1m9 0h1m3 0h1m-11 4h1m24 6h1m-3 1h2m-7 1h1m-6 1h1m-6 1h1m-12 2h1m4 0h1m11 0h1m-15 1h2m4 0h2m16 0h1m1 0h1m-16 1h1" stroke="#8fb0ba"/><path d="M22 1h1m-10 1h1m2 2h1m-12 1h1m-2 2h1m23 1h1m3 3h1m-21 1h1m13 3h1m-19 1h2m7 1h1m10 1h2m-18 1h1m15 4h1m-8 11h1m11 0h1m-20 2h1m13 2h1m-25 3h1m1 0h1m24 0h1m-31 3h1m3 0h1m16 0h1m9 0h1m-29 1h1m13 0h1m7 0h1m-27 1h1m0 1h1m16 0h1m7 0h1m1 0h1m2 0h1m1 0h1m-23 1h1m15 0h1m1 0h1m-29 1h1m10 0h1m20 0h1m-12 1h1m-5 9h1m-15 4h1m22 2h1m-10 1h1m-2 1h1m6 0h1" stroke="#b2bfb4"/><path d="M20 2h1m-17 1h1m12 9h1m1 1h1m5 1h2m-5 1h1m-8 1h1m5 0h1m-10 4h1m-13 15h1m27 0h1m0 1h1m-28 2h1m-3 2h1m5 0h1m19 0h1m3 0h1m-31 1h1m9 0h1m6 0h1m14 0h1m-32 1h1m3 0h1m6 0h1m3 0h1m1 0h1m6 0h1m1 0h2m-26 1h1m8 0h1m11 0h1m4 0h1m-24 1h1m2 0h2m12 0h1m2 0h1m-14 1h1m13 0h1m-27 1h1m17 0h1m7 0h1m4 0h1m-29 1h1m5 0h1m4 0h2m6 0h1m-14 1h1m13 0h1m4 1h1m1 0h1m-31 10h1m2 0h1m12 0h1m4 1h1m1 0h1m-8 1h1m-18 4h1m7 0h1m3 0h1m16 0h1m-20 1h1m5 0h1" stroke="#d8d2c4"/><path d="M23 3h1m-18 4h1m-6 6h2m1 0h2m2 0h1m3 0h1m17 0h1m1 0h1m-13 1h1m-20 2h1m2 0h1m14 0h2m6 0h2m4 0h1m-27 1h1m17 2h1m6 2h1m-15 4h1m-15 8h1m17 6h1m-21 1h1m17 0h1m6 0h3m1 0h1m-32 2h1m6 0h1m11 0h1m1 0h1m1 0h1m7 0h1m-26 1h1m4 0h1m3 0h1m5 0h1m11 0h1m-34 1h1m1 0h1m9 0h1m2 0h1m3 0h1m8 0h1m-29 1h2m6 0h1m1 0h1m3 0h2m9 0h1m6 0h2m-31 1h2m4 0h1m15 0h2m-22 1h1m1 0h1m6 0h1m-13 1h2m12 0h1m4 0h1m6 0h1m1 0h1m-17 1h1m6 0h2m1 0h2m2 0h1m3 0h1m-8 1h1m5 15h1" stroke="#f0e6de"/><path d="M13 5h1m-1 1h1m-2 5h1m-10 2h1m3 0h1m1 0h1m6 0h2m5 0h1m1 0h2m2 0h1m1 0h1m1 0h1m-31 3h1m1 0h2m3 0h2m1 0h2m1 0h1m1 0h1m5 0h3m3 0h1m1 0h1m-30 1h1m24 5h1m-17 14h1m10 2h1m-21 2h1m1 0h1m1 0h2m1 0h1m2 0h2m1 0h2m1 0h1m3 0h2m-17 1h2m3 0h2m9 0h1m1 0h1m-25 1h1m1 0h1m1 0h1m3 0h2m1 0h1m12 0h1m3 0h1m2 0h1m-29 1h1m7 0h2m1 0h2m2 0h1m1 0h2m7 0h1m-25 1h2m2 0h1m8 0h1m3 0h2m4 0h1m-28 1h1m5 0h1m6 0h2m6 0h1m5 0h1m-29 1h1m3 0h1m1 0h1m2 0h1m1 0h1m2 0h3m3 0h1m-14 1h1m7 0h1m4 0h1m-23 1h1m4 0h2m1 0h2m2 0h2m1 0h1m1 0h2m4 0h1m1 0h2m4 0h1m-26 1h5m4 0h2m2 0h2m5 0h1m3 14h1m-14 3h1m2 0h1" stroke="#f9f4f1"/></g>
<g transform="translate(1166 1085.07) scale(1.7533 10.5368)" fill="none" stroke-width="1.01"><path d="M20 4h1m-1 6h1m-21 3h1m4 0h2m16 0h1m5 0h1m-23 3h2m2 0h1m3 0h1m6 0h2m-4 3h1m-1 9h1m-12 12h1m1 0h1m1 0h1m2 0h1m1 0h1m1 0h3m2 0h1m-8 7h1m8 12h1m1 1h1" stroke="#232581"/><path d="M0 0h1m3 0h1m8 0h1m4 4h1m-11 6h1m-7 3h1m8 0h1m4 0h1m5 0h1m1 0h1m-24 1h1m-2 2h1m12 0h2m2 0h1m6 0h1m4 0h1m-10 2h1m-17 1h1m10 0h1m2 0h1m-4 3h1m1 12h1m-14 2h1m10 0h1m-8 1h1m-7 3h2m0 1h1m11 1h1m1 0h1m-7 1h2m-4 1h2m-8 5h1m-5 9h1m17 5h1m1 0h1m-12 1h1m-2 2h1m1 0h1" stroke="#32429c"/><path d="M2 0h1m9 0h1m2 0h1m1 0h2m1 0h2m1 0h1m1 0h2m-23 1h1m21 1h1m2 0h1m-28 1h1m-3 1h3m2 0h1m2 0h1m13 0h1m3 0h1m-25 2h1m5 0h1m1 0h1m7 0h1m1 0h2m5 0h1m-28 1h1m14 0h1m11 0h1m-7 1h1m-4 1h1m7 0h1m-27 1h1m3 0h1m4 0h2m2 0h1m1 0h2m1 0h2m1 0h1m5 0h1m-28 2h1m4 0h1m1 0h3m1 0h1m1 0h1m12 0h1m-26 1h1m5 0h1m20 0h1m-18 1h1m8 0h1m-20 1h1m27 0h1m-24 1h1m5 0h1m5 0h1m-16 2h3m5 0h1m14 0h1m-10 1h1m-10 1h1m10 0h1m0 2h1m5 0h1m1 0h1m-24 1h1m4 0h1m12 0h1m2 0h1m-23 2h2m14 0h1m5 0h1m-22 1h1m2 0h1m-4 2h1m17 0h1m-20 1h1m3 1h2m3 0h1m9 0h1m-16 1h1m17 0h1m-22 2h1m2 0h1m4 0h1m3 0h1m2 0h1m8 0h1m-29 1h1m5 0h5m6 0h1m7 1h1m-25 1h1m2 0h1m2 0h1m1 0h1m5 0h1m2 0h3m1 0h1m-24 1h1m25 0h1m-22 1h1m2 0h1m9 0h1m1 0h2m-21 1h2m5 0h1m2 0h1m1 0h1m6 0h1m8 0h1m-24 1h1m3 0h1m15 0h1m1 0h1m-18 1h1m14 0h1m-14 1h1m9 0h1m1 0h4m-26 1h1m11 0h1m2 0h1m10 0h1m-30 1h1m5 0h3m6 0h1m7 0h1m2 0h1m-4 1h1m-23 1h2m1 0h1m6 0h1m13 0h2m2 0h1m-19 1h1m-11 1h1m8 0h1m15 0h1m-25 1h1m2 0h1m6 0h1m2 0h1m2 0h1m6 0h1m1 0h1m-8 1h1m-13 1h1m1 1h1m-9 1h1m0 3h1m6 0h1m13 0h1m-24 1h1m-2 6h1m7 0h2m2 0h1m13 0h1m-27 1h1m13 0h1m-14 2h1m9 0h3m6 0h2m1 0h1m5 0h1m-2 1h1" stroke="#4063b0"/><path d="M3 0h1m1 0h2m1 0h4m2 0h1m1 0h1m2 0h1m4 0h1m2 0h3m-23 1h1m10 0h1m-12 1h2m-9 1h1m5 0h1m1 0h1m2 0h3m13 0h1m-24 1h1m2 0h1m4 0h1m2 0h3m6 0h2m3 0h1m-22 1h2m2 0h1m3 0h1m1 0h1m1 0h1m2 0h1m5 0h1m-29 1h1m1 0h1m1 0h1m1 0h1m1 0h1m1 0h1m1 0h2m1 0h2m4 0h2m2 0h1m1 0h2m-23 1h4m1 0h2m2 0h1m1 0h2m3 0h1m1 0h2m1 0h1m-25 1h1m3 0h1m2 0h3m2 0h1m9 0h1m1 0h1m-28 1h1m4 0h2m13 0h3m-22 1h1m2 0h3m3 0h1m10 0h1m3 0h1m-23 1h1m2 0h1m1 0h1m8 0h1m1 0h1m2 0h1m5 0h1m-29 1h1m8 0h1m5 0h1m2 0h2m1 0h1m4 0h1m1 0h1m-15 1h1m2 0h1m-16 1h3m2 0h2m6 0h1m4 0h1m3 0h1m-26 1h1m2 0h2m3 0h1m4 0h2m11 0h1m1 0h1m-25 2h1m21 0h1m1 0h1m-28 1h1m4 0h1m1 0h2m3 0h1m4 0h1m5 0h1m-25 1h1m6 0h1m2 0h1m14 0h1m-24 1h1m7 0h1m4 0h1m4 0h1m-18 1h1m12 0h1m6 0h1m5 0h1m-29 1h5m2 0h1m3 0h2m3 0h2m2 0h1m-10 1h1m7 0h2m2 0h1m3 0h1m-25 1h2m2 0h1m1 0h1m7 0h1m1 0h1m8 0h1m-30 1h3m6 0h1m1 0h1m3 0h1m1 0h3m8 0h1m-15 1h1m5 0h1m-20 1h1m2 0h1m3 0h1m4 0h1m7 0h1m7 0h1m-19 1h1m7 0h1m-2 1h1m3 0h1m-23 1h2m1 0h1m1 0h1m1 0h1m6 0h1m1 0h3m1 0h1m5 0h1m-26 1h1m2 0h2m1 0h1m3 0h1m8 0h1m1 0h1m1 0h1m2 0h2m-29 1h1m2 0h1m4 0h3m3 0h1m3 0h1m2 0h1m1 0h1m4 0h1m-28 1h4m2 0h1m2 0h2m6 0h1m3 0h2m1 0h1m2 0h1m-29 1h1m1 0h3m1 0h1m5 0h3m4 0h2m2 0h4m1 0h1m-28 1h1m3 0h1m2 0h1m1 0h1m-10 1h1m1 0h1m2 0h2m1 0h1m1 0h2m1 0h1m2 0h2m3 0h1m3 0h2m1 0h1m-29 1h1m5 0h1m3 0h2m6 0h1m1 0h1m2 0h1m2 0h3m-29 1h2m4 0h1m2 0h1m2 0h2m8 0h1m3 0h1m1 0h1m-30 1h1m6 0h1m1 0h2m5 0h3m2 0h1m1 0h1m2 0h1m1 0h1m-10 1h1m-20 1h2m5 0h2m5 0h5m2 0h1m7 0h1m-30 1h2m1 0h3m1 0h1m2 0h1m1 0h1m2 0h1m1 0h1m1 0h1m1 0h2m6 0h1m-28 1h1m2 0h1m2 0h2m4 0h1m5 0h2m3 0h3m-27 1h2m1 0h2m3 0h1m2 0h2m3 0h2m2 0h2m1 0h2m1 0h2m-28 1h1m2 0h2m7 0h1m4 0h1m1 0h1m1 0h1m6 0h1m-18 1h2m1 0h1m4 0h1m6 0h1m-28 1h1m3 0h1m8 0h1m2 0h2m3 0h1m1 0h1m2 0h1m1 0h1m-27 1h1m2 0h1m7 0h1m7 0h1m2 0h1m3 0h1m-29 1h1m2 0h1m3 0h2m1 0h2m1 0h2m2 0h1m2 0h1m1 0h3m3 0h2m-30 1h1m4 0h1m5 0h1m9 0h1m-19 2h1m9 0h1m-8 4h1m6 0h1m4 2h1m-2 1h1m-12 1h1m1 0h1m-7 3h1m2 0h1m1 0h1m2 0h2m1 0h3m5 0h3m1 0h1m1 0h1m1 0h1m-29 2h1m1 0h2m5 0h1m4 0h1m4 0h1m-21 1h1m2 0h1m5 0h1m5 0h2m1 0h2m4 0h2m2 0h1m-21 1h1m2 0h1m3 0h1m2 0h2" stroke="#507ebc"/><path d="M1 0h1m5 0h1m14 0h1m-23 1h1m8 0h2m5 0h2m2 0h1m5 0h4m-30 1h1m3 0h1m4 0h2m1 0h1m1 0h1m5 0h2m-21 1h1m2 0h2m3 0h1m4 0h1m2 0h1m1 0h2m1 0h1m1 0h2m2 0h2m-24 1h1m2 0h1m3 0h2m4 0h1m1 0h1m1 0h1m3 0h2m-29 1h2m1 0h1m2 0h1m4 0h1m5 0h1m1 0h1m4 0h2m1 0h2m-29 1h1m3 0h1m1 0h1m8 0h1m8 0h1m-24 1h1m1 0h2m6 0h1m8 0h1m1 0h1m1 0h1m-23 1h2m1 0h1m1 0h1m1 0h1m4 0h1m2 0h2m3 0h1m1 0h2m3 0h1m-28 1h1m2 0h1m4 0h3m3 0h2m2 0h1m7 0h1m-28 1h1m1 0h1m19 0h3m-26 1h2m8 0h1m3 0h1m2 0h1m3 0h1m-20 1h1m3 0h1m8 0h1m7 0h1m1 0h1m2 0h1m-29 2h1m13 0h2m-11 1h2m2 0h1m9 0h1m1 0h3m-23 1h1m0 1h1m4 0h1m2 0h2m-12 1h1m1 0h1m7 0h1m6 0h1m3 0h1m1 0h1m1 0h1m2 0h1m-18 1h2m9 0h1m-23 1h2m1 0h2m4 0h1m1 0h1m2 0h1m1 0h3m4 0h2m1 0h1m2 0h1m-30 1h2m3 0h1m1 0h2m1 0h1m4 0h1m2 0h1m1 0h1m3 0h1m1 0h1m-16 1h1m2 0h1m4 0h1m3 0h1m1 0h1m-26 1h1m1 0h2m4 0h1m2 0h1m1 0h1m2 0h1m5 0h1m4 0h1m-28 1h1m1 0h1m3 0h2m3 0h3m3 0h1m1 0h1m2 0h1m-20 1h1m2 0h2m13 0h2m4 0h1m1 0h1m-30 1h2m2 0h1m2 0h1m1 0h2m2 0h1m2 0h2m1 0h1m1 0h1m1 0h1m1 0h1m2 0h2m-25 1h1m1 0h1m1 0h1m10 0h1m1 0h2m1 0h2m-27 1h1m12 0h1m-9 1h1m18 0h1m-21 1h1m1 0h1m5 0h1m2 0h1m3 0h1m1 0h2m5 0h2m-30 1h1m8 0h2m2 0h1m2 0h3m2 0h1m1 0h1m-23 1h1m2 0h4m3 0h2m2 0h1m1 0h1m4 0h1m3 0h1m2 0h1m-24 1h1m2 0h1m2 0h1m2 0h2m4 0h1m4 0h2m-23 1h1m10 0h1m4 0h2m4 0h1m1 0h1m-30 1h1m6 0h1m1 0h1m8 0h3m6 0h1m1 0h1m-30 1h1m12 0h1m10 0h1m3 0h1m-27 1h5m2 0h1m3 0h1m2 0h3m6 0h1m-22 1h1m1 0h1m4 0h1m3 0h1m3 0h1m4 0h3m1 0h1m-25 1h1m7 0h1m2 0h1m9 0h1m1 0h1m-24 1h1m2 0h1m6 0h1m-13 1h2m1 0h1m3 0h2m1 0h2m6 0h1m2 0h1m3 0h1m-20 1h2m10 0h1m-21 1h1m5 0h2m2 0h2m4 0h2m1 0h1m-17 1h1m12 0h1m2 0h1m9 0h1m-30 1h1m2 0h1m2 0h1m1 0h1m1 0h1m1 0h1m4 0h1m1 0h1m1 0h1m2 0h4m-28 1h1m2 0h1m1 0h4m8 0h2m2 0h1m1 0h2m-19 1h1m1 0h2m4 0h2m6 0h1m1 0h2m1 0h1m1 0h1m-27 1h2m1 0h1m1 0h2m6 0h1m1 0h1m1 0h1m-12 1h1m6 0h1m2 0h1m1 0h1m4 0h1m-5 2h1m-19 2h2m5 1h1m0 1h1m9 0h1m3 0h1m-20 1h1m7 0h1m0 2h1m-12 1h1m2 0h1m9 0h1m5 0h1m1 0h1m-24 1h2m7 0h2m4 0h1m9 0h1m-25 1h2m4 0h3m7 0h1m2 0h1m2 0h1m-27 1h1m4 0h1m7 0h2m7 0h1m-20 1h2m11 0h2m1 0h1m4 0h1m-18 1h2m12 0h1m-22 1h1m4 0h1m1 0h1m8 0h1m4 0h1m7 0h1m-28 1h1m3 0h1m7 0h1m7 0h1m3 0h2m-27 1h1m1 0h2m4 0h2m10 0h1m1 0h1m5 0h1" stroke="#6191c1"/><path d="M1 1h2m2 0h1m2 0h1m2 0h2m1 0h1m8 0h3m-25 1h3m1 0h1m5 0h1m1 0h1m1 0h1m1 0h2m4 0h2m2 0h2m-22 1h1m2 0h1m4 0h2m6 0h1m-21 1h1m6 0h2m-10 1h1m2 0h1m1 0h1m2 0h1m2 0h3m5 0h2m3 0h1m-8 1h1m5 0h1m-24 1h1m2 0h2m10 0h1m3 0h1m-22 1h2m4 0h1m3 0h1m12 0h1m3 0h1m-25 1h2m4 0h1m3 0h3m3 0h1m7 0h1m1 0h1m-2 1h1m-26 1h1m8 0h2m1 0h1m6 0h1m2 0h1m1 0h1m-16 1h1m-9 1h1m7 0h1m-11 1h1m10 0h1m5 0h1m2 0h3m2 0h1m-17 1h1m3 0h1m1 0h2m1 0h1m3 0h1m2 0h1m-23 2h1m9 0h2m1 0h2m3 0h2m4 0h1m-23 1h1m6 0h1m1 0h1m5 0h1m-22 1h1m24 0h1m2 0h1m-17 1h1m7 0h2m2 0h1m-24 1h1m10 0h1m3 0h1m3 0h1m5 0h1m-22 1h1m9 0h1m7 0h1m-21 1h1m2 0h1m6 0h1m4 0h1m5 0h1m3 0h1m-21 1h1m5 0h2m7 0h1m1 0h1m-19 1h1m4 0h1m2 0h1m-11 1h1m4 0h1m15 0h1m-22 1h1m4 0h2m3 0h1m1 0h1m5 0h1m2 0h1m-3 1h1m3 0h1m-28 1h1m5 0h1m11 0h1m5 0h1m-25 1h1m8 0h1m12 0h1m-23 1h1m3 0h1m5 0h1m6 0h1m9 0h1m-28 1h1m13 0h1m2 0h2m4 0h1m1 0h1m-14 1h1m9 0h1m-14 2h3m1 0h1m1 0h1m4 0h2m-14 2h1m4 0h1m7 0h1m-15 1h1m2 0h1m4 0h1m4 0h1m-17 1h1m7 0h1m7 0h1m1 1h1m-19 1h1m12 0h1m2 0h1m1 0h2m2 0h1m-23 1h1m7 0h1m9 0h1m-24 1h1m2 0h1m17 0h2m4 0h1m-15 1h1m5 0h1m-10 1h1m2 0h3m11 0h1m-15 1h1m7 0h1m-22 1h1m1 0h1m16 0h1m-21 1h1m10 0h2m1 0h1m2 0h1m4 0h2m1 0h1m-25 1h1m4 0h1m16 1h1m-8 1h1m6 0h1m3 0h1m-27 3h1m18 0h1m1 0h1m-20 1h1m23 0h1m-9 1h1m6 0h1m-13 1h1m5 0h1m4 1h1m-26 1h4m2 0h1m2 0h8m2 0h5m1 0h1m2 0h2m-30 1h3m2 0h1m1 0h1m1 0h3m2 0h1m1 0h2m1 0h9m-28 1h4m2 0h4m3 0h7m1 0h2m1 0h2m2 0h2m-29 1h2m3 0h3m1 0h3m2 0h7m1 0h7m-29 1h1m-1 1h6m3 0h4m1 0h2m1 0h3m1 0h8m-28 1h1m5 0h2m2 0h1m4 0h1m1 0h1m4 0h2m1 0h2m-29 2h1m1 0h1m2 0h3m4 0h3m1 0h2m6 0h4" stroke="#709ec1"/><path d="M6 1h1m6 0h1m1 0h1m3 0h1m1 0h2m-17 1h1m9 0h1m2 0h1m2 0h1m2 0h1m-22 3h1m9 2h1m-15 2h1m7 0h1m3 1h1m-8 1h1m2 0h1m2 0h1m4 0h1m2 0h1m4 0h1m3 0h1m-11 1h1m5 0h1m-11 1h1m10 0h1m-20 1h1m10 0h1m11 0h1m-23 1h1m4 0h1m3 0h1m-17 2h1m11 0h3m5 0h3m4 0h1m-16 1h1m14 0h1m-21 2h1m20 0h1m-25 1h1m6 0h2m1 0h1m10 0h1m2 0h1m-23 2h1m8 0h1m1 0h1m-15 1h1m10 0h1m6 0h1m6 0h1m-27 2h1m21 0h1m-15 1h1m3 0h2m3 0h1m8 0h1m-26 1h1m4 0h1m12 0h2m-14 1h1m7 0h1m7 0h1m-16 1h1m16 0h1m-14 1h1m-12 4h1m20 0h2m-4 2h1m-20 1h1m12 0h1m-14 1h1m20 0h1m-2 1h1m3 0h1m-4 3h1m-16 2h1m-1 1h1m6 0h1m11 0h1m-22 1h1m4 0h1m-6 1h1m7 0h1m11 0h1m-21 2h1m21 0h1m-27 1h1m5 0h1m14 0h1m1 1h1m-5 1h1m1 0h1m-4 1h1m-22 2h1m-1 1h1m1 0h1m12 0h1m10 0h1m-12 1h1m-9 1h1m19 2h1m-24 1h1m4 0h1m18 1h1m-16 2h2m3 0h1m4 0h1m-2 2h1" stroke="#8fb0ba"/><path d="M3 3h1m14 0h1m2 0h1m4 0h1m-3 6h1m-21 3h1m9 0h1m6 0h1m-14 1h1m1 1h1m-9 1h1m23 1h1m-21 1h1m1 0h1m6 1h1m13 0h1m-27 1h1m12 0h1m2 0h1m3 0h1m3 0h2m-24 1h1m0 1h1m22 1h1m-12 1h1m-18 1h1m25 0h1m-16 1h1m1 0h1m7 1h1m3 0h1m-25 2h1m7 0h1m17 0h1m-18 1h1m-9 2h1m11 0h1m8 1h1m-6 1h1m-16 2h1m16 0h1m-2 2h1m-19 5h1m-1 3h1m2 2h1m13 1h1m-16 2h1m-3 1h1m16 0h1m-13 1h1m13 0h1m3 0h1m-25 1h1m26 0h1m-24 1h1m2 0h1m1 0h1m13 0h1m-24 1h1m17 0h1m-12 1h1m2 0h1m8 0h1m-16 1h1m1 0h1m-7 1h1m1 4h1m0 4h1m15 1h1" stroke="#b2bfb4"/><path d="M3 1h1m8 5h1m2 2h1m-2 2h1m2 0h1m11 0h1m-24 1h1m3 2h1m15 0h1m-17 2h1m-1 1h1m-10 1h1m1 0h1m5 0h1m14 2h1m-13 1h1m14 0h1m-9 1h1m2 0h1m-13 1h1m-10 1h1m7 0h1m15 1h1m-16 1h1m-11 2h1m2 0h1m-3 1h1m2 0h1m10 0h1m2 0h1m-9 1h1m4 0h1m7 0h1m-24 4h1m14 1h1m-14 1h1m11 0h1m1 0h1m11 0h1m-4 1h1m-12 1h1m-15 1h1m4 1h1m2 1h1m6 0h1m13 0h1m-19 2h1m-5 3h1m2 1h1m-9 1h1m7 0h1m-1 3h1m17 0h1m-29 1h2m8 0h2m0 1h1m3 0h2m2 0h1m3 0h1m-15 1h2m14 0h2m-28 1h1m1 0h2m3 0h1m10 0h1m7 0h1m-21 1h3m1 0h1m4 0h1m4 0h2m1 0h1m-23 1h1m3 0h1m3 0h1m11 0h1m1 0h1m3 0h1m1 0h1m-27 1h1m7 0h1m1 0h1m7 0h1m3 0h1m3 0h1m-23 1h1m3 0h1m1 0h1m5 0h1m1 0h1m5 0h1m-24 1h1m10 1h1m-10 3h1m10 1h1m8 1h1m-22 1h1m11 0h1" stroke="#d8d2c4"/><path d="M25 9h1m-23 3h1m5 1h1m3 0h1m3 0h1m1 0h3m5 0h1m-21 1h1m4 0h1m5 0h1m7 0h1m-2 1h1m-23 1h1m5 0h1m9 0h3m5 0h1m-9 2h1m-12 1h2m3 0h1m7 0h1m-13 3h1m12 0h1m4 0h1m-25 4h1m11 0h1m2 0h1m-13 2h2m-1 1h1m5 0h1m7 0h1m5 0h2m-4 1h1m-1 1h1m-7 8h1m-20 1h2m3 0h1m6 0h1m6 7h1m-12 3h1m4 0h2m3 0h1m7 0h1m-23 1h3m6 0h2m2 0h2m1 0h2m4 0h1m1 0h2m-30 1h2m3 0h2m1 0h1m6 0h1m-16 1h1m7 0h2m2 0h2m4 0h3m4 0h1m3 0h1m-26 1h1m1 0h1m6 0h1m1 0h3m5 0h1m3 0h3m-28 1h1m1 0h2m3 0h1m1 0h1m1 0h1m2 0h3m5 0h2m2 0h2m-28 1h1m1 0h1m7 0h1m3 0h1m1 0h1m6 0h1m2 0h1m-25 1h1m1 0h1m1 0h3m5 0h4m7 0h2m-26 1h1m2 0h1m1 0h1m1 0h1m9 0h1m3 0h1m1 0h1m1 0h1m-18 7h1m10 0h1m-16 1h1" stroke="#f0e6de"/><path d="M29 7h1m-11 1h2m-19 3h1m23 0h1m-10 1h1m-15 1h1m24 1h1m-27 2h1m1 0h2m10 0h1m8 0h1m2 0h1m-12 1h1m7 0h1m-24 2h1m2 0h2m7 0h1m-9 1h1m2 1h1m-10 1h1m6 0h1m15 2h1m-1 1h3m-14 1h1m-11 1h1m14 0h1m-9 1h1m2 0h1m1 0h1m1 0h2m6 0h1m1 0h2m-28 1h2m1 0h1m2 0h1m5 0h1m1 0h1m1 0h1m2 0h1m9 0h1m-17 3h1m-8 3h1m10 5h1m1 6h1m9 2h1m-29 2h3m2 0h1m2 0h1m2 0h1m2 0h3m1 0h1m2 0h1m1 0h2m1 0h1m-21 1h1m4 0h1m2 0h1m9 0h1m-24 1h1m1 0h1m4 0h1m1 0h1m2 0h1m3 0h2m2 0h2m3 0h3m-27 1h1m2 0h2m6 0h4m3 0h1m1 0h1m-15 1h1m2 0h1m1 0h1m4 0h1m5 0h1m-26 1h1m13 0h1m-1 1h1m2 0h1m4 0h1m-11 1h1m9 0h3m-23 1h1m1 0h2m3 0h1m2 0h1m1 0h1m2 0h1m4 0h2m5 0h1m-24 7h1" stroke="#f9f4f1"/></g>
<g transform="translate(1219.8 1085.07) scale(1.7333 10.5368)" fill="none" stroke-width="1.01"><path d="M0 13h1m1 0h1m3 0h6m1 0h1m-9 3h1m3 0h1m-10 5h1" stroke="#232581"/><path d="M0 0h2m2 1h1m2 5h1m-1 3h1m-4 1h1m-2 3h3m6 0h1m1 0h1m-14 3h1m4 4h1m-5 1h2m-3 2h1m6 0h1m-8 1h2m7 0h1m2 4h1m-2 6h1m-5 9h1m-7 2h1m-2 4h1m7 6h1m-9 2h1m7 0h1m-9 1h1m0 2h1m-2 2h1m3 3h1" stroke="#32429c"/><path d="M2 0h1m1 0h4m2 0h1m1 0h1m-11 1h1m4 0h1m-8 1h1m2 2h1m3 0h1m-7 2h4m3 0h3m2 0h2m-8 1h2m-9 1h1m5 0h1m1 0h1m4 0h1m-6 1h1m3 0h1m-12 2h1m4 0h3m2 0h2m-13 1h2m1 0h2m-4 2h2m3 1h1m3 0h1m-7 1h1m8 0h1m-8 1h4m2 0h1m-8 3h1m1 0h1m1 0h2m1 0h1m-12 1h1m3 0h4m1 0h2m1 0h1m-12 1h1m-1 1h1m0 1h1m1 0h4m4 0h1m-12 1h1m-3 3h1m4 0h1m3 0h1m-8 1h1m1 0h2m1 1h2m1 0h1m-4 3h1m1 0h1m1 0h1m1 0h1m-14 1h2m3 0h1m-6 1h1m2 1h1m1 0h1m1 0h2m0 1h1m-8 2h2m1 0h1m2 0h1m-7 1h1m1 0h1m1 0h3m-6 1h1m7 0h1m-11 1h1m2 0h1m-4 1h1m11 0h1m-12 1h1m5 0h1m-8 1h1m4 0h1m5 0h1m-13 1h1m-1 1h2m4 0h1m-5 1h1m-1 1h1m6 0h1m2 0h1m-7 2h1m5 0h1m-13 1h1m1 0h1m7 0h1m-11 2h1m7 3h1m-4 3h1m4 2h1m-9 1h2m2 0h2m-6 1h2m4 2h1" stroke="#4063b0"/><path d="M3 0h1m4 0h2m1 0h1m1 0h2m-12 1h1m2 0h1m1 0h1m1 0h1m1 0h3m-14 1h2m3 0h1m1 0h3m1 0h1m-12 2h1m4 0h1m1 0h1m2 0h1m1 0h1m-14 2h1m4 0h2m5 0h1m-13 1h1m4 0h1m4 0h1m1 0h2m-13 1h2m2 0h1m3 0h1m2 0h1m1 0h1m-15 1h1m1 0h2m1 0h2m2 0h2m-11 1h1m1 0h1m2 0h1m1 0h1m3 0h2m-13 1h1m1 0h3m4 0h1m3 0h1m-12 1h1m3 0h2m1 0h1m2 0h2m-14 2h1m2 0h1m3 0h1m1 0h2m2 0h2m-15 1h1m2 0h1m1 0h1m1 0h3m-4 1h1m-5 1h3m5 0h1m3 0h1m-12 1h1m3 0h3m1 0h3m-14 1h1m1 0h1m1 0h1m1 0h1m1 0h1m1 0h2m1 0h1m-13 1h1m1 0h1m8 1h1m1 0h1m-15 1h1m7 0h2m3 0h1m-11 1h1m1 0h3m2 0h4m-14 1h1m3 0h1m6 0h2m-12 1h1m1 0h1m1 0h3m1 0h1m2 0h2m-14 1h1m1 0h1m4 0h1m4 0h2m-13 1h1m4 0h1m1 0h1m4 0h1m-13 1h3m3 0h2m1 0h3m-12 1h1m5 0h1m1 0h2m2 0h1m-14 1h1m2 0h1m2 0h1m5 0h2m-11 1h1m5 0h1m3 0h1m-11 1h1m4 0h1m2 0h1m-12 1h2m1 0h1m6 0h1m1 0h1m1 0h1m-13 1h2m2 0h1m3 0h1m3 0h1m-14 1h1m6 0h2m-10 1h1m3 0h1m1 0h1m3 0h1m1 0h2m-12 1h2m9 0h1m-14 1h3m3 1h1m2 0h1m1 0h1m-12 1h2m8 0h4m-13 1h2m2 0h1m2 0h1m3 0h3m-15 1h1m2 0h1m2 0h1m1 0h7m-15 1h1m5 0h2m6 0h1m-12 1h1m6 0h1m2 0h1m-11 1h2m2 0h2m1 0h1m2 0h1m-11 1h1m4 0h1m2 0h3m-10 1h1m4 0h1m1 0h1m1 1h1m-14 1h1m4 0h1m4 0h2m1 0h1m-12 1h1m3 0h1m-4 1h1m4 0h1m1 0h1m-7 1h2m5 2h1m1 0h1m-8 1h1m1 0h1m-8 1h1m5 1h1m-3 1h2m2 0h1m3 3h1m-14 2h2m6 0h1m1 0h1m2 0h1m-13 1h1m6 0h1m0 1h1m1 0h1m-3 1h2m-11 1h1m7 0h1m4 0h1" stroke="#507ebc"/><path d="M1 1h1m3 0h1m3 0h1m1 0h1m-7 1h1m1 0h1m3 0h1m1 0h1m-14 1h1m11 0h1m-13 1h1m1 0h1m2 0h1m4 0h1m1 0h1m-12 1h1m1 0h1m2 0h1m5 0h1m-11 2h3m1 0h1m2 0h1m1 0h1m-8 1h1m2 0h1m2 0h1m-10 1h1m9 0h1m1 0h2m-14 1h1m6 0h1m1 0h1m2 0h1m-4 1h1m-6 1h1m2 0h1m1 0h2m2 0h1m-9 2h1m1 0h1m2 0h2m-12 1h2m1 0h1m3 1h1m-4 1h1m7 0h1m-14 1h2m3 0h2m3 0h1m3 0h1m-14 1h1m7 0h1m2 0h1m-13 1h1m7 0h1m2 0h1m1 0h2m-11 1h1m-2 1h1m3 0h1m3 0h2m-4 1h1m4 0h1m-6 1h1m-10 1h1m3 0h1m5 0h2m-7 1h1m-4 1h3m2 0h1m-4 1h1m1 0h1m7 0h1m-12 1h1m2 0h1m4 0h1m-12 2h2m2 0h1m1 0h1m1 0h1m1 0h1m-11 1h2m8 0h1m1 0h3m-13 1h1m1 0h1m1 0h1m-3 1h1m2 0h3m1 0h1m-10 1h1m3 0h2m4 0h2m-13 1h2m6 0h1m1 0h1m-12 1h2m4 0h3m1 0h1m-7 1h2m2 0h1m3 0h2m-14 1h1m3 0h1m2 0h1m2 0h1m-8 1h1m1 0h1m3 0h1m-3 1h1m2 0h1m-9 1h1m4 0h1m-4 1h2m4 0h1m1 0h1m-13 1h1m-1 1h1m4 0h1m3 0h1m1 0h1m-11 1h2m2 0h2m3 0h1m3 0h1m-10 1h1m1 0h1m2 0h1m1 0h3m-15 1h1m5 0h4m2 0h1m-7 1h3m-7 2h1m10 1h1m-13 1h1m1 0h1m3 0h1m1 0h1m1 0h1m-5 1h1m1 0h1m-8 1h1m2 0h1m5 0h3m-12 1h1m4 0h1m4 0h1m-3 2h1m1 0h1m-13 1h1m2 0h1m8 0h1m-10 2h1m6 0h1m-11 1h1m4 0h2m4 1h2m-13 1h1m5 0h1m3 0h1m-5 1h1m7 0h1m-8 1h1m5 0h1m-13 1h2m3 0h2" stroke="#6191c1"/><path d="M0 1h1m2 1h1m-3 1h11m1 0h2m-11 1h1m4 0h1m4 0h1m-15 1h1m1 0h1m1 0h2m1 0h5m1 0h1m-13 2h1m12 0h1m-4 1h1m-9 2h1m2 0h1m2 0h1m4 0h1m-10 1h1m-2 3h2m5 1h1m1 0h2m-15 2h2m0 1h1m1 0h1m-2 1h1m1 0h1m1 0h1m6 0h1m-13 1h1m6 1h1m-5 1h2m3 0h1m3 0h1m-15 1h1m3 0h1m3 2h1m5 0h1m-9 1h1m1 0h1m1 0h2m-3 1h1m1 0h2m1 0h1m-7 2h1m-8 1h2m1 0h2m5 0h1m-5 1h1m-4 1h1m2 0h1m1 0h1m-6 3h2m5 0h1m-7 2h1m5 0h2m-7 1h2m1 0h3m2 0h1m-14 1h1m11 0h2m-1 1h1m-15 1h1m3 0h1m4 0h1m-7 2h1m5 0h1m-6 1h4m1 0h1m4 1h1m-11 1h1m-3 1h2m-3 1h1m2 0h1m6 0h1m2 0h1m-1 1h1m-11 6h1m9 0h1m-15 1h1m13 0h1m-13 1h1m3 0h1m6 1h1m-13 1h2m1 0h5m1 0h2m1 0h2m-12 1h1m2 1h1m-4 1h1m10 0h1m-1 1h1m-10 1h1m1 0h1m1 0h1m1 0h3m-12 1h1m1 0h1m0 1h1m-3 1h1" stroke="#709ec1"/><path d="M4 2h1m9 0h1m-1 3h1m-3 10h1m-11 1h1m11 0h1m-14 6h1m2 0h1m9 2h1m-12 2h2m4 0h1m-5 1h1m6 2h1m-4 1h1m-5 1h1m-4 1h1m2 1h1m8 2h1m-12 3h1m8 1h1m-7 2h1m-6 3h1m9 0h1m-4 3h1m-6 2h2m-1 1h1m2 0h1m6 2h1m-7 2h1m-9 1h1m12 1h1m-10 2h1m3 0h1m-5 2h1m7 0h1m-12 1h1m3 0h1m3 2h1m-6 1h1m9 0h1m-12 1h1m8 1h1m1 0h1" stroke="#8fb0ba"/><path d="M3 8h1m-4 8h1m3 4h1m9 6h1m-13 5h1m8 0h1m-7 1h1m-3 3h1m-2 8h1m9 1h1m1 0h1m-6 2h1m-5 2h1m4 0h1m-5 5h1m0 2h1m-2 1h1m3 0h1m1 1h2m-12 1h1m8 0h1m2 0h1m-6 1h1m4 1h1m-11 2h1m-4 3h1m5 0h1m-4 2h2m4 0h2" stroke="#b2bfb4"/><path d="M4 9h1m9 2h1m-15 16h1m9 0h1m-11 2h1m13 0h1m-1 1h1m-3 1h1m-5 2h1m4 1h1m-4 1h1m3 1h1m-1 1h1m-8 9h1m-5 2h1m4 2h2m1 0h1m2 0h1m-14 1h1m11 0h1m-13 1h1m4 0h2m1 0h1m-8 1h1m5 0h1m3 0h2m-13 1h2m7 1h1m-2 1h1m-10 1h1m13 0h1m-7 3h2m-10 1h1m7 0h1m-1 1h1m3 0h1m-1 3h2m-13 1h1m9 0h1m-3 1h1" stroke="#d8d2c4"/><path d="M11 6h1m-11 7h1m5 3h1m2 0h2m-11 10h1m4 6h1m-3 5h1m-5 13h2m1 0h1m6 0h1m1 0h2m-10 1h1m-2 1h1m4 0h1m2 0h1m-12 1h1m13 0h1m-9 1h1m3 0h1m0 2h1m-12 2h1m5 2h1m3 0h2m1 0h1m-12 1h1m4 0h1m3 0h1m2 0h1m-8 1h1m1 0h1m-6 1h2m-6 2h1m7 0h1m1 0h1m-9 1h1m3 0h1" stroke="#f0e6de"/><path d="M3 16h1m8 0h1m-2 1h1m2 14h1m-10 11h1m5 1h1m-7 7h1m-6 1h1m4 0h1m1 0h1m1 0h1m1 0h1m2 0h1m-3 1h1m-9 1h2m4 0h1m-8 1h3m6 0h1m1 0h1m-14 1h1m1 0h1m-1 1h3m2 0h1m-6 1h3m4 0h2m-9 1h1m3 0h1m-8 2h2m5 0h1m-4 1h1m4 0h1m2 0h1m-11 1h1m8 0h1m1 0h1m-14 4h1m2 0h2m7 1h1m1 0h1" stroke="#f9f4f1"/></g>
<line x1="852.6" y1="1079.8" x2="852.6" y2="1796.3" stroke="#9a9a9a" stroke-width="0.9"/>
<line x1="940.8" y1="1079.8" x2="940.8" y2="1796.3" stroke="#9a9a9a" stroke-width="0.9"/>
<line x1="1025" y1="1079.8" x2="1025" y2="1796.3" stroke="#9a9a9a" stroke-width="0.9"/>
<line x1="1105.2" y1="1079.8" x2="1105.2" y2="1796.3" stroke="#9a9a9a" stroke-width="0.9"/>
<line x1="1165.4" y1="1079.8" x2="1165.4" y2="1796.3" stroke="#9a9a9a" stroke-width="0.9"/>
<line x1="1219.2" y1="1079.8" x2="1219.2" y2="1796.3" stroke="#9a9a9a" stroke-width="0.9"/>
<text x="717.6" y="1088.9" font-size="10.9" text-anchor="end" fill="#333">CDKN1A</text>
<text x="717.6" y="1099.4" font-size="10.9" text-anchor="end" fill="#333">ZMAT3</text>
<text x="717.6" y="1109.9" font-size="10.9" text-anchor="end" fill="#333">TPP1</text>
<text x="717.6" y="1120.5" font-size="10.9" text-anchor="end" fill="#333">CSMD3</text>
<text x="717.6" y="1131" font-size="10.9" text-anchor="end" fill="#333">DGKA</text>
<text x="717.6" y="1141.6" font-size="10.9" text-anchor="end" fill="#333">AL138828.1</text>
<text x="717.6" y="1152.1" font-size="10.9" text-anchor="end" fill="#333">CALCOCO1</text>
<text x="717.6" y="1162.6" font-size="10.9" text-anchor="end" fill="#333">MDM2</text>
<text x="717.6" y="1173.2" font-size="10.9" text-anchor="end" fill="#333">GREB1</text>
<text x="717.6" y="1183.7" font-size="10.9" text-anchor="end" fill="#333">RRM2B</text>
<text x="717.6" y="1194.2" font-size="10.9" text-anchor="end" fill="#333">GINS2</text>
<text x="717.6" y="1204.8" font-size="10.9" text-anchor="end" fill="#333">MCM5</text>
<text x="717.6" y="1215.3" font-size="10.9" text-anchor="end" fill="#333">MCM4</text>
<text x="717.6" y="1225.8" font-size="10.9" text-anchor="end" fill="#333">MT&#8722;ND4</text>
<text x="717.6" y="1236.4" font-size="10.9" text-anchor="end" fill="#333">MCM2</text>
<text x="717.6" y="1246.9" font-size="10.9" text-anchor="end" fill="#333">E2F1</text>
<text x="717.6" y="1257.5" font-size="10.9" text-anchor="end" fill="#333">MT&#8722;ND1</text>
<text x="717.6" y="1268" font-size="10.9" text-anchor="end" fill="#333">RMI2</text>
<text x="717.6" y="1278.5" font-size="10.9" text-anchor="end" fill="#333">MCM3</text>
<text x="717.6" y="1289.1" font-size="10.9" text-anchor="end" fill="#333">CLSPN</text>
<text x="717.6" y="1299.6" font-size="10.9" text-anchor="end" fill="#333">PLK1</text>
<text x="717.6" y="1310.1" font-size="10.9" text-anchor="end" fill="#333">KIF20A</text>
<text x="717.6" y="1320.7" font-size="10.9" text-anchor="end" fill="#333">CDC20</text>
<text x="717.6" y="1331.2" font-size="10.9" text-anchor="end" fill="#333">NEK2</text>
<text x="717.6" y="1341.8" font-size="10.9" text-anchor="end" fill="#333">CCNB1</text>
<text x="717.6" y="1352.3" font-size="10.9" text-anchor="end" fill="#333">ASPM</text>
<text x="717.6" y="1362.8" font-size="10.9" text-anchor="end" fill="#333">DLGAP5</text>
<text x="717.6" y="1373.4" font-size="10.9" text-anchor="end" fill="#333">PRR11</text>
<text x="717.6" y="1383.9" font-size="10.9" text-anchor="end" fill="#333">CCNB2</text>
<text x="717.6" y="1394.4" font-size="10.9" text-anchor="end" fill="#333">CENPF</text>
<text x="717.6" y="1405" font-size="10.9" text-anchor="end" fill="#333">CD44</text>
<text x="717.6" y="1415.5" font-size="10.9" text-anchor="end" fill="#333">MARCH4</text>
<text x="717.6" y="1426" font-size="10.9" text-anchor="end" fill="#333">KRTAP2&#8722;3</text>
<text x="717.6" y="1436.6" font-size="10.9" text-anchor="end" fill="#333">FOSL1</text>
<text x="717.6" y="1447.1" font-size="10.9" text-anchor="end" fill="#333">FAS</text>
<text x="717.6" y="1457.7" font-size="10.9" text-anchor="end" fill="#333">CFAP58</text>
<text x="717.6" y="1468.2" font-size="10.9" text-anchor="end" fill="#333">SDC1</text>
<text x="717.6" y="1478.7" font-size="10.9" text-anchor="end" fill="#333">MRPL39</text>
<text x="717.6" y="1489.3" font-size="10.9" text-anchor="end" fill="#333">SLC43A3</text>
<text x="717.6" y="1499.8" font-size="10.9" text-anchor="end" fill="#333">LIMA1</text>
<text x="717.6" y="1510.3" font-size="10.9" text-anchor="end" fill="#333">IGFBP5</text>
<text x="717.6" y="1520.9" font-size="10.9" text-anchor="end" fill="#333">PBX1</text>
<text x="717.6" y="1531.4" font-size="10.9" text-anchor="end" fill="#333">SEMA3C</text>
<text x="717.6" y="1541.9" font-size="10.9" text-anchor="end" fill="#333">PHLDA1</text>
<text x="717.6" y="1552.5" font-size="10.9" text-anchor="end" fill="#333">PTP4A3</text>
<text x="717.6" y="1563" font-size="10.9" text-anchor="end" fill="#333">VWA5B2</text>
<text x="717.6" y="1573.6" font-size="10.9" text-anchor="end" fill="#333">SOX6</text>
<text x="717.6" y="1584.1" font-size="10.9" text-anchor="end" fill="#333">PLEKHB1</text>
<text x="717.6" y="1594.6" font-size="10.9" text-anchor="end" fill="#333">SESN3</text>
<text x="717.6" y="1605.2" font-size="10.9" text-anchor="end" fill="#333">ZNF608</text>
<text x="717.6" y="1615.7" font-size="10.9" text-anchor="end" fill="#333">HIST1H1A</text>
<text x="717.6" y="1626.2" font-size="10.9" text-anchor="end" fill="#333">HIST1H4C</text>
<text x="717.6" y="1636.8" font-size="10.9" text-anchor="end" fill="#333">RRM2</text>
<text x="717.6" y="1647.3" font-size="10.9" text-anchor="end" fill="#333">CDK1</text>
<text x="717.6" y="1657.9" font-size="10.9" text-anchor="end" fill="#333">TOP2A</text>
<text x="717.6" y="1668.4" font-size="10.9" text-anchor="end" fill="#333">ATAD2</text>
<text x="717.6" y="1678.9" font-size="10.9" text-anchor="end" fill="#333">SPC25</text>
<text x="717.6" y="1689.5" font-size="10.9" text-anchor="end" fill="#333">FEN1</text>
<text x="717.6" y="1700" font-size="10.9" text-anchor="end" fill="#333">MKI67</text>
<text x="717.6" y="1710.5" font-size="10.9" text-anchor="end" fill="#333">SPC24</text>
<text x="717.6" y="1721.1" font-size="10.9" text-anchor="end" fill="#333">NFE4</text>
<text x="717.6" y="1731.6" font-size="10.9" text-anchor="end" fill="#333">CRYBG1</text>
<text x="717.6" y="1742.1" font-size="10.9" text-anchor="end" fill="#333">SELENBP1</text>
<text x="717.6" y="1752.7" font-size="10.9" text-anchor="end" fill="#333">KLK6</text>
<text x="717.6" y="1763.2" font-size="10.9" text-anchor="end" fill="#333">RTBDN</text>
<text x="717.6" y="1773.8" font-size="10.9" text-anchor="end" fill="#333">TTC3</text>
<text x="717.6" y="1784.3" font-size="10.9" text-anchor="end" fill="#333">ID1</text>
<text x="717.6" y="1794.8" font-size="10.9" text-anchor="end" fill="#333">SNF8</text>
<text x="1276" y="1214.3" font-size="16.4">Identity</text>
<circle cx="1288.5" cy="1236.8" r="3.6" fill="#e41a1c"/>
<text x="1309.7" y="1241.6" font-size="13.4">0</text>
<circle cx="1288.5" cy="1263.2" r="3.6" fill="#377eb8"/>
<text x="1309.7" y="1268" font-size="13.4">1</text>
<circle cx="1288.5" cy="1289.6" r="3.6" fill="#4daf4a"/>
<text x="1309.7" y="1294.4" font-size="13.4">2</text>
<circle cx="1288.5" cy="1316" r="3.6" fill="#984ea3"/>
<text x="1309.7" y="1320.8" font-size="13.4">3</text>
<circle cx="1288.5" cy="1342.4" r="3.6" fill="#ff7f00"/>
<text x="1309.7" y="1347.2" font-size="13.4">4</text>
<circle cx="1288.5" cy="1368.8" r="3.6" fill="#ffff33"/>
<text x="1309.7" y="1373.6" font-size="13.4">5</text>
<circle cx="1288.5" cy="1395.2" r="3.6" fill="#a65628"/>
<text x="1309.7" y="1400" font-size="13.4">6</text>
<text x="1276" y="1454.4" font-size="16.4">Expression</text>
<defs><linearGradient id="gF" x1="0" y1="0" x2="0" y2="1">
<stop offset="0.000" stop-color="#f6eeea"/>
<stop offset="0.100" stop-color="#e6d2c0"/>
<stop offset="0.200" stop-color="#cbb99c"/>
<stop offset="0.300" stop-color="#a9a98f"/>
<stop offset="0.400" stop-color="#7c9f9c"/>
<stop offset="0.500" stop-color="#5e96aa"/>
<stop offset="0.600" stop-color="#4a7cab"/>
<stop offset="0.700" stop-color="#3c5d9c"/>
<stop offset="0.800" stop-color="#2d3f8a"/>
<stop offset="0.900" stop-color="#22247a"/>
<stop offset="1.000" stop-color="#1a1470"/>
</linearGradient></defs>
<rect x="1275.6" y="1464.6" width="26" height="131" fill="url(#gF)"/>
<line x1="1275.6" y1="1477.5" x2="1280.8" y2="1477.5" stroke="#fff" stroke-width="0.8" opacity=".7"/>
<line x1="1296.4" y1="1477.5" x2="1301.6" y2="1477.5" stroke="#fff" stroke-width="0.8" opacity=".7"/>
<text x="1309.7" y="1482.3" font-size="13.4">2</text>
<line x1="1275.6" y1="1503.8" x2="1280.8" y2="1503.8" stroke="#fff" stroke-width="0.8" opacity=".7"/>
<line x1="1296.4" y1="1503.8" x2="1301.6" y2="1503.8" stroke="#fff" stroke-width="0.8" opacity=".7"/>
<text x="1309.7" y="1508.5" font-size="13.4">1</text>
<line x1="1275.6" y1="1530" x2="1280.8" y2="1530" stroke="#fff" stroke-width="0.8" opacity=".7"/>
<line x1="1296.4" y1="1530" x2="1301.6" y2="1530" stroke="#fff" stroke-width="0.8" opacity=".7"/>
<text x="1309.7" y="1534.8" font-size="13.4">0</text>
<line x1="1275.6" y1="1556.2" x2="1280.8" y2="1556.2" stroke="#fff" stroke-width="0.8" opacity=".7"/>
<line x1="1296.4" y1="1556.2" x2="1301.6" y2="1556.2" stroke="#fff" stroke-width="0.8" opacity=".7"/>
<text x="1309.7" y="1561" font-size="13.4">&#8722;1</text>
<line x1="1275.6" y1="1582.5" x2="1280.8" y2="1582.5" stroke="#fff" stroke-width="0.8" opacity=".7"/>
<line x1="1296.4" y1="1582.5" x2="1301.6" y2="1582.5" stroke="#fff" stroke-width="0.8" opacity=".7"/>
<text x="1309.7" y="1587.3" font-size="13.4">&#8722;2</text>
<text x="1374.9" y="1023" font-size="39" font-weight="bold">g</text>
<text x="1642.9" y="1041" font-size="19.5" text-anchor="middle">UT</text>
<path d="M1678.9 1356.1h0M1744.1 1337.8h0M1698.5 1366h0M1634.9 1313.9h0M1793.3 1307.3h0M1705 1329.1h0M1684.1 1356.3h0M1782.2 1337.1h0M1626.6 1333.7h0M1791.6 1325.3h0M1685.1 1377.8h0M1775.6 1309.6h0M1709.8 1333.4h0M1683.2 1318.5h0M1724.6 1306.9h0M1668.1 1348.3h0M1679.4 1363.5h0M1769.4 1325.2h0M1706.2 1343.4h0M1676.6 1340.1h0M1784.1 1333.6h0M1716.3 1354.6h0M1760 1343.9h0M1645 1314.5h0M1665.5 1328.4h0M1717.2 1371.1h0M1764.4 1317.1h0M1678.5 1317.6h0M1767.7 1343h0M1660.7 1324.1h0M1671.9 1351.3h0M1725.7 1348.7h0M1697.2 1299.7h0M1757.9 1316.6h0M1660.1 1344.3h0M1781.1 1313.6h0M1732.8 1308.2h0M1689.8 1307.7h0M1709.6 1378.1h0M1696 1329.8h0M1789.7 1349.5h0M1714.9 1320.2h0M1800.8 1316.7h0M1733.1 1347.9h0M1705.6 1356h0M1704.9 1320.4h0M1709.1 1315.1h0M1776.2 1338.7h0M1745.6 1356.3h0M1753.4 1320.1h0M1738.6 1351.2h0M1772.6 1353.1h0M1725.4 1323.1h0M1776.8 1357.5h0M1790.4 1320.9h0M1706.1 1325.4h0M1667 1332.6h0M1704.5 1378.1h0M1681.1 1306.2h0M1656.1 1317.2h0M1723.2 1374.4h0M1717.3 1299.4h0M1701.7 1323.8h0M1662.7 1333.5h0M1769.3 1361.6h0M1679.6 1311.3h0M1674.5 1364.1h0M1684.1 1322.7h0M1696.7 1375.9h0M1685.8 1350.2h0M1665.1 1305.7h0M1699.8 1345.9h0M1749.5 1357.8h0M1731.8 1338.1h0M1725.5 1352.6h0M1696.8 1341.9h0M1660.2 1350h0M1730.5 1375.5h0M1780.1 1324.4h0M1732.9 1302.2h0M1718 1339.9h0M1688.9 1345.3h0M1747.9 1315.9h0M1802.1 1324.9h0M1715.4 1361.6h0M1630.7 1326.3h0M1630.8 1321.1h0M1685.6 1309.7h0M1674 1304.1h0M1708.9 1364.7h0M1764.5 1336.7h0M1754.7 1367h0M1670.7 1302.2h0M1753.3 1330.4h0M1718.9 1333.9h0M1643.7 1306.8h0M1739.5 1319.6h0M1751.9 1363.1h0M1636.6 1317.5h0M1706.5 1307.1h0M1711.9 1310.8h0M1786.5 1309.9h0M1759.6 1330.4h0M1751.9 1333.9h0M1743 1326.1h0M1618.4 1323.5h0M1747.1 1320.6h0M1761.2 1320h0M1711.4 1354.2h0M1682.2 1332.6h0M1720.8 1312.2h0M1636.8 1334.9h0M1739.5 1339.3h0M1783.2 1346.9h0M1739.5 1375.4h0M1790.6 1316.6h0M1713.4 1329.2h0M1759.8 1358.3h0M1671.5 1358.6h0M1690.3 1375.8h0M1690.3 1302.6h0M1719.3 1347.8h0M1699 1303.4h0M1693.2 1320h0M1671.4 1319h0M1773.3 1348.2h0M1764.5 1358.5h0M1651 1335.4h0M1742.5 1342h0M1653.2 1311.4h0M1793.9 1338h0M1669 1326.7h0M1754.6 1324.8h0M1780.9 1359.7h0M1738.7 1343.6h0M1665.2 1339.6h0M1644.5 1339h0M1644.9 1324.1h0M1674.5 1354.3h0M1702.8 1333.2h0M1764.6 1347.8h0M1656.4 1346.9h0M1725.7 1342.5h0M1736.1 1371.7h0M1781.8 1355.7h0M1731.7 1354.8h0M1703.6 1315.1h0M1682 1326.8h0M1709.2 1339.6h0M1649.1 1316.4h0M1684.7 1369.2h0M1744.4 1330.4h0M1662.2 1354.6h0" stroke="#edcdd1" stroke-width="4.3" stroke-linecap="round" fill="none"/>
<path d="M1737.4 1361.6h0M1713.2 1219.9h0M1705.6 1202h0M1626.5 1190.9h0M1702.1 1209.6h0M1734.6 1196.8h0M1629.6 1188.9h0M1733.9 1214.1h0M1707.3 1211.7h0" stroke="#d2dfec" stroke-width="4.3" stroke-linecap="round" fill="none"/>
<path d="M1679.7 1088h0M1610.6 1103.5h0M1655.8 1094.9h0M1684.9 1065.5h0M1713.2 1082.8h0M1718.4 1218.2h0M1695.6 1076.6h0M1609.6 1121.8h0M1729.4 1261.4h0M1749.1 1228.6h0M1661.4 1082.8h0M1642 1122.5h0M1705.9 1079.4h0M1637.9 1119.4h0M1656.9 1070h0M1727 1241.7h0" stroke="#d6e9d4" stroke-width="4.3" stroke-linecap="round" fill="none"/>
<path d="M1791.8 1203.2h0M1617.2 1076.6h0M1782.3 1177.8h0M1774.2 1274.2h0M1784.4 1232.6h0M1804.7 1266.2h0M1807.1 1318h0M1661.4 1344.6h0M1762.2 1288.3h0M1806.9 1242.4h0M1767.9 1223.6h0M1818.3 1283.1h0M1803 1225h0M1767.4 1234.6h0M1780.9 1256.9h0M1819.4 1259.1h0M1784.2 1224.9h0M1770 1243.8h0M1784.8 1191.2h0M1822 1247.3h0M1803.8 1230.6h0M1753 1230.8h0M1754.2 1261.4h0M1786.1 1220.4h0M1782 1216h0M1807.9 1274.2h0M1770.2 1190.4h0M1788.3 1246.2h0M1799.9 1279.1h0M1809.7 1239.2h0M1636.2 1076.6h0M1803.3 1293.9h0M1795.9 1223h0M1731.1 1246.9h0M1796.4 1252.9h0M1814.8 1237.2h0M1777 1179.6h0M1809.6 1246.3h0M1776.9 1254.5h0M1806.6 1278.5h0M1801.7 1270.3h0M1812.5 1280.9h0M1822 1241.6h0M1806.7 1270.4h0M1794.1 1212.8h0M1785 1183.9h0M1762.8 1213.4h0M1779.6 1196.2h0M1802.7 1329.8h0M1628.2 1075.9h0M1759.9 1225.1h0M1818.7 1274.3h0M1773.6 1260.1h0M1824.4 1268h0M1816.1 1249.6h0M1764.7 1226.3h0M1740.5 1208.2h0M1749.5 1295.2h0M1789.1 1210.8h0M1767.4 1196.3h0M1780.8 1204.9h0M1758.5 1273.6h0M1819.3 1237.2h0M1768.4 1230.6h0M1782.1 1244.4h0M1801 1253h0M1808.7 1252.3h0M1796.5 1292.7h0M1758.7 1237h0M1798.8 1274.3h0M1756.9 1256.8h0M1816.3 1255h0M1771.1 1267.2h0M1769.1 1312.5h0M1803.3 1219.7h0M1764.2 1237.1h0M1762.9 1199.7h0M1796.4 1245h0" stroke="#e0d4e6" stroke-width="4.3" stroke-linecap="round" fill="none"/>
<path d="M1585.4 1255.5h0M1642.4 1303.9h0M1583.7 1251h0" stroke="#f0dcc9" stroke-width="4.3" stroke-linecap="round" fill="none"/>
<path d="M1700.4 1125h0M1699.4 1274.9h0M1686.9 1122.9h0M1769.1 1133.9h0M1674.5 1283.8h0M1722.9 1128.4h0" stroke="#f0f0d2" stroke-width="4.3" stroke-linecap="round" fill="none"/>
<g stroke="#000" stroke-width="1"><circle cx="1680.2" cy="1129.9" r="3.7" fill="#4a87c4"/><circle cx="1566.2" cy="1102.2" r="3.7" fill="#ad5a2f"/><circle cx="1698.1" cy="1119.8" r="3.7" fill="#f3f542"/><circle cx="1682.4" cy="1177.4" r="3.7" fill="#4a87c4"/><circle cx="1568.4" cy="1128.7" r="3.7" fill="#ad5a2f"/><circle cx="1654.4" cy="1117.5" r="3.7" fill="#5bbd4e"/><circle cx="1721.4" cy="1123.4" r="3.7" fill="#f3f542"/><circle cx="1568.8" cy="1121" r="3.7" fill="#ad5a2f"/><circle cx="1753.4" cy="1209.3" r="3.7" fill="#9c4db0"/><circle cx="1718.4" cy="1129.4" r="3.7" fill="#f3f542"/><circle cx="1648" cy="1122.1" r="3.7" fill="#5bbd4e"/><circle cx="1695.4" cy="1190" r="3.7" fill="#4a87c4"/><circle cx="1643.5" cy="1285.1" r="3.7" fill="#f07f22"/><circle cx="1558.5" cy="1109.6" r="3.7" fill="#ad5a2f"/><circle cx="1692.8" cy="1144.7" r="3.7" fill="#4a87c4"/><circle cx="1725.7" cy="1362.5" r="3.7" fill="#e8231f"/><circle cx="1676.4" cy="1091.9" r="3.7" fill="#4a87c4"/><circle cx="1697.9" cy="1084" r="3.7" fill="#5bbd4e"/><circle cx="1721.2" cy="1078.8" r="3.7" fill="#5bbd4e"/><circle cx="1604.6" cy="1240.5" r="3.7" fill="#f07f22"/><circle cx="1594.5" cy="1088.4" r="3.7" fill="#ad5a2f"/><circle cx="1675.8" cy="1136.9" r="3.7" fill="#4a87c4"/><circle cx="1660.9" cy="1076.8" r="3.7" fill="#5bbd4e"/><circle cx="1628.2" cy="1226.6" r="3.7" fill="#4a87c4"/><circle cx="1758.4" cy="1126.6" r="3.7" fill="#f3f542"/><circle cx="1734.8" cy="1153" r="3.7" fill="#4a87c4"/><circle cx="1613.9" cy="1184.4" r="3.7" fill="#4a87c4"/><circle cx="1644.5" cy="1110" r="3.7" fill="#5bbd4e"/><circle cx="1646.1" cy="1127.4" r="3.7" fill="#5bbd4e"/><circle cx="1756.9" cy="1155.9" r="3.7" fill="#f3f542"/><circle cx="1627.3" cy="1179.7" r="3.7" fill="#4a87c4"/><circle cx="1760.1" cy="1135.3" r="3.7" fill="#f3f542"/><circle cx="1596.4" cy="1268.8" r="3.7" fill="#f07f22"/><circle cx="1729.3" cy="1117.2" r="3.7" fill="#f3f542"/><circle cx="1659.7" cy="1112.4" r="3.7" fill="#5bbd4e"/><circle cx="1579.6" cy="1167.4" r="3.7" fill="#5bbd4e"/><circle cx="1597.1" cy="1259" r="3.7" fill="#f07f22"/><circle cx="1578.1" cy="1093.4" r="3.7" fill="#ad5a2f"/><circle cx="1751" cy="1191.4" r="3.7" fill="#9c4db0"/><circle cx="1602.5" cy="1189.1" r="3.7" fill="#4a87c4"/><circle cx="1697.9" cy="1059.8" r="3.7" fill="#5bbd4e"/><circle cx="1578.9" cy="1218.4" r="3.7" fill="#f07f22"/><circle cx="1692.5" cy="1155.5" r="3.7" fill="#4a87c4"/><circle cx="1643.5" cy="1266.2" r="3.7" fill="#f07f22"/><circle cx="1607.7" cy="1195.6" r="3.7" fill="#4a87c4"/><circle cx="1666.7" cy="1126.7" r="3.7" fill="#5bbd4e"/><circle cx="1610.2" cy="1128.4" r="3.7" fill="#5bbd4e"/><circle cx="1610.1" cy="1082.2" r="3.7" fill="#5bbd4e"/><circle cx="1602.7" cy="1200.7" r="3.7" fill="#4a87c4"/><circle cx="1603.1" cy="1244.3" r="3.7" fill="#f07f22"/><circle cx="1664" cy="1170.3" r="3.7" fill="#4a87c4"/><circle cx="1589.8" cy="1261.9" r="3.7" fill="#f07f22"/><circle cx="1630.4" cy="1192.9" r="3.7" fill="#4a87c4"/><circle cx="1598" cy="1250.1" r="3.7" fill="#f07f22"/><circle cx="1651.5" cy="1112.1" r="3.7" fill="#5bbd4e"/><circle cx="1605.9" cy="1229.2" r="3.7" fill="#f07f22"/><circle cx="1640.7" cy="1103.5" r="3.7" fill="#5bbd4e"/><circle cx="1687.6" cy="1174.4" r="3.7" fill="#4a87c4"/><circle cx="1580.3" cy="1241.6" r="3.7" fill="#f07f22"/><circle cx="1702.4" cy="1190.7" r="3.7" fill="#4a87c4"/><circle cx="1586.6" cy="1266.6" r="3.7" fill="#f07f22"/><circle cx="1691.9" cy="1069.4" r="3.7" fill="#5bbd4e"/><circle cx="1616" cy="1153.5" r="3.7" fill="#5bbd4e"/><circle cx="1613.5" cy="1210.2" r="3.7" fill="#4a87c4"/><circle cx="1638.2" cy="1332.2" r="3.7" fill="#e8231f"/><circle cx="1585" cy="1162.3" r="3.7" fill="#5bbd4e"/><circle cx="1589.5" cy="1234.4" r="3.7" fill="#f07f22"/><circle cx="1717.5" cy="1108.2" r="3.7" fill="#f3f542"/><circle cx="1670.5" cy="1118.5" r="3.7" fill="#4a87c4"/><circle cx="1709.2" cy="1150.8" r="3.7" fill="#4a87c4"/><circle cx="1714.5" cy="1179.2" r="3.7" fill="#4a87c4"/><circle cx="1619.3" cy="1133.1" r="3.7" fill="#5bbd4e"/><circle cx="1585.9" cy="1299.2" r="3.7" fill="#f07f22"/><circle cx="1581.5" cy="1270.1" r="3.7" fill="#f07f22"/><circle cx="1615.9" cy="1195.6" r="3.7" fill="#4a87c4"/><circle cx="1706.1" cy="1361.6" r="3.7" fill="#e8231f"/><circle cx="1650.1" cy="1191.8" r="3.7" fill="#4a87c4"/><circle cx="1623.2" cy="1235.9" r="3.7" fill="#4a87c4"/><circle cx="1700.5" cy="1195" r="3.7" fill="#4a87c4"/><circle cx="1708.5" cy="1077.3" r="3.7" fill="#5bbd4e"/><circle cx="1748.6" cy="1155.1" r="3.7" fill="#f3f542"/><circle cx="1700.1" cy="1349.6" r="3.7" fill="#e8231f"/><circle cx="1671" cy="1080.2" r="3.7" fill="#5bbd4e"/><circle cx="1699.3" cy="1077.2" r="3.7" fill="#5bbd4e"/><circle cx="1743.6" cy="1341.8" r="3.7" fill="#e8231f"/><circle cx="1709.8" cy="1361.5" r="3.7" fill="#e8231f"/><circle cx="1566.1" cy="1113.6" r="3.7" fill="#ad5a2f"/><circle cx="1612.1" cy="1136" r="3.7" fill="#5bbd4e"/><circle cx="1548" cy="1126.7" r="3.7" fill="#ad5a2f"/><circle cx="1708.1" cy="1080.9" r="3.7" fill="#5bbd4e"/><circle cx="1734.4" cy="1338.2" r="3.7" fill="#e8231f"/><circle cx="1673.5" cy="1314.6" r="3.7" fill="#e8231f"/><circle cx="1646.7" cy="1165.8" r="3.7" fill="#4a87c4"/><circle cx="1700.4" cy="1072.1" r="3.7" fill="#5bbd4e"/><circle cx="1643.4" cy="1305.5" r="3.7" fill="#e8231f"/><circle cx="1593.8" cy="1273.3" r="3.7" fill="#f07f22"/><circle cx="1660.3" cy="1223.7" r="3.7" fill="#4a87c4"/><circle cx="1658.3" cy="1202" r="3.7" fill="#4a87c4"/><circle cx="1652.5" cy="1290.6" r="3.7" fill="#f07f22"/><circle cx="1688.3" cy="1321" r="3.7" fill="#e8231f"/><circle cx="1748.9" cy="1186.2" r="3.7" fill="#9c4db0"/><circle cx="1598.5" cy="1144.6" r="3.7" fill="#5bbd4e"/><circle cx="1705" cy="1064" r="3.7" fill="#5bbd4e"/><circle cx="1588.3" cy="1157.9" r="3.7" fill="#5bbd4e"/><circle cx="1689.1" cy="1188.6" r="3.7" fill="#4a87c4"/><circle cx="1725.3" cy="1141" r="3.7" fill="#f3f542"/><circle cx="1672.7" cy="1155.2" r="3.7" fill="#4a87c4"/><circle cx="1764.7" cy="1126.7" r="3.7" fill="#f3f542"/><circle cx="1619.4" cy="1108.3" r="3.7" fill="#5bbd4e"/><circle cx="1705.1" cy="1089.2" r="3.7" fill="#5bbd4e"/><circle cx="1616.2" cy="1178.4" r="3.7" fill="#4a87c4"/><circle cx="1730.3" cy="1105.2" r="3.7" fill="#f3f542"/><circle cx="1591.1" cy="1154.5" r="3.7" fill="#5bbd4e"/><circle cx="1595.6" cy="1262.5" r="3.7" fill="#f07f22"/><circle cx="1626.5" cy="1324.3" r="3.7" fill="#e8231f"/><circle cx="1644.2" cy="1195.3" r="3.7" fill="#4a87c4"/><circle cx="1659.8" cy="1328.1" r="3.7" fill="#e8231f"/><circle cx="1672.6" cy="1211.4" r="3.7" fill="#4a87c4"/><circle cx="1710" cy="1119.4" r="3.7" fill="#f3f542"/><circle cx="1607.8" cy="1277.3" r="3.7" fill="#f07f22"/><circle cx="1580.2" cy="1186.6" r="3.7" fill="#5bbd4e"/><circle cx="1702" cy="1180.3" r="3.7" fill="#4a87c4"/><circle cx="1681.8" cy="1063.2" r="3.7" fill="#5bbd4e"/><circle cx="1591.4" cy="1252.1" r="3.7" fill="#f07f22"/><circle cx="1694.9" cy="1358.2" r="3.7" fill="#e8231f"/><circle cx="1601.1" cy="1151.2" r="3.7" fill="#5bbd4e"/><circle cx="1600.2" cy="1279" r="3.7" fill="#f07f22"/><circle cx="1635.4" cy="1325.2" r="3.7" fill="#e8231f"/><circle cx="1660.8" cy="1072.5" r="3.7" fill="#5bbd4e"/><circle cx="1629.3" cy="1273.3" r="3.7" fill="#f07f22"/><circle cx="1736.8" cy="1191" r="3.7" fill="#9c4db0"/><circle cx="1631.2" cy="1123.5" r="3.7" fill="#5bbd4e"/><circle cx="1603.6" cy="1162.9" r="3.7" fill="#5bbd4e"/><circle cx="1640.1" cy="1139.9" r="3.7" fill="#5bbd4e"/><circle cx="1665.3" cy="1134.9" r="3.7" fill="#5bbd4e"/><circle cx="1736.9" cy="1347.5" r="3.7" fill="#e8231f"/><circle cx="1709.6" cy="1123.9" r="3.7" fill="#f3f542"/><circle cx="1736.5" cy="1100.6" r="3.7" fill="#f3f542"/><circle cx="1550.5" cy="1095" r="3.7" fill="#ad5a2f"/><circle cx="1604.1" cy="1149.1" r="3.7" fill="#5bbd4e"/><circle cx="1604.7" cy="1284.6" r="3.7" fill="#f07f22"/><circle cx="1606.5" cy="1174.5" r="3.7" fill="#5bbd4e"/><circle cx="1573" cy="1125.5" r="3.7" fill="#ad5a2f"/><circle cx="1611.7" cy="1257.9" r="3.7" fill="#f07f22"/><circle cx="1689.2" cy="1159.2" r="3.7" fill="#4a87c4"/><circle cx="1687.2" cy="1067.8" r="3.7" fill="#5bbd4e"/><circle cx="1563.2" cy="1106.9" r="3.7" fill="#ad5a2f"/><circle cx="1654.6" cy="1161.6" r="3.7" fill="#4a87c4"/><circle cx="1668.7" cy="1208.1" r="3.7" fill="#4a87c4"/><circle cx="1623.8" cy="1201.9" r="3.7" fill="#4a87c4"/><circle cx="1663.8" cy="1085.8" r="3.7" fill="#5bbd4e"/><circle cx="1738.1" cy="1369.9" r="3.7" fill="#e8231f"/><circle cx="1719.1" cy="1096.7" r="3.7" fill="#f3f542"/><circle cx="1596.9" cy="1309.5" r="3.7" fill="#f07f22"/><circle cx="1606.8" cy="1268.8" r="3.7" fill="#f07f22"/><circle cx="1625.9" cy="1257.9" r="3.7" fill="#f07f22"/><circle cx="1708.5" cy="1204.3" r="3.7" fill="#4a87c4"/><circle cx="1642.4" cy="1200.7" r="3.7" fill="#4a87c4"/><circle cx="1614.9" cy="1129.1" r="3.7" fill="#5bbd4e"/><circle cx="1651.6" cy="1295.3" r="3.7" fill="#f07f22"/><circle cx="1612.1" cy="1291.2" r="3.7" fill="#f07f22"/><circle cx="1622.5" cy="1286.7" r="3.7" fill="#f07f22"/><circle cx="1704.7" cy="1121.1" r="3.7" fill="#f3f542"/><circle cx="1732" cy="1176.5" r="3.7" fill="#9c4db0"/><circle cx="1710.2" cy="1163.1" r="3.7" fill="#4a87c4"/><circle cx="1598.5" cy="1134.1" r="3.7" fill="#5bbd4e"/><circle cx="1608" cy="1243" r="3.7" fill="#f07f22"/><circle cx="1548" cy="1118.2" r="3.7" fill="#ad5a2f"/><circle cx="1629.2" cy="1287" r="3.7" fill="#f07f22"/><circle cx="1688.6" cy="1213.7" r="3.7" fill="#4a87c4"/><circle cx="1657.7" cy="1271.5" r="3.7" fill="#f07f22"/><circle cx="1716" cy="1094.3" r="3.7" fill="#f3f542"/><circle cx="1575.3" cy="1109.5" r="3.7" fill="#ad5a2f"/><circle cx="1625.7" cy="1276.2" r="3.7" fill="#f07f22"/><circle cx="1684.5" cy="1079.5" r="3.7" fill="#5bbd4e"/><circle cx="1722.1" cy="1148.6" r="3.7" fill="#f3f542"/><circle cx="1791.4" cy="1185.2" r="3.7" fill="#9c4db0"/><circle cx="1619.6" cy="1125.7" r="3.7" fill="#5bbd4e"/><circle cx="1571" cy="1220.6" r="3.7" fill="#f07f22"/><circle cx="1652.9" cy="1340.8" r="3.7" fill="#e8231f"/><circle cx="1716.5" cy="1201" r="3.7" fill="#4a87c4"/><circle cx="1611.2" cy="1316.7" r="3.7" fill="#e8231f"/><circle cx="1709.6" cy="1188" r="3.7" fill="#4a87c4"/><circle cx="1743.1" cy="1188.6" r="3.7" fill="#9c4db0"/><circle cx="1708.4" cy="1342.1" r="3.7" fill="#e8231f"/><circle cx="1654.1" cy="1076.2" r="3.7" fill="#5bbd4e"/><circle cx="1626.1" cy="1265.9" r="3.7" fill="#f07f22"/><circle cx="1634" cy="1273.1" r="3.7" fill="#f07f22"/><circle cx="1714.8" cy="1080.7" r="3.7" fill="#5bbd4e"/><circle cx="1596.3" cy="1223.4" r="3.7" fill="#f07f22"/><circle cx="1595.7" cy="1286.6" r="3.7" fill="#f07f22"/><circle cx="1687" cy="1105" r="3.7" fill="#f3f542"/><circle cx="1603.2" cy="1173" r="3.7" fill="#5bbd4e"/><circle cx="1596.3" cy="1084" r="3.7" fill="#ad5a2f"/><circle cx="1591.9" cy="1126.1" r="3.7" fill="#5bbd4e"/><circle cx="1643.9" cy="1115.8" r="3.7" fill="#5bbd4e"/><circle cx="1580.6" cy="1089.4" r="3.7" fill="#ad5a2f"/><circle cx="1648.9" cy="1185.4" r="3.7" fill="#4a87c4"/><circle cx="1672.2" cy="1238.7" r="3.7" fill="#4a87c4"/><circle cx="1647.3" cy="1219.4" r="3.7" fill="#4a87c4"/><circle cx="1572.8" cy="1232.7" r="3.7" fill="#f07f22"/><circle cx="1588.3" cy="1283.7" r="3.7" fill="#f07f22"/><circle cx="1568.6" cy="1094" r="3.7" fill="#ad5a2f"/><circle cx="1606.7" cy="1217.2" r="3.7" fill="#f07f22"/><circle cx="1727.6" cy="1371.1" r="3.7" fill="#e8231f"/><circle cx="1572.4" cy="1224.4" r="3.7" fill="#f07f22"/><circle cx="1697.6" cy="1127.9" r="3.7" fill="#f3f542"/><circle cx="1592" cy="1121.7" r="3.7" fill="#5bbd4e"/><circle cx="1624.8" cy="1223.9" r="3.7" fill="#4a87c4"/><circle cx="1693" cy="1117.7" r="3.7" fill="#f3f542"/><circle cx="1635.2" cy="1217.1" r="3.7" fill="#4a87c4"/><circle cx="1591.9" cy="1244.1" r="3.7" fill="#f07f22"/><circle cx="1577.8" cy="1101.6" r="3.7" fill="#ad5a2f"/><circle cx="1601.8" cy="1214.6" r="3.7" fill="#f07f22"/><circle cx="1642.9" cy="1231.7" r="3.7" fill="#4a87c4"/><circle cx="1644.7" cy="1210" r="3.7" fill="#4a87c4"/><circle cx="1594.4" cy="1235.4" r="3.7" fill="#f07f22"/><circle cx="1691.6" cy="1204.4" r="3.7" fill="#4a87c4"/><circle cx="1726.3" cy="1132.1" r="3.7" fill="#f3f542"/><circle cx="1645.4" cy="1293.2" r="3.7" fill="#f07f22"/><circle cx="1716" cy="1135.7" r="3.7" fill="#f3f542"/><circle cx="1678.8" cy="1083.9" r="3.7" fill="#5bbd4e"/><circle cx="1581.4" cy="1231.9" r="3.7" fill="#f07f22"/><circle cx="1720.9" cy="1132.5" r="3.7" fill="#f3f542"/><circle cx="1679.2" cy="1174.7" r="3.7" fill="#4a87c4"/><circle cx="1550.9" cy="1103.4" r="3.7" fill="#ad5a2f"/><circle cx="1675.7" cy="1064.3" r="3.7" fill="#5bbd4e"/><circle cx="1653.1" cy="1171" r="3.7" fill="#4a87c4"/><circle cx="1713.7" cy="1110.3" r="3.7" fill="#f3f542"/><circle cx="1574.9" cy="1220.2" r="3.7" fill="#f07f22"/><circle cx="1682.4" cy="1215.9" r="3.7" fill="#4a87c4"/><circle cx="1630.4" cy="1310.8" r="3.7" fill="#e8231f"/><circle cx="1583.2" cy="1178.2" r="3.7" fill="#5bbd4e"/><circle cx="1625.3" cy="1189.3" r="3.7" fill="#4a87c4"/><circle cx="1663.1" cy="1212" r="3.7" fill="#4a87c4"/><circle cx="1614.7" cy="1114.1" r="3.7" fill="#5bbd4e"/><circle cx="1621.2" cy="1184.2" r="3.7" fill="#4a87c4"/><circle cx="1686" cy="1140.4" r="3.7" fill="#4a87c4"/><circle cx="1655.7" cy="1168.2" r="3.7" fill="#4a87c4"/><circle cx="1632.6" cy="1177.7" r="3.7" fill="#4a87c4"/><circle cx="1685.9" cy="1170.2" r="3.7" fill="#4a87c4"/><circle cx="1636" cy="1104" r="3.7" fill="#4a87c4"/><circle cx="1741.1" cy="1122.6" r="3.7" fill="#f3f542"/><circle cx="1657.7" cy="1189.1" r="3.7" fill="#4a87c4"/><circle cx="1677.7" cy="1150.6" r="3.7" fill="#4a87c4"/><circle cx="1666.7" cy="1161.9" r="3.7" fill="#4a87c4"/><circle cx="1557.3" cy="1128.6" r="3.7" fill="#ad5a2f"/><circle cx="1615" cy="1247.2" r="3.7" fill="#f07f22"/><circle cx="1611.1" cy="1220.7" r="3.7" fill="#4a87c4"/><circle cx="1748.8" cy="1140.9" r="3.7" fill="#f3f542"/><circle cx="1671.3" cy="1351" r="3.7" fill="#e8231f"/><circle cx="1691.4" cy="1355.4" r="3.7" fill="#e8231f"/><circle cx="1604.1" cy="1177.7" r="3.7" fill="#5bbd4e"/><circle cx="1619.3" cy="1309.1" r="3.7" fill="#e8231f"/><circle cx="1692.4" cy="1168.9" r="3.7" fill="#4a87c4"/><circle cx="1682.7" cy="1205.1" r="3.7" fill="#4a87c4"/><circle cx="1560" cy="1095.7" r="3.7" fill="#ad5a2f"/><circle cx="1571.5" cy="1090.9" r="3.7" fill="#ad5a2f"/><circle cx="1688.9" cy="1193.5" r="3.7" fill="#4a87c4"/><circle cx="1616.3" cy="1085" r="3.7" fill="#5bbd4e"/><circle cx="1635.4" cy="1319.1" r="3.7" fill="#e8231f"/><circle cx="1608.3" cy="1183.7" r="3.7" fill="#4a87c4"/><circle cx="1676.8" cy="1170.3" r="3.7" fill="#4a87c4"/><circle cx="1675" cy="1196.4" r="3.7" fill="#4a87c4"/><circle cx="1733.3" cy="1117.7" r="3.7" fill="#f3f542"/><circle cx="1772.5" cy="1150.2" r="3.7" fill="#f3f542"/><circle cx="1587" cy="1134.8" r="3.7" fill="#5bbd4e"/><circle cx="1582.8" cy="1246.8" r="3.7" fill="#f07f22"/><circle cx="1578.4" cy="1149.4" r="3.7" fill="#5bbd4e"/><circle cx="1689.4" cy="1328.5" r="3.7" fill="#e8231f"/><circle cx="1670.1" cy="1087.7" r="3.7" fill="#5bbd4e"/><circle cx="1729.2" cy="1284.3" r="3.7" fill="#4a87c4"/><circle cx="1756.8" cy="1121.9" r="3.7" fill="#f3f542"/><circle cx="1702.2" cy="1081.8" r="3.7" fill="#5bbd4e"/><circle cx="1607.9" cy="1208" r="3.7" fill="#4a87c4"/><circle cx="1671.1" cy="1146.8" r="3.7" fill="#4a87c4"/><circle cx="1720.1" cy="1114.8" r="3.7" fill="#f3f542"/><circle cx="1597.7" cy="1126.5" r="3.7" fill="#5bbd4e"/><circle cx="1548.5" cy="1123" r="3.7" fill="#ad5a2f"/><circle cx="1573.5" cy="1095.4" r="3.7" fill="#ad5a2f"/><circle cx="1719.1" cy="1186.9" r="3.7" fill="#4a87c4"/><circle cx="1706.6" cy="1176.5" r="3.7" fill="#4a87c4"/><circle cx="1772.8" cy="1191" r="3.7" fill="#9c4db0"/><circle cx="1654.4" cy="1286.2" r="3.7" fill="#f07f22"/><circle cx="1640.9" cy="1191.8" r="3.7" fill="#4a87c4"/><circle cx="1738" cy="1109.2" r="3.7" fill="#f3f542"/><circle cx="1642.2" cy="1231.8" r="3.7" fill="#4a87c4"/><circle cx="1632.4" cy="1166.5" r="3.7" fill="#4a87c4"/><circle cx="1675.5" cy="1326.3" r="3.7" fill="#e8231f"/><circle cx="1606.3" cy="1312.4" r="3.7" fill="#e8231f"/><circle cx="1715.7" cy="1100.3" r="3.7" fill="#f3f542"/><circle cx="1697.2" cy="1203.6" r="3.7" fill="#4a87c4"/><circle cx="1592.4" cy="1265.7" r="3.7" fill="#f07f22"/><circle cx="1679.7" cy="1145.5" r="3.7" fill="#4a87c4"/><circle cx="1709.1" cy="1156.9" r="3.7" fill="#4a87c4"/><circle cx="1688" cy="1146.5" r="3.7" fill="#4a87c4"/><circle cx="1691.4" cy="1184.1" r="3.7" fill="#4a87c4"/><circle cx="1690.8" cy="1199.3" r="3.7" fill="#4a87c4"/><circle cx="1747" cy="1123.7" r="3.7" fill="#f3f542"/><circle cx="1559.2" cy="1102" r="3.7" fill="#ad5a2f"/><circle cx="1621" cy="1178" r="3.7" fill="#4a87c4"/><circle cx="1578.9" cy="1214.7" r="3.7" fill="#f07f22"/><circle cx="1666.4" cy="1192.8" r="3.7" fill="#4a87c4"/><circle cx="1650.1" cy="1140" r="3.7" fill="#5bbd4e"/><circle cx="1693" cy="1099.1" r="3.7" fill="#f3f542"/><circle cx="1582.3" cy="1165" r="3.7" fill="#5bbd4e"/><circle cx="1584.1" cy="1252.9" r="3.7" fill="#f07f22"/><circle cx="1768.4" cy="1147.2" r="3.7" fill="#f3f542"/><circle cx="1764.5" cy="1137.7" r="3.7" fill="#f3f542"/><circle cx="1702.3" cy="1145.2" r="3.7" fill="#4a87c4"/><circle cx="1766.8" cy="1133.9" r="3.7" fill="#f3f542"/><circle cx="1709.4" cy="1097.1" r="3.7" fill="#f3f542"/><circle cx="1609.5" cy="1192.1" r="3.7" fill="#4a87c4"/><circle cx="1641.9" cy="1185.5" r="3.7" fill="#4a87c4"/><circle cx="1648.4" cy="1160" r="3.7" fill="#4a87c4"/><circle cx="1718.3" cy="1103.3" r="3.7" fill="#f3f542"/><circle cx="1688.7" cy="1114.8" r="3.7" fill="#f3f542"/><circle cx="1651.9" cy="1205.8" r="3.7" fill="#4a87c4"/><circle cx="1709.8" cy="1179.2" r="3.7" fill="#4a87c4"/><circle cx="1624" cy="1111.5" r="3.7" fill="#5bbd4e"/><circle cx="1646.2" cy="1271.7" r="3.7" fill="#f07f22"/><circle cx="1600.3" cy="1170.1" r="3.7" fill="#5bbd4e"/><circle cx="1593.4" cy="1282.4" r="3.7" fill="#f07f22"/><circle cx="1578.6" cy="1172.7" r="3.7" fill="#5bbd4e"/><circle cx="1655.7" cy="1279.5" r="3.7" fill="#f07f22"/><circle cx="1703.6" cy="1097" r="3.7" fill="#f3f542"/><circle cx="1641.8" cy="1262.9" r="3.7" fill="#f07f22"/><circle cx="1695.4" cy="1076.7" r="3.7" fill="#5bbd4e"/><circle cx="1588.8" cy="1227.5" r="3.7" fill="#f07f22"/><circle cx="1706.7" cy="1107.2" r="3.7" fill="#f3f542"/><circle cx="1624.3" cy="1248.2" r="3.7" fill="#f07f22"/><circle cx="1685.8" cy="1163.6" r="3.7" fill="#4a87c4"/><circle cx="1642.4" cy="1178.5" r="3.7" fill="#4a87c4"/><circle cx="1650.7" cy="1105.3" r="3.7" fill="#5bbd4e"/><circle cx="1710.9" cy="1193.7" r="3.7" fill="#4a87c4"/><circle cx="1624.4" cy="1292.8" r="3.7" fill="#f07f22"/><circle cx="1558" cy="1114.9" r="3.7" fill="#ad5a2f"/><circle cx="1563.6" cy="1099.3" r="3.7" fill="#ad5a2f"/><circle cx="1575.9" cy="1235.8" r="3.7" fill="#f07f22"/><circle cx="1698.2" cy="1185.4" r="3.7" fill="#4a87c4"/><circle cx="1630.8" cy="1261.3" r="3.7" fill="#f07f22"/><circle cx="1670.6" cy="1346.5" r="3.7" fill="#e8231f"/><circle cx="1640" cy="1339.4" r="3.7" fill="#e8231f"/><circle cx="1603.4" cy="1196.7" r="3.7" fill="#4a87c4"/><circle cx="1637.9" cy="1277.7" r="3.7" fill="#f07f22"/><circle cx="1643.9" cy="1225.3" r="3.7" fill="#4a87c4"/><circle cx="1548.9" cy="1108.9" r="3.7" fill="#ad5a2f"/><circle cx="1696.3" cy="1069.8" r="3.7" fill="#5bbd4e"/><circle cx="1735.4" cy="1149.3" r="3.7" fill="#f3f542"/><circle cx="1643.4" cy="1162" r="3.7" fill="#4a87c4"/><circle cx="1691" cy="1130.1" r="3.7" fill="#f3f542"/><circle cx="1713.3" cy="1160.4" r="3.7" fill="#4a87c4"/><circle cx="1647.7" cy="1322.5" r="3.7" fill="#e8231f"/><circle cx="1597.6" cy="1219.1" r="3.7" fill="#f07f22"/><circle cx="1708.6" cy="1086.6" r="3.7" fill="#5bbd4e"/><circle cx="1566" cy="1118.2" r="3.7" fill="#ad5a2f"/><circle cx="1554.9" cy="1097.9" r="3.7" fill="#ad5a2f"/><circle cx="1679.9" cy="1072.4" r="3.7" fill="#5bbd4e"/><circle cx="1739" cy="1147.5" r="3.7" fill="#f3f542"/><circle cx="1620.6" cy="1151" r="3.7" fill="#5bbd4e"/><circle cx="1653.4" cy="1197.2" r="3.7" fill="#4a87c4"/><circle cx="1743.6" cy="1157" r="3.7" fill="#f3f542"/><circle cx="1633.6" cy="1102.9" r="3.7" fill="#5bbd4e"/><circle cx="1717.7" cy="1323.1" r="3.7" fill="#e8231f"/><circle cx="1554.5" cy="1121.6" r="3.7" fill="#ad5a2f"/><circle cx="1674.1" cy="1073.1" r="3.7" fill="#5bbd4e"/><circle cx="1633.3" cy="1139.5" r="3.7" fill="#5bbd4e"/><circle cx="1705.4" cy="1139.2" r="3.7" fill="#f3f542"/><circle cx="1628.1" cy="1187" r="3.7" fill="#4a87c4"/><circle cx="1594.5" cy="1079.8" r="3.7" fill="#f3f542"/><circle cx="1651.2" cy="1223.7" r="3.7" fill="#4a87c4"/><circle cx="1632.3" cy="1143.9" r="3.7" fill="#5bbd4e"/><circle cx="1711.2" cy="1072" r="3.7" fill="#5bbd4e"/><circle cx="1677.9" cy="1079.3" r="3.7" fill="#5bbd4e"/><circle cx="1606.2" cy="1261.3" r="3.7" fill="#f07f22"/><circle cx="1744.6" cy="1151.8" r="3.7" fill="#f3f542"/><circle cx="1761.1" cy="1157.6" r="3.7" fill="#f3f542"/><circle cx="1681.4" cy="1184.8" r="3.7" fill="#4a87c4"/><circle cx="1667.9" cy="1182.6" r="3.7" fill="#4a87c4"/><circle cx="1709.1" cy="1183.2" r="3.7" fill="#4a87c4"/><circle cx="1567.8" cy="1124.7" r="3.7" fill="#ad5a2f"/><circle cx="1689.9" cy="1075.6" r="3.7" fill="#5bbd4e"/><circle cx="1757.6" cy="1177.2" r="3.7" fill="#9c4db0"/><circle cx="1695.7" cy="1371.4" r="3.7" fill="#e8231f"/><circle cx="1687.1" cy="1226.6" r="3.7" fill="#4a87c4"/><circle cx="1752.5" cy="1156.7" r="3.7" fill="#f3f542"/><circle cx="1611.1" cy="1311.5" r="3.7" fill="#e8231f"/><circle cx="1621.1" cy="1258.8" r="3.7" fill="#f07f22"/><circle cx="1699.5" cy="1112.9" r="3.7" fill="#f3f542"/><circle cx="1751" cy="1131.1" r="3.7" fill="#f3f542"/><circle cx="1607.6" cy="1288.2" r="3.7" fill="#f07f22"/><circle cx="1548.3" cy="1098" r="3.7" fill="#ad5a2f"/><circle cx="1745.5" cy="1138.8" r="3.7" fill="#f3f542"/><circle cx="1576.3" cy="1257.8" r="3.7" fill="#f07f22"/><circle cx="1622" cy="1271.9" r="3.7" fill="#f07f22"/><circle cx="1648.5" cy="1229" r="3.7" fill="#4a87c4"/><circle cx="1598.1" cy="1176.7" r="3.7" fill="#5bbd4e"/><circle cx="1625.5" cy="1130.7" r="3.7" fill="#5bbd4e"/><circle cx="1628.6" cy="1207.6" r="3.7" fill="#4a87c4"/><circle cx="1651.1" cy="1179.8" r="3.7" fill="#4a87c4"/><circle cx="1670.5" cy="1197" r="3.7" fill="#4a87c4"/><circle cx="1633.8" cy="1132.5" r="3.7" fill="#5bbd4e"/><circle cx="1702.9" cy="1184.5" r="3.7" fill="#4a87c4"/><circle cx="1620.5" cy="1276.3" r="3.7" fill="#f07f22"/><circle cx="1603.2" cy="1144.1" r="3.7" fill="#5bbd4e"/><circle cx="1575" cy="1228.8" r="3.7" fill="#f07f22"/><circle cx="1644.2" cy="1136.4" r="3.7" fill="#5bbd4e"/><circle cx="1698.2" cy="1231.8" r="3.7" fill="#4a87c4"/><circle cx="1592.5" cy="1224.8" r="3.7" fill="#f07f22"/><circle cx="1606.7" cy="1213" r="3.7" fill="#f07f22"/><circle cx="1575" cy="1243.8" r="3.7" fill="#f07f22"/><circle cx="1601.5" cy="1113.5" r="3.7" fill="#5bbd4e"/><circle cx="1700.5" cy="1360.6" r="3.7" fill="#e8231f"/><circle cx="1658.4" cy="1348.7" r="3.7" fill="#e8231f"/><circle cx="1687.8" cy="1082.1" r="3.7" fill="#5bbd4e"/></g>
<path d="M1481.2 1394.8V1326.8M1481.2 1394.8H1563.4M1476.7 1333.8L1481.2 1326.8L1485.7 1333.8M1556.4 1390.3L1563.4 1394.8L1556.4 1399.3" stroke="#000" stroke-width="1.6" fill="none"/>
<text transform="translate(1473.5 1368.2) rotate(-90)" font-size="16.7" text-anchor="middle">UMAP 2</text>
<text x="1513.4" y="1415.6" font-size="16.7" text-anchor="middle">UMAP 1</text>
<text x="1649.8" y="1448.3" font-size="19.5" text-anchor="middle">IR</text>
<path d="M1730.7 1770.5h0M1643.2 1740.2h0M1711.1 1769.6h0M1705.1 1757.6h0M1748.6 1749.8h0M1714.8 1769.5h0M1739.4 1746.2h0M1678.5 1722.6h0M1648.4 1713.5h0M1693.3 1729h0M1631.5 1732.3h0M1664.8 1736.1h0M1699.9 1766.2h0M1640.4 1733.2h0M1741.9 1755.5h0M1743.1 1777.9h0M1657.9 1748.8h0M1616.2 1724.7h0M1713.4 1750.1h0M1732.6 1779.1h0M1635.4 1718.8h0M1676.3 1759h0M1696.4 1763.4h0M1624.3 1717.1h0M1640.4 1727.1h0M1694.4 1736.5h0M1680.5 1734.3h0M1611.3 1720.4h0M1675.6 1754.5h0M1645 1747.4h0M1652.7 1730.5h0M1722.7 1731.1h0M1700.7 1779.4h0M1616.1 1719.5h0M1705.5 1768.6h0M1663.4 1756.7h0" stroke="#edcdd1" stroke-width="4.3" stroke-linecap="round" fill="none"/>
<path d="M1685.2 1537.9h0M1687.4 1585.4h0M1700.4 1598h0M1697.8 1552.7h0M1681.4 1499.9h0M1680.8 1544.9h0M1633.2 1634.6h0M1739.8 1561h0M1618.9 1592.4h0M1632.3 1587.7h0M1607.5 1597.1h0M1697.5 1563.5h0M1612.7 1603.6h0M1607.7 1608.7h0M1669 1578.3h0M1635.4 1600.9h0M1692.6 1582.4h0M1707.4 1598.7h0M1618.5 1618.2h0M1675.5 1526.5h0M1714.2 1558.8h0M1719.5 1587.2h0M1620.9 1603.6h0M1655.1 1599.8h0M1628.2 1643.9h0M1705.5 1603h0M1651.7 1573.8h0M1665.3 1631.7h0M1663.3 1610h0M1694.1 1596.6h0M1677.7 1563.2h0M1621.2 1586.4h0M1649.2 1603.3h0M1677.6 1619.4h0M1707 1588.3h0M1694.2 1567.2h0M1659.6 1569.6h0M1673.7 1616.1h0M1628.8 1609.9h0M1713.5 1612.3h0M1647.4 1608.7h0M1715.2 1571.1h0M1693.6 1621.7h0M1721.5 1609h0M1714.6 1596h0M1653.9 1593.4h0M1677.2 1646.7h0M1652.3 1627.4h0M1629.8 1631.9h0M1640.2 1625.1h0M1647.9 1639.7h0M1649.7 1618h0M1696.6 1612.4h0M1684.2 1582.7h0M1658.1 1579h0M1687.4 1623.9h0M1630.3 1597.3h0M1668.1 1620h0M1626.2 1592.2h0M1691 1548.4h0M1660.7 1576.2h0M1637.6 1585.7h0M1690.9 1578.2h0M1641 1512h0M1662.7 1597.1h0M1682.7 1558.6h0M1671.7 1569.9h0M1616.1 1628.7h0M1697.4 1576.9h0M1687.7 1613.1h0M1693.9 1601.5h0M1613.3 1591.7h0M1681.8 1578.3h0M1680 1604.4h0M1734.2 1692.3h0M1612.9 1616h0M1676.1 1554.8h0M1724.1 1594.9h0M1711.6 1584.5h0M1645.9 1599.8h0M1647.2 1639.8h0M1637.4 1574.5h0M1702.2 1611.6h0M1684.7 1553.5h0M1714.1 1564.9h0M1693 1554.5h0M1696.4 1592.1h0M1695.8 1607.3h0M1626 1586h0M1671.4 1600.8h0M1707.3 1553.2h0M1614.5 1600.1h0M1646.9 1593.5h0M1653.4 1568h0M1656.9 1613.8h0M1714.8 1587.2h0M1690.8 1571.6h0M1647.4 1586.5h0M1715.9 1601.7h0M1703.2 1593.4h0M1608.4 1604.7h0M1648.9 1633.3h0M1648.4 1570h0M1718.3 1568.4h0M1658.4 1605.2h0M1633.1 1595h0M1656.2 1631.7h0M1686.4 1592.8h0M1672.9 1590.6h0M1714.1 1591.2h0M1692.1 1634.6h0M1653.5 1637h0M1633.6 1615.6h0M1656.1 1587.8h0M1675.5 1605h0M1707.9 1592.5h0M1703.2 1639.8h0" stroke="#d2dfec" stroke-width="4.3" stroke-linecap="round" fill="none"/>
<path d="M1659.4 1525.5h0M1653 1530.1h0M1702.9 1492h0M1726.2 1486.8h0M1665.9 1484.8h0M1649.5 1518h0M1651.1 1535.4h0M1664.7 1520.4h0M1584.6 1575.4h0M1702.9 1467.8h0M1671.7 1534.7h0M1615.2 1536.4h0M1615.1 1490.2h0M1656.5 1520.1h0M1645.7 1511.5h0M1696.9 1477.4h0M1621 1561.5h0M1590 1570.3h0M1624.3 1541.1h0M1713.5 1485.3h0M1676 1488.2h0M1704.3 1485.2h0M1617.1 1544h0M1713.1 1488.9h0M1705.4 1480.1h0M1603.5 1552.6h0M1710 1472h0M1593.3 1565.9h0M1624.4 1516.3h0M1710.1 1497.2h0M1596.1 1562.5h0M1585.2 1594.6h0M1686.8 1471.2h0M1606.1 1559.2h0M1665.8 1480.5h0M1636.2 1531.5h0M1608.6 1570.9h0M1645.1 1547.9h0M1670.3 1542.9h0M1609.1 1557.1h0M1611.5 1582.5h0M1692.2 1475.8h0M1668.8 1493.8h0M1619.9 1537.1h0M1603.5 1542.1h0M1689.5 1487.5h0M1624.6 1533.7h0M1659.1 1484.2h0M1719.8 1488.7h0M1608.2 1581h0M1596.9 1534.1h0M1648.9 1523.8h0M1597 1529.7h0M1683.8 1491.9h0M1680.7 1472.3h0M1588.2 1586.2h0M1619.7 1522.1h0M1609.1 1585.7h0M1621.3 1493h0M1592 1542.8h0M1583.4 1557.4h0M1675.1 1495.7h0M1707.2 1489.8h0M1602.7 1534.5h0M1655.1 1548h0M1587.3 1573h0M1629 1519.5h0M1605.3 1578.1h0M1583.6 1580.7h0M1700.4 1484.7h0M1655.7 1513.3h0M1701.3 1477.8h0M1713.6 1494.6h0M1684.9 1480.4h0M1625.6 1559h0M1638.6 1510.9h0M1679.1 1481.1h0M1638.3 1547.5h0M1637.3 1551.9h0M1716.2 1480h0M1682.9 1487.3h0M1694.9 1483.6h0M1603.1 1584.7h0M1630.5 1538.7h0M1638.8 1540.5h0M1608.2 1552.1h0M1649.2 1544.4h0M1606.5 1521.5h0M1692.8 1490.1h0" stroke="#d6e9d4" stroke-width="4.3" stroke-linecap="round" fill="none"/>
<path d="M1758.4 1617.3h0M1756 1599.4h0M1753.9 1594.2h0M1741.8 1599h0M1737 1584.5h0M1796.4 1593.2h0M1748.1 1596.6h0M1777.8 1599h0M1762.6 1585.2h0" stroke="#e0d4e6" stroke-width="4.3" stroke-linecap="round" fill="none"/>
<path d="M1648.5 1693.1h0M1609.6 1648.5h0M1601.4 1676.8h0M1602.1 1667h0M1583.9 1626.4h0M1648.5 1674.2h0M1608.1 1652.3h0M1594.8 1669.9h0M1603 1658.1h0M1610.9 1637.2h0M1585.3 1649.6h0M1591.6 1674.6h0M1594.5 1642.4h0M1590.9 1707.2h0M1586.5 1678.1h0M1598.8 1681.3h0M1657.5 1698.6h0M1600.6 1670.5h0M1612.8 1685.3h0M1596.4 1660.1h0M1605.2 1687h0M1634.3 1681.3h0M1609.7 1692.6h0M1616.7 1665.9h0M1601.9 1717.5h0M1611.8 1676.8h0M1630.9 1665.9h0M1656.6 1703.3h0M1617.1 1699.2h0M1627.5 1694.7h0M1613 1651h0M1634.2 1695h0M1662.7 1679.5h0M1630.7 1684.2h0M1576 1628.6h0M1631.1 1673.9h0M1639 1681.1h0M1601.3 1631.4h0M1600.7 1694.6h0M1577.8 1640.7h0M1593.3 1691.7h0M1611.7 1625.2h0M1577.4 1632.4h0M1596.9 1652.1h0M1606.8 1622.6h0M1599.4 1643.4h0M1650.4 1701.2h0M1586.4 1639.9h0M1579.9 1628.2h0M1620 1655.2h0M1587.8 1654.8h0M1659.4 1694.2h0M1597.4 1673.7h0M1583.9 1622.7h0M1589.1 1660.9h0M1651.2 1679.7h0M1598.4 1690.4h0M1660.7 1687.5h0M1646.8 1670.9h0M1593.8 1635.5h0M1629.3 1656.2h0M1629.4 1700.8h0M1580.9 1643.8h0M1635.8 1669.3h0M1642.9 1685.7h0M1602.6 1627.1h0M1611.2 1669.3h0M1626.1 1666.8h0M1612.6 1696.2h0M1581.3 1665.8h0M1627 1679.9h0M1625.5 1684.3h0M1580 1636.8h0M1597.5 1632.8h0M1611.7 1621h0M1580 1651.8h0" stroke="#f0dcc9" stroke-width="4.3" stroke-linecap="round" fill="none"/>
<path d="M1703.1 1527.8h0M1726.4 1531.4h0M1723.4 1537.4h0M1763.4 1534.6h0M1761.9 1563.9h0M1765.1 1543.3h0M1734.3 1525.2h0M1722.5 1516.2h0M1753.6 1563.1h0M1730.3 1549h0M1769.7 1534.7h0M1735.3 1513.2h0M1715 1527.4h0M1714.6 1531.9h0M1741.5 1508.6h0M1724.1 1504.7h0M1709.7 1529.1h0M1721 1502.3h0M1727.1 1556.6h0M1692 1513h0M1702.6 1535.9h0M1698 1525.7h0M1731.3 1540.1h0M1721 1543.7h0M1725.9 1540.5h0M1718.7 1518.3h0M1746.1 1530.6h0M1753.8 1548.9h0M1738.3 1525.7h0M1777.5 1558.2h0M1761.8 1529.9h0M1725.1 1522.8h0M1743 1517.2h0M1720.7 1508.3h0M1752 1531.7h0M1698 1507.1h0M1773.4 1555.2h0M1769.5 1545.7h0M1771.8 1541.9h0M1714.4 1505.1h0M1723.3 1511.3h0M1693.7 1522.8h0M1708.6 1505h0M1711.7 1515.2h0M1740.4 1557.3h0M1696 1538.1h0M1744 1555.5h0M1748.6 1565h0M1710.4 1547.2h0M1599.5 1487.8h0M1749.6 1559.8h0M1766.1 1565.6h0M1757.5 1564.7h0M1704.5 1520.9h0M1756 1539.1h0M1750.5 1546.8h0" stroke="#f0f0d2" stroke-width="4.3" stroke-linecap="round" fill="none"/>
<path d="M1571.2 1510.2h0M1573.4 1536.7h0M1573.8 1529h0M1563.5 1517.6h0M1599.5 1496.4h0M1583.1 1501.4h0M1571.1 1521.6h0M1553 1534.7h0M1555.5 1503h0M1578 1533.5h0M1568.2 1514.9h0M1553 1526.2h0M1580.3 1517.5h0M1601.3 1492h0M1585.6 1497.4h0M1573.6 1502h0M1582.8 1509.6h0M1555.9 1511.4h0M1562.3 1536.6h0M1565 1503.7h0M1576.5 1498.9h0M1553.5 1531h0M1578.5 1503.4h0M1564.2 1510h0M1563 1522.9h0M1568.6 1507.3h0M1553.9 1516.9h0M1571 1526.2h0M1559.9 1505.9h0M1559.5 1529.6h0M1572.8 1532.7h0M1553.3 1506h0" stroke="#e0cec6" stroke-width="4.3" stroke-linecap="round" fill="none"/>
<g stroke="#000" stroke-width="1"><circle cx="1683.9" cy="1764.1" r="3.7" fill="#e8231f"/><circle cx="1749.1" cy="1745.8" r="3.7" fill="#e8231f"/><circle cx="1796.8" cy="1611.2" r="3.7" fill="#9c4db0"/><circle cx="1703.5" cy="1774" r="3.7" fill="#e8231f"/><circle cx="1639.9" cy="1721.9" r="3.7" fill="#e8231f"/><circle cx="1798.3" cy="1715.3" r="3.7" fill="#e8231f"/><circle cx="1710" cy="1737.1" r="3.7" fill="#e8231f"/><circle cx="1622.2" cy="1484.6" r="3.7" fill="#9c4db0"/><circle cx="1689.1" cy="1764.3" r="3.7" fill="#e8231f"/><circle cx="1787.3" cy="1585.8" r="3.7" fill="#9c4db0"/><circle cx="1787.2" cy="1745.1" r="3.7" fill="#e8231f"/><circle cx="1631.6" cy="1741.7" r="3.7" fill="#e8231f"/><circle cx="1590.4" cy="1663.5" r="3.7" fill="#f07f22"/><circle cx="1779.2" cy="1682.2" r="3.7" fill="#9c4db0"/><circle cx="1789.4" cy="1640.6" r="3.7" fill="#9c4db0"/><circle cx="1809.7" cy="1674.2" r="3.7" fill="#9c4db0"/><circle cx="1796.6" cy="1733.3" r="3.7" fill="#e8231f"/><circle cx="1690.1" cy="1785.8" r="3.7" fill="#e8231f"/><circle cx="1780.6" cy="1717.6" r="3.7" fill="#e8231f"/><circle cx="1714.8" cy="1741.4" r="3.7" fill="#e8231f"/><circle cx="1742.4" cy="1769.6" r="3.7" fill="#4a87c4"/><circle cx="1688.2" cy="1726.5" r="3.7" fill="#e8231f"/><circle cx="1812.1" cy="1726" r="3.7" fill="#9c4db0"/><circle cx="1729.6" cy="1714.9" r="3.7" fill="#e8231f"/><circle cx="1673.1" cy="1756.3" r="3.7" fill="#e8231f"/><circle cx="1684.4" cy="1771.5" r="3.7" fill="#e8231f"/><circle cx="1684.7" cy="1496" r="3.7" fill="#5bbd4e"/><circle cx="1774.4" cy="1733.2" r="3.7" fill="#e8231f"/><circle cx="1711.2" cy="1751.4" r="3.7" fill="#e8231f"/><circle cx="1666.4" cy="1752.6" r="3.7" fill="#9c4db0"/><circle cx="1681.6" cy="1748.1" r="3.7" fill="#e8231f"/><circle cx="1789.1" cy="1741.6" r="3.7" fill="#e8231f"/><circle cx="1767.2" cy="1696.3" r="3.7" fill="#9c4db0"/><circle cx="1721.3" cy="1762.6" r="3.7" fill="#e8231f"/><circle cx="1811.9" cy="1650.4" r="3.7" fill="#9c4db0"/><circle cx="1718.2" cy="1627.9" r="3.7" fill="#4a87c4"/><circle cx="1772.9" cy="1631.6" r="3.7" fill="#9c4db0"/><circle cx="1765" cy="1751.9" r="3.7" fill="#e8231f"/><circle cx="1823.3" cy="1691.1" r="3.7" fill="#9c4db0"/><circle cx="1650" cy="1722.5" r="3.7" fill="#e8231f"/><circle cx="1808" cy="1633" r="3.7" fill="#9c4db0"/><circle cx="1670.5" cy="1736.4" r="3.7" fill="#e8231f"/><circle cx="1722.2" cy="1779.1" r="3.7" fill="#e8231f"/><circle cx="1772.4" cy="1642.6" r="3.7" fill="#9c4db0"/><circle cx="1785.9" cy="1664.9" r="3.7" fill="#9c4db0"/><circle cx="1769.4" cy="1725.1" r="3.7" fill="#e8231f"/><circle cx="1683.5" cy="1725.6" r="3.7" fill="#e8231f"/><circle cx="1824.4" cy="1667.1" r="3.7" fill="#9c4db0"/><circle cx="1615.6" cy="1511.5" r="3.7" fill="#5bbd4e"/><circle cx="1772.7" cy="1751" r="3.7" fill="#e8231f"/><circle cx="1665.7" cy="1732.1" r="3.7" fill="#e8231f"/><circle cx="1789.2" cy="1632.9" r="3.7" fill="#9c4db0"/><circle cx="1775" cy="1651.8" r="3.7" fill="#9c4db0"/><circle cx="1789.8" cy="1599.2" r="3.7" fill="#9c4db0"/><circle cx="1827" cy="1655.3" r="3.7" fill="#9c4db0"/><circle cx="1808.8" cy="1638.6" r="3.7" fill="#9c4db0"/><circle cx="1758" cy="1638.8" r="3.7" fill="#9c4db0"/><circle cx="1676.9" cy="1759.3" r="3.7" fill="#e8231f"/><circle cx="1710.6" cy="1610" r="3.7" fill="#4a87c4"/><circle cx="1730.7" cy="1756.7" r="3.7" fill="#e8231f"/><circle cx="1705.4" cy="1533" r="3.7" fill="#f3f542"/><circle cx="1759.2" cy="1669.4" r="3.7" fill="#9c4db0"/><circle cx="1702.2" cy="1707.7" r="3.7" fill="#e8231f"/><circle cx="1704.4" cy="1682.9" r="3.7" fill="#f3f542"/><circle cx="1791.1" cy="1628.4" r="3.7" fill="#9c4db0"/><circle cx="1787" cy="1624" r="3.7" fill="#9c4db0"/><circle cx="1762.9" cy="1724.6" r="3.7" fill="#e8231f"/><circle cx="1812.9" cy="1682.2" r="3.7" fill="#9c4db0"/><circle cx="1665.1" cy="1752.3" r="3.7" fill="#e8231f"/><circle cx="1786.1" cy="1721.6" r="3.7" fill="#e8231f"/><circle cx="1737.8" cy="1716.2" r="3.7" fill="#e8231f"/><circle cx="1775.2" cy="1598.4" r="3.7" fill="#9c4db0"/><circle cx="1660.8" cy="1502.9" r="3.7" fill="#5bbd4e"/><circle cx="1691.9" cy="1530.9" r="3.7" fill="#f3f542"/><circle cx="1694.8" cy="1715.7" r="3.7" fill="#e8231f"/><circle cx="1689.9" cy="1473.5" r="3.7" fill="#5bbd4e"/><circle cx="1714.6" cy="1786.1" r="3.7" fill="#e8231f"/><circle cx="1701" cy="1737.8" r="3.7" fill="#e8231f"/><circle cx="1793.3" cy="1654.2" r="3.7" fill="#9c4db0"/><circle cx="1794.7" cy="1757.5" r="3.7" fill="#e8231f"/><circle cx="1774.1" cy="1541.9" r="3.7" fill="#f3f542"/><circle cx="1719.9" cy="1728.2" r="3.7" fill="#e8231f"/><circle cx="1804.9" cy="1687.1" r="3.7" fill="#9c4db0"/><circle cx="1805.8" cy="1724.7" r="3.7" fill="#e8231f"/><circle cx="1738.1" cy="1755.9" r="3.7" fill="#e8231f"/><circle cx="1710.6" cy="1764" r="3.7" fill="#e8231f"/><circle cx="1709.9" cy="1728.4" r="3.7" fill="#e8231f"/><circle cx="1814.7" cy="1647.2" r="3.7" fill="#9c4db0"/><circle cx="1714.1" cy="1723.1" r="3.7" fill="#e8231f"/><circle cx="1718.2" cy="1490.8" r="3.7" fill="#5bbd4e"/><circle cx="1631.5" cy="1598.9" r="3.7" fill="#4a87c4"/><circle cx="1641.2" cy="1484.6" r="3.7" fill="#9c4db0"/><circle cx="1808.3" cy="1701.9" r="3.7" fill="#9c4db0"/><circle cx="1781.2" cy="1746.7" r="3.7" fill="#e8231f"/><circle cx="1800.9" cy="1631" r="3.7" fill="#9c4db0"/><circle cx="1707.1" cy="1617.6" r="3.7" fill="#4a87c4"/><circle cx="1750.6" cy="1764.3" r="3.7" fill="#e8231f"/><circle cx="1758.4" cy="1728.1" r="3.7" fill="#e8231f"/><circle cx="1743.6" cy="1759.2" r="3.7" fill="#e8231f"/><circle cx="1739.6" cy="1604.8" r="3.7" fill="#4a87c4"/><circle cx="1777.6" cy="1761.1" r="3.7" fill="#e8231f"/><circle cx="1730.4" cy="1731.1" r="3.7" fill="#e8231f"/><circle cx="1781.8" cy="1765.5" r="3.7" fill="#e8231f"/><circle cx="1795.4" cy="1728.9" r="3.7" fill="#e8231f"/><circle cx="1711.1" cy="1733.4" r="3.7" fill="#e8231f"/><circle cx="1672" cy="1740.6" r="3.7" fill="#e8231f"/><circle cx="1736.1" cy="1654.9" r="3.7" fill="#9c4db0"/><circle cx="1709.5" cy="1786.1" r="3.7" fill="#e8231f"/><circle cx="1686.1" cy="1714.2" r="3.7" fill="#e8231f"/><circle cx="1723.4" cy="1626.2" r="3.7" fill="#5bbd4e"/><circle cx="1801.4" cy="1660.9" r="3.7" fill="#9c4db0"/><circle cx="1661.1" cy="1725.2" r="3.7" fill="#e8231f"/><circle cx="1728.2" cy="1782.4" r="3.7" fill="#e8231f"/><circle cx="1722.3" cy="1707.4" r="3.7" fill="#e8231f"/><circle cx="1706.7" cy="1731.8" r="3.7" fill="#e8231f"/><circle cx="1667.7" cy="1741.5" r="3.7" fill="#e8231f"/><circle cx="1774.3" cy="1769.6" r="3.7" fill="#e8231f"/><circle cx="1684.6" cy="1719.3" r="3.7" fill="#e8231f"/><circle cx="1819.8" cy="1645.2" r="3.7" fill="#9c4db0"/><circle cx="1679.5" cy="1772.1" r="3.7" fill="#e8231f"/><circle cx="1782" cy="1587.6" r="3.7" fill="#9c4db0"/><circle cx="1814.6" cy="1654.3" r="3.7" fill="#9c4db0"/><circle cx="1781.9" cy="1662.5" r="3.7" fill="#9c4db0"/><circle cx="1689.1" cy="1730.7" r="3.7" fill="#e8231f"/><circle cx="1811.6" cy="1686.5" r="3.7" fill="#9c4db0"/><circle cx="1647.4" cy="1711.9" r="3.7" fill="#f07f22"/><circle cx="1701.7" cy="1783.9" r="3.7" fill="#e8231f"/><circle cx="1806.7" cy="1678.3" r="3.7" fill="#9c4db0"/><circle cx="1700.6" cy="1484.6" r="3.7" fill="#5bbd4e"/><circle cx="1690.8" cy="1758.2" r="3.7" fill="#e8231f"/><circle cx="1670.1" cy="1713.7" r="3.7" fill="#e8231f"/><circle cx="1817.5" cy="1688.9" r="3.7" fill="#9c4db0"/><circle cx="1704.8" cy="1753.9" r="3.7" fill="#e8231f"/><circle cx="1754.5" cy="1765.8" r="3.7" fill="#e8231f"/><circle cx="1736.8" cy="1746.1" r="3.7" fill="#e8231f"/><circle cx="1730.5" cy="1760.6" r="3.7" fill="#e8231f"/><circle cx="1701.8" cy="1749.9" r="3.7" fill="#e8231f"/><circle cx="1665.2" cy="1758" r="3.7" fill="#e8231f"/><circle cx="1735.5" cy="1783.5" r="3.7" fill="#e8231f"/><circle cx="1785.1" cy="1732.4" r="3.7" fill="#e8231f"/><circle cx="1737.9" cy="1710.2" r="3.7" fill="#e8231f"/><circle cx="1827" cy="1649.6" r="3.7" fill="#9c4db0"/><circle cx="1723" cy="1747.9" r="3.7" fill="#e8231f"/><circle cx="1811.7" cy="1678.4" r="3.7" fill="#9c4db0"/><circle cx="1693.9" cy="1753.3" r="3.7" fill="#e8231f"/><circle cx="1634.6" cy="1596.9" r="3.7" fill="#4a87c4"/><circle cx="1799.1" cy="1620.8" r="3.7" fill="#9c4db0"/><circle cx="1790" cy="1591.9" r="3.7" fill="#9c4db0"/><circle cx="1614.6" cy="1529.8" r="3.7" fill="#5bbd4e"/><circle cx="1752.9" cy="1723.9" r="3.7" fill="#e8231f"/><circle cx="1807.1" cy="1732.9" r="3.7" fill="#e8231f"/><circle cx="1720.4" cy="1769.6" r="3.7" fill="#e8231f"/><circle cx="1767.8" cy="1621.4" r="3.7" fill="#9c4db0"/><circle cx="1635.7" cy="1734.3" r="3.7" fill="#e8231f"/><circle cx="1734.4" cy="1669.4" r="3.7" fill="#5bbd4e"/><circle cx="1635.8" cy="1729.1" r="3.7" fill="#e8231f"/><circle cx="1738.9" cy="1622.1" r="3.7" fill="#4a87c4"/><circle cx="1690.6" cy="1717.7" r="3.7" fill="#e8231f"/><circle cx="1679" cy="1712.1" r="3.7" fill="#e8231f"/><circle cx="1713.9" cy="1772.7" r="3.7" fill="#e8231f"/><circle cx="1769.5" cy="1744.7" r="3.7" fill="#e8231f"/><circle cx="1759.7" cy="1775" r="3.7" fill="#e8231f"/><circle cx="1675.7" cy="1710.2" r="3.7" fill="#e8231f"/><circle cx="1758.3" cy="1738.4" r="3.7" fill="#e8231f"/><circle cx="1723.9" cy="1741.9" r="3.7" fill="#e8231f"/><circle cx="1648.7" cy="1714.8" r="3.7" fill="#e8231f"/><circle cx="1754.1" cy="1636.6" r="3.7" fill="#5bbd4e"/><circle cx="1744.5" cy="1727.6" r="3.7" fill="#e8231f"/><circle cx="1756.9" cy="1771.1" r="3.7" fill="#e8231f"/><circle cx="1641.6" cy="1725.5" r="3.7" fill="#e8231f"/><circle cx="1784.6" cy="1604.2" r="3.7" fill="#9c4db0"/><circle cx="1711.5" cy="1715.1" r="3.7" fill="#e8231f"/><circle cx="1716.9" cy="1718.8" r="3.7" fill="#e8231f"/><circle cx="1807.7" cy="1737.8" r="3.7" fill="#9c4db0"/><circle cx="1633.2" cy="1483.9" r="3.7" fill="#9c4db0"/><circle cx="1764.9" cy="1633.1" r="3.7" fill="#9c4db0"/><circle cx="1791.5" cy="1717.9" r="3.7" fill="#e8231f"/><circle cx="1823.7" cy="1682.3" r="3.7" fill="#9c4db0"/><circle cx="1764.6" cy="1738.4" r="3.7" fill="#e8231f"/><circle cx="1756.9" cy="1741.9" r="3.7" fill="#e8231f"/><circle cx="1778.6" cy="1668.1" r="3.7" fill="#9c4db0"/><circle cx="1748" cy="1734.1" r="3.7" fill="#e8231f"/><circle cx="1829.4" cy="1676" r="3.7" fill="#9c4db0"/><circle cx="1623.4" cy="1731.5" r="3.7" fill="#e8231f"/><circle cx="1752.1" cy="1728.6" r="3.7" fill="#e8231f"/><circle cx="1766.2" cy="1728" r="3.7" fill="#e8231f"/><circle cx="1588.7" cy="1659" r="3.7" fill="#f07f22"/><circle cx="1821.1" cy="1657.6" r="3.7" fill="#9c4db0"/><circle cx="1769.7" cy="1634.3" r="3.7" fill="#9c4db0"/><circle cx="1716.4" cy="1762.2" r="3.7" fill="#e8231f"/><circle cx="1745.5" cy="1616.2" r="3.7" fill="#9c4db0"/><circle cx="1687.2" cy="1740.6" r="3.7" fill="#e8231f"/><circle cx="1725.8" cy="1720.2" r="3.7" fill="#e8231f"/><circle cx="1754.5" cy="1703.2" r="3.7" fill="#9c4db0"/><circle cx="1641.8" cy="1742.9" r="3.7" fill="#e8231f"/><circle cx="1744.5" cy="1747.3" r="3.7" fill="#e8231f"/><circle cx="1788.2" cy="1754.9" r="3.7" fill="#e8231f"/><circle cx="1744.5" cy="1783.4" r="3.7" fill="#e8231f"/><circle cx="1795.6" cy="1724.6" r="3.7" fill="#e8231f"/><circle cx="1718.4" cy="1737.2" r="3.7" fill="#e8231f"/><circle cx="1794.1" cy="1618.8" r="3.7" fill="#9c4db0"/><circle cx="1764.8" cy="1766.3" r="3.7" fill="#e8231f"/><circle cx="1676.5" cy="1766.6" r="3.7" fill="#e8231f"/><circle cx="1695.3" cy="1783.8" r="3.7" fill="#e8231f"/><circle cx="1695.3" cy="1710.6" r="3.7" fill="#e8231f"/><circle cx="1666.4" cy="1490.8" r="3.7" fill="#5bbd4e"/><circle cx="1772.4" cy="1604.3" r="3.7" fill="#9c4db0"/><circle cx="1724.3" cy="1755.8" r="3.7" fill="#e8231f"/><circle cx="1704" cy="1711.4" r="3.7" fill="#e8231f"/><circle cx="1698.2" cy="1728" r="3.7" fill="#e8231f"/><circle cx="1785.8" cy="1612.9" r="3.7" fill="#9c4db0"/><circle cx="1763.5" cy="1681.6" r="3.7" fill="#9c4db0"/><circle cx="1676.4" cy="1727" r="3.7" fill="#e8231f"/><circle cx="1778.3" cy="1756.2" r="3.7" fill="#e8231f"/><circle cx="1769.5" cy="1766.5" r="3.7" fill="#e8231f"/><circle cx="1712.3" cy="1619.7" r="3.7" fill="#4a87c4"/><circle cx="1656" cy="1743.4" r="3.7" fill="#e8231f"/><circle cx="1747.5" cy="1750" r="3.7" fill="#e8231f"/><circle cx="1824.3" cy="1645.2" r="3.7" fill="#9c4db0"/><circle cx="1658.2" cy="1719.4" r="3.7" fill="#e8231f"/><circle cx="1773.4" cy="1638.6" r="3.7" fill="#9c4db0"/><circle cx="1787.1" cy="1652.4" r="3.7" fill="#9c4db0"/><circle cx="1798.9" cy="1746" r="3.7" fill="#e8231f"/><circle cx="1806" cy="1661" r="3.7" fill="#9c4db0"/><circle cx="1674" cy="1734.7" r="3.7" fill="#e8231f"/><circle cx="1679.5" cy="1691.8" r="3.7" fill="#f3f542"/><circle cx="1759.6" cy="1732.8" r="3.7" fill="#e8231f"/><circle cx="1785.9" cy="1767.7" r="3.7" fill="#e8231f"/><circle cx="1813.7" cy="1660.3" r="3.7" fill="#9c4db0"/><circle cx="1743.7" cy="1751.6" r="3.7" fill="#e8231f"/><circle cx="1801.5" cy="1700.7" r="3.7" fill="#9c4db0"/><circle cx="1647" cy="1530.5" r="3.7" fill="#5bbd4e"/><circle cx="1763.7" cy="1645" r="3.7" fill="#9c4db0"/><circle cx="1727.9" cy="1536.4" r="3.7" fill="#f3f542"/><circle cx="1710.9" cy="1487.4" r="3.7" fill="#5bbd4e"/><circle cx="1803.8" cy="1682.3" r="3.7" fill="#9c4db0"/><circle cx="1761.9" cy="1664.8" r="3.7" fill="#9c4db0"/><circle cx="1670.2" cy="1747.6" r="3.7" fill="#e8231f"/><circle cx="1821.3" cy="1663" r="3.7" fill="#9c4db0"/><circle cx="1649.5" cy="1747" r="3.7" fill="#e8231f"/><circle cx="1649.9" cy="1732.1" r="3.7" fill="#e8231f"/><circle cx="1679.5" cy="1762.3" r="3.7" fill="#e8231f"/><circle cx="1707.8" cy="1741.2" r="3.7" fill="#e8231f"/><circle cx="1769.6" cy="1755.8" r="3.7" fill="#e8231f"/><circle cx="1642.9" cy="1527.4" r="3.7" fill="#5bbd4e"/><circle cx="1661.4" cy="1754.9" r="3.7" fill="#e8231f"/><circle cx="1730.7" cy="1750.5" r="3.7" fill="#e8231f"/><circle cx="1661.9" cy="1478" r="3.7" fill="#5bbd4e"/><circle cx="1741.1" cy="1779.7" r="3.7" fill="#e8231f"/><circle cx="1776.1" cy="1675.2" r="3.7" fill="#9c4db0"/><circle cx="1774.1" cy="1720.5" r="3.7" fill="#9c4db0"/><circle cx="1808.3" cy="1627.7" r="3.7" fill="#9c4db0"/><circle cx="1732" cy="1649.7" r="3.7" fill="#5bbd4e"/><circle cx="1786.8" cy="1763.7" r="3.7" fill="#e8231f"/><circle cx="1736.7" cy="1762.8" r="3.7" fill="#e8231f"/><circle cx="1708.6" cy="1723.1" r="3.7" fill="#e8231f"/><circle cx="1687" cy="1734.8" r="3.7" fill="#e8231f"/><circle cx="1769.2" cy="1645.1" r="3.7" fill="#9c4db0"/><circle cx="1714.2" cy="1747.6" r="3.7" fill="#e8231f"/><circle cx="1767.9" cy="1607.7" r="3.7" fill="#9c4db0"/><circle cx="1654.1" cy="1724.4" r="3.7" fill="#e8231f"/><circle cx="1689.7" cy="1777.2" r="3.7" fill="#e8231f"/><circle cx="1749.4" cy="1738.4" r="3.7" fill="#e8231f"/><circle cx="1801.4" cy="1653" r="3.7" fill="#9c4db0"/><circle cx="1667.2" cy="1762.6" r="3.7" fill="#e8231f"/></g>
<path d="M1488.1 1803.4V1734.3M1488.1 1803.4H1570.3M1483.6 1741.3L1488.1 1734.3L1492.6 1741.3M1563.3 1798.9L1570.3 1803.4L1563.3 1807.9" stroke="#000" stroke-width="1.6" fill="none"/>
<text transform="translate(1479.8 1777.5) rotate(-90)" font-size="16.7" text-anchor="middle">UMAP 2</text>
<text x="1519.2" y="1824.1" font-size="16.7" text-anchor="middle">UMAP 1</text>
<circle cx="1888.8" cy="1291.2" r="5.1" fill="#e8231f" stroke="#000" stroke-width="1.5"/>
<text x="1919.2" y="1298.7" font-size="20.5">0</text>
<circle cx="1888.8" cy="1328.4" r="5.1" fill="#4a87c4" stroke="#000" stroke-width="1.5"/>
<text x="1919.2" y="1335.9" font-size="20.5">1</text>
<circle cx="1888.8" cy="1365.5" r="5.1" fill="#5bbd4e" stroke="#000" stroke-width="1.5"/>
<text x="1919.2" y="1373" font-size="20.5">2</text>
<circle cx="1888.8" cy="1402.7" r="5.1" fill="#9c4db0" stroke="#000" stroke-width="1.5"/>
<text x="1919.2" y="1410.2" font-size="20.5">3</text>
<circle cx="1888.8" cy="1439.8" r="5.1" fill="#f07f22" stroke="#000" stroke-width="1.5"/>
<text x="1919.2" y="1447.3" font-size="20.5">4</text>
<circle cx="1888.8" cy="1477" r="5.1" fill="#f3f542" stroke="#000" stroke-width="1.5"/>
<text x="1919.2" y="1484.5" font-size="20.5">5</text>
<circle cx="1888.8" cy="1514.1" r="5.1" fill="#ad5a2f" stroke="#000" stroke-width="1.5"/>
<text x="1919.2" y="1521.6" font-size="20.5">6</text>
<text x="624.5" y="1864.7" font-size="39" font-weight="bold">h</text>
<line x1="944.5" y1="1920.5" x2="944.5" y2="2642.8" stroke="#a9a9a9" stroke-width="1.2" stroke-dasharray="4.6 5.4"/>
<line x1="990.6" y1="1920.5" x2="990.6" y2="2642.8" stroke="#a9a9a9" stroke-width="1.2" stroke-dasharray="4.6 5.4"/>
<line x1="1036.6" y1="1920.5" x2="1036.6" y2="2642.8" stroke="#a9a9a9" stroke-width="1.2" stroke-dasharray="4.6 5.4"/>
<line x1="1082.7" y1="1920.5" x2="1082.7" y2="2642.8" stroke="#a9a9a9" stroke-width="1.2" stroke-dasharray="4.6 5.4"/>
<line x1="1128.7" y1="1920.5" x2="1128.7" y2="2642.8" stroke="#a9a9a9" stroke-width="1.2" stroke-dasharray="4.6 5.4"/>
<line x1="1174.8" y1="1920.5" x2="1174.8" y2="2642.8" stroke="#a9a9a9" stroke-width="1.2" stroke-dasharray="4.6 5.4"/>
<line x1="897.2" y1="1925.8" x2="1179" y2="1925.8" stroke="#a9a9a9" stroke-width="1.2" stroke-dasharray="4.6 5.4"/>
<line x1="897.2" y1="1965.4" x2="1179" y2="1965.4" stroke="#a9a9a9" stroke-width="1.2" stroke-dasharray="4.6 5.4"/>
<line x1="897.2" y1="2005.1" x2="1179" y2="2005.1" stroke="#a9a9a9" stroke-width="1.2" stroke-dasharray="4.6 5.4"/>
<line x1="897.2" y1="2044.7" x2="1179" y2="2044.7" stroke="#a9a9a9" stroke-width="1.2" stroke-dasharray="4.6 5.4"/>
<line x1="897.2" y1="2084.3" x2="1179" y2="2084.3" stroke="#a9a9a9" stroke-width="1.2" stroke-dasharray="4.6 5.4"/>
<line x1="897.2" y1="2124" x2="1179" y2="2124" stroke="#a9a9a9" stroke-width="1.2" stroke-dasharray="4.6 5.4"/>
<line x1="897.2" y1="2163.6" x2="1179" y2="2163.6" stroke="#a9a9a9" stroke-width="1.2" stroke-dasharray="4.6 5.4"/>
<line x1="897.2" y1="2203.3" x2="1179" y2="2203.3" stroke="#a9a9a9" stroke-width="1.2" stroke-dasharray="4.6 5.4"/>
<line x1="897.2" y1="2242.9" x2="1179" y2="2242.9" stroke="#a9a9a9" stroke-width="1.2" stroke-dasharray="4.6 5.4"/>
<line x1="897.2" y1="2282.5" x2="1179" y2="2282.5" stroke="#a9a9a9" stroke-width="1.2" stroke-dasharray="4.6 5.4"/>
<line x1="897.2" y1="2322.2" x2="1179" y2="2322.2" stroke="#a9a9a9" stroke-width="1.2" stroke-dasharray="4.6 5.4"/>
<line x1="897.2" y1="2361.8" x2="1179" y2="2361.8" stroke="#a9a9a9" stroke-width="1.2" stroke-dasharray="4.6 5.4"/>
<line x1="897.2" y1="2401.5" x2="1179" y2="2401.5" stroke="#a9a9a9" stroke-width="1.2" stroke-dasharray="4.6 5.4"/>
<line x1="897.2" y1="2441.1" x2="1179" y2="2441.1" stroke="#a9a9a9" stroke-width="1.2" stroke-dasharray="4.6 5.4"/>
<line x1="897.2" y1="2480.7" x2="1179" y2="2480.7" stroke="#a9a9a9" stroke-width="1.2" stroke-dasharray="4.6 5.4"/>
<line x1="897.2" y1="2520.4" x2="1179" y2="2520.4" stroke="#a9a9a9" stroke-width="1.2" stroke-dasharray="4.6 5.4"/>
<line x1="897.2" y1="2560" x2="1179" y2="2560" stroke="#a9a9a9" stroke-width="1.2" stroke-dasharray="4.6 5.4"/>
<line x1="897.2" y1="2599.7" x2="1179" y2="2599.7" stroke="#a9a9a9" stroke-width="1.2" stroke-dasharray="4.6 5.4"/>
<text x="885" y="1942.2" font-size="14.8" font-weight="bold" text-anchor="end">GO:0010506</text>
<text x="885" y="1959.2" font-size="14.8" font-weight="bold" text-anchor="end" xml:space="preserve">regulation of autop</text>
<line x1="885.7" y1="1945.6" x2="894.2" y2="1945.6" stroke="#000" stroke-width="2.2"/>
<text x="885" y="1981.8" font-size="14.8" font-weight="bold" text-anchor="end">GO:0031329</text>
<text x="885" y="1998.8" font-size="14.8" font-weight="bold" text-anchor="end" xml:space="preserve">regulation of cellu</text>
<line x1="885.7" y1="1985.2" x2="894.2" y2="1985.2" stroke="#000" stroke-width="2.2"/>
<text x="885" y="2021.5" font-size="14.8" font-weight="bold" text-anchor="end">GO:0016236</text>
<text x="885" y="2038.5" font-size="14.8" font-weight="bold" text-anchor="end" xml:space="preserve">macroautophagy</text>
<line x1="885.7" y1="2024.9" x2="894.2" y2="2024.9" stroke="#000" stroke-width="2.2"/>
<text x="885" y="2061.1" font-size="14.8" font-weight="bold" text-anchor="end">GO:0007033</text>
<text x="885" y="2078.1" font-size="14.8" font-weight="bold" text-anchor="end" xml:space="preserve">vacuole organizatio</text>
<line x1="885.7" y1="2064.5" x2="894.2" y2="2064.5" stroke="#000" stroke-width="2.2"/>
<text x="885" y="2100.8" font-size="14.8" font-weight="bold" text-anchor="end">GO:0016241</text>
<text x="885" y="2117.8" font-size="14.8" font-weight="bold" text-anchor="end" xml:space="preserve">regulation of macro</text>
<line x1="885.7" y1="2104.2" x2="894.2" y2="2104.2" stroke="#000" stroke-width="2.2"/>
<text x="885" y="2140.4" font-size="14.8" font-weight="bold" text-anchor="end">GO:0006260</text>
<text x="885" y="2157.4" font-size="14.8" font-weight="bold" text-anchor="end" xml:space="preserve">DNA replication</text>
<line x1="885.7" y1="2143.8" x2="894.2" y2="2143.8" stroke="#000" stroke-width="2.2"/>
<text x="885" y="2180" font-size="14.8" font-weight="bold" text-anchor="end">GO:0006261</text>
<text x="885" y="2197" font-size="14.8" font-weight="bold" text-anchor="end" xml:space="preserve">DNA&#8722;templated DNA r</text>
<line x1="885.7" y1="2183.4" x2="894.2" y2="2183.4" stroke="#000" stroke-width="2.2"/>
<text x="885" y="2219.7" font-size="14.8" font-weight="bold" text-anchor="end">GO:0090329</text>
<text x="885" y="2236.7" font-size="14.8" font-weight="bold" text-anchor="end" xml:space="preserve">regulation of DNA&#8722;t</text>
<line x1="885.7" y1="2223.1" x2="894.2" y2="2223.1" stroke="#000" stroke-width="2.2"/>
<text x="885" y="2259.3" font-size="14.8" font-weight="bold" text-anchor="end">GO:0006310</text>
<text x="885" y="2276.3" font-size="14.8" font-weight="bold" text-anchor="end" xml:space="preserve">DNA recombination</text>
<line x1="885.7" y1="2262.7" x2="894.2" y2="2262.7" stroke="#000" stroke-width="2.2"/>
<text x="885" y="2299" font-size="14.8" font-weight="bold" text-anchor="end">GO:0006270</text>
<text x="885" y="2316" font-size="14.8" font-weight="bold" text-anchor="end" xml:space="preserve">DNA replication ini</text>
<line x1="885.7" y1="2302.4" x2="894.2" y2="2302.4" stroke="#000" stroke-width="2.2"/>
<text x="885" y="2338.6" font-size="14.8" font-weight="bold" text-anchor="end">GO:0007059</text>
<text x="885" y="2355.6" font-size="14.8" font-weight="bold" text-anchor="end" xml:space="preserve">chromosome segregat</text>
<line x1="885.7" y1="2342" x2="894.2" y2="2342" stroke="#000" stroke-width="2.2"/>
<text x="885" y="2378.2" font-size="14.8" font-weight="bold" text-anchor="end">GO:0098813</text>
<text x="885" y="2395.2" font-size="14.8" font-weight="bold" text-anchor="end" xml:space="preserve">nuclear chromosome </text>
<line x1="885.7" y1="2381.6" x2="894.2" y2="2381.6" stroke="#000" stroke-width="2.2"/>
<text x="885" y="2417.9" font-size="14.8" font-weight="bold" text-anchor="end">GO:0000819</text>
<text x="885" y="2434.9" font-size="14.8" font-weight="bold" text-anchor="end" xml:space="preserve">sister chromatid se</text>
<line x1="885.7" y1="2421.3" x2="894.2" y2="2421.3" stroke="#000" stroke-width="2.2"/>
<text x="885" y="2457.5" font-size="14.8" font-weight="bold" text-anchor="end">GO:0000280</text>
<text x="885" y="2474.5" font-size="14.8" font-weight="bold" text-anchor="end" xml:space="preserve">nuclear division</text>
<line x1="885.7" y1="2460.9" x2="894.2" y2="2460.9" stroke="#000" stroke-width="2.2"/>
<text x="885" y="2497.2" font-size="14.8" font-weight="bold" text-anchor="end">GO:0140014</text>
<text x="885" y="2514.2" font-size="14.8" font-weight="bold" text-anchor="end" xml:space="preserve">mitotic nuclear div</text>
<line x1="885.7" y1="2500.6" x2="894.2" y2="2500.6" stroke="#000" stroke-width="2.2"/>
<text x="885" y="2536.8" font-size="14.8" font-weight="bold" text-anchor="end">GO:0000070</text>
<text x="885" y="2553.8" font-size="14.8" font-weight="bold" text-anchor="end" xml:space="preserve">mitotic sister chro</text>
<line x1="885.7" y1="2540.2" x2="894.2" y2="2540.2" stroke="#000" stroke-width="2.2"/>
<text x="885" y="2576.4" font-size="14.8" font-weight="bold" text-anchor="end">GO:2000739</text>
<text x="885" y="2593.4" font-size="14.8" font-weight="bold" text-anchor="end" xml:space="preserve">regulation of mesen</text>
<line x1="885.7" y1="2579.8" x2="894.2" y2="2579.8" stroke="#000" stroke-width="2.2"/>
<text x="885" y="2616.1" font-size="14.8" font-weight="bold" text-anchor="end">GO:0072497</text>
<text x="885" y="2633.1" font-size="14.8" font-weight="bold" text-anchor="end" xml:space="preserve">mesenchymal stem ce</text>
<line x1="885.7" y1="2619.5" x2="894.2" y2="2619.5" stroke="#000" stroke-width="2.2"/>
<circle cx="921.5" cy="1945.6" r="6.3" fill="#e05b5f" stroke="#2a1010" stroke-width="1.1"/>
<circle cx="921.5" cy="1985.2" r="6.3" fill="#e05b5f" stroke="#2a1010" stroke-width="1.1"/>
<circle cx="921.5" cy="2024.9" r="6.2" fill="#e05b5f" stroke="#2a1010" stroke-width="1.1"/>
<circle cx="921.5" cy="2064.5" r="6" fill="#e05b5f" stroke="#2a1010" stroke-width="1.1"/>
<circle cx="921.5" cy="2104.2" r="5.9" fill="#e05b5f" stroke="#2a1010" stroke-width="1.1"/>
<circle cx="967.6" cy="2143.8" r="10.7" fill="#e05b5f" stroke="#2a1010" stroke-width="1.1"/>
<circle cx="1059.7" cy="2143.8" r="6.5" fill="#e05b5f" stroke="#2a1010" stroke-width="1.1"/>
<circle cx="1151.8" cy="2143.8" r="7.9" fill="#e05b5f" stroke="#2a1010" stroke-width="1.1"/>
<circle cx="967.6" cy="2183.4" r="10.2" fill="#e05b5f" stroke="#2a1010" stroke-width="1.1"/>
<circle cx="1059.7" cy="2183.4" r="5.9" fill="#e05b5f" stroke="#2a1010" stroke-width="1.1"/>
<circle cx="1151.8" cy="2183.4" r="7.8" fill="#e05b5f" stroke="#2a1010" stroke-width="1.1"/>
<circle cx="967.6" cy="2223.1" r="8.5" fill="#e05b5f" stroke="#2a1010" stroke-width="1.1"/>
<circle cx="1151.8" cy="2223.1" r="6.1" fill="#e05b5f" stroke="#2a1010" stroke-width="1.1"/>
<circle cx="967.6" cy="2262.7" r="9.6" fill="#e05b5f" stroke="#2a1010" stroke-width="1.1"/>
<circle cx="1059.7" cy="2262.7" r="5.9" fill="#4b87c7" stroke="#2a1010" stroke-width="1.1"/>
<circle cx="1151.8" cy="2262.7" r="7.2" fill="#e05b5f" stroke="#2a1010" stroke-width="1.1"/>
<circle cx="967.6" cy="2302.4" r="8.3" fill="#e05b5f" stroke="#2a1010" stroke-width="1.1"/>
<circle cx="1059.7" cy="2302.4" r="4.2" fill="#7a7fb6" stroke="#2a1010" stroke-width="1.1"/>
<circle cx="1151.8" cy="2302.4" r="6.1" fill="#e05b5f" stroke="#2a1010" stroke-width="1.1"/>
<circle cx="967.6" cy="2342" r="7.8" fill="#e05b5f" stroke="#2a1010" stroke-width="1.1"/>
<circle cx="1013.6" cy="2342" r="9.8" fill="#e05b5f" stroke="#2a1010" stroke-width="1.1"/>
<circle cx="1059.7" cy="2342" r="6.8" fill="#e05b5f" stroke="#2a1010" stroke-width="1.1"/>
<circle cx="1151.8" cy="2342" r="9.2" fill="#e05b5f" stroke="#2a1010" stroke-width="1.1"/>
<circle cx="967.6" cy="2381.6" r="7.2" fill="#ab6f8d" stroke="#2a1010" stroke-width="1.1"/>
<circle cx="1013.6" cy="2381.6" r="9.4" fill="#e05b5f" stroke="#2a1010" stroke-width="1.1"/>
<circle cx="1059.7" cy="2381.6" r="6.5" fill="#e05b5f" stroke="#2a1010" stroke-width="1.1"/>
<circle cx="1151.8" cy="2381.6" r="8.7" fill="#e05b5f" stroke="#2a1010" stroke-width="1.1"/>
<circle cx="967.6" cy="2421.3" r="6.8" fill="#4b87c7" stroke="#2a1010" stroke-width="1.1"/>
<circle cx="1013.6" cy="2421.3" r="9.1" fill="#e05b5f" stroke="#2a1010" stroke-width="1.1"/>
<circle cx="1059.7" cy="2421.3" r="6.1" fill="#e05b5f" stroke="#2a1010" stroke-width="1.1"/>
<circle cx="1151.8" cy="2421.3" r="8.3" fill="#e05b5f" stroke="#2a1010" stroke-width="1.1"/>
<circle cx="967.6" cy="2460.9" r="7" fill="#4b87c7" stroke="#2a1010" stroke-width="1.1"/>
<circle cx="1013.6" cy="2460.9" r="9.8" fill="#e05b5f" stroke="#2a1010" stroke-width="1.1"/>
<circle cx="1059.7" cy="2460.9" r="6.8" fill="#e05b5f" stroke="#2a1010" stroke-width="1.1"/>
<circle cx="1151.8" cy="2460.9" r="9.1" fill="#e05b5f" stroke="#2a1010" stroke-width="1.1"/>
<circle cx="1013.6" cy="2500.6" r="9.4" fill="#e05b5f" stroke="#2a1010" stroke-width="1.1"/>
<circle cx="1059.7" cy="2500.6" r="6.5" fill="#e05b5f" stroke="#2a1010" stroke-width="1.1"/>
<circle cx="1151.8" cy="2500.6" r="8.5" fill="#e05b5f" stroke="#2a1010" stroke-width="1.1"/>
<circle cx="1013.6" cy="2540.2" r="9.2" fill="#e05b5f" stroke="#2a1010" stroke-width="1.1"/>
<circle cx="1059.7" cy="2540.2" r="6.2" fill="#e05b5f" stroke="#2a1010" stroke-width="1.1"/>
<circle cx="1151.8" cy="2540.2" r="8.5" fill="#e05b5f" stroke="#2a1010" stroke-width="1.1"/>
<circle cx="1105.7" cy="2579.8" r="6.5" fill="#e05b5f" stroke="#2a1010" stroke-width="1.1"/>
<circle cx="1105.7" cy="2619.5" r="6.4" fill="#e05b5f" stroke="#2a1010" stroke-width="1.1"/>
<line x1="894.2" y1="1920.5" x2="894.2" y2="2644" stroke="#000" stroke-width="2.6"/>
<line x1="893" y1="2642.8" x2="1180.3" y2="2642.8" stroke="#000" stroke-width="2.6"/>
<line x1="921.5" y1="2642.8" x2="921.5" y2="2649.3" stroke="#000" stroke-width="2.2"/>
<text x="921.5" y="2664.6" font-size="14.8" font-weight="bold" text-anchor="middle">k0</text>
<text x="921.5" y="2682.2" font-size="14.8" font-weight="bold" text-anchor="middle">(477)</text>
<line x1="967.6" y1="2642.8" x2="967.6" y2="2649.3" stroke="#000" stroke-width="2.2"/>
<text x="967.6" y="2664.6" font-size="14.8" font-weight="bold" text-anchor="middle">k1</text>
<text x="967.6" y="2682.2" font-size="14.8" font-weight="bold" text-anchor="middle">(35)</text>
<line x1="1013.6" y1="2642.8" x2="1013.6" y2="2649.3" stroke="#000" stroke-width="2.2"/>
<text x="1013.6" y="2664.6" font-size="14.8" font-weight="bold" text-anchor="middle">k2</text>
<text x="1013.6" y="2682.2" font-size="14.8" font-weight="bold" text-anchor="middle">(137)</text>
<line x1="1059.7" y1="2642.8" x2="1059.7" y2="2649.3" stroke="#000" stroke-width="2.2"/>
<text x="1059.7" y="2664.6" font-size="14.8" font-weight="bold" text-anchor="middle">k3</text>
<text x="1059.7" y="2682.2" font-size="14.8" font-weight="bold" text-anchor="middle">(406)</text>
<line x1="1105.7" y1="2642.8" x2="1105.7" y2="2649.3" stroke="#000" stroke-width="2.2"/>
<text x="1105.7" y="2664.6" font-size="14.8" font-weight="bold" text-anchor="middle">k4</text>
<text x="1105.7" y="2682.2" font-size="14.8" font-weight="bold" text-anchor="middle">(36)</text>
<line x1="1151.8" y1="2642.8" x2="1151.8" y2="2649.3" stroke="#000" stroke-width="2.2"/>
<text x="1151.8" y="2664.6" font-size="14.8" font-weight="bold" text-anchor="middle">k5</text>
<text x="1151.8" y="2682.2" font-size="14.8" font-weight="bold" text-anchor="middle">(193)</text>
<text x="1036.7" y="2704.4" font-size="16" font-weight="bold" text-anchor="middle">Cluster</text>
<text x="1204" y="2151.7" font-size="16.5" font-weight="bold">p.adjust</text>
<defs><linearGradient id="gH" x1="0" y1="0" x2="0" y2="1"><stop offset="0" stop-color="#e15a5c"/><stop offset=".5" stop-color="#a86c8e"/><stop offset="1" stop-color="#4a88c8"/></linearGradient></defs>
<rect x="1204.2" y="2161.3" width="29.3" height="99.7" fill="url(#gH)"/>
<line x1="1204.2" y1="2181.8" x2="1209" y2="2181.8" stroke="#fff" stroke-width="0.8" opacity=".6"/>
<line x1="1228.7" y1="2181.8" x2="1233.5" y2="2181.8" stroke="#fff" stroke-width="0.8" opacity=".6"/>
<text x="1239.8" y="2186.4" font-size="12.8">0.01</text>
<line x1="1204.2" y1="2202.7" x2="1209" y2="2202.7" stroke="#fff" stroke-width="0.8" opacity=".6"/>
<line x1="1228.7" y1="2202.7" x2="1233.5" y2="2202.7" stroke="#fff" stroke-width="0.8" opacity=".6"/>
<text x="1239.8" y="2207.3" font-size="12.8">0.02</text>
<line x1="1204.2" y1="2223.7" x2="1209" y2="2223.7" stroke="#fff" stroke-width="0.8" opacity=".6"/>
<line x1="1228.7" y1="2223.7" x2="1233.5" y2="2223.7" stroke="#fff" stroke-width="0.8" opacity=".6"/>
<text x="1239.8" y="2228.3" font-size="12.8">0.03</text>
<line x1="1204.2" y1="2244.6" x2="1209" y2="2244.6" stroke="#fff" stroke-width="0.8" opacity=".6"/>
<line x1="1228.7" y1="2244.6" x2="1233.5" y2="2244.6" stroke="#fff" stroke-width="0.8" opacity=".6"/>
<text x="1239.8" y="2249.2" font-size="12.8">0.04</text>
<text x="1204" y="2306.5" font-size="16.5" font-weight="bold">GeneRatio</text>
<circle cx="1218.8" cy="2325.4" r="6.3" fill="none" stroke="#000" stroke-width="1"/>
<text x="1239.8" y="2330" font-size="12.8">0.1</text>
<circle cx="1218.8" cy="2345.9" r="7.5" fill="none" stroke="#000" stroke-width="1"/>
<text x="1239.8" y="2350.5" font-size="12.8">0.2</text>
<circle cx="1218.8" cy="2366.4" r="8.6" fill="none" stroke="#000" stroke-width="1"/>
<text x="1239.8" y="2371" font-size="12.8">0.3</text>
<circle cx="1218.8" cy="2389.4" r="9.5" fill="none" stroke="#000" stroke-width="1"/>
<text x="1239.8" y="2394" font-size="12.8">0.4</text>
<circle cx="1218.8" cy="2413.3" r="10.4" fill="none" stroke="#000" stroke-width="1"/>
<text x="1239.8" y="2417.9" font-size="12.8">0.5</text>
<text x="1375.7" y="1862.6" font-size="39" font-weight="bold">i</text>
<text x="1685.1" y="1940" font-size="18.3" font-weight="bold" text-anchor="middle">UT</text>
<path transform="scale(.5)" d="M3130 4359h0m1-4h0m1 3h0m1-10h0m1-2h0m1 27h0m1-33h0m1 13h0m0 1h0m1-8h0m1 16h0m0-36h0m1 26h0m0-6h0m1 6h0m1-14h0m0 22h0m1-2h0m1-15h0m0-23h0m1 36h0m1-9h0m1-11h0m1 11h0m0 10h0m1-7h0m1-9h0m1-36h0m1 38h0m0-25h0m0-4h0m1 35h0m0-13h0m1-20h0m0 23h0m1-23h0m0 18h0m1-24h0m1 16h0m0 19h0m0-6h0m1 10h0m1-27h0m0 23h0m0-1h0m1-60h0m0 38h0m1 3h0m0 7h0m2-3h0m1 8h0m1-18h0m1 26h0m1-10h0m0-10h0m0 3h0m1 4h0m1-6h0m0 7h0m1-15h0m0-11h0m0 3h0m1 6h0m1 13h0m0-3h0m1-5h0m0 7h0m1 10h0m0-14h0m1 3h0m1-11h0m0 4h0m1-1h0m1 3h0m0-7h0m1 1h0m0 8h0m1-93h0m0 82h0m1 15h0m1 2h0m0-10h0m1 5h0m1-7h0m0-41h0m0 37h0m1 2h0m0-4h0m1-2h0m0 12h0m0 2h0m1-6h0m1 1h0m0 9h0m1 0h0m0-24h0m0 29h0m1-26h0m1-30h0m1 47h0m0 12h0m1-13h0m1-3h0m0-13h0m0-5h0m1-4h0m1 11h0m0-2h0m0 4h0m0-15h0m1 28h0m0 0h0m1-17h0m0 5h0m0 3h0m1-6h0m1-18h0m1 15h0m0 12h0m0-12h0m0 14h0m1-35h0m0 33h0m1-4h0m1 3h0m1-14h0m0-1h0m0-26h0m1 29h0m1 9h0m0-18h0m1 6h0m0-4h0m1 7h0m1-45h0m0 32h0m1-3h0m1 0h0m1 1h0m0 29h0m0-9h0m1-12h0m1 3h0m0 12h0m1-23h0m0 18h0m0-12h0m1-7h0m0 12h0m1-5h0m1-23h0m0 35h0m1 2h0m2-32h0m0-22h0m1 18h0m1 20h0m0 9h0m0-1h0m1-84h0m0 74h0m1-6h0m1 4h0m0-5h0m1 1h0m1-22h0m0 23h0m1 11h0m0-15h0m1 13h0m0-18h0m1-27h0m0 46h0m1-107h0m0 101h0m1-7h0m0-1h0m1 8h0m1-49h0m0 36h0m0 11h0m0 0h0m1-9h0m0 20h0m1-5h0m0-27h0m1 24h0m1-18h0m0-14h0m0 31h0m1 5h0m1-3h0m0-2h0m1 3h0m1 1h0m0-17h0m1 9h0m1-21h0m0 9h0m1-9h0m0 1h0m0 15h0m1-49h0m1 29h0m0 19h0m1-17h0m1 5h0m0 10h0m0-28h0m1 20h0m0-53h0m1 65h0m1-28h0m0 20h0m0-5h0m1-39h0m0 9h0m1-34h0m0 65h0m1 1h0m1-2h0m0 1h0m0-18h0m1 7h0m0 26h0m1-17h0m0 1h0m1-59h0m1 57h0m0-10h0m0 11h0m2-20h0m0 27h0m1-12h0m0-1h0m1 14h0m0-1h0m0-35h0m0 32h0m1-57h0m0 37h0m1-4h0m0-5h0m1 27h0m1-16h0m1 17h0m0-28h0m1-27h0m0 43h0m1-1h0m1-2h0m1 2h0m1-22h0m0 22h0m1 2h0m1-12h0m0 5h0m0-36h0m1 28h0m1-13h0m0 3h0m1 11h0m1 6h0m1-21h0m0 25h0m1-30h0m0 14h0m1-3h0m1 19h0m1-17h0m0-19h0m1 48h0m0-12h0m1-41h0m1 27h0m1-3h0m1 10h0m0-38h0m1 16h0m1-20h0m1 37h0m1-30h0m1 43h0m0-20h0m1 1h0m1-9h0m1 15h0m1-4h0m1-5h0m1-13h0m0-61h0m1 73h0m0-47h0m1 12h0m1 32h0m1-8h0m0-6h0m0 8h0m1 15h0m1-3h0m0-11h0m2-23h0m1 38h0m0-6h0m0-13h0m1-9h0m1 10h0m1 2h0m0-3h0m1 9h0m1-3h0m0-11h0m1-85h0m1 98h0m1 14h0m1-31h0m1-10h0m1 30h0m2-101h0m0 35h0m1 73h0m0-22h0m0 6h0m1-30h0m0 7h0m1 7h0m1 12h0m2-11h0m1-25h0m1 33h0m2-19h0m1-41h0m1 64h0m0-20h0m2 1h0m1 11h0m1-5h0m1-19h0m1 27h0m1-30h0m0 19h0m1 16h0m1-34h0m1 27h0m0-7h0m2-24h0m1-1h0m2-11h0m1 29h0m1 1h0m1-26h0m2 11h0m2 11h0m0 6h0m2-109h0m0 120h0m1-20h0m0-66h0m1 52h0m1-73h0m1 67h0m1 3h0m3 30h0m3-7h0m3 21h0m0-33h0m2 6h0m1 10h0m1 17h0m2-35h0m1-79h0m1 71h0m1 7h0m1-42h0m1 18h0m1-5h0m1 20h0m2 16h0m3-53h0m2 22h0m1 27h0m1 26h0m2-56h0m2 41h0m1-22h0m2-31h0m6 45h0m0-6h0m2-39h0m3-13h0m3 18h0m1-13h0m3-1h0m2-60h0m2 76h0m3 0h0m0-61h0m2 49h0m3-76h0m1 82h0m2-2h0m3-36h0m3 28h0m1 11h0m5-97h0m2 87h0m2-13h0m6-2h0m2-19h0m5 22h0m6-43h0m4 34h0m4-3h0m3-31h0m3 24h0m5-31h0m2 49h0m4 9h0m3-64h0m3-63h0m1 73h0m6 14h0m2 3h0m7-28h0m5 14h0m2-34h0m4 11h0m4 1h0m3 0h0m3 2h0m2-24h0m4 35h0m5 19h0m2-22h0m1 9h0m4-74h0m4 67h0m2-30h0m4-17h0m3 12h0m2-101h0m2 1h0m5 105h0m4-13h0m6 33h0m4-65h0m4 28h0m3-69h0m3 97h0m2-48h0" stroke="#3db088" stroke-opacity=".45" stroke-width="9.4" stroke-linecap="round" fill="none"/>
<path transform="scale(.5)" d="M3130 4360h0m1-9h0m1-1h0m1 12h0m1-2h0m2-20h0m0 2h0m1 7h0m0-8h0m1 21h0m1-9h0m0-5h0m1 1h0m0 3h0m2-52h0m0 48h0m0-1h0m1 1h0m1 5h0m0-5h0m2-3h0m1 13h0m0-4h0m1-30h0m0-6h0m1 29h0m1-4h0m1-15h0m1 13h0m0 5h0m1-11h0m0 1h0m0-45h0m1 41h0m1 12h0m0 3h0m0-26h0m1 9h0m1 3h0m0-13h0m1 27h0m0 1h0m1-8h0m0-4h0m0-8h0m1 9h0m0-6h0m1-6h0m1 29h0m1-28h0m2 6h0m0-11h0m1 6h0m1 7h0m0-1h0m0-9h0m1-20h0m1 34h0m0-8h0m1-1h0m0-19h0m0-1h0m1 22h0m1 16h0m0-10h0m1-9h0m0-7h0m1-10h0m0 11h0m1-27h0m1 20h0m0-25h0m1 33h0m1-9h0m0-2h0m1 9h0m1-10h0m0 31h0m1-24h0m0-9h0m1 28h0m0-10h0m1-8h0m1 5h0m0-16h0m0 7h0m1-11h0m0 22h0m1-9h0m0 0h0m1-10h0m1-2h0m0 14h0m0-21h0m1 23h0m0 0h0m1-11h0m0-10h0m1 7h0m1 3h0m0 22h0m1-64h0m1 34h0m0 17h0m1-8h0m0 9h0m1-9h0m0-3h0m0-40h0m0 41h0m1-43h0m0 28h0m1 1h0m0 15h0m0 8h0m1-4h0m1-5h0m1 1h0m0-28h0m0 33h0m0-1h0m1 0h0m1-19h0m0 21h0m1-2h0m1 3h0m0-14h0m0 17h0m1-14h0m1-15h0m0 12h0m1 5h0m1-12h0m1 1h0m0-49h0m0 46h0m1-1h0m2-46h0m0 51h0m0 0h0m1 1h0m0-13h0m1 1h0m0 4h0m1-61h0m0 66h0m1 1h0m0-7h0m1-4h0m1-15h0m0 30h0m0-2h0m2 8h0m1-24h0m0 27h0m1-12h0m1 3h0m0-12h0m1 4h0m0-5h0m0 8h0m1-4h0m1-7h0m0-52h0m1 61h0m1-5h0m0 2h0m1 6h0m0 1h0m1-22h0m0-3h0m1 22h0m0-13h0m1 0h0m0-8h0m1-4h0m0 11h0m1 23h0m1-24h0m0 7h0m0-33h0m1 24h0m0 9h0m0-15h0m1-8h0m1 9h0m0-27h0m1 24h0m0 4h0m0 5h0m1 5h0m1 7h0m1-27h0m0 17h0m1 10h0m0 0h0m1-20h0m1-27h0m0 56h0m1-38h0m0 0h0m0-15h0m1-10h0m1 39h0m0-18h0m1-55h0m1 60h0m0-15h0m0 29h0m1 0h0m1 15h0m0-80h0m1 77h0m0-28h0m1 24h0m0-6h0m1-16h0m0 21h0m0-10h0m1 10h0m1-6h0m0-12h0m1-4h0m0-2h0m0 8h0m1 2h0m0 18h0m1-22h0m1-14h0m0 25h0m1-36h0m1 9h0m0 1h0m1 26h0m0-8h0m1-18h0m0 7h0m0 7h0m1 13h0m0-8h0m0 8h0m1-27h0m0-123h0m1 129h0m1-83h0m1 79h0m0-29h0m1-27h0m1 66h0m0-5h0m1-10h0m1 31h0m1-13h0m0 6h0m1-25h0m1-2h0m0-4h0m1 28h0m0-22h0m1 9h0m0-15h0m1 5h0m1 15h0m1-15h0m0-67h0m1 66h0m1 7h0m1-9h0m0-45h0m1 74h0m0-35h0m1-17h0m0 1h0m2-63h0m0 92h0m1-16h0m1 20h0m1-61h0m0 38h0m1 23h0m1-72h0m1-4h0m1 42h0m0 22h0m1 11h0m2-27h0m1 23h0m1-12h0m0-12h0m1 2h0m0 3h0m1-9h0m0-11h0m1 20h0m1-26h0m1 5h0m0 24h0m1 6h0m0-23h0m1 18h0m0 6h0m2-40h0m1 41h0m0-24h0m1 10h0m0-2h0m1-9h0m1 5h0m1-18h0m1-64h0m0 74h0m0 7h0m1-28h0m1 10h0m1 14h0m1 6h0m2-3h0m1 14h0m1-24h0m1 10h0m0 21h0m0-15h0m1-6h0m0-40h0m1-30h0m0 78h0m2-15h0m1 33h0m1-23h0m1-16h0m2-4h0m1 34h0m1-18h0m0-88h0m2 73h0m1 14h0m1-10h0m1-45h0m1 21h0m1 35h0m0 28h0m2-46h0m1 10h0m0 3h0m0-21h0m2 48h0m2-41h0m2 19h0m0-21h0m1 14h0m2-41h0m1 27h0m2-15h0m1-59h0m1 55h0m0 29h0m1 5h0m0-34h0m1 31h0m2-21h0m0-20h0m1 7h0m4 28h0m4-29h0m1-21h0m1 52h0m1-25h0m2 3h0m0 17h0m2-109h0m1 130h0m1-59h0m2 23h0m1-1h0m0-23h0m1 32h0m1-12h0m4-37h0m1 47h0m2-14h0m1-8h0m1-18h0m2-13h0m2 44h0m2-21h0m2 22h0m5-6h0m1-22h0m3 9h0m2-16h0m3 15h0m1-20h0m3-17h0m1 18h0m3 22h0m2-40h0m1 5h0m1 10h0m3-15h0m3 46h0m1-26h0m3 24h0m2-73h0m3 48h0m3 11h0m2-44h0m3-9h0m5 29h0m4-35h0m4 29h0m7-45h0m4 39h0m3-5h0m3-54h0m3 9h0m4 62h0m6-64h0m1 64h0m2-31h0m3 44h0m3-134h0m4 98h0m3-38h0m7 25h0m4-9h0m2-45h0m5 20h0m3 5h0m4-5h0m2-46h0m3 68h0m4-31h0m5-26h0m1 23h0m2 13h0m3-41h0m4 14h0m5-21h0m2 52h0m2-18h0m4-33h0m2 14h0m4-20h0m5 25h0m5-28h0m3-60h0m4 70h0m3-4h0m3-30h0m2 87h0" stroke="#3db088" stroke-opacity=".45" stroke-width="9.4" stroke-linecap="round" fill="none"/>
<path transform="scale(.5)" d="M3131 4354h0m0 10h0m1-19h0m1 1h0m1 12h0m2-38h0m1 47h0m0-7h0m1 3h0m0-25h0m1 11h0m1-3h0m0 9h0m0 9h0m2 0h0m0-21h0m0 3h0m1 3h0m1-1h0m1-1h0m1-22h0m1 4h0m0 27h0m1-20h0m1-23h0m1 35h0m1-9h0m1 9h0m0-55h0m0 31h0m1 4h0m0 0h0m1-12h0m0 16h0m1-8h0m0 20h0m1-11h0m0 22h0m1-23h0m0 17h0m1-8h0m0 19h0m1-34h0m0 11h0m0 11h0m1-19h0m0 1h0m1-2h0m1 21h0m2-19h0m1-5h0m0-25h0m1 35h0m1 12h0m0-7h0m1-2h0m0 2h0m1-48h0m0 55h0m1-9h0m0-22h0m1 13h0m0 11h0m1-21h0m0 2h0m1 10h0m1 1h0m0 0h0m0-45h0m1 59h0m1-8h0m1-37h0m1 32h0m0 0h0m0-5h0m1-50h0m1 39h0m0 5h0m1-3h0m0 4h0m1-72h0m0 99h0m1-65h0m1 44h0m0-28h0m0-22h0m1 45h0m0 6h0m1-21h0m0 9h0m1 10h0m1-2h0m0-2h0m1-44h0m0-56h0m0 89h0m1 4h0m1 1h0m0-30h0m1 28h0m0-15h0m1 2h0m1 5h0m0-4h0m1 15h0m0-6h0m1-26h0m0 33h0m0-6h0m0-83h0m1 98h0m0-28h0m1-13h0m0 22h0m1 1h0m0-4h0m1-16h0m1 25h0m0-49h0m0 48h0m0-19h0m1-36h0m1 37h0m1 24h0m0-56h0m1 39h0m0 5h0m0 0h0m2-5h0m0 12h0m1-10h0m0 0h0m1-3h0m1-19h0m0 0h0m0 11h0m2 13h0m1 11h0m0-14h0m0 3h0m1-11h0m0 7h0m1-8h0m0 17h0m1-34h0m0 6h0m1 21h0m0-109h0m1 92h0m1-2h0m0 8h0m0-68h0m2 79h0m1-9h0m0-65h0m1 51h0m1-34h0m0 34h0m1 20h0m0-32h0m0 18h0m1-15h0m1 22h0m0-7h0m1 4h0m1 5h0m0-2h0m1-23h0m1-5h0m0 3h0m1-27h0m0 51h0m0-5h0m1-13h0m0-2h0m1 16h0m1-14h0m0 23h0m1-30h0m0 31h0m0-33h0m1 24h0m0 17h0m1-32h0m0 16h0m1-17h0m0-3h0m1 5h0m0-21h0m1 30h0m0-1h0m1-22h0m1 18h0m0-20h0m1 14h0m0-18h0m1-31h0m1 33h0m0-3h0m1 16h0m0-3h0m1 3h0m0 8h0m1-20h0m1 14h0m0-1h0m1-63h0m0 69h0m1-30h0m0-30h0m1-73h0m1 125h0m0-5h0m0 7h0m1-12h0m0-3h0m1-2h0m0-7h0m0 33h0m1 15h0m1-9h0m0-24h0m1 13h0m0-28h0m0 23h0m1-13h0m1 3h0m0 6h0m1 3h0m0-11h0m1 23h0m1-16h0m1 7h0m0-2h0m0-26h0m1 16h0m0-3h0m0-22h0m1 18h0m0-12h0m1 8h0m0 5h0m0 11h0m1-12h0m1 1h0m1 1h0m0-16h0m1 26h0m1-13h0m0 19h0m2-17h0m0 8h0m1-14h0m1 20h0m0-13h0m1-12h0m0-72h0m1 89h0m0-2h0m1 8h0m0-25h0m1 49h0m1-38h0m1 2h0m1-22h0m0 24h0m1-44h0m1 12h0m0-10h0m1 20h0m0-19h0m1 70h0m0-44h0m2 3h0m1-20h0m0 0h0m1 0h0m1-3h0m1 6h0m0 7h0m2-3h0m0-10h0m1 1h0m1 6h0m0 14h0m2-18h0m1 23h0m1 5h0m0-16h0m1-78h0m0 76h0m1-9h0m1-10h0m0 13h0m1-35h0m1 16h0m0-9h0m1 25h0m0-10h0m1-9h0m0 6h0m2 9h0m1 17h0m0-4h0m1-26h0m0 5h0m1 16h0m1-1h0m1 4h0m1 20h0m0-26h0m1 5h0m1 4h0m0-4h0m1-40h0m2 41h0m1-5h0m1-10h0m1 2h0m1 3h0m0-21h0m0 11h0m1 3h0m0-1h0m1 2h0m1 0h0m1-73h0m1 77h0m2-23h0m1-8h0m1 43h0m1-79h0m1 97h0m1-52h0m2-10h0m1 22h0m0-20h0m1 38h0m1 4h0m1-54h0m0 28h0m2 21h0m1-60h0m0 41h0m1 6h0m1-14h0m3-42h0m1 31h0m1-1h0m0 11h0m2-7h0m1 0h0m2 7h0m1-77h0m1 75h0m0 10h0m1-8h0m0-12h0m1-13h0m2 25h0m0-26h0m2 14h0m4-4h0m3-9h0m1 37h0m1-16h0m2 0h0m1-23h0m1-83h0m2 96h0m0-17h0m1 14h0m2-16h0m1 27h0m0-35h0m1 16h0m2-4h0m3-8h0m2 5h0m1-23h0m2 47h0m1-4h0m2-70h0m1 42h0m2 4h0m3 2h0m4-13h0m2 9h0m3-23h0m1-32h0m3 60h0m2-18h0m2-104h0m1 74h0m4 39h0m1-9h0m1-52h0m1 48h0m3 0h0m3-6h0m3 16h0m2-11h0m1-1h0m3-11h0m4 12h0m2-24h0m3 7h0m5-23h0m5-105h0m5 95h0m4 43h0m4-53h0m4-13h0m2 36h0m6-40h0m2 40h0m5 7h0m2-37h0m2-20h0m2-105h0m5 27h0m3 68h0m4 54h0m6 13h0m3-47h0m3 8h0m5 19h0m3-51h0m3 12h0m2 10h0m4-10h0m5-10h0m3-14h0m2 8h0m3 27h0m2-82h0m4 45h0m4 50h0m2-17h0m3-3h0m3-10h0m3 18h0m4-13h0m4 22h0m6-112h0m4-18h0m3 72h0m2-42h0m3 36h0m3-16h0" stroke="#3db088" stroke-opacity=".45" stroke-width="9.4" stroke-linecap="round" fill="none"/>
<path transform="scale(.5)" d="M3131 4369h0m0-16h0m2 25h0m0-96h0m2 63h0m1 7h0m1-5h0m0-27h0m1 26h0m0 13h0m1-23h0m1 5h0m0 7h0m0-14h0m2 18h0m0-13h0m1-5h0m0-40h0m1 35h0m1 22h0m1-3h0m1-3h0m1 10h0m0-12h0m1-2h0m1-14h0m1 9h0m1 17h0m0-21h0m0 21h0m1 0h0m0-9h0m1-4h0m0-5h0m1 15h0m0-15h0m1-6h0m0 5h0m1 5h0m0 5h0m1-1h0m0 5h0m1-15h0m0-2h0m0-6h0m1 13h0m1-37h0m0 16h0m2 10h0m1 20h0m1-17h0m1 8h0m0-2h0m1-58h0m0 49h0m1 4h0m0 11h0m1-13h0m0 3h0m1-2h0m0 2h0m1-11h0m1 3h0m0-4h0m0-47h0m1 59h0m1-30h0m0 4h0m0 22h0m2 10h0m0-22h0m1-3h0m1 7h0m0 5h0m0 0h0m1 4h0m1 4h0m0-8h0m1-13h0m1-6h0m0 7h0m0-5h0m2 2h0m0-40h0m0 52h0m1-18h0m0 25h0m0-3h0m1-20h0m0 10h0m1 2h0m1-16h0m0 16h0m1-60h0m0 31h0m0 36h0m1-1h0m1 12h0m0-27h0m1 10h0m0-11h0m1 27h0m1-26h0m0-7h0m1 13h0m0-6h0m1-3h0m0 1h0m0 20h0m0 0h0m1-35h0m0 30h0m1-13h0m0-1h0m1-28h0m0 29h0m1-15h0m1 13h0m0 2h0m0-75h0m1 77h0m0-3h0m1 8h0m1-17h0m1 2h0m0-17h0m0 29h0m0-2h0m2 14h0m0-18h0m1-24h0m0 24h0m1-1h0m1 4h0m0-4h0m1-23h0m1 1h0m1 14h0m0-2h0m0 12h0m1-12h0m0 7h0m1-15h0m1-22h0m0 39h0m0-12h0m1-1h0m0 34h0m1-123h0m1 113h0m0-28h0m0-2h0m3 11h0m0-21h0m0 33h0m2-27h0m0 13h0m0-13h0m1 10h0m0-12h0m1 18h0m1-12h0m0-13h0m0 13h0m1-12h0m1-37h0m0 29h0m1 15h0m1 2h0m0 16h0m1-21h0m0 4h0m0-4h0m1 25h0m1-5h0m0-71h0m1 76h0m1-28h0m0 12h0m0-84h0m0 78h0m1-20h0m0 17h0m1 10h0m0-8h0m1 16h0m0-5h0m1-16h0m0 15h0m1-7h0m1-9h0m0-42h0m1 26h0m1 56h0m0-63h0m1 28h0m0-13h0m1 6h0m0-33h0m1 24h0m0-2h0m1 6h0m1 34h0m0-17h0m1-34h0m1 39h0m0 7h0m0-55h0m1 33h0m0-19h0m1 20h0m1-34h0m0 30h0m0 0h0m1 6h0m0 13h0m1-15h0m0-10h0m1-75h0m0 90h0m1 3h0m0-23h0m1 10h0m0-57h0m1 62h0m0-7h0m1-2h0m1-22h0m0 6h0m0 1h0m1-5h0m1-51h0m1 77h0m0-1h0m1-8h0m0 13h0m0-45h0m0 33h0m1-3h0m0 18h0m1-2h0m0-21h0m1-80h0m0-1h0m1 61h0m1 23h0m0-1h0m1-1h0m1-11h0m0 1h0m2 0h0m1 10h0m0 4h0m1-12h0m1 6h0m0-20h0m0 24h0m1-31h0m0 31h0m1-20h0m1-51h0m0 46h0m1 18h0m1-61h0m1 15h0m0 53h0m1-30h0m1-61h0m0 51h0m1 20h0m0-40h0m1 48h0m1-3h0m1-3h0m1-5h0m1 15h0m0-45h0m1 51h0m1-29h0m0 34h0m2-38h0m1 25h0m0-14h0m1 5h0m1-13h0m1 10h0m1-17h0m1 14h0m1 2h0m0-9h0m0-65h0m1 99h0m1-38h0m0-75h0m2 80h0m0-2h0m0 12h0m1-4h0m1 1h0m0 2h0m2 16h0m1-33h0m0-6h0m0 10h0m1 12h0m0-3h0m2 5h0m0 2h0m1-11h0m1-15h0m0 17h0m1 7h0m1 5h0m1-26h0m0 10h0m2-4h0m1-37h0m1 18h0m1 13h0m1-29h0m0 19h0m0 28h0m1 2h0m0-27h0m1 3h0m1-16h0m1 36h0m2-1h0m1-64h0m1 50h0m2-105h0m0 86h0m1 1h0m1 38h0m2-26h0m1 5h0m1-17h0m0-15h0m2-42h0m0 54h0m1 26h0m1-29h0m1 0h0m0 20h0m1-1h0m2-9h0m2 2h0m1-20h0m1 4h0m0 20h0m3 10h0m1-24h0m1 23h0m2-41h0m0-4h0m0 9h0m1 12h0m1-8h0m1-14h0m1-14h0m1-34h0m2 50h0m4-23h0m3 39h0m0 2h0m1 14h0m2 12h0m1-52h0m2 15h0m1-18h0m0 5h0m2 32h0m1-128h0m1 91h0m1 26h0m0-43h0m2-4h0m4 62h0m1-44h0m2-57h0m1 76h0m2-80h0m1 74h0m1-48h0m3 32h0m5 17h0m1-66h0m2 62h0m3-3h0m3-56h0m1 31h0m2 21h0m2-30h0m3 26h0m2-45h0m1 32h0m2 9h0m1 32h0m3-66h0m2 2h0m3 49h0m2-19h0m1-13h0m4-30h0m3 15h0m3-27h0m5 27h0m3-24h0m5 11h0m5-124h0m4 110h0m5-10h0m3 27h0m2-48h0m6 67h0m2-33h0m4-16h0m2 2h0m3-6h0m2-2h0m5 40h0m2-43h0m6 18h0m7-132h0m2 109h0m2 16h0m4-12h0m4-57h0m3 62h0m2-38h0m4 22h0m5 19h0m2-47h0m2 19h0m4-6h0m1 9h0m4-21h0m4-49h0m2-50h0m4 72h0m2 61h0m4-9h0m5-16h0m5-73h0m4 66h0m5-40h0m2 25h0m3-26h0m2 50h0m3-52h0" stroke="#3db088" stroke-opacity=".45" stroke-width="9.4" stroke-linecap="round" fill="none"/>
<g fill="#d9a43a" stroke="#2b2000" stroke-width=".8"><circle cx="1574.8" cy="2178.8" r="3.2"/><circle cx="1622.1" cy="2140.5" r="3.2"/><circle cx="1683.4" cy="2107.2" r="3.2"/><circle cx="1672.3" cy="2109.2" r="3.2"/><circle cx="1596.4" cy="2165.5" r="3.2"/><circle cx="1617.9" cy="2148.6" r="3.2"/><circle cx="1579.3" cy="2179.4" r="3.2"/><circle cx="1610.6" cy="2153.9" r="3.2"/><circle cx="1620.1" cy="2140.2" r="3.2"/><circle cx="1646.6" cy="2127" r="3.2"/><circle cx="1593.9" cy="2164.3" r="3.2"/><circle cx="1630.9" cy="2142.9" r="3.2"/><circle cx="1573.5" cy="2177.6" r="3.2"/><circle cx="1624.7" cy="2138.2" r="3.2"/><circle cx="1584.5" cy="2160.3" r="3.2"/><circle cx="1646.6" cy="2129.7" r="3.2"/><circle cx="1574.3" cy="2181.6" r="3.2"/><circle cx="1594.4" cy="2161.1" r="3.2"/><circle cx="1609.5" cy="2153.6" r="3.2"/><circle cx="1663.1" cy="2104.7" r="3.2"/><circle cx="1605" cy="2156.8" r="3.2"/><circle cx="1642" cy="2137.5" r="3.2"/><circle cx="1659.2" cy="2111" r="3.2"/><circle cx="1632" cy="2128" r="3.2"/><circle cx="1647.5" cy="2126" r="3.2"/><circle cx="1665.8" cy="2122.6" r="3.2"/><circle cx="1681.9" cy="2106.5" r="3.2"/><circle cx="1602" cy="2154.2" r="3.2"/><circle cx="1623.7" cy="2142.8" r="3.2"/><circle cx="1658.7" cy="2125.1" r="3.2"/><circle cx="1635.5" cy="2134" r="3.2"/><circle cx="1678.3" cy="2108.9" r="3.2"/><circle cx="1630.9" cy="2143.7" r="3.2"/><circle cx="1571.6" cy="2175.6" r="3.2"/><circle cx="1659.7" cy="2124.1" r="3.2"/><circle cx="1611.3" cy="2151.7" r="3.2"/><circle cx="1632.6" cy="2139.1" r="3.2"/><circle cx="1650.4" cy="2121.3" r="3.2"/><circle cx="1675.6" cy="2110.6" r="3.2"/><circle cx="1726" cy="2083" r="3.2"/><circle cx="1657.5" cy="2125.1" r="3.2"/><circle cx="1634.7" cy="2128" r="3.2"/><circle cx="1619" cy="2154.6" r="3.2"/><circle cx="1654.8" cy="2126.9" r="3.2"/><circle cx="1576.9" cy="2174.1" r="3.2"/><circle cx="1710.8" cy="2078" r="3.2"/><circle cx="1734.4" cy="2075.4" r="3.2"/><circle cx="1655.2" cy="2131.5" r="3.2"/><circle cx="1611.8" cy="2139.8" r="3.2"/><circle cx="1640" cy="2127.8" r="3.2"/><circle cx="1622.1" cy="2156.9" r="3.2"/><circle cx="1698.9" cy="2096.5" r="3.2"/><circle cx="1635.4" cy="2137" r="3.2"/><circle cx="1624.8" cy="2141.2" r="3.2"/><circle cx="1694.3" cy="2089.2" r="3.2"/><circle cx="1678.8" cy="2093.9" r="3.2"/><circle cx="1584.8" cy="2172.7" r="3.2"/><circle cx="1644.1" cy="2134.7" r="3.2"/><circle cx="1609.2" cy="2150.8" r="3.2"/><circle cx="1665.3" cy="2104.9" r="3.2"/><circle cx="1670.1" cy="2120.5" r="3.2"/><circle cx="1696.8" cy="2095.1" r="3.2"/><circle cx="1663.7" cy="2110.9" r="3.2"/><circle cx="1600" cy="2155.5" r="3.2"/><circle cx="1609.7" cy="2153.8" r="3.2"/><circle cx="1587.1" cy="2162.2" r="3.2"/><circle cx="1597.1" cy="2157.9" r="3.2"/><circle cx="1621.1" cy="2144.4" r="3.2"/><circle cx="1640" cy="2131.1" r="3.2"/><circle cx="1604.4" cy="2157.3" r="3.2"/><circle cx="1643.7" cy="2135.7" r="3.2"/><circle cx="1598.3" cy="2161.1" r="3.2"/><circle cx="1632.5" cy="2138.5" r="3.2"/><circle cx="1656.6" cy="2116.5" r="3.2"/><circle cx="1589.6" cy="2162.9" r="3.2"/><circle cx="1628.8" cy="2137.3" r="3.2"/><circle cx="1732.2" cy="2074.3" r="3.2"/><circle cx="1588.7" cy="2168.6" r="3.2"/><circle cx="1633.7" cy="2138.2" r="3.2"/><circle cx="1594.7" cy="2162.8" r="3.2"/><circle cx="1666.1" cy="2115.2" r="3.2"/><circle cx="1671.3" cy="2113.5" r="3.2"/><circle cx="1654.3" cy="2127.7" r="3.2"/><circle cx="1673" cy="2112.3" r="3.2"/><circle cx="1617.8" cy="2148.4" r="3.2"/><circle cx="1709.7" cy="2090.3" r="3.2"/><circle cx="1610.7" cy="2147.2" r="3.2"/><circle cx="1648.4" cy="2121.6" r="3.2"/><circle cx="1600.8" cy="2157.9" r="3.2"/><circle cx="1638.9" cy="2122.3" r="3.2"/><circle cx="1692.2" cy="2101.4" r="3.2"/><circle cx="1622.7" cy="2129.9" r="3.2"/><circle cx="1630.2" cy="2131.1" r="3.2"/><circle cx="1596.6" cy="2153.8" r="3.2"/><circle cx="1605.3" cy="2149.9" r="3.2"/><circle cx="1569.7" cy="2174.7" r="3.2"/><circle cx="1597.8" cy="2161.2" r="3.2"/><circle cx="1675.1" cy="2115.8" r="3.2"/><circle cx="1628.8" cy="2139.9" r="3.2"/><circle cx="1593.6" cy="2160.7" r="3.2"/><circle cx="1580.2" cy="2180.9" r="3.2"/><circle cx="1626.8" cy="2139.6" r="3.2"/><circle cx="1690.5" cy="2099.3" r="3.2"/><circle cx="1667.1" cy="2121" r="3.2"/><circle cx="1569.1" cy="2183.9" r="3.2"/><circle cx="1646.7" cy="2123.7" r="3.2"/><circle cx="1619.4" cy="2147.5" r="3.2"/><circle cx="1603.1" cy="2147.4" r="3.2"/><circle cx="1727.9" cy="2076.6" r="3.2"/><circle cx="1701.5" cy="2088.5" r="3.2"/><circle cx="1641.5" cy="2143.6" r="3.2"/><circle cx="1669.8" cy="2113.2" r="3.2"/><circle cx="1607.5" cy="2154.7" r="3.2"/><circle cx="1572.3" cy="2180.5" r="3.2"/><circle cx="1580.7" cy="2164.5" r="3.2"/><circle cx="1655" cy="2119" r="3.2"/><circle cx="1686" cy="2104.7" r="3.2"/><circle cx="1639.3" cy="2130.7" r="3.2"/><circle cx="1609.4" cy="2146" r="3.2"/><circle cx="1597.1" cy="2154.5" r="3.2"/><circle cx="1579.5" cy="2171.1" r="3.2"/><circle cx="1602.3" cy="2158.9" r="3.2"/><circle cx="1593.4" cy="2156.5" r="3.2"/><circle cx="1679.9" cy="2098.5" r="3.2"/><circle cx="1588.6" cy="2169.8" r="3.2"/><circle cx="1599.1" cy="2160.7" r="3.2"/><circle cx="1599.8" cy="2164.2" r="3.2"/><circle cx="1659.8" cy="2122.6" r="3.2"/><circle cx="1585.2" cy="2173.7" r="3.2"/><circle cx="1735.1" cy="2063.2" r="3.2"/><circle cx="1679" cy="2096.9" r="3.2"/><circle cx="1681.8" cy="2094.5" r="3.2"/><circle cx="1586.7" cy="2172.4" r="3.2"/><circle cx="1637.8" cy="2137.4" r="3.2"/><circle cx="1590.3" cy="2162.6" r="3.2"/><circle cx="1626.3" cy="2141.2" r="3.2"/><circle cx="1600" cy="2158.3" r="3.2"/><circle cx="1741.1" cy="2068" r="3.2"/><circle cx="1619.2" cy="2155.6" r="3.2"/><circle cx="1724.7" cy="2064.5" r="3.2"/><circle cx="1660.4" cy="2123.6" r="3.2"/><circle cx="1608.8" cy="2158.2" r="3.2"/><circle cx="1605.4" cy="2157.6" r="3.2"/><circle cx="1591.9" cy="2162.7" r="3.2"/><circle cx="1598.9" cy="2155.3" r="3.2"/><circle cx="1600.5" cy="2156.4" r="3.2"/><circle cx="1600.9" cy="2146.6" r="3.2"/><circle cx="1674.9" cy="2098" r="3.2"/><circle cx="1692.9" cy="2083.4" r="3.2"/><circle cx="1664.8" cy="2115.3" r="3.2"/><circle cx="1688.7" cy="2100.8" r="3.2"/><circle cx="1674.5" cy="2113" r="3.2"/><circle cx="1637.6" cy="2116.9" r="3.2"/><circle cx="1670.7" cy="2087" r="3.2"/><circle cx="1574.9" cy="2179.6" r="3.2"/><circle cx="1601.2" cy="2162.5" r="3.2"/><circle cx="1635.6" cy="2135.5" r="3.2"/><circle cx="1579.1" cy="2171.1" r="3.2"/><circle cx="1579" cy="2174" r="3.2"/><circle cx="1595.1" cy="2168.9" r="3.2"/><circle cx="1605.5" cy="2149.1" r="3.2"/><circle cx="1695.3" cy="2105.7" r="3.2"/><circle cx="1668.7" cy="2107.2" r="3.2"/><circle cx="1625.4" cy="2146.2" r="3.2"/><circle cx="1578.1" cy="2179.3" r="3.2"/><circle cx="1645.1" cy="2129.2" r="3.2"/><circle cx="1702.2" cy="2090.5" r="3.2"/><circle cx="1635.6" cy="2137" r="3.2"/><circle cx="1729.6" cy="2068.6" r="3.2"/><circle cx="1629.3" cy="2136.5" r="3.2"/><circle cx="1571.5" cy="2179.2" r="3.2"/><circle cx="1658.3" cy="2119.3" r="3.2"/><circle cx="1619.5" cy="2145.8" r="3.2"/><circle cx="1593.7" cy="2161.6" r="3.2"/><circle cx="1655" cy="2127.9" r="3.2"/><circle cx="1637.1" cy="2141.6" r="3.2"/><circle cx="1638.3" cy="2120.4" r="3.2"/><circle cx="1600" cy="2164" r="3.2"/><circle cx="1655.6" cy="2120.7" r="3.2"/><circle cx="1626.6" cy="2151.5" r="3.2"/><circle cx="1682.7" cy="2101.3" r="3.2"/><circle cx="1648.8" cy="2132.2" r="3.2"/><circle cx="1587.7" cy="2148.4" r="3.2"/><circle cx="1600.3" cy="2165.9" r="3.2"/><circle cx="1668.9" cy="2103.6" r="3.2"/><circle cx="1598.2" cy="2163.3" r="3.2"/><circle cx="1702.4" cy="2088.9" r="3.2"/><circle cx="1605" cy="2160.6" r="3.2"/><circle cx="1569.8" cy="2185.1" r="3.2"/><circle cx="1600.3" cy="2153.1" r="3.2"/><circle cx="1686.9" cy="2075.7" r="3.2"/><circle cx="1619.5" cy="2150.2" r="3.2"/><circle cx="1572.9" cy="2178.5" r="3.2"/><circle cx="1649.4" cy="2126.3" r="3.2"/><circle cx="1658.4" cy="2122.4" r="3.2"/><circle cx="1717.9" cy="2096.2" r="3.2"/><circle cx="1576.7" cy="2174.2" r="3.2"/><circle cx="1631.5" cy="2135.5" r="3.2"/><circle cx="1652.1" cy="2122.1" r="3.2"/><circle cx="1623.1" cy="2139.1" r="3.2"/></g>
<line x1="1564.7" y1="2185.3" x2="1804.5" y2="2021.1" stroke="#000" stroke-width="3"/>
<line x1="1566" y1="2183.7" x2="1744.2" y2="2065.5" stroke="#f2c53d" stroke-width="3.6"/>
<line x1="1553.6" y1="1949.5" x2="1553.6" y2="2210.8" stroke="#000" stroke-width="3"/>
<line x1="1552.1" y1="2209.3" x2="1818.4" y2="2209.3" stroke="#000" stroke-width="3"/>
<line x1="1543.1" y1="1995" x2="1553.6" y2="1995" stroke="#000" stroke-width="2.4"/>
<text x="1540.1" y="2002.6" font-size="21" font-weight="bold" text-anchor="end">4</text>
<line x1="1543.1" y1="2059.5" x2="1553.6" y2="2059.5" stroke="#000" stroke-width="2.4"/>
<text x="1540.1" y="2067.1" font-size="21" font-weight="bold" text-anchor="end">2</text>
<line x1="1543.1" y1="2124" x2="1553.6" y2="2124" stroke="#000" stroke-width="2.4"/>
<text x="1540.1" y="2131.6" font-size="21" font-weight="bold" text-anchor="end">0</text>
<line x1="1543.1" y1="2188.5" x2="1553.6" y2="2188.5" stroke="#000" stroke-width="2.4"/>
<text x="1540.1" y="2196.1" font-size="21" font-weight="bold" text-anchor="end">&#8722;2</text>
<line x1="1600.1" y1="2209.3" x2="1600.1" y2="2218.8" stroke="#000" stroke-width="2.4"/>
<text x="1597.1" y="2242.3" font-size="21" font-weight="bold" text-anchor="middle">&#8722;2</text>
<line x1="1652.5" y1="2209.3" x2="1652.5" y2="2218.8" stroke="#000" stroke-width="2.4"/>
<text x="1652.5" y="2242.3" font-size="21" font-weight="bold" text-anchor="middle">0</text>
<line x1="1704.9" y1="2209.3" x2="1704.9" y2="2218.8" stroke="#000" stroke-width="2.4"/>
<text x="1704.9" y="2242.3" font-size="21" font-weight="bold" text-anchor="middle">2</text>
<line x1="1757.3" y1="2209.3" x2="1757.3" y2="2218.8" stroke="#000" stroke-width="2.4"/>
<text x="1757.3" y="2242.3" font-size="21" font-weight="bold" text-anchor="middle">4</text>
<line x1="1809.7" y1="2209.3" x2="1809.7" y2="2218.8" stroke="#000" stroke-width="2.4"/>
<text x="1809.7" y="2242.3" font-size="21" font-weight="bold" text-anchor="middle">6</text>
<text transform="translate(1496.1 2081.8) rotate(-90)" font-size="20" text-anchor="middle" textLength="101" lengthAdjust="spacingAndGlyphs">SD (Log2)</text>
<text x="1687.8" y="2279.8" font-size="20" text-anchor="middle" textLength="128.8" lengthAdjust="spacingAndGlyphs">Mean (Log2)</text>
<text x="1731" y="2148" font-size="20" fill="#2f9b3d" textLength="169.3" lengthAdjust="spacingAndGlyphs">R=0.98, p&lt;2.2e-16</text>
<text x="1731" y="2171.6" font-size="20" fill="#d2a33a" textLength="169.3" lengthAdjust="spacingAndGlyphs">R=0.98, p&lt;2.2e-16</text>
<text x="1682" y="2341.9" font-size="18.3" font-weight="bold" text-anchor="middle">IR</text>
<path transform="scale(.5)" d="M3136 5172h0m1 0h0m1 9h0m1-30h0m0 30h0m1-6h0m0-11h0m0 15h0m0-52h0m2 57h0m0-4h0m1-23h0m1 21h0m1-13h0m0-56h0m1 37h0m0 36h0m0-28h0m1 10h0m1 12h0m0-23h0m0 3h0m1 7h0m0 6h0m1 8h0m1-40h0m0 15h0m1-7h0m0 3h0m1 23h0m1-10h0m0-3h0m1-8h0m1 12h0m1-15h0m0 6h0m1 14h0m0-20h0m0 21h0m1-13h0m0-19h0m1-1h0m0 18h0m1 6h0m0 2h0m0-63h0m1 70h0m1 1h0m0-10h0m0 5h0m1-16h0m1 9h0m0 0h0m1-5h0m1-4h0m0 9h0m1 3h0m0-5h0m0-9h0m1-24h0m1 15h0m1 6h0m0-13h0m0 30h0m1-69h0m1 45h0m0 27h0m1-6h0m0-30h0m0 19h0m1-4h0m0 4h0m1-35h0m0-17h0m0 42h0m0 10h0m1 2h0m1 3h0m1-24h0m0 22h0m1-17h0m0 3h0m1 22h0m0-19h0m0-16h0m1 32h0m1-11h0m0-53h0m0 57h0m1-22h0m0 9h0m1 4h0m0 1h0m1-10h0m1-11h0m0 22h0m0-1h0m1 0h0m0-13h0m0-4h0m1-12h0m0 17h0m1 8h0m0-11h0m1 7h0m0 30h0m1-22h0m0-14h0m1-2h0m0 4h0m1-37h0m0-33h0m1 43h0m0 27h0m0 2h0m1-7h0m0-20h0m0 41h0m0-20h0m1 3h0m1 3h0m0-12h0m1 17h0m0-14h0m0 13h0m1 14h0m0-23h0m0 10h0m1-6h0m0-2h0m0-17h0m1 33h0m0-7h0m1-8h0m1-64h0m0 38h0m1 1h0m0 8h0m0 11h0m1-8h0m1 9h0m1-10h0m0-13h0m1 34h0m0-31h0m1 27h0m0-17h0m0-5h0m1 25h0m0-15h0m1 4h0m0-17h0m0 11h0m1 6h0m0-13h0m1 3h0m1 6h0m0-17h0m1-5h0m0 17h0m1 15h0m0-46h0m1 27h0m0 21h0m1-22h0m0-4h0m0-2h0m0 2h0m1-1h0m0 3h0m0-33h0m1 34h0m0-18h0m1 25h0m0-5h0m0-8h0m0-46h0m1 14h0m0 37h0m1 25h0m0-22h0m0 2h0m1 1h0m0-21h0m1-19h0m0 31h0m1 2h0m0-3h0m0 6h0m1-13h0m0 8h0m1 1h0m0 9h0m1-14h0m0 5h0m1-3h0m0 2h0m1-7h0m0-27h0m0 36h0m1-18h0m0-81h0m1-5h0m0 109h0m1-2h0m0-49h0m0 51h0m1 3h0m0-10h0m1 14h0m0-77h0m0 34h0m1 45h0m1-14h0m1-26h0m0 23h0m1-17h0m0 14h0m0 11h0m1-24h0m0 11h0m1 3h0m0-63h0m1 45h0m1 1h0m0 2h0m0 17h0m1-33h0m1 5h0m1 11h0m0-16h0m1 9h0m0 17h0m1-36h0m0 29h0m1-22h0m0 22h0m0 4h0m1-19h0m0 30h0m1-25h0m0-1h0m1 9h0m1 7h0m1 22h0m0-40h0m1-23h0m0 20h0m1 31h0m0-28h0m1-23h0m1 22h0m0 10h0m1-16h0m0 11h0m0-13h0m1 19h0m0 3h0m0-32h0m1-22h0m1 8h0m0 31h0m0 26h0m1-28h0m1 19h0m0-4h0m1 0h0m0-3h0m0-13h0m1-6h0m1-1h0m0 8h0m1 4h0m0-15h0m1 33h0m0-36h0m1-4h0m0 12h0m1-6h0m1-67h0m0 47h0m1 47h0m1-12h0m1 14h0m0-14h0m0-40h0m1 40h0m0-31h0m1 60h0m1-45h0m0 0h0m1 4h0m0-8h0m1 9h0m0 5h0m2-14h0m1-5h0m0 41h0m1-12h0m0-34h0m1 25h0m0 20h0m1-18h0m1-30h0m1 28h0m0-10h0m1-50h0m1 71h0m0-49h0m0 36h0m1-81h0m0 66h0m1 23h0m0-15h0m2 10h0m1-15h0m0 10h0m1-18h0m0 28h0m1-146h0m1 139h0m1 20h0m0-42h0m1-23h0m0 53h0m1-45h0m0 37h0m1-10h0m0-10h0m1 5h0m1 22h0m0-21h0m2-10h0m0-7h0m0 11h0m1 17h0m0-62h0m1 32h0m1 7h0m0 6h0m1-9h0m1 16h0m1-28h0m0 23h0m1-45h0m0 39h0m1 8h0m0-22h0m1-22h0m1 0h0m1 35h0m0-16h0m1 9h0m0 18h0m1-25h0m0-54h0m1 52h0m0-8h0m1 18h0m1-27h0m0 6h0m0 20h0m0-1h0m1-9h0m1-14h0m1 27h0m0 9h0m0 5h0m1-37h0m1 29h0m1-9h0m0 25h0m1-47h0m0-7h0m1 20h0m1 5h0m1-7h0m1-3h0m2 18h0m0-8h0m1-10h0m0-5h0m1-10h0m1 19h0m1 3h0m1-6h0m1 12h0m1-14h0m0-19h0m2-24h0m1 20h0m2 27h0m0-23h0m0-10h0m1 44h0m1-23h0m2-2h0m0 14h0m1-9h0m1-30h0m1-15h0m0 34h0m1 2h0m1-13h0m1 18h0m1-111h0m1 43h0m1 85h0m2-19h0m1 5h0m1-25h0m2 4h0m1 8h0m1-37h0m1 9h0m0 44h0m1-42h0m0 47h0m2-24h0m1-4h0m1 20h0m1-23h0m2 12h0m1-62h0m1 44h0m1-9h0m1 16h0m0-103h0m2 98h0m0-12h0m1-26h0m1 44h0m0-62h0m1 36h0m0 8h0m1-29h0m1-11h0m1 37h0m2 15h0m1-18h0m0 0h0m2-18h0m2 21h0m1-177h0m1 185h0m1 1h0m2-51h0m2 0h0m1 34h0m1-17h0m2 8h0m2 10h0m1-7h0m2 35h0m1-42h0m2 14h0m1-27h0m1 9h0m1 50h0m3-18h0m1-10h0m1 7h0m2-27h0m1 20h0m1-29h0m1 39h0m3-67h0m2 55h0m3-15h0m1 2h0m3-22h0m2 24h0m2-42h0m1 2h0m1 27h0m2 6h0m2 16h0m1-22h0m3-88h0m2 45h0m6-14h0m1 71h0m2-57h0m2 25h0m3-72h0m2 11h0m2-118h0m3 146h0m0 14h0m4-32h0m5 63h0m1-58h0m4 3h0m3 3h0m2-6h0m4-2h0m3 14h0m1 13h0m2-20h0m2-12h0m2 29h0m2-45h0m1-3h0m1 27h0m4 23h0m2-33h0m2 17h0m2-59h0m2 59h0m7-6h0m2-21h0m1 0h0m5 9h0m1-18h0m4 8h0m5-29h0m3 22h0m3 21h0m7-113h0m2-36h0m1 116h0m3-44h0m5 47h0m2 22h0m4-94h0" stroke="#e8399c" stroke-opacity=".6" stroke-width="9.4" stroke-linecap="round" fill="none"/>
<path transform="scale(.5)" d="M3136 5168h0m1 0h0m1-8h0m1 17h0m0 2h0m1-20h0m0 9h0m0 3h0m1 4h0m1 5h0m0-15h0m1 3h0m1-9h0m1 16h0m0-4h0m1 5h0m0-10h0m1 11h0m0-22h0m1 22h0m0-40h0m1 28h0m0-4h0m0-5h0m1 30h0m1-25h0m1 5h0m0-2h0m0-14h0m1 24h0m1 2h0m0-26h0m1 20h0m1-46h0m1 23h0m1 14h0m0-52h0m0 46h0m0-9h0m1 28h0m1-24h0m0 13h0m0-11h0m1 9h0m0-1h0m1-24h0m1 29h0m0-83h0m0 83h0m0 0h0m1-13h0m1-8h0m1 7h0m0-38h0m1 54h0m0-16h0m1 2h0m0-1h0m1-3h0m0-3h0m1-13h0m1 15h0m0 3h0m1-62h0m0 55h0m1-3h0m0 4h0m1-7h0m0-43h0m1 60h0m0-7h0m0-16h0m1 26h0m0-23h0m0 24h0m1-18h0m0-36h0m1 46h0m1 7h0m0-22h0m1 12h0m0 2h0m1-24h0m0 22h0m1-2h0m0-10h0m1 8h0m0-5h0m0-7h0m1 12h0m1-3h0m0-8h0m0 2h0m1-4h0m1 21h0m0-36h0m0 34h0m1-20h0m0 6h0m1 3h0m0-22h0m0 12h0m1 11h0m0-23h0m1 23h0m1-22h0m0 25h0m0-18h0m1-16h0m0 10h0m1 17h0m0-27h0m1 33h0m0 2h0m0-17h0m1-5h0m0 14h0m0 2h0m0-12h0m1-58h0m1 36h0m0 10h0m1 2h0m0 16h0m0 13h0m1-37h0m0 22h0m0-9h0m1 9h0m0 0h0m0-3h0m1-17h0m1 14h0m0 11h0m1-13h0m0 13h0m1-1h0m0 8h0m1-63h0m0 44h0m1 1h0m1-29h0m0 34h0m1-32h0m0 35h0m1-4h0m0 7h0m1-17h0m0-24h0m0-18h0m1 25h0m0 15h0m1-11h0m0 12h0m1-5h0m1 15h0m0-10h0m0 8h0m1-15h0m0-9h0m1 11h0m0 12h0m1-26h0m0-17h0m1 18h0m0 2h0m0-1h0m0 19h0m1-81h0m0 87h0m0-23h0m1-8h0m0-12h0m1 32h0m0-3h0m0 3h0m1-14h0m0-8h0m0 39h0m1 3h0m0-18h0m1-27h0m0 8h0m0-32h0m1 7h0m0 36h0m1-13h0m0-6h0m0 10h0m1 39h0m0-24h0m1-9h0m1-77h0m0 68h0m0 9h0m1-10h0m0-2h0m1 12h0m0-2h0m0 14h0m1-87h0m0 48h0m1 25h0m0 11h0m1-11h0m0-46h0m1 54h0m0-15h0m0 17h0m1 8h0m0-37h0m1 16h0m0-16h0m1 15h0m1-18h0m1 16h0m0 11h0m0-24h0m0-40h0m1 59h0m0-13h0m1-5h0m0 11h0m1 2h0m1-10h0m0 7h0m0-19h0m1 19h0m1-4h0m1-19h0m0 11h0m1-19h0m0-18h0m1 42h0m0 6h0m1 12h0m0-11h0m1 20h0m0-18h0m0 3h0m1 10h0m0-9h0m1-23h0m1 18h0m1-15h0m1 12h0m0-32h0m0 31h0m1-6h0m0 4h0m1-20h0m1-28h0m0 32h0m1 10h0m0-25h0m0 29h0m1-34h0m0 29h0m1 9h0m1-6h0m0-6h0m0-54h0m0 47h0m1-10h0m1-13h0m0 32h0m1 5h0m0-42h0m0 34h0m1 4h0m1-32h0m0 9h0m1-20h0m0 14h0m1-6h0m0 37h0m1-9h0m1-2h0m0-2h0m1-14h0m0 11h0m1 30h0m1-39h0m1 9h0m0 1h0m0 7h0m1-10h0m0 2h0m1-14h0m1 14h0m0-5h0m1 19h0m0-8h0m1-29h0m1-58h0m1 79h0m1 10h0m1-60h0m0 41h0m0 22h0m1-36h0m0-2h0m1 2h0m1 18h0m1-4h0m0 31h0m1-44h0m1-26h0m0 6h0m0 44h0m1 1h0m1 1h0m0-8h0m1-22h0m1 15h0m1 28h0m0-29h0m1 6h0m0-21h0m1 23h0m1-5h0m1-22h0m0 21h0m1-86h0m0 80h0m1-16h0m0 10h0m1 7h0m0-25h0m1 48h0m1-9h0m0-23h0m2-1h0m0 5h0m0 21h0m1-24h0m1-3h0m0-38h0m1 5h0m0 30h0m1 7h0m1 0h0m1 13h0m0-28h0m1 5h0m0 6h0m1-2h0m0 0h0m1-19h0m1 18h0m1 19h0m0-30h0m1-1h0m0 7h0m1 3h0m0-9h0m1-12h0m1 12h0m0 7h0m1-58h0m0 58h0m0-14h0m1 4h0m0-58h0m1 54h0m1 0h0m0 28h0m0-15h0m1-33h0m1 34h0m1-5h0m0-6h0m1 6h0m1 0h0m0-27h0m1 36h0m1-2h0m1-25h0m2 23h0m1-31h0m0 4h0m0 4h0m2-1h0m0 12h0m1-1h0m1-13h0m2-23h0m0 39h0m1-27h0m1 50h0m2-62h0m1 29h0m0-7h0m1-26h0m0 36h0m1 3h0m2-2h0m1-4h0m1-13h0m0 4h0m1-22h0m1 29h0m0-18h0m1-70h0m1 59h0m1 40h0m2-3h0m1-10h0m1-6h0m2-5h0m0-23h0m2 26h0m1-9h0m1 25h0m1-20h0m0 9h0m1-10h0m0 8h0m2 11h0m1-30h0m1 32h0m2-35h0m1 10h0m1-10h0m1 2h0m1 16h0m1-35h0m1-89h0m1 109h0m0-11h0m1-22h0m1 44h0m0-21h0m1-66h0m0 67h0m1 19h0m2-5h0m1-8h0m1 8h0m1-22h0m0 9h0m2-81h0m2 40h0m1 32h0m1 44h0m2-15h0m1-18h0m2-24h0m2-7h0m1 9h0m2 10h0m1-8h0m2-14h0m1 20h0m1 32h0m2-10h0m1-42h0m1 38h0m1-48h0m3-1h0m1 9h0m1 31h0m2-27h0m1 14h0m1-13h0m2-9h0m2 4h0m2 7h0m3 21h0m1-26h0m3-8h0m2-6h0m2 20h0m1-16h0m1-1h0m2-34h0m2 28h0m2-1h0m3-9h0m2-17h0m5-9h0m2-3h0m2 32h0m2-167h0m2 69h0m3 115h0m1-10h0m3-23h0m1 2h0m3-5h0m5-30h0m2 9h0m3 13h0m3 33h0m3-40h0m5-38h0m1 24h0m2 28h0m2 3h0m2-103h0m1 83h0m3-10h0m0-5h0m1-13h0m6 1h0m1-3h0m1-16h0m2 28h0m4-2h0m6 3h0m1 25h0m2-131h0m4 93h0m2-131h0m3 104h0m7-23h0m1 95h0m5-50h0m5 8h0m3-32h0m1-24h0m4 24h0m3 54h0m2-52h0m4-17h0" stroke="#e8399c" stroke-opacity=".6" stroke-width="9.4" stroke-linecap="round" fill="none"/>
<path transform="scale(.5)" d="M3136 5161h0m2 21h0m1-6h0m0-21h0m0 14h0m1-2h0m0 9h0m0-5h0m1-33h0m1 27h0m1-35h0m1 45h0m1-8h0m0 1h0m0-2h0m1 14h0m0-22h0m1 9h0m1-2h0m0 11h0m0-10h0m1-1h0m0 0h0m0-15h0m1 11h0m1-10h0m1 4h0m0 0h0m0-7h0m2 18h0m0-5h0m0-4h0m1-7h0m1-33h0m1 19h0m1 28h0m0-29h0m0 9h0m1-44h0m0 51h0m1 11h0m0-12h0m0 8h0m1-5h0m0-7h0m1 18h0m1-8h0m0-20h0m0 8h0m0 3h0m1 6h0m1-2h0m1 2h0m1-13h0m0 0h0m1 13h0m0-14h0m0-17h0m1 32h0m0-9h0m1-15h0m1 8h0m0-53h0m1 70h0m1 12h0m0-23h0m0-10h0m1 20h0m0-51h0m1 46h0m0 10h0m0-24h0m1 18h0m0-9h0m0-4h0m1-20h0m1 10h0m0-9h0m1 36h0m0-11h0m1-3h0m0 5h0m1-7h0m0 3h0m1-50h0m0 31h0m1-56h0m0 76h0m1 6h0m0-15h0m1-61h0m0 57h0m1-11h0m0 23h0m1-17h0m0-14h0m0 31h0m1 1h0m0-9h0m1 4h0m0-17h0m1 10h0m0-6h0m1 11h0m0-13h0m1 8h0m0-21h0m1-37h0m0 61h0m0-9h0m1 30h0m0-35h0m1 14h0m0-12h0m0-3h0m1 13h0m0-1h0m0 9h0m1-18h0m0 6h0m1-3h0m0-57h0m1 66h0m0-27h0m0 15h0m1-1h0m0-6h0m0-11h0m1 27h0m0-26h0m0-11h0m1 21h0m1 14h0m0-10h0m1-84h0m1 99h0m0-8h0m0-3h0m1-17h0m1 11h0m0-28h0m1 45h0m0-69h0m1 46h0m0-5h0m1-19h0m0 37h0m1-4h0m0-30h0m0 5h0m1 21h0m0-31h0m1 24h0m0-48h0m1 46h0m1 0h0m0 20h0m1-17h0m0-3h0m0-5h0m1 17h0m0-23h0m1 15h0m0-1h0m1-2h0m0-3h0m0-5h0m1 7h0m0-18h0m0 6h0m1 2h0m0-61h0m0 65h0m1-1h0m0-1h0m0 13h0m1 0h0m0-15h0m1 15h0m0-66h0m0 54h0m1-68h0m0 88h0m1-26h0m0 11h0m1 1h0m0-8h0m0-2h0m0-39h0m1 12h0m0 24h0m1 14h0m1-7h0m0-6h0m0 7h0m1 29h0m0-34h0m1 5h0m0-3h0m0 11h0m1-19h0m0-12h0m1-37h0m0 42h0m1 14h0m0 4h0m1 6h0m0 0h0m1-42h0m0 5h0m0 11h0m1-3h0m0 16h0m1 14h0m1-38h0m1 38h0m0-35h0m0 40h0m0-39h0m1-16h0m1 22h0m0 9h0m1 2h0m1-4h0m0-5h0m0-55h0m1 53h0m1-3h0m0 9h0m1 13h0m0-20h0m1 3h0m0 20h0m1-40h0m0 24h0m1 0h0m0-3h0m1 10h0m0 2h0m1-107h0m0 95h0m1-28h0m0 38h0m1-7h0m1 3h0m1 6h0m0-11h0m0 0h0m1 5h0m1 8h0m1-32h0m0 25h0m0-14h0m1-25h0m0 2h0m0 2h0m1 36h0m0-20h0m1 13h0m1 1h0m0-71h0m0 73h0m1-11h0m1-35h0m0 5h0m0 36h0m1-2h0m0-25h0m0 23h0m1-5h0m1-16h0m0 22h0m1-31h0m1 18h0m0-8h0m1 25h0m0-81h0m1 80h0m1-131h0m0 99h0m0 1h0m2 8h0m0 14h0m1-13h0m0 3h0m0 19h0m1-3h0m1-14h0m0-24h0m1 29h0m0-20h0m1-89h0m1 41h0m0 40h0m1 18h0m1 5h0m1 4h0m1-10h0m0-17h0m1 39h0m0-14h0m0-8h0m1-3h0m1 16h0m1-38h0m1 29h0m0-51h0m1 35h0m0 4h0m1 22h0m0-22h0m1 0h0m0 29h0m1-24h0m1 17h0m1-15h0m0-3h0m1 7h0m1-25h0m0 4h0m1 10h0m1 12h0m0-38h0m1 27h0m0-80h0m1 91h0m1-14h0m0 1h0m1-9h0m0-96h0m1 98h0m1-18h0m1-2h0m0 11h0m0-18h0m1 28h0m1 22h0m1-19h0m0-40h0m0 32h0m2-4h0m1-25h0m0 27h0m0-4h0m1 12h0m0 17h0m1-33h0m1 10h0m1 9h0m0-2h0m1-14h0m1 16h0m0-38h0m1 20h0m0 3h0m0-153h0m1 160h0m1 1h0m1-7h0m0-132h0m0 121h0m0 5h0m1 4h0m1-54h0m0 30h0m1 20h0m0-23h0m1 9h0m0-9h0m1 20h0m1-15h0m1 3h0m0-11h0m1 3h0m1 20h0m1 9h0m0 13h0m2-22h0m1-16h0m1 42h0m0-24h0m1-7h0m1-29h0m0 35h0m1-56h0m1 65h0m2-23h0m0-4h0m1 13h0m1-31h0m3-5h0m0 19h0m0 1h0m1-81h0m0 99h0m1-14h0m2 2h0m1-43h0m1 2h0m1 56h0m0-18h0m1 12h0m0-24h0m1 13h0m1-5h0m2 10h0m1-8h0m1 16h0m1-12h0m2 19h0m0-1h0m3-31h0m0 0h0m1-48h0m1 27h0m1 0h0m0-10h0m0 25h0m2 3h0m1 8h0m1 16h0m2-36h0m1-11h0m1 17h0m1 12h0m1-3h0m1-75h0m1 66h0m1 8h0m0-14h0m1 13h0m1-86h0m0 67h0m1 27h0m0-56h0m1 12h0m2 49h0m1-47h0m1-84h0m1 127h0m1-83h0m2 41h0m1-2h0m1-1h0m2-14h0m1 23h0m3-20h0m0-59h0m2-12h0m1 72h0m2 33h0m1-22h0m3-62h0m1 101h0m1-78h0m1-41h0m1 61h0m1 6h0m2-3h0m2-105h0m1 119h0m1-148h0m2 121h0m1 8h0m2 28h0m1-37h0m3 16h0m2 8h0m2 2h0m1-21h0m4-62h0m1 95h0m2-32h0m2-8h0m0 18h0m3 13h0m1-25h0m2-22h0m4 25h0m4-32h0m2-126h0m2-25h0m2 183h0m3-12h0m2-15h0m2 34h0m2-115h0m2 61h0m2 28h0m5-15h0m3-68h0m1 84h0m3-42h0m3 29h0m4-20h0m4 17h0m1-49h0m2 65h0m2-73h0m3 40h0m0-24h0m3 32h0m1-30h0m1 17h0m5-40h0m1 62h0m2-59h0m2 4h0m4 11h0m5 23h0m1-15h0m4 5h0m3-50h0m1 31h0m3 31h0m7-33h0m3 4h0m6-3h0m2-23h0m3-107h0m2 121h0m4 0h0m3 17h0m5-18h0m1-25h0" stroke="#e8399c" stroke-opacity=".6" stroke-width="9.4" stroke-linecap="round" fill="none"/>
<path transform="scale(.5)" d="M3137 5176h0m1 6h0m1-11h0m0 1h0m0 7h0m1-86h0m0 85h0m0-33h0m1 32h0m1-4h0m1-4h0m1 1h0m1-12h0m0-15h0m0 19h0m1-44h0m0 60h0m1-18h0m1-7h0m0 30h0m0-19h0m1-57h0m0 62h0m0-5h0m2-3h0m0-2h0m1-3h0m0 4h0m1-2h0m1-52h0m0 46h0m1-13h0m0 21h0m1-8h0m1-16h0m1 32h0m0-10h0m0-15h0m1 14h0m0-1h0m1-9h0m0-1h0m0 7h0m1-7h0m0 11h0m1 8h0m1 1h0m0-9h0m0-18h0m0-37h0m2 45h0m0 3h0m1 5h0m1-40h0m0 31h0m1 13h0m0-16h0m0 24h0m1-15h0m1-21h0m0 15h0m1-4h0m0 24h0m1-18h0m1 4h0m0 4h0m0-13h0m1-3h0m0-10h0m1 25h0m0-17h0m0 21h0m1-33h0m0 5h0m0 17h0m1-16h0m1 12h0m1-13h0m0 9h0m0-50h0m1 50h0m1 17h0m0-22h0m0-18h0m1 19h0m1-5h0m0 19h0m0-22h0m1 10h0m0-17h0m1 16h0m0-16h0m1 21h0m0-12h0m1 0h0m0 15h0m1-25h0m0-27h0m0 33h0m1 9h0m0 11h0m1-10h0m0-6h0m1-9h0m0-1h0m1-41h0m0 54h0m1-49h0m0 41h0m1-7h0m0 11h0m1-66h0m0 50h0m0 5h0m0 15h0m1-10h0m0-3h0m0 16h0m1-6h0m1-20h0m0 24h0m0 16h0m1 4h0m0-28h0m1-14h0m0 3h0m0 34h0m0-25h0m1-1h0m0-23h0m0 2h0m1 41h0m1-36h0m1 9h0m0 4h0m1 12h0m0-4h0m0-15h0m1-1h0m1-72h0m1 94h0m0-20h0m1-24h0m0-13h0m0 14h0m1 19h0m0-25h0m1 38h0m0-41h0m0 24h0m1 16h0m0-2h0m1-4h0m0-1h0m1 7h0m1 7h0m0-42h0m1 15h0m0 0h0m1 25h0m0-4h0m0-11h0m1-3h0m0 3h0m1 4h0m0-4h0m0 7h0m1-11h0m0 13h0m0-19h0m1 15h0m0-1h0m1-19h0m0-4h0m0-3h0m0 25h0m1-41h0m0 20h0m1 25h0m0-25h0m0 25h0m1 1h0m0-22h0m1 9h0m0-30h0m1-9h0m0 50h0m0-4h0m1-7h0m0-82h0m1 62h0m0-3h0m1 4h0m0 9h0m1 1h0m0 13h0m1-14h0m0-6h0m0 7h0m1 0h0m0 31h0m0-41h0m1 18h0m0 0h0m1-11h0m0-1h0m1-2h0m0 11h0m1-20h0m0-2h0m0 29h0m1-35h0m0 26h0m1-61h0m1 57h0m1 6h0m0-19h0m0 1h0m0 2h0m1 18h0m1-3h0m0-20h0m1-19h0m1-21h0m0 59h0m0-52h0m1 43h0m1 0h0m0 2h0m1-20h0m1 1h0m0 9h0m0-8h0m1 0h0m0-1h0m1 5h0m0 14h0m1 10h0m0-34h0m1 3h0m0 11h0m1-5h0m1 9h0m1-5h0m0 17h0m1-8h0m0 4h0m1-7h0m0-59h0m1 38h0m1-68h0m0 79h0m0 6h0m1-20h0m0 23h0m0-8h0m1-12h0m0 28h0m1-1h0m1-35h0m0 33h0m0 10h0m1-49h0m1 16h0m0 10h0m1-1h0m0 9h0m0-19h0m1-6h0m1 27h0m0-27h0m0 13h0m1-3h0m1-4h0m0 9h0m1-13h0m0 11h0m1-19h0m1 18h0m0-2h0m1-46h0m1 27h0m0 20h0m1-5h0m0-17h0m1-77h0m0 33h0m1 59h0m0 8h0m1 5h0m0-41h0m1 20h0m1-20h0m0 23h0m1-10h0m1-8h0m1-53h0m1 93h0m0-27h0m1 0h0m0 14h0m1-26h0m1 14h0m0 0h0m1-10h0m1 19h0m0-16h0m1-14h0m0-67h0m1 69h0m0 17h0m1 11h0m0-5h0m1-19h0m1-62h0m1 81h0m0-18h0m1 7h0m1-28h0m0 25h0m2 16h0m0-11h0m1-61h0m0 64h0m0-15h0m1 12h0m1-7h0m0 8h0m1-44h0m1 49h0m0-28h0m1-16h0m1 28h0m0-26h0m0 1h0m1 4h0m1 17h0m1-3h0m0-6h0m1-42h0m1 40h0m1 5h0m0-84h0m1 78h0m0 11h0m0-7h0m1 12h0m1 0h0m1 2h0m0-21h0m1-60h0m1 45h0m0-9h0m1 19h0m0 2h0m0 19h0m1 22h0m1-37h0m1 17h0m0-5h0m0 11h0m0-6h0m1-6h0m1-30h0m0-19h0m1 48h0m0-18h0m1-7h0m0 15h0m1-1h0m1 24h0m1-41h0m0 13h0m1 4h0m1 3h0m1-10h0m0 3h0m2-16h0m1-54h0m1 94h0m0-23h0m1-32h0m1 0h0m1-152h0m1 168h0m0-1h0m2 32h0m0-15h0m2-10h0m0 18h0m3-32h0m0 30h0m0-12h0m1-30h0m1 35h0m1-13h0m1-2h0m1-43h0m1 70h0m1-39h0m0 6h0m1-1h0m0-1h0m1 22h0m2-6h0m1 1h0m1-23h0m2 35h0m1-26h0m1 4h0m1 4h0m2-21h0m1 15h0m1-9h0m0 25h0m1-12h0m0-19h0m2-7h0m0 6h0m2 18h0m0-27h0m3 10h0m0-1h0m1-1h0m1 39h0m1-15h0m1-12h0m2-21h0m0 17h0m0 9h0m1-50h0m1 0h0m0 22h0m1-12h0m1 37h0m1-28h0m1 26h0m1-23h0m2-2h0m0-12h0m1 25h0m2 8h0m2-29h0m1 13h0m1-16h0m1 12h0m3-17h0m1 0h0m1 18h0m1-9h0m2-3h0m2 22h0m2-20h0m1-60h0m1 23h0m2 75h0m1-21h0m0-5h0m4-14h0m0 36h0m2-38h0m1-16h0m1 2h0m2 51h0m1-65h0m1 8h0m3-18h0m3 15h0m2-3h0m0-10h0m4 25h0m1-35h0m3 37h0m1-20h0m1-10h0m2 12h0m2 34h0m2-17h0m3-15h0m5-15h0m2-1h0m1 34h0m3-20h0m2 16h0m3-165h0m1 123h0m2 14h0m2-21h0m3-1h0m5 16h0m2-48h0m1 27h0m3-4h0m4-65h0m4 35h0m3 35h0m1 1h0m3 20h0m2-184h0m2 101h0m2 70h0m1 18h0m1-105h0m3-7h0m3 41h0m1-11h0m2 77h0m2-35h0m5-8h0m5 8h0m1 15h0m4-65h0m2-29h0m2 68h0m6-83h0m4 54h0m3 1h0m5-4h0m3-18h0m2-43h0m3 83h0m4 10h0m3-44h0m4 20h0m2-15h0" stroke="#e8399c" stroke-opacity=".6" stroke-width="9.4" stroke-linecap="round" fill="none"/>
<g fill="#d9a43a" stroke="#2b2000" stroke-width=".8"><circle cx="1707" cy="2492.1" r="3.2"/><circle cx="1629.4" cy="2544.1" r="3.2"/><circle cx="1679.7" cy="2513.3" r="3.2"/><circle cx="1692.7" cy="2496.9" r="3.2"/><circle cx="1600.6" cy="2574.8" r="3.2"/><circle cx="1595" cy="2568.2" r="3.2"/><circle cx="1633" cy="2538.3" r="3.2"/><circle cx="1635.3" cy="2542.4" r="3.2"/><circle cx="1602.4" cy="2568.9" r="3.2"/><circle cx="1675.4" cy="2519.9" r="3.2"/><circle cx="1649" cy="2531.2" r="3.2"/><circle cx="1691.2" cy="2507.5" r="3.2"/><circle cx="1670.6" cy="2515.6" r="3.2"/><circle cx="1646" cy="2526.5" r="3.2"/><circle cx="1578.9" cy="2576.8" r="3.2"/><circle cx="1703.8" cy="2495.2" r="3.2"/><circle cx="1699.8" cy="2501.5" r="3.2"/><circle cx="1588.8" cy="2572.4" r="3.2"/><circle cx="1684.5" cy="2503.3" r="3.2"/><circle cx="1655.8" cy="2534.6" r="3.2"/><circle cx="1592.6" cy="2569.8" r="3.2"/><circle cx="1605.5" cy="2566.9" r="3.2"/><circle cx="1605.8" cy="2561.7" r="3.2"/><circle cx="1687" cy="2505.3" r="3.2"/><circle cx="1649.2" cy="2535.4" r="3.2"/><circle cx="1694.7" cy="2499.6" r="3.2"/><circle cx="1599" cy="2563.1" r="3.2"/><circle cx="1694" cy="2502.5" r="3.2"/><circle cx="1653.3" cy="2525.1" r="3.2"/><circle cx="1631.9" cy="2547.7" r="3.2"/><circle cx="1738.5" cy="2473.4" r="3.2"/><circle cx="1578.8" cy="2584.2" r="3.2"/><circle cx="1612" cy="2552.4" r="3.2"/><circle cx="1573.1" cy="2582.2" r="3.2"/><circle cx="1732.3" cy="2467.6" r="3.2"/><circle cx="1687.5" cy="2508.9" r="3.2"/><circle cx="1654.7" cy="2537.3" r="3.2"/><circle cx="1597.1" cy="2573.4" r="3.2"/><circle cx="1593" cy="2564.1" r="3.2"/><circle cx="1592.6" cy="2571.8" r="3.2"/><circle cx="1690.1" cy="2499" r="3.2"/><circle cx="1641.1" cy="2541.5" r="3.2"/><circle cx="1708.2" cy="2493.1" r="3.2"/><circle cx="1722.7" cy="2481.4" r="3.2"/><circle cx="1593.2" cy="2573.3" r="3.2"/><circle cx="1627.9" cy="2551.8" r="3.2"/><circle cx="1687.6" cy="2492.5" r="3.2"/><circle cx="1634.4" cy="2545.7" r="3.2"/><circle cx="1633.1" cy="2541.2" r="3.2"/><circle cx="1613.1" cy="2560" r="3.2"/><circle cx="1647.3" cy="2534.4" r="3.2"/><circle cx="1721.6" cy="2482.4" r="3.2"/><circle cx="1578.7" cy="2576.3" r="3.2"/><circle cx="1589.4" cy="2578.6" r="3.2"/><circle cx="1666.5" cy="2525.2" r="3.2"/><circle cx="1673.7" cy="2504.8" r="3.2"/><circle cx="1574.6" cy="2588.2" r="3.2"/><circle cx="1571" cy="2596.2" r="3.2"/><circle cx="1660.5" cy="2527.8" r="3.2"/><circle cx="1611.7" cy="2562.8" r="3.2"/><circle cx="1672.1" cy="2516.9" r="3.2"/><circle cx="1633.9" cy="2537.3" r="3.2"/><circle cx="1601.2" cy="2567.4" r="3.2"/><circle cx="1574.8" cy="2582.5" r="3.2"/><circle cx="1592.9" cy="2552.6" r="3.2"/><circle cx="1685.7" cy="2500" r="3.2"/><circle cx="1593.7" cy="2572.3" r="3.2"/><circle cx="1632.5" cy="2531.9" r="3.2"/><circle cx="1619.8" cy="2554.1" r="3.2"/><circle cx="1581.7" cy="2581.6" r="3.2"/><circle cx="1634" cy="2545.9" r="3.2"/><circle cx="1627.3" cy="2547.2" r="3.2"/><circle cx="1630.1" cy="2549.4" r="3.2"/><circle cx="1636" cy="2543.3" r="3.2"/><circle cx="1621.1" cy="2548.3" r="3.2"/><circle cx="1685.8" cy="2510.6" r="3.2"/><circle cx="1714.3" cy="2484.6" r="3.2"/><circle cx="1605.8" cy="2565.7" r="3.2"/><circle cx="1653.6" cy="2532.4" r="3.2"/><circle cx="1616.7" cy="2553.8" r="3.2"/><circle cx="1604.9" cy="2559.3" r="3.2"/><circle cx="1598.9" cy="2570.6" r="3.2"/><circle cx="1708.3" cy="2483.7" r="3.2"/><circle cx="1595.8" cy="2571.7" r="3.2"/><circle cx="1633.1" cy="2543.3" r="3.2"/><circle cx="1675.6" cy="2510.7" r="3.2"/><circle cx="1586.4" cy="2565.7" r="3.2"/><circle cx="1589.4" cy="2578.1" r="3.2"/><circle cx="1609.9" cy="2568.5" r="3.2"/><circle cx="1686.5" cy="2498.6" r="3.2"/><circle cx="1612.3" cy="2555.5" r="3.2"/><circle cx="1664.8" cy="2518.6" r="3.2"/><circle cx="1681.1" cy="2506.8" r="3.2"/><circle cx="1638.5" cy="2539.8" r="3.2"/><circle cx="1662.6" cy="2529.2" r="3.2"/><circle cx="1605.9" cy="2561.8" r="3.2"/><circle cx="1613.4" cy="2556.3" r="3.2"/><circle cx="1599.3" cy="2569" r="3.2"/><circle cx="1626.9" cy="2544.9" r="3.2"/><circle cx="1590.5" cy="2564.4" r="3.2"/><circle cx="1655.2" cy="2530.5" r="3.2"/><circle cx="1654.2" cy="2525.4" r="3.2"/><circle cx="1599" cy="2572.9" r="3.2"/><circle cx="1668.2" cy="2523.6" r="3.2"/><circle cx="1626" cy="2551.4" r="3.2"/><circle cx="1692.8" cy="2502.2" r="3.2"/><circle cx="1618.5" cy="2554.3" r="3.2"/><circle cx="1618.6" cy="2560.6" r="3.2"/><circle cx="1605.7" cy="2560.9" r="3.2"/><circle cx="1660.6" cy="2525.5" r="3.2"/><circle cx="1666.6" cy="2501.9" r="3.2"/><circle cx="1570.7" cy="2588.7" r="3.2"/><circle cx="1681.7" cy="2502.7" r="3.2"/><circle cx="1599.2" cy="2573.5" r="3.2"/><circle cx="1691" cy="2496.4" r="3.2"/><circle cx="1605.7" cy="2562.9" r="3.2"/><circle cx="1678.8" cy="2520.3" r="3.2"/><circle cx="1646.6" cy="2540.5" r="3.2"/><circle cx="1671.5" cy="2517.9" r="3.2"/><circle cx="1620.5" cy="2549.2" r="3.2"/><circle cx="1576.7" cy="2582.4" r="3.2"/><circle cx="1657.2" cy="2534.2" r="3.2"/><circle cx="1675.2" cy="2520.6" r="3.2"/><circle cx="1657" cy="2524.1" r="3.2"/><circle cx="1718.4" cy="2481.8" r="3.2"/><circle cx="1613.8" cy="2552.8" r="3.2"/><circle cx="1647" cy="2545.1" r="3.2"/><circle cx="1688.2" cy="2510.6" r="3.2"/><circle cx="1612.3" cy="2557" r="3.2"/><circle cx="1624.9" cy="2551.6" r="3.2"/><circle cx="1570.7" cy="2591.2" r="3.2"/><circle cx="1582.8" cy="2569.9" r="3.2"/><circle cx="1717.3" cy="2486.8" r="3.2"/><circle cx="1631.6" cy="2544.1" r="3.2"/><circle cx="1614.2" cy="2556.6" r="3.2"/><circle cx="1584.2" cy="2575.2" r="3.2"/><circle cx="1698.9" cy="2493.3" r="3.2"/><circle cx="1611.1" cy="2554.8" r="3.2"/><circle cx="1633.3" cy="2538.1" r="3.2"/><circle cx="1603.9" cy="2566.2" r="3.2"/><circle cx="1650" cy="2532.1" r="3.2"/><circle cx="1575.7" cy="2578.7" r="3.2"/><circle cx="1647.7" cy="2542.8" r="3.2"/><circle cx="1714.2" cy="2482.4" r="3.2"/><circle cx="1584" cy="2578.3" r="3.2"/><circle cx="1625.3" cy="2547" r="3.2"/><circle cx="1590.4" cy="2569.3" r="3.2"/><circle cx="1679.4" cy="2515.3" r="3.2"/><circle cx="1707.6" cy="2480.9" r="3.2"/><circle cx="1714" cy="2485.1" r="3.2"/><circle cx="1606.3" cy="2557.8" r="3.2"/><circle cx="1741.1" cy="2459.2" r="3.2"/><circle cx="1659.5" cy="2526" r="3.2"/><circle cx="1571.4" cy="2581.3" r="3.2"/><circle cx="1651" cy="2538" r="3.2"/><circle cx="1572.5" cy="2581" r="3.2"/><circle cx="1682.7" cy="2482.7" r="3.2"/><circle cx="1675.1" cy="2509.5" r="3.2"/><circle cx="1663.4" cy="2526.7" r="3.2"/><circle cx="1572.5" cy="2585.9" r="3.2"/><circle cx="1642.3" cy="2537.5" r="3.2"/><circle cx="1592" cy="2573.7" r="3.2"/><circle cx="1680.4" cy="2506.7" r="3.2"/><circle cx="1663.6" cy="2524.6" r="3.2"/><circle cx="1631.5" cy="2553.1" r="3.2"/><circle cx="1693.6" cy="2504.9" r="3.2"/><circle cx="1630.5" cy="2554.5" r="3.2"/><circle cx="1637" cy="2536.1" r="3.2"/><circle cx="1576.9" cy="2581.9" r="3.2"/><circle cx="1664.1" cy="2523.8" r="3.2"/><circle cx="1698.6" cy="2491.7" r="3.2"/><circle cx="1634.2" cy="2546.9" r="3.2"/><circle cx="1694.8" cy="2502.7" r="3.2"/><circle cx="1680.8" cy="2511.7" r="3.2"/><circle cx="1578.9" cy="2587.1" r="3.2"/><circle cx="1589.7" cy="2570.5" r="3.2"/><circle cx="1667.5" cy="2509.1" r="3.2"/><circle cx="1630.4" cy="2543.1" r="3.2"/><circle cx="1584.8" cy="2577.6" r="3.2"/><circle cx="1571.3" cy="2587.4" r="3.2"/><circle cx="1595.2" cy="2573.8" r="3.2"/><circle cx="1574.4" cy="2586.2" r="3.2"/><circle cx="1714.2" cy="2487.8" r="3.2"/><circle cx="1635.5" cy="2523.3" r="3.2"/><circle cx="1681" cy="2506" r="3.2"/><circle cx="1604.1" cy="2564.6" r="3.2"/><circle cx="1637.5" cy="2544.2" r="3.2"/><circle cx="1700.6" cy="2484.9" r="3.2"/><circle cx="1707.7" cy="2481.4" r="3.2"/><circle cx="1636.6" cy="2536.9" r="3.2"/><circle cx="1596.4" cy="2571.4" r="3.2"/><circle cx="1670.5" cy="2517" r="3.2"/><circle cx="1592.7" cy="2574.8" r="3.2"/><circle cx="1580.4" cy="2577.5" r="3.2"/><circle cx="1633.1" cy="2526.1" r="3.2"/><circle cx="1644.1" cy="2539.6" r="3.2"/><circle cx="1743.4" cy="2462.5" r="3.2"/><circle cx="1587.4" cy="2573.1" r="3.2"/><circle cx="1632" cy="2545.2" r="3.2"/><circle cx="1639.1" cy="2539.7" r="3.2"/></g>
<line x1="1567.9" y1="2592.6" x2="1792.8" y2="2426.9" stroke="#000" stroke-width="3"/>
<line x1="1569.2" y1="2591.5" x2="1746" y2="2464.9" stroke="#f2c53d" stroke-width="3.6"/>
<line x1="1550.5" y1="2351.5" x2="1550.5" y2="2611.5" stroke="#000" stroke-width="3"/>
<line x1="1549" y1="2610" x2="1819.5" y2="2610" stroke="#000" stroke-width="3"/>
<line x1="1540" y1="2395.8" x2="1550.5" y2="2395.8" stroke="#000" stroke-width="2.4"/>
<text x="1537" y="2403.4" font-size="21" font-weight="bold" text-anchor="end">4</text>
<line x1="1540" y1="2460" x2="1550.5" y2="2460" stroke="#000" stroke-width="2.4"/>
<text x="1537" y="2467.6" font-size="21" font-weight="bold" text-anchor="end">2</text>
<line x1="1540" y1="2524.2" x2="1550.5" y2="2524.2" stroke="#000" stroke-width="2.4"/>
<text x="1537" y="2531.8" font-size="21" font-weight="bold" text-anchor="end">0</text>
<line x1="1540" y1="2588.4" x2="1550.5" y2="2588.4" stroke="#000" stroke-width="2.4"/>
<text x="1537" y="2596" font-size="21" font-weight="bold" text-anchor="end">&#8722;2</text>
<line x1="1603" y1="2610" x2="1603" y2="2619.5" stroke="#000" stroke-width="2.4"/>
<text x="1600" y="2643" font-size="21" font-weight="bold" text-anchor="middle">&#8722;2</text>
<line x1="1655" y1="2610" x2="1655" y2="2619.5" stroke="#000" stroke-width="2.4"/>
<text x="1655" y="2643" font-size="21" font-weight="bold" text-anchor="middle">0</text>
<line x1="1707" y1="2610" x2="1707" y2="2619.5" stroke="#000" stroke-width="2.4"/>
<text x="1707" y="2643" font-size="21" font-weight="bold" text-anchor="middle">2</text>
<line x1="1759" y1="2610" x2="1759" y2="2619.5" stroke="#000" stroke-width="2.4"/>
<text x="1759" y="2643" font-size="21" font-weight="bold" text-anchor="middle">4</text>
<line x1="1811" y1="2610" x2="1811" y2="2619.5" stroke="#000" stroke-width="2.4"/>
<text x="1811" y="2643" font-size="21" font-weight="bold" text-anchor="middle">6</text>
<text transform="translate(1493 2482) rotate(-90)" font-size="20" text-anchor="middle" textLength="101" lengthAdjust="spacingAndGlyphs">SD (Log2)</text>
<text x="1687.8" y="2680.5" font-size="20" text-anchor="middle" textLength="128.8" lengthAdjust="spacingAndGlyphs">Mean (Log2)</text>
<text x="1731" y="2557.8" font-size="20" fill="#e13c9c" textLength="169.3" lengthAdjust="spacingAndGlyphs">R=0.97, p&lt;2.2e-16</text>
<text x="1731" y="2580.6" font-size="20" fill="#d2a33a" textLength="169.3" lengthAdjust="spacingAndGlyphs">R=0.96, p&lt;2.2e-16</text>
</svg>
</body></html>
